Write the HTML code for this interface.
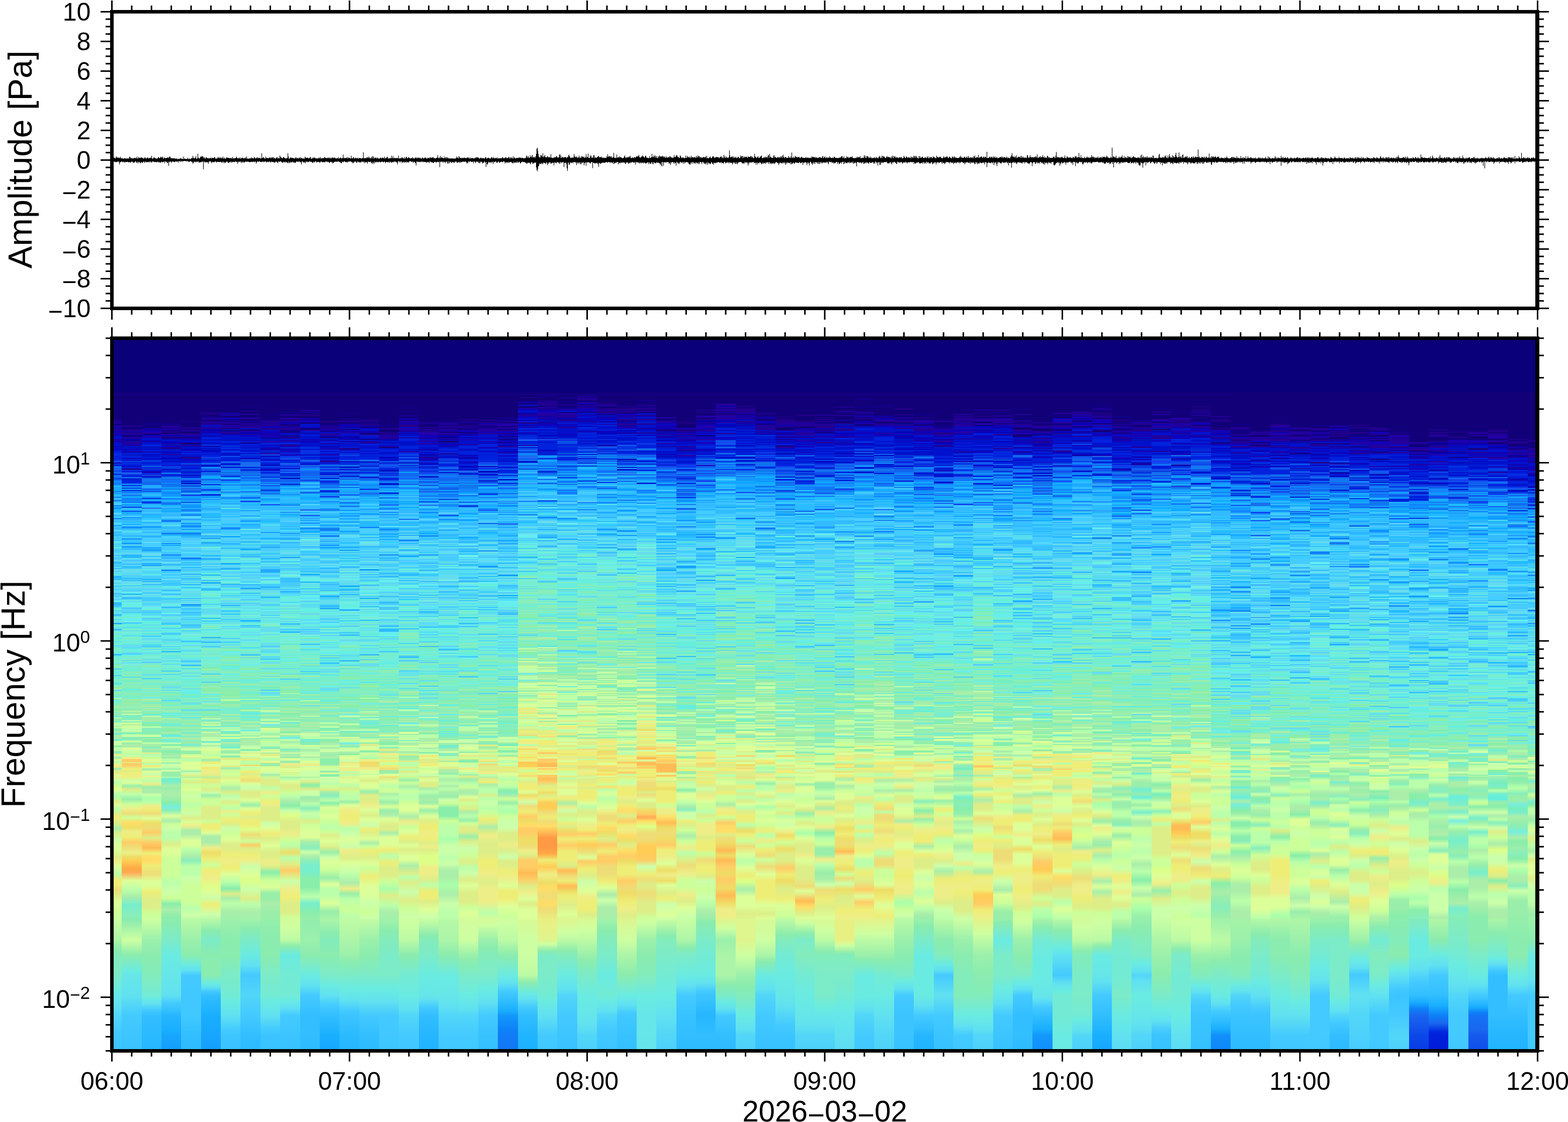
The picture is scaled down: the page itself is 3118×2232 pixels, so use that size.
<!DOCTYPE html>
<html><head><meta charset="utf-8"><style>
html,body{margin:0;padding:0;background:#fff;width:3118px;height:2232px;overflow:hidden}
#sp{position:absolute;left:0;top:676px;width:3118px;height:1411px}
#sp div{position:absolute;top:0;height:100%}
svg{position:absolute;left:0;top:0}
</style></head><body>
<div id="sp"><div style="left:222.5px;width:19.7px;background:linear-gradient(#0a0079 104px,#107 0 158px,#108 0 159px,#107 0 160px,#209 0 163px,#107 0 164px,#209 0 167px,#108 0 171px,#209 0 173px,#10a 0 175px,#10b 0 177px,#208 0 180px,#10b 0 183px,#209 0 185px,#10b 0 187px,#10a 0 191px,#01c 0 197px,#10b 0 198px,#209 0 201px,#10b 0 204px,#01c 0 212px,#10b 0 214px,#01c 0 216px,#10b 0 218px,#01c 0 222px,#02d 0 228px,#14e 0 229px,#02d 0 240px,#14e 0 244px,#20a 0 246px,#03d 0 249px,#01c 0 251px,#16e 0 253px,#17e 0 255px,#15e 0 257px,#16e 0 259px,#15e 0 261px,#02d 0 262px,#17e 0 264px,#15e 0 267px,#02d 0 269px,#17e 0 272px,#16e 0 275px,#03d 0 277px,#18f 0 278px,#02d 0 279px,#18f 0 285px,#17e 0 286px,#17f 0 288px,#19f 0 290px,#2bf 0 293px,#1af 0 295px,#2af 0 297px,#1af 0 301px,#17e 0 303px,#2af 0 305px,#19f 0 307px,#2bf 0 310px,#3bf 0 312px,#17f 0 314px,#2bf 0 316px,#3bf 0 319px,#16e 0 321px,#3bf 0 324px,#4cf 0 329px,#17e 0 331px,#2bf 0 333px,#18f 0 334px,#19f 0 337px,#2bf 0 339px,#3bf 0 340px,#2bf 0 344px,#5df 0 346px,#4cf 0 348px,#3bf 0 351px,#3cf 0 354px,#3bf 0 355px,#17e 0 357px,#4cf 0 359px,#3bf 0 362px,#4cf 0 365px,#5df 0 368px,#1af 0 370px,#3bf 0 372px,#4cf 0 373px,#3bf 0 378px,#6de 0 380px,#4cf 0 382px,#3bf 0 385px,#4cf 0 387px,#2bf 0 389px,#3bf 0 390px,#4cf 0 399px,#3bf 0 400px,#5df 0 402px,#6ee 0 403px,#5de 0 406px,#4cf 0 408px,#5de 0 410px,#4cf 0 412px,#6ed 0 414px,#5de 0 416px,#4cf 0 419px,#5cf 0 421px,#4cf 0 423px,#5de 0 426px,#6de 0 428px,#3bf 0 430px,#6de 0 432px,#4cf 0 435px,#5cf 0 438px,#6de 0 441px,#3bf 0 445px,#3cf 0 447px,#5cf 0 449px,#3bf 0 451px,#5df 0 454px,#3bf 0 456px,#6de 0 460px,#3bf 0 461px,#6de 0 465px,#4cf 0 466px,#6ed 0 468px,#6ee 0 469px,#3bf 0 471px,#2bf 0 474px,#3bf 0 478px,#6de 0 480px,#6ed 0 481px,#6de 0 483px,#5de 0 484px,#4cf 0 485px,#6de 0 488px,#5de 0 490px,#3bf 0 491px,#5de 0 493px,#6de 0 495px,#4cf 0 497px,#5df 0 499px,#6de 0 504px,#3bf 0 506px,#6de 0 507px,#5cf 0 510px,#4cf 0 511px,#5de 0 512px,#6de 0 515px,#5de 0 516px,#5cf 0 518px,#6ee 0 520px,#6ed 0 522px,#2bf 0 523px,#3bf 0 529px,#4cf 0 532px,#5de 0 533px,#6ed 0 539px,#2af 0 540px,#7ed 0 542px,#5de 0 544px,#6de 0 546px,#3bf 0 549px,#5de 0 550px,#6de 0 551px,#6ed 0 553px,#7ec 0 555px,#5de 0 558px,#7ed 0 560px,#6de 0 562px,#7ed 0 563px,#2af 0 566px,#7ec 0 569px,#6ed 0 572px,#6de 0 574px,#6ed 0 575px,#3bf 0 577px,#5cf 0 579px,#6ee 0 580px,#7ec 0 583px,#7ed 0 585px,#6de 0 586px,#6ed 0 588px,#8eb 0 590px,#6ed 0 597px,#7ec 0 599px,#6de 0 601px,#6ed 0 604px,#7ec 0 606px,#7ed 0 607px,#6de 0 610px,#6ed 0 611px,#6de 0 612px,#7ec 0 622px,#6ee 0 624px,#6ed 0 625px,#3bf 0 628px,#6ed 0 632px,#7ed 0 634px,#6ed 0 635px,#7ec 0 638px,#8eb 0 640px,#7ed 0 644px,#6de 0 645px,#8ea 0 646px,#7ec 0 648px,#9ea 0 650px,#8eb 0 653px,#7ed 0 654px,#4cf 0 656px,#8eb 0 658px,#6ed 0 665px,#7ec 0 667px,#4cf 0 669px,#7ec 0 672px,#6ed 0 675px,#8eb 0 677px,#7ec 0 680px,#8eb 0 681px,#6ed 0 683px,#5de 0 685px,#7ec 0 688px,#9ea 0 690px,#8ea 0 692px,#9ea 0 694px,#aea 0 696px,#6de 0 699px,#7ed 0 700px,#8ea 0 701px,#9ea 0 703px,#8eb 0 705px,#7ec 0 708px,#8eb 0 710px,#6ed 0 712px,#bfa 0 714px,#9ea 0 716px,#6ee 0 718px,#7ec 0 721px,#8eb 0 724px,#7ec 0 726px,#9ea 0 734px,#8ea 0 739px,#aea 0 741px,#6ed 0 742px,#9ea 0 745px,#8eb 0 749px,#6ed 0 751px,#bfa 0 753px,#9ea 0 757px,#8eb 0 759px,#7ec 0 761px,#bfa 0 768px,#aea 0 770px,#bfa 0 773px,#8ea 0 776px,#8eb 0 778px,#aea 0 782px,#7ec 0 786px,#aea 0 794px,#7ec 0 798px,#cfa 0 807px,#8ea 0 810px,#bfa 0 816px,#cf9 0 818px,#8eb 0 823px,#de8 0 826px,#cfa 0 829px,#aea 0 834px,#df9 0 837px,#cfa 0 839px,#bfa 0 842px,#df9 0 845px,#ee8 0 851px,#aea 0 856px,#de8 0 862px,#ee8 0 865px,#df9 0 869px,#ee8 869px,#cfa 876px,#bfa 882px,#df8 891px,#df9 896px,#bfa 903px,#afa 909px,#de8 918px,#df9 925px,#bfa 934px,#de8 943px,#ee7 950px,#de8 961px,#aea 972px,#de8 982px,#cfa 995px,#df9 1004px,#df9 1014px,#de8 1028px,#ee8 1037px,#df9 1047px,#bfa 1063px,#ee7 1074px,#ee7 1084px,#ed7 1094px,#de8 1105px,#df9 1119px,#cf9 1139px,#c8fea3 1154px,#acf5a8 1194px,#8aecae 1214px,#83ecbb 1224px,#7cebc8 1264px,#6aebe1 1291px,#66e6e8 1304px,#61e1f0 1324px,#52d6f8 1344px,#44caff 1373px,#40c8ff 1384px,#3dc5ff 1414px)"></div><div style="left:242.2px;width:39.4px;background:linear-gradient(#0a0079 104px,#107 0 170px,#208 0 171px,#209 0 173px,#107 0 174px,#108 0 175px,#107 0 178px,#208 0 180px,#209 0 182px,#10a 0 184px,#208 0 186px,#209 0 188px,#10a 0 190px,#107 0 193px,#10a 0 194px,#209 0 197px,#00b 0 199px,#108 0 201px,#01c 0 202px,#209 0 207px,#10b 0 209px,#209 0 211px,#01c 0 213px,#01b 0 215px,#01c 0 217px,#10b 0 219px,#01c 0 221px,#10a 0 223px,#10b 0 224px,#01c 0 226px,#02d 0 228px,#01b 0 230px,#02d 0 235px,#10b 0 237px,#02d 0 239px,#01c 0 241px,#14d 0 243px,#02d 0 245px,#03d 0 247px,#02d 0 250px,#01c 0 253px,#02d 0 256px,#209 0 259px,#15e 0 260px,#02d 0 264px,#26e 0 266px,#15e 0 268px,#02d 0 273px,#17e 0 275px,#03d 0 277px,#01c 0 278px,#02d 0 285px,#15e 0 287px,#19f 0 289px,#02d 0 291px,#19f 0 293px,#17e 0 295px,#02d 0 296px,#18f 0 297px,#19f 0 299px,#02d 0 301px,#18f 0 304px,#15e 0 305px,#2af 0 308px,#16e 0 310px,#19f 0 312px,#1af 0 315px,#17f 0 317px,#18f 0 319px,#17e 0 320px,#19f 0 322px,#16e 0 324px,#2bf 0 327px,#19f 0 330px,#2af 0 332px,#03d 0 334px,#2bf 0 335px,#3bf 0 338px,#2bf 0 340px,#14e 0 342px,#1af 0 344px,#2af 0 347px,#2bf 0 348px,#3bf 0 350px,#4cf 0 353px,#18f 0 355px,#3bf 0 357px,#2af 0 359px,#4cf 0 360px,#3bf 0 362px,#2bf 0 364px,#4cf 0 366px,#1af 0 368px,#4cf 0 371px,#19f 0 373px,#18f 0 375px,#3bf 0 378px,#4cf 0 380px,#5de 0 383px,#4cf 0 388px,#3bf 0 391px,#2bf 0 392px,#4cf 0 395px,#18f 0 397px,#3bf 0 399px,#3cf 0 402px,#3bf 0 404px,#19f 0 407px,#6de 0 409px,#3bf 0 411px,#19f 0 413px,#3bf 0 418px,#4cf 0 419px,#5de 0 421px,#4cf 0 423px,#6de 0 426px,#4cf 0 428px,#2af 0 429px,#2bf 0 432px,#3bf 0 434px,#4cf 0 435px,#6ee 0 437px,#3bf 0 438px,#5cf 0 440px,#3bf 0 441px,#6de 0 443px,#4cf 0 444px,#5cf 0 446px,#3bf 0 448px,#6de 0 450px,#2bf 0 452px,#4cf 0 453px,#3bf 0 455px,#5de 0 456px,#6de 0 463px,#5de 0 466px,#5cf 0 467px,#6de 0 469px,#3bf 0 470px,#5de 0 472px,#4cf 0 474px,#3bf 0 476px,#4cf 0 478px,#3bf 0 480px,#6de 0 486px,#6ed 0 488px,#4cf 0 490px,#6de 0 495px,#4cf 0 496px,#5de 0 498px,#4cf 0 500px,#6de 0 502px,#6ee 0 505px,#1af 0 507px,#6ed 0 508px,#6de 0 512px,#3bf 0 515px,#4cf 0 517px,#6ed 0 519px,#6de 0 522px,#6ee 0 525px,#6ed 0 528px,#6ee 0 530px,#6ed 0 532px,#5cf 0 534px,#4cf 0 536px,#6de 0 538px,#4cf 0 539px,#6de 0 541px,#3bf 0 542px,#5de 0 545px,#6ed 0 547px,#6ee 0 549px,#6ed 0 551px,#7ec 0 553px,#6ee 0 560px,#7ed 0 562px,#4cf 0 565px,#6ed 0 571px,#5de 0 573px,#6ed 0 575px,#7ec 0 578px,#6de 0 580px,#7ec 0 581px,#7ed 0 584px,#6ed 0 588px,#5de 0 590px,#7ed 0 592px,#7ec 0 598px,#6ee 0 600px,#7ec 0 603px,#6ed 0 606px,#6de 0 612px,#5df 0 614px,#6ed 0 618px,#7ed 0 619px,#6ed 0 621px,#6de 0 624px,#4cf 0 626px,#6ee 0 629px,#7ec 0 632px,#8eb 0 633px,#6ee 0 635px,#8ea 0 636px,#8eb 0 637px,#6de 0 639px,#7ec 0 640px,#6ed 0 642px,#6de 0 644px,#7ed 0 647px,#7ec 0 653px,#6ed 0 655px,#8eb 0 656px,#6ed 0 658px,#7ec 0 660px,#8eb 0 664px,#7ed 0 666px,#8ea 0 668px,#8eb 0 670px,#5de 0 672px,#8eb 0 677px,#8ea 0 678px,#6ed 0 680px,#8eb 0 686px,#7ec 0 687px,#8eb 0 692px,#8ea 0 693px,#7ec 0 695px,#6ed 0 697px,#8eb 0 698px,#7ec 0 701px,#8eb 0 705px,#8ea 0 706px,#8eb 0 708px,#7ec 0 711px,#8eb 0 713px,#6ee 0 714px,#9ea 0 719px,#8ea 0 721px,#9ea 0 725px,#8eb 0 726px,#9ea 0 728px,#8eb 0 730px,#aea 0 732px,#8eb 0 735px,#8ea 0 737px,#aea 0 739px,#bfa 0 740px,#9ea 0 744px,#cfa 0 746px,#8eb 0 748px,#7ec 0 751px,#8ea 0 753px,#8eb 0 757px,#cfa 0 759px,#7ec 0 761px,#cf9 0 765px,#aea 0 767px,#cf9 0 771px,#cfa 0 774px,#bfa 0 776px,#cfa 0 778px,#bfa 0 781px,#7eb 0 784px,#bfa 0 787px,#cfa 0 790px,#8ea 0 793px,#8eb 0 797px,#cf9 0 801px,#9ea 0 804px,#aea 0 811px,#df9 0 815px,#cfa 0 818px,#cf9 0 822px,#bfa 0 827px,#cf9 0 830px,#ee8 0 834px,#fc6 0 840px,#de8 0 842px,#fc6 0 848px,#ed7 0 851px,#ee7 0 857px,#de8 0 860px,#ee7 0 866px,#ee8 0 869px,#ee7 869px,#cfa 877px,#df9 882px,#9ea 887px,#de8 895px,#bfa 904px,#9ea 914px,#cf9 924px,#ee8 934px,#ed7 942px,#cf9 950px,#fd6 960px,#ed6 971px,#ee8 978px,#ee7 989px,#fc6 1000px,#ed7 1009px,#ee8 1021px,#ed6 1028px,#fc5 1037px,#fa4 1051px,#fa5 1060px,#df9 1076px,#bfa 1094px,#aea 1107px,#7ec 1124px,#8eb 1144px,#8aecae 1154px,#acf5a8 1174px,#cdffa2 1194px,#acf5a8 1209px,#8aecae 1224px,#7cebc8 1240px,#6aebe1 1256px,#66e6e8 1264px,#61e1f0 1304px,#44caff 1344px,#3dc5ff 1384px,#39c3ff 1414px)"></div><div style="left:281.6px;width:39.4px;background:linear-gradient(#0a0079 104px,#107 0 164px,#108 0 167px,#107 0 168px,#108 0 171px,#107 0 176px,#10b 0 178px,#107 0 179px,#10a 0 181px,#10b 0 183px,#20a 0 185px,#209 0 187px,#107 0 189px,#00b 0 191px,#20a 0 194px,#10b 0 195px,#01c 0 200px,#10a 0 203px,#01c 0 208px,#02d 0 212px,#01c 0 213px,#01b 0 215px,#01c 0 220px,#02d 0 222px,#10a 0 224px,#02d 0 227px,#00b 0 228px,#01c 0 233px,#02d 0 234px,#01c 0 239px,#02d 0 240px,#15e 0 241px,#03d 0 243px,#02d 0 245px,#01c 0 246px,#02d 0 248px,#03d 0 251px,#16e 0 253px,#02d 0 255px,#03d 0 258px,#02d 0 260px,#01c 0 262px,#10b 0 265px,#02d 0 267px,#15e 0 268px,#10b 0 269px,#15e 0 271px,#01c 0 274px,#15e 0 276px,#17e 0 283px,#16e 0 288px,#17e 0 289px,#2af 0 295px,#18f 0 296px,#16e 0 299px,#17f 0 301px,#15e 0 303px,#19f 0 304px,#2bf 0 305px,#2af 0 307px,#3bf 0 309px,#2bf 0 312px,#18f 0 315px,#03d 0 317px,#2bf 0 318px,#1af 0 319px,#2bf 0 320px,#18f 0 322px,#02d 0 324px,#15e 0 326px,#19f 0 327px,#2bf 0 330px,#3bf 0 332px,#2bf 0 334px,#26e 0 336px,#3bf 0 343px,#4cf 0 345px,#3bf 0 347px,#2af 0 349px,#2bf 0 354px,#3bf 0 356px,#3cf 0 359px,#5df 0 362px,#1af 0 363px,#3bf 0 366px,#4cf 0 370px,#3bf 0 371px,#19f 0 374px,#4cf 0 375px,#3bf 0 378px,#4cf 0 382px,#3bf 0 385px,#5df 0 386px,#4cf 0 389px,#3bf 0 391px,#2af 0 393px,#4cf 0 401px,#5cf 0 403px,#6ee 0 404px,#4cf 0 407px,#5cf 0 408px,#4cf 0 413px,#19f 0 415px,#3bf 0 417px,#19f 0 419px,#2af 0 421px,#4cf 0 424px,#6de 0 429px,#5de 0 430px,#3bf 0 432px,#5df 0 434px,#6de 0 436px,#3bf 0 438px,#4cf 0 441px,#5df 0 442px,#5de 0 444px,#2af 0 446px,#3bf 0 448px,#19f 0 450px,#6de 0 454px,#5de 0 457px,#6ee 0 459px,#4cf 0 461px,#5de 0 463px,#4cf 0 465px,#6ed 0 467px,#5df 0 471px,#3bf 0 473px,#6de 0 475px,#1af 0 477px,#4cf 0 479px,#3bf 0 482px,#6de 0 486px,#3bf 0 488px,#5de 0 493px,#6de 0 495px,#5cf 0 497px,#5df 0 499px,#6de 0 502px,#4cf 0 505px,#6de 0 510px,#5de 0 512px,#4cf 0 520px,#6de 0 522px,#5de 0 525px,#5cf 0 527px,#5df 0 529px,#6de 0 531px,#6ee 0 533px,#6ed 0 534px,#7ed 0 535px,#6ed 0 538px,#5cf 0 541px,#4cf 0 544px,#5de 0 547px,#4cf 0 548px,#6ee 0 551px,#6ed 0 553px,#5cf 0 556px,#5de 0 559px,#6ee 0 561px,#6ed 0 567px,#5cf 0 568px,#6ed 0 572px,#6de 0 575px,#6ed 0 578px,#5df 0 580px,#7ec 0 582px,#6ed 0 584px,#5de 0 586px,#7ec 0 588px,#4cf 0 591px,#6ee 0 593px,#6de 0 598px,#7ed 0 601px,#6de 0 603px,#6ed 0 606px,#4cf 0 608px,#6ed 0 609px,#4cf 0 612px,#7ec 0 615px,#6de 0 617px,#7ec 0 619px,#6ee 0 622px,#6de 0 625px,#6ed 0 627px,#7ec 0 629px,#7ed 0 632px,#7ec 0 635px,#6de 0 638px,#7ed 0 640px,#5cf 0 643px,#7ec 0 647px,#8eb 0 649px,#8ea 0 651px,#7ec 0 653px,#7ed 0 656px,#7ec 0 665px,#6de 0 668px,#7ec 0 670px,#8eb 0 671px,#7ec 0 673px,#4cf 0 675px,#7ed 0 676px,#7ec 0 678px,#8eb 0 682px,#7ec 0 684px,#6ed 0 685px,#8eb 0 686px,#7ec 0 688px,#8eb 0 691px,#7ec 0 692px,#9ea 0 695px,#7ed 0 697px,#8eb 0 701px,#6ee 0 702px,#8eb 0 704px,#7ec 0 706px,#8ea 0 708px,#8eb 0 710px,#7ed 0 714px,#aea 0 717px,#9ea 0 721px,#7ec 0 724px,#9ea 0 728px,#aea 0 731px,#7ec 0 732px,#aea 0 734px,#9ea 0 736px,#aea 0 738px,#6ee 0 739px,#9ea 0 741px,#8ea 0 743px,#9ea 0 744px,#6ed 0 747px,#9ea 0 748px,#bfa 0 750px,#aea 0 753px,#9ea 0 755px,#aea 0 758px,#9ea 0 761px,#7ec 0 763px,#8ea 0 769px,#bfa 0 772px,#8eb 0 781px,#8ea 0 785px,#bfa 0 787px,#cfa 0 790px,#8ea 0 793px,#aea 0 794px,#8ea 0 799px,#9ea 0 801px,#bfa 0 804px,#aea 0 807px,#9ea 0 810px,#8eb 0 813px,#aea 0 816px,#9ea 0 821px,#ee8 0 823px,#bfa 0 830px,#cf9 0 834px,#df9 0 840px,#de8 0 842px,#bfa 0 846px,#ee7 0 850px,#df9 0 852px,#aea 0 857px,#df9 0 862px,#cfa 0 867px,#ee8 0 869px,#df9 869px,#bfa 877px,#ee8 884px,#9ea 890px,#aea 895px,#aea 900px,#cfa 905px,#afa 911px,#bfa 920px,#ee8 927px,#ee7 933px,#ed7 942px,#df9 952px,#ed6 961px,#ed7 971px,#fc6 980px,#de8 991px,#fc6 1000px,#fb5 1011px,#ee7 1021px,#fd6 1030px,#fd6 1038px,#ee7 1046px,#ed7 1063px,#df9 1077px,#df9 1086px,#ee7 1099px,#de8 1112px,#de8 1126px,#cf9 1144px,#cbfea2 1154px,#acf5a8 1180px,#9bf0ab 1194px,#8aecae 1224px,#83ecbb 1264px,#7cebc8 1284px,#73ebd4 1304px,#6aebe1 1310px,#61e1f0 1321px,#44caff 1333px,#32beff 1344px,#2abaff 1384px,#26b6ff 1414px)"></div><div style="left:320.9px;width:39.4px;background:linear-gradient(#0a0079 104px,#107 0 167px,#10a 0 168px,#107 0 170px,#209 0 175px,#108 0 177px,#20a 0 179px,#108 0 182px,#208 0 185px,#107 0 187px,#209 0 189px,#10b 0 190px,#00b 0 192px,#208 0 194px,#107 0 196px,#10a 0 198px,#01b 0 199px,#01c 0 202px,#00b 0 204px,#10b 0 205px,#10a 0 207px,#01b 0 210px,#209 0 211px,#01c 0 212px,#10b 0 214px,#208 0 217px,#01c 0 219px,#02d 0 220px,#01c 0 224px,#00b 0 226px,#02d 0 227px,#209 0 229px,#01c 0 235px,#00b 0 238px,#02d 0 239px,#01c 0 244px,#02d 0 250px,#10b 0 251px,#14e 0 253px,#03d 0 255px,#16e 0 256px,#01c 0 258px,#02c 0 259px,#01c 0 260px,#03d 0 261px,#02d 0 264px,#17e 0 267px,#02d 0 272px,#17e 0 278px,#15e 0 279px,#17f 0 282px,#16e 0 284px,#18f 0 287px,#16e 0 289px,#17e 0 293px,#19f 0 296px,#17e 0 298px,#1af 0 302px,#18f 0 307px,#19f 0 312px,#2bf 0 315px,#17f 0 317px,#19f 0 319px,#2bf 0 322px,#18f 0 325px,#16e 0 326px,#17e 0 328px,#1af 0 330px,#2bf 0 331px,#3bf 0 334px,#2af 0 336px,#1af 0 338px,#3bf 0 339px,#1af 0 342px,#2af 0 343px,#3bf 0 350px,#2af 0 351px,#5cf 0 353px,#4cf 0 356px,#2af 0 359px,#16e 0 361px,#19f 0 363px,#4cf 0 368px,#5de 0 371px,#3bf 0 377px,#4cf 0 379px,#3bf 0 384px,#17e 0 387px,#2bf 0 391px,#5df 0 393px,#4cf 0 400px,#3bf 0 402px,#5de 0 404px,#18f 0 406px,#3bf 0 408px,#1af 0 410px,#4cf 0 419px,#5de 0 421px,#4cf 0 424px,#3bf 0 425px,#4cf 0 427px,#17f 0 429px,#3bf 0 436px,#4cf 0 437px,#5cf 0 439px,#3bf 0 441px,#6de 0 445px,#4cf 0 446px,#3bf 0 449px,#4cf 0 450px,#5de 0 451px,#6de 0 453px,#5de 0 457px,#18f 0 460px,#4cf 0 462px,#3cf 0 464px,#6de 0 466px,#3bf 0 467px,#4cf 0 470px,#5df 0 472px,#4cf 0 475px,#6de 0 478px,#4cf 0 485px,#2bf 0 486px,#4cf 0 490px,#6ee 0 493px,#5de 0 495px,#6de 0 497px,#3bf 0 499px,#4cf 0 500px,#5df 0 502px,#6ee 0 504px,#4cf 0 506px,#3bf 0 507px,#4cf 0 508px,#6de 0 510px,#6ed 0 513px,#4cf 0 518px,#5de 0 521px,#4cf 0 522px,#6de 0 525px,#6ed 0 526px,#6ee 0 529px,#6de 0 531px,#2bf 0 533px,#5cf 0 535px,#6ee 0 536px,#5de 0 539px,#6de 0 541px,#5de 0 543px,#6ee 0 546px,#5cf 0 547px,#4cf 0 549px,#6de 0 552px,#6ed 0 554px,#6de 0 558px,#5df 0 560px,#6de 0 562px,#4cf 0 564px,#3cf 0 567px,#7ec 0 570px,#6ed 0 573px,#4cf 0 575px,#6ee 0 578px,#6de 0 579px,#6ed 0 582px,#5df 0 583px,#4cf 0 587px,#6ed 0 590px,#6ee 0 593px,#6de 0 594px,#6ed 0 596px,#4cf 0 598px,#6ed 0 599px,#6de 0 602px,#6ed 0 605px,#5de 0 606px,#7ed 0 609px,#6de 0 610px,#4cf 0 611px,#6ed 0 614px,#6de 0 615px,#4cf 0 616px,#7ec 0 619px,#2bf 0 621px,#5de 0 623px,#7ec 0 628px,#5de 0 629px,#6ed 0 632px,#6de 0 634px,#7ed 0 637px,#6de 0 640px,#6ed 0 643px,#7ec 0 645px,#4cf 0 646px,#7ed 0 651px,#7ec 0 654px,#6ed 0 656px,#7ec 0 658px,#4cf 0 660px,#7ec 0 662px,#8eb 0 664px,#6de 0 665px,#5de 0 667px,#7ed 0 670px,#7ec 0 674px,#6ed 0 676px,#7ec 0 678px,#7ed 0 680px,#8eb 0 683px,#7ec 0 688px,#6de 0 689px,#7ec 0 690px,#6de 0 693px,#7ec 0 695px,#7ed 0 697px,#4cf 0 698px,#8eb 0 700px,#7ec 0 703px,#7eb 0 705px,#9ea 0 707px,#7ec 0 711px,#8eb 0 713px,#6ed 0 714px,#7eb 0 716px,#6de 0 717px,#5df 0 719px,#7ec 0 722px,#8eb 0 723px,#8ea 0 725px,#7ec 0 728px,#8eb 0 730px,#9ea 0 732px,#8eb 0 735px,#7ec 0 737px,#aea 0 739px,#8eb 0 742px,#6ed 0 744px,#7ed 0 746px,#6ed 0 748px,#8ea 0 749px,#7ec 0 752px,#aea 0 754px,#9ea 0 758px,#7ec 0 759px,#9ea 0 762px,#7ec 0 765px,#6ed 0 767px,#7ec 0 769px,#9ea 0 773px,#8ea 0 780px,#aea 0 782px,#9ea 0 785px,#6ed 0 790px,#aea 0 794px,#7ec 0 799px,#7ed 0 801px,#bfa 0 804px,#8ea 0 808px,#bfa 0 812px,#aea 0 816px,#8eb 0 818px,#8ea 0 822px,#9ea 0 826px,#aea 0 830px,#9ea 0 833px,#bfa 0 838px,#cf9 0 841px,#8eb 0 843px,#cfa 0 849px,#bfa 0 853px,#9ea 0 855px,#cfa 0 859px,#9ea 0 869px,#bfa 869px,#7ec 873px,#7ec 879px,#aea 887px,#9ea 893px,#aea 899px,#aea 904px,#9ea 914px,#8ea 920px,#7ed 929px,#8eb 936px,#df9 947px,#aea 957px,#cf9 964px,#cfa 973px,#bfa 979px,#bfa 991px,#de8 1004px,#df9 1013px,#df9 1022px,#cf9 1032px,#cf9 1041px,#cf9 1051px,#cf9 1064px,#bfa 1080px,#cfa 1096px,#cf9 1111px,#8ea 1122px,#aea 1133px,#8ea 1150px,#8fedad 1154px,#8aecae 1159px,#7cebc8 1194px,#6aebe1 1224px,#66e6e8 1264px,#61e1f0 1304px,#44caff 1320px,#32beff 1336px,#26b6ff 1344px,#19afff 1373px,#17a6fe 1384px,#149dfc 1414px)"></div><div style="left:360.3px;width:39.4px;background:linear-gradient(#0a0079 104px,#107 0 161px,#208 0 163px,#107 0 174px,#209 0 177px,#107 0 179px,#209 0 182px,#108 0 183px,#107 0 186px,#209 0 190px,#10a 0 194px,#107 0 196px,#10b 0 200px,#01c 0 203px,#10b 0 205px,#107 0 208px,#01c 0 209px,#209 0 212px,#01c 0 217px,#00b 0 218px,#10b 0 221px,#02d 0 223px,#01c 0 225px,#02d 0 228px,#10b 0 229px,#02d 0 230px,#01c 0 233px,#208 0 236px,#01c 0 238px,#10b 0 240px,#01c 0 244px,#02d 0 246px,#15e 0 248px,#20a 0 249px,#02d 0 255px,#01c 0 257px,#03d 0 262px,#01c 0 264px,#02d 0 265px,#03d 0 268px,#02d 0 269px,#01c 0 271px,#03d 0 273px,#02d 0 275px,#18f 0 277px,#16e 0 280px,#02d 0 283px,#17e 0 284px,#01c 0 287px,#17e 0 290px,#03d 0 292px,#19f 0 294px,#26e 0 297px,#17e 0 299px,#16e 0 302px,#02d 0 303px,#19f 0 305px,#3bf 0 307px,#17e 0 308px,#14e 0 311px,#1af 0 313px,#19f 0 317px,#18f 0 320px,#2bf 0 322px,#03d 0 323px,#17e 0 325px,#3bf 0 327px,#19f 0 332px,#18f 0 333px,#19f 0 335px,#2bf 0 337px,#17f 0 339px,#18f 0 342px,#4cf 0 344px,#3bf 0 346px,#19f 0 348px,#17e 0 350px,#4cf 0 353px,#5df 0 356px,#16e 0 357px,#3bf 0 360px,#4cf 0 363px,#3bf 0 365px,#16e 0 366px,#2bf 0 369px,#18f 0 373px,#3bf 0 377px,#19f 0 379px,#5de 0 381px,#2bf 0 384px,#17e 0 386px,#19f 0 388px,#2af 0 391px,#3bf 0 394px,#4cf 0 398px,#5cf 0 401px,#6de 0 402px,#4cf 0 404px,#5df 0 406px,#4cf 0 412px,#6de 0 415px,#5cf 0 418px,#4cf 0 422px,#5df 0 425px,#4cf 0 432px,#6de 0 433px,#17f 0 436px,#19f 0 437px,#3bf 0 440px,#5df 0 442px,#3bf 0 444px,#4cf 0 447px,#3bf 0 449px,#5df 0 452px,#2bf 0 454px,#5cf 0 457px,#4cf 0 461px,#6de 0 462px,#5df 0 464px,#6de 0 465px,#3bf 0 468px,#6de 0 470px,#4cf 0 472px,#5de 0 474px,#3bf 0 476px,#4cf 0 479px,#6de 0 480px,#6ee 0 481px,#4cf 0 483px,#6de 0 486px,#2bf 0 488px,#5cf 0 489px,#6ee 0 491px,#4cf 0 492px,#3cf 0 494px,#5de 0 496px,#6ee 0 499px,#6de 0 504px,#5de 0 507px,#6de 0 509px,#5de 0 512px,#6ee 0 514px,#19f 0 515px,#6de 0 518px,#4cf 0 519px,#5de 0 520px,#6de 0 526px,#18f 0 528px,#2bf 0 531px,#6de 0 534px,#3bf 0 535px,#4cf 0 538px,#5df 0 541px,#3bf 0 543px,#4cf 0 549px,#6ed 0 550px,#6ee 0 551px,#4cf 0 552px,#6de 0 554px,#4cf 0 557px,#5de 0 561px,#6de 0 562px,#5de 0 565px,#6ed 0 566px,#3bf 0 568px,#4cf 0 573px,#6de 0 575px,#7ec 0 577px,#7ed 0 578px,#4cf 0 580px,#6ed 0 582px,#6de 0 584px,#7ed 0 587px,#6ee 0 588px,#7ec 0 591px,#6ee 0 594px,#6ed 0 597px,#6ee 0 598px,#4cf 0 602px,#6ed 0 605px,#6ee 0 607px,#6de 0 610px,#7ec 0 613px,#6ee 0 615px,#7ed 0 616px,#6de 0 618px,#5de 0 620px,#6ed 0 622px,#7ed 0 625px,#5de 0 626px,#7ec 0 631px,#6ed 0 635px,#6de 0 638px,#4cf 0 641px,#6de 0 643px,#7ed 0 645px,#6de 0 646px,#4cf 0 647px,#3bf 0 649px,#6ed 0 650px,#8eb 0 652px,#6ed 0 654px,#4cf 0 655px,#7ec 0 656px,#7ed 0 659px,#7ec 0 662px,#6de 0 664px,#7ec 0 667px,#7ed 0 668px,#6de 0 670px,#7ec 0 672px,#7ed 0 675px,#6ed 0 677px,#7ec 0 680px,#6ed 0 682px,#7ec 0 686px,#6ed 0 688px,#7ec 0 692px,#8eb 0 693px,#6de 0 695px,#7ec 0 697px,#6ee 0 703px,#6ed 0 705px,#7eb 0 708px,#6ed 0 712px,#8eb 0 715px,#7ec 0 718px,#8eb 0 720px,#7ec 0 722px,#6de 0 724px,#6ed 0 727px,#9ea 0 730px,#8eb 0 732px,#8ea 0 735px,#6de 0 738px,#7ec 0 741px,#9ea 0 742px,#7eb 0 745px,#7ed 0 748px,#9ea 0 750px,#6ed 0 752px,#6de 0 753px,#9ea 0 754px,#8eb 0 757px,#9ea 0 759px,#8ea 0 760px,#8eb 0 762px,#9ea 0 766px,#7ec 0 769px,#9ea 0 775px,#6ed 0 776px,#9ea 0 780px,#7ec 0 783px,#8eb 0 785px,#aea 0 787px,#8eb 0 791px,#aea 0 796px,#8eb 0 799px,#9ea 0 804px,#7ec 0 808px,#aea 0 811px,#cf9 0 814px,#cfa 0 817px,#9ea 0 822px,#8ea 0 824px,#cf9 0 827px,#df9 0 830px,#de8 0 832px,#bfa 0 839px,#df9 0 855px,#bfa 0 857px,#aea 0 860px,#cfa 0 865px,#de8 0 869px,#aea 869px,#cf9 873px,#de8 880px,#cf9 885px,#df9 894px,#cf9 901px,#cfa 908px,#cf9 916px,#bfa 925px,#cf9 935px,#cfa 941px,#de8 952px,#df9 959px,#ee8 967px,#aea 976px,#aea 983px,#df9 996px,#df9 1005px,#bfa 1014px,#aea 1027px,#8eb 1036px,#bfa 1047px,#bfa 1063px,#cfa 1071px,#cf9 1088px,#cf9 1102px,#cf9 1118px,#bfa 1131px,#cfa 1145px,#b8f9a6 1154px,#acf5a8 1171px,#9bf0ab 1194px,#8aecae 1224px,#7cebc8 1234px,#6aebe1 1244px,#61e1f0 1254px,#44caff 1264px,#40c8ff 1304px,#40c8ff 1344px,#32beff 1384px,#2dbbff 1414px)"></div><div style="left:399.7px;width:39.4px;background:linear-gradient(#0a0079 104px,#107 0 144px,#208 0 147px,#108 0 148px,#208 0 149px,#107 0 152px,#108 0 155px,#209 0 159px,#107 0 162px,#209 0 166px,#208 0 168px,#209 0 169px,#01c 0 171px,#20a 0 172px,#01c 0 174px,#209 0 178px,#00b 0 181px,#10a 0 184px,#10b 0 186px,#01c 0 191px,#108 0 192px,#01c 0 194px,#02d 0 197px,#01c 0 201px,#02d 0 203px,#01c 0 208px,#03d 0 211px,#10a 0 213px,#02d 0 215px,#01b 0 217px,#01c 0 220px,#00b 0 222px,#01c 0 225px,#02d 0 227px,#01c 0 229px,#02d 0 233px,#14e 0 235px,#03d 0 239px,#01c 0 240px,#02d 0 244px,#14e 0 246px,#17e 0 248px,#01c 0 251px,#02d 0 253px,#19f 0 256px,#14e 0 258px,#16e 0 260px,#02d 0 263px,#16e 0 269px,#18f 0 271px,#1af 0 276px,#17e 0 278px,#15e 0 280px,#2bf 0 281px,#18f 0 285px,#2af 0 287px,#02d 0 289px,#19f 0 291px,#2af 0 293px,#19f 0 296px,#17e 0 298px,#02d 0 300px,#1af 0 302px,#17e 0 303px,#2bf 0 305px,#2af 0 307px,#02d 0 310px,#19f 0 315px,#3bf 0 317px,#16e 0 318px,#3bf 0 319px,#2bf 0 324px,#3bf 0 327px,#3cf 0 330px,#3bf 0 335px,#2af 0 338px,#3bf 0 341px,#4cf 0 344px,#3bf 0 346px,#2bf 0 351px,#3bf 0 353px,#19f 0 354px,#4cf 0 357px,#2bf 0 359px,#3bf 0 361px,#4cf 0 364px,#3cf 0 365px,#5de 0 368px,#3bf 0 370px,#4cf 0 374px,#5cf 0 376px,#2bf 0 379px,#4cf 0 380px,#3bf 0 384px,#4cf 0 386px,#6de 0 389px,#2af 0 391px,#3cf 0 392px,#3bf 0 395px,#17f 0 396px,#5de 0 402px,#2af 0 405px,#3bf 0 407px,#4cf 0 410px,#2bf 0 411px,#6ed 0 414px,#6de 0 417px,#5df 0 420px,#3bf 0 421px,#5de 0 423px,#5cf 0 425px,#6de 0 426px,#5de 0 428px,#2bf 0 431px,#6de 0 432px,#5cf 0 435px,#19f 0 437px,#5de 0 438px,#3bf 0 439px,#5de 0 442px,#6de 0 444px,#4cf 0 448px,#6de 0 451px,#2bf 0 452px,#6de 0 454px,#4cf 0 456px,#3bf 0 458px,#4cf 0 459px,#5df 0 462px,#5de 0 464px,#6ed 0 467px,#1af 0 469px,#6ed 0 471px,#5de 0 472px,#7ed 0 476px,#6ee 0 478px,#3bf 0 480px,#7ec 0 482px,#1af 0 485px,#6de 0 490px,#6ee 0 493px,#4cf 0 495px,#3bf 0 498px,#2bf 0 499px,#6ed 0 502px,#6ee 0 504px,#7ed 0 505px,#7ec 0 508px,#6ed 0 513px,#5cf 0 514px,#6de 0 516px,#6ed 0 525px,#4cf 0 527px,#6ed 0 529px,#6de 0 530px,#6ee 0 532px,#7ed 0 534px,#6de 0 537px,#5de 0 539px,#6de 0 541px,#5de 0 543px,#6de 0 547px,#7ed 0 549px,#6ee 0 551px,#7ec 0 553px,#2bf 0 555px,#6ed 0 556px,#7ed 0 558px,#4cf 0 561px,#6ed 0 563px,#5de 0 565px,#7ed 0 568px,#6ed 0 569px,#8eb 0 571px,#7ec 0 576px,#5df 0 578px,#7ed 0 580px,#6ee 0 582px,#6ed 0 583px,#7ec 0 585px,#6ee 0 587px,#7ec 0 591px,#3bf 0 594px,#7ec 0 596px,#6de 0 599px,#6ee 0 600px,#3bf 0 603px,#6ed 0 606px,#6de 0 608px,#7ed 0 609px,#4cf 0 612px,#7ec 0 615px,#8eb 0 617px,#7ec 0 625px,#6de 0 626px,#9ea 0 627px,#7ec 0 630px,#8eb 0 631px,#6ee 0 634px,#7ed 0 636px,#7ec 0 641px,#7ed 0 644px,#8eb 0 645px,#7ec 0 650px,#7eb 0 653px,#8ea 0 655px,#9ea 0 657px,#8ea 0 659px,#7ed 0 661px,#7ec 0 663px,#7ed 0 664px,#4cf 0 666px,#9ea 0 668px,#7ec 0 670px,#9ea 0 672px,#7ec 0 675px,#8eb 0 676px,#6ed 0 678px,#8eb 0 680px,#4cf 0 682px,#8eb 0 684px,#7ec 0 685px,#8ea 0 687px,#8eb 0 690px,#9ea 0 693px,#8ea 0 699px,#8eb 0 701px,#9ea 0 704px,#6ee 0 707px,#8ea 0 708px,#7ec 0 711px,#9ea 0 713px,#6ee 0 715px,#7ec 0 717px,#8eb 0 719px,#6de 0 720px,#7ed 0 723px,#aea 0 725px,#8ea 0 729px,#6ed 0 730px,#8eb 0 732px,#aea 0 733px,#7ec 0 735px,#6de 0 738px,#8ea 0 744px,#7ec 0 746px,#7eb 0 748px,#9ea 0 753px,#cfa 0 755px,#7ec 0 759px,#aea 0 761px,#bfa 0 763px,#9ea 0 765px,#cf9 0 768px,#7ec 0 771px,#bfa 0 774px,#7ec 0 777px,#9ea 0 780px,#cfa 0 782px,#aea 0 790px,#bfa 0 794px,#cfa 0 798px,#7ec 0 802px,#cfa 0 806px,#aea 0 809px,#cfa 0 813px,#df9 0 818px,#cf9 0 824px,#bfa 0 827px,#cf9 0 831px,#df8 0 833px,#aea 0 839px,#ee7 0 844px,#df9 0 849px,#ee7 0 855px,#ee8 0 864px,#de8 0 869px,#aea 869px,#ee7 875px,#de8 880px,#cf9 887px,#de8 895px,#cfa 901px,#9ea 906px,#cf9 914px,#cf9 924px,#de8 930px,#de8 940px,#de8 951px,#cf9 957px,#ee7 965px,#ee7 972px,#df9 981px,#aea 988px,#aea 1000px,#ee8 1011px,#ed6 1020px,#ee7 1032px,#cf9 1045px,#ee7 1055px,#ee8 1071px,#df8 1088px,#df9 1099px,#cfa 1110px,#ee7 1123px,#cfa 1143px,#b5f8a6 1154px,#acf5a8 1159px,#8aecae 1176px,#7cebc8 1194px,#8aecae 1224px,#8aecae 1264px,#7cebc8 1272px,#6aebe1 1280px,#61e1f0 1288px,#44caff 1296px,#32beff 1304px,#19afff 1344px,#17a6fe 1384px,#149dfc 1414px)"></div><div style="left:439.1px;width:39.4px;background:linear-gradient(#0a0079 104px,#107 0 145px,#10a 0 147px,#208 0 149px,#10b 0 151px,#107 0 155px,#10b 0 158px,#107 0 159px,#10a 0 161px,#107 0 163px,#209 0 166px,#20a 0 167px,#107 0 169px,#209 0 170px,#20a 0 172px,#10a 0 173px,#209 0 176px,#108 0 178px,#01b 0 180px,#107 0 182px,#01b 0 183px,#209 0 187px,#10a 0 189px,#01c 0 199px,#01b 0 201px,#02d 0 205px,#01c 0 209px,#02d 0 211px,#03d 0 213px,#02d 0 216px,#14e 0 217px,#01c 0 219px,#02d 0 222px,#14e 0 224px,#01c 0 231px,#15e 0 233px,#02d 0 237px,#01c 0 238px,#02d 0 242px,#17e 0 244px,#14e 0 246px,#01c 0 249px,#16e 0 251px,#15e 0 253px,#01c 0 255px,#17e 0 257px,#17f 0 258px,#16e 0 260px,#19f 0 262px,#16e 0 264px,#17e 0 268px,#16e 0 270px,#15e 0 271px,#02d 0 273px,#1af 0 275px,#2bf 0 277px,#15e 0 279px,#14e 0 281px,#19f 0 283px,#17e 0 284px,#1af 0 287px,#2bf 0 288px,#17e 0 290px,#2bf 0 292px,#2af 0 294px,#2bf 0 296px,#1af 0 299px,#3bf 0 302px,#17e 0 304px,#2af 0 306px,#2bf 0 308px,#4cf 0 311px,#3bf 0 313px,#18f 0 316px,#2af 0 318px,#3bf 0 321px,#2bf 0 323px,#3bf 0 325px,#2af 0 328px,#5de 0 329px,#4cf 0 332px,#3bf 0 334px,#5de 0 337px,#2bf 0 339px,#3bf 0 344px,#4cf 0 346px,#3bf 0 348px,#4cf 0 351px,#2bf 0 353px,#5cf 0 355px,#4cf 0 357px,#5cf 0 359px,#4cf 0 366px,#2bf 0 368px,#4cf 0 370px,#2bf 0 371px,#4cf 0 373px,#17e 0 374px,#18f 0 377px,#3bf 0 379px,#5cf 0 381px,#3cf 0 384px,#5df 0 385px,#4cf 0 388px,#6de 0 390px,#1af 0 393px,#4cf 0 395px,#6de 0 396px,#5cf 0 399px,#4cf 0 405px,#2af 0 407px,#4cf 0 410px,#5de 0 412px,#4cf 0 414px,#3bf 0 416px,#5de 0 420px,#6de 0 423px,#5de 0 428px,#4cf 0 431px,#5cf 0 432px,#6ed 0 435px,#4cf 0 437px,#6ee 0 439px,#5de 0 441px,#6ed 0 444px,#18f 0 445px,#2bf 0 448px,#6de 0 451px,#5cf 0 453px,#4cf 0 455px,#19f 0 457px,#6ed 0 460px,#4cf 0 461px,#5df 0 463px,#5cf 0 465px,#6de 0 468px,#5de 0 470px,#4cf 0 472px,#7ed 0 474px,#6de 0 476px,#5de 0 479px,#6ee 0 483px,#7ec 0 485px,#3bf 0 488px,#5cf 0 491px,#4cf 0 493px,#6ed 0 495px,#6de 0 497px,#5de 0 499px,#6ee 0 502px,#6ed 0 505px,#4cf 0 506px,#6ed 0 508px,#4cf 0 510px,#6de 0 512px,#5df 0 514px,#7ec 0 517px,#6de 0 522px,#6ed 0 523px,#4cf 0 525px,#6de 0 527px,#3bf 0 530px,#6ed 0 532px,#4cf 0 533px,#7ec 0 535px,#6ed 0 538px,#3bf 0 539px,#4cf 0 542px,#6ed 0 544px,#4cf 0 546px,#2bf 0 547px,#6ed 0 549px,#6de 0 553px,#6ed 0 555px,#4cf 0 558px,#6ee 0 559px,#5de 0 562px,#7ec 0 563px,#6de 0 565px,#7ed 0 569px,#6ed 0 570px,#5df 0 572px,#6ed 0 573px,#6de 0 576px,#7ed 0 579px,#6ed 0 584px,#7ed 0 585px,#6ed 0 587px,#7ec 0 589px,#6ee 0 590px,#6ed 0 593px,#5cf 0 595px,#6de 0 596px,#7ec 0 598px,#6ee 0 599px,#6de 0 601px,#4cf 0 603px,#6ed 0 606px,#6de 0 609px,#8eb 0 611px,#6de 0 613px,#7eb 0 616px,#8eb 0 618px,#7eb 0 620px,#6ee 0 622px,#7ed 0 624px,#6ee 0 626px,#7ec 0 629px,#6ed 0 630px,#8ea 0 633px,#7ec 0 634px,#8eb 0 640px,#7ec 0 643px,#6ed 0 645px,#9ea 0 646px,#7eb 0 649px,#6ed 0 655px,#7ec 0 659px,#8eb 0 663px,#7ec 0 664px,#7ed 0 665px,#6ed 0 667px,#8eb 0 668px,#7ed 0 671px,#7ec 0 674px,#8eb 0 676px,#7ec 0 677px,#6ed 0 679px,#7ec 0 680px,#8eb 0 681px,#9ea 0 683px,#8ea 0 684px,#7ed 0 686px,#8eb 0 689px,#7ec 0 691px,#8ea 0 694px,#8eb 0 696px,#8ea 0 699px,#9ea 0 700px,#8ea 0 702px,#9ea 0 703px,#8ea 0 709px,#9ea 0 712px,#8eb 0 715px,#bfa 0 718px,#9ea 0 719px,#8ea 0 722px,#7eb 0 724px,#9ea 0 729px,#8eb 0 733px,#7ec 0 744px,#aea 0 746px,#9ea 0 748px,#7ec 0 751px,#aea 0 753px,#8eb 0 756px,#aea 0 759px,#8eb 0 762px,#8ea 0 763px,#8eb 0 769px,#7ec 0 771px,#cfa 0 773px,#7ec 0 774px,#bfa 0 778px,#7ed 0 780px,#7eb 0 784px,#bfa 0 786px,#cf9 0 788px,#7ec 0 790px,#cf9 0 794px,#7ec 0 800px,#aea 0 804px,#8eb 0 809px,#7ec 0 813px,#cf9 0 816px,#aea 0 818px,#9ea 0 823px,#cfa 0 827px,#8ea 0 831px,#de8 0 836px,#df9 0 847px,#de8 0 850px,#aea 0 855px,#cf9 0 863px,#df9 0 865px,#cf9 0 869px,#de8 869px,#df9 877px,#cf9 884px,#aea 892px,#de8 900px,#bfa 908px,#cfa 913px,#de8 919px,#cf9 927px,#bfa 932px,#ee8 938px,#cf9 944px,#ee7 955px,#de8 964px,#cfa 971px,#cf9 982px,#df9 994px,#de8 1003px,#de8 1012px,#ee7 1023px,#ee8 1036px,#ee7 1051px,#df9 1063px,#bfa 1078px,#8ea 1092px,#de8 1102px,#aea 1111px,#bfa 1122px,#aea 1136px,#9df1ab 1154px,#8aecae 1194px,#8aecae 1224px,#7cebc8 1264px,#73ebd4 1304px,#6aebe1 1317px,#61e1f0 1344px,#44caff 1373px,#3dc5ff 1384px,#39c3ff 1414px)"></div><div style="left:478.4px;width:39.4px;background:linear-gradient(#0a0079 104px,#107 0 134px,#108 0 135px,#107 0 141px,#208 0 143px,#107 0 147px,#209 0 149px,#107 0 154px,#209 0 158px,#107 0 160px,#108 0 163px,#20a 0 164px,#107 0 166px,#20a 0 167px,#209 0 169px,#107 0 170px,#209 0 176px,#01c 0 178px,#107 0 181px,#20a 0 183px,#10a 0 185px,#00b 0 187px,#209 0 189px,#01c 0 190px,#10b 0 192px,#01c 0 201px,#20a 0 202px,#02d 0 204px,#108 0 206px,#01c 0 208px,#02d 0 210px,#01c 0 212px,#02d 0 213px,#01c 0 215px,#01b 0 216px,#02d 0 219px,#01c 0 222px,#02d 0 223px,#01c 0 224px,#14e 0 225px,#01c 0 227px,#03d 0 231px,#02d 0 235px,#01c 0 236px,#10b 0 238px,#16e 0 240px,#02d 0 242px,#16e 0 245px,#17e 0 246px,#26e 0 249px,#17e 0 251px,#16e 0 253px,#02d 0 255px,#14e 0 256px,#16e 0 258px,#01c 0 260px,#15e 0 262px,#16e 0 265px,#17e 0 267px,#16e 0 268px,#17e 0 270px,#14e 0 271px,#19f 0 273px,#16e 0 277px,#18f 0 279px,#17e 0 281px,#19f 0 283px,#2af 0 286px,#19f 0 288px,#17e 0 290px,#2af 0 293px,#18f 0 294px,#2bf 0 295px,#19f 0 297px,#2bf 0 301px,#18f 0 302px,#14e 0 303px,#2af 0 305px,#1af 0 306px,#3bf 0 309px,#2af 0 312px,#19f 0 313px,#16e 0 316px,#1af 0 317px,#2bf 0 319px,#3bf 0 320px,#14e 0 323px,#2bf 0 324px,#3bf 0 325px,#2bf 0 329px,#2af 0 330px,#3bf 0 334px,#2bf 0 335px,#3bf 0 337px,#4cf 0 339px,#19f 0 341px,#4cf 0 344px,#3bf 0 345px,#4cf 0 349px,#2af 0 352px,#5de 0 355px,#4cf 0 356px,#3bf 0 358px,#4cf 0 359px,#19f 0 362px,#3cf 0 364px,#4cf 0 366px,#2af 0 368px,#2bf 0 371px,#3bf 0 376px,#6ee 0 378px,#4cf 0 383px,#5de 0 385px,#4cf 0 387px,#2bf 0 389px,#4cf 0 395px,#3bf 0 397px,#5de 0 399px,#6de 0 400px,#3bf 0 404px,#5de 0 407px,#3cf 0 408px,#4cf 0 410px,#5de 0 412px,#4cf 0 414px,#3bf 0 416px,#1af 0 418px,#2bf 0 419px,#6de 0 422px,#5de 0 426px,#3bf 0 428px,#4cf 0 430px,#3bf 0 433px,#6de 0 435px,#6ed 0 438px,#6de 0 440px,#5de 0 441px,#6ee 0 443px,#3cf 0 445px,#4cf 0 447px,#5de 0 449px,#6de 0 451px,#6ed 0 453px,#4cf 0 455px,#6de 0 458px,#4cf 0 459px,#6ee 0 461px,#3bf 0 463px,#6de 0 464px,#5df 0 466px,#5cf 0 470px,#5de 0 473px,#5cf 0 475px,#6de 0 478px,#5de 0 481px,#4cf 0 483px,#6ee 0 486px,#3bf 0 489px,#6de 0 490px,#4cf 0 494px,#19f 0 496px,#6de 0 501px,#6ed 0 503px,#3bf 0 505px,#5df 0 507px,#6ed 0 508px,#4cf 0 510px,#6ee 0 512px,#4cf 0 513px,#6ee 0 515px,#5cf 0 518px,#5de 0 520px,#7ec 0 522px,#5de 0 524px,#5cf 0 526px,#6de 0 529px,#5de 0 530px,#6ee 0 532px,#6de 0 535px,#6ee 0 538px,#6ed 0 539px,#5cf 0 540px,#6ed 0 545px,#6de 0 547px,#7ed 0 550px,#6ed 0 553px,#6de 0 556px,#6ed 0 557px,#2bf 0 560px,#4cf 0 562px,#6ed 0 568px,#3bf 0 570px,#6ed 0 571px,#4cf 0 573px,#7ed 0 576px,#6ed 0 579px,#6ee 0 581px,#6de 0 583px,#6ee 0 585px,#6de 0 588px,#6ed 0 592px,#7ed 0 595px,#6ed 0 596px,#6de 0 599px,#6ee 0 601px,#7ed 0 602px,#6ed 0 604px,#7ec 0 607px,#7ed 0 609px,#7ec 0 611px,#5de 0 614px,#6ee 0 616px,#8eb 0 619px,#6ed 0 621px,#7ec 0 624px,#6de 0 626px,#3bf 0 628px,#7ec 0 630px,#8eb 0 632px,#4cf 0 633px,#8eb 0 635px,#7ec 0 637px,#7ed 0 646px,#6ee 0 648px,#7ec 0 652px,#8ea 0 657px,#7ec 0 658px,#7ed 0 660px,#7ec 0 663px,#8eb 0 666px,#8ea 0 668px,#8eb 0 670px,#7ed 0 672px,#8ea 0 674px,#7ec 0 677px,#6ed 0 680px,#7ec 0 684px,#9ea 0 686px,#8eb 0 689px,#6ed 0 690px,#7ec 0 693px,#7ed 0 695px,#8ea 0 698px,#8eb 0 699px,#7ec 0 702px,#6ed 0 704px,#8ea 0 706px,#7ec 0 708px,#9ea 0 710px,#7ec 0 714px,#afa 0 716px,#8ea 0 717px,#6ed 0 719px,#8eb 0 722px,#9ea 0 724px,#8ea 0 726px,#7ec 0 731px,#9ea 0 732px,#6ed 0 734px,#8ea 0 736px,#afa 0 738px,#9ea 0 740px,#6ed 0 746px,#8eb 0 748px,#7ec 0 750px,#6ed 0 752px,#8eb 0 753px,#7ec 0 757px,#8eb 0 760px,#cf9 0 761px,#9ea 0 763px,#8eb 0 766px,#aea 0 771px,#8eb 0 774px,#bfa 0 775px,#7ed 0 779px,#bfa 0 783px,#9ea 0 784px,#bfa 0 787px,#8ea 0 789px,#cfa 0 792px,#9ea 0 795px,#aea 0 807px,#bfa 0 810px,#cfa 0 814px,#8ea 0 818px,#cfa 0 821px,#de8 0 823px,#df9 0 828px,#cfa 0 831px,#de8 0 834px,#ee7 0 837px,#bfa 0 845px,#ed6 0 848px,#cfa 0 852px,#cf9 0 857px,#ee7 0 862px,#de8 0 867px,#ee7 0 869px,#ee7 869px,#ed7 877px,#df9 883px,#cfa 888px,#cfa 892px,#de8 899px,#de8 908px,#df9 916px,#9ea 926px,#df9 932px,#ee7 942px,#de8 950px,#ee7 957px,#ee7 965px,#df8 974px,#ed7 985px,#cf9 998px,#fc6 1005px,#de8 1012px,#ee7 1025px,#ee8 1035px,#cfa 1048px,#df9 1064px,#df8 1076px,#cfa 1093px,#de8 1110px,#bfa 1123px,#aea 1138px,#a2f2aa 1154px,#8aecae 1171px,#7cebc8 1194px,#6aebe1 1224px,#61e1f0 1244px,#44caff 1264px,#52d6f8 1304px,#44caff 1344px,#32beff 1384px,#2dbbff 1414px)"></div><div style="left:517.8px;width:39.4px;background:linear-gradient(#0a0079 104px,#107 0 149px,#108 0 151px,#107 0 154px,#108 0 155px,#107 0 158px,#108 0 160px,#209 0 161px,#208 0 163px,#209 0 165px,#108 0 166px,#209 0 170px,#208 0 171px,#10a 0 172px,#10b 0 174px,#10a 0 176px,#208 0 179px,#01c 0 181px,#10b 0 186px,#10a 0 188px,#10b 0 189px,#10a 0 191px,#20a 0 192px,#10b 0 195px,#107 0 196px,#01b 0 199px,#01c 0 201px,#20a 0 204px,#01c 0 205px,#02d 0 208px,#01c 0 215px,#10a 0 217px,#10b 0 220px,#03d 0 221px,#02c 0 224px,#01c 0 225px,#20a 0 228px,#15e 0 230px,#01c 0 234px,#04d 0 235px,#02d 0 237px,#01c 0 241px,#14e 0 243px,#02d 0 248px,#01b 0 251px,#14e 0 253px,#03d 0 255px,#02d 0 257px,#10b 0 260px,#02d 0 261px,#14e 0 263px,#02d 0 266px,#15e 0 270px,#16e 0 272px,#02d 0 274px,#17e 0 277px,#16e 0 278px,#14e 0 279px,#17f 0 280px,#14e 0 282px,#17e 0 283px,#18f 0 285px,#16e 0 287px,#1af 0 289px,#14e 0 291px,#18f 0 295px,#1af 0 296px,#16e 0 299px,#03d 0 301px,#18f 0 305px,#16e 0 306px,#17e 0 308px,#2bf 0 309px,#2af 0 312px,#3bf 0 314px,#2bf 0 315px,#1af 0 317px,#18f 0 318px,#1af 0 321px,#2bf 0 324px,#3bf 0 327px,#14e 0 329px,#1af 0 330px,#3bf 0 334px,#2bf 0 335px,#3bf 0 339px,#4cf 0 343px,#2bf 0 344px,#4cf 0 346px,#2bf 0 348px,#4cf 0 351px,#3cf 0 353px,#4cf 0 356px,#3bf 0 359px,#2bf 0 363px,#3cf 0 365px,#4cf 0 367px,#5de 0 370px,#4cf 0 373px,#5cf 0 375px,#4cf 0 382px,#2bf 0 383px,#17e 0 384px,#4cf 0 394px,#1af 0 396px,#4cf 0 397px,#3bf 0 399px,#6ee 0 401px,#3bf 0 403px,#5de 0 407px,#3bf 0 410px,#5cf 0 411px,#2af 0 414px,#4cf 0 416px,#5cf 0 418px,#4cf 0 420px,#5cf 0 421px,#5de 0 424px,#2bf 0 425px,#4cf 0 428px,#5de 0 430px,#4cf 0 432px,#5cf 0 434px,#2bf 0 437px,#5de 0 440px,#3bf 0 442px,#4cf 0 444px,#6ed 0 446px,#4cf 0 447px,#6de 0 449px,#5de 0 451px,#4cf 0 454px,#5cf 0 456px,#2af 0 463px,#4cf 0 465px,#6ee 0 466px,#5cf 0 469px,#4cf 0 471px,#5de 0 473px,#6ee 0 476px,#5cf 0 479px,#7ed 0 481px,#6ee 0 483px,#6ed 0 485px,#5de 0 486px,#4cf 0 491px,#2af 0 493px,#4cf 0 496px,#5cf 0 498px,#6de 0 504px,#7ec 0 506px,#6de 0 508px,#6ed 0 509px,#4cf 0 510px,#6de 0 511px,#2bf 0 514px,#6ed 0 516px,#5df 0 518px,#6de 0 522px,#6ed 0 524px,#6de 0 526px,#4cf 0 529px,#6de 0 531px,#6ed 0 535px,#5de 0 537px,#6ee 0 540px,#6de 0 545px,#6ed 0 547px,#4cf 0 549px,#7ed 0 551px,#6de 0 554px,#6ed 0 556px,#6de 0 557px,#7ed 0 558px,#6de 0 560px,#6ed 0 563px,#7ed 0 566px,#7ec 0 567px,#8eb 0 569px,#7ec 0 571px,#5de 0 572px,#6de 0 580px,#5de 0 581px,#7ed 0 584px,#6ed 0 586px,#6de 0 588px,#7ed 0 590px,#7eb 0 592px,#6ed 0 594px,#7ec 0 596px,#6ed 0 599px,#7ec 0 601px,#6ed 0 602px,#6ee 0 603px,#6de 0 606px,#7ec 0 607px,#5de 0 609px,#5cf 0 612px,#7ed 0 614px,#7eb 0 615px,#6de 0 618px,#5de 0 623px,#7ed 0 625px,#6ed 0 626px,#8eb 0 628px,#6ed 0 630px,#5cf 0 632px,#6ed 0 634px,#3bf 0 636px,#6ed 0 639px,#7ec 0 641px,#6de 0 644px,#7ed 0 646px,#8ea 0 649px,#8eb 0 650px,#7ec 0 653px,#6de 0 656px,#8eb 0 658px,#6ee 0 659px,#7ec 0 662px,#8ea 0 665px,#7ed 0 666px,#8eb 0 669px,#5cf 0 670px,#9ea 0 672px,#8eb 0 673px,#6ed 0 676px,#7ec 0 677px,#7ed 0 680px,#9ea 0 682px,#7ec 0 686px,#8eb 0 689px,#8ea 0 690px,#7eb 0 693px,#8ea 0 694px,#7ec 0 696px,#4cf 0 698px,#7ec 0 701px,#6de 0 706px,#6ed 0 709px,#bfa 0 710px,#8ea 0 712px,#7ec 0 714px,#9ea 0 716px,#7ec 0 719px,#8eb 0 721px,#7ec 0 724px,#8ea 0 726px,#8eb 0 728px,#6ed 0 730px,#8eb 0 731px,#aea 0 734px,#7ec 0 736px,#bfa 0 741px,#7ec 0 744px,#8eb 0 746px,#aea 0 748px,#9ea 0 750px,#7ec 0 752px,#9ea 0 754px,#afa 0 755px,#bfa 0 758px,#8ea 0 759px,#8eb 0 761px,#cfa 0 764px,#7ed 0 768px,#8eb 0 770px,#8ea 0 772px,#df9 0 775px,#cf9 0 778px,#bfa 0 782px,#9ea 0 784px,#bfa 0 785px,#9ea 0 787px,#cfa 0 791px,#9ea 0 794px,#afa 0 798px,#cf9 0 801px,#bfa 0 809px,#8eb 0 814px,#cf9 0 818px,#df9 0 821px,#aea 0 823px,#de8 0 828px,#df9 0 832px,#bfa 0 837px,#df9 0 840px,#ee8 0 842px,#9ea 0 848px,#cf9 0 850px,#df9 0 859px,#cfa 0 863px,#aea 0 868px,#de8 0 869px,#bfa 869px,#de8 874px,#de8 878px,#de8 884px,#bfa 892px,#ee8 900px,#cf9 909px,#ee7 919px,#ee8 924px,#de8 931px,#de8 937px,#de8 944px,#de8 955px,#cfa 962px,#df9 971px,#ee7 981px,#de8 993px,#df9 1006px,#de8 1019px,#de8 1028px,#ee8 1040px,#de8 1048px,#8ea 1059px,#cf9 1075px,#df9 1089px,#9ea 1101px,#9ea 1111px,#aea 1122px,#9ea 1142px,#9ea 1152px,#94efac 1154px,#8aecae 1194px,#8aecae 1224px,#7cebc8 1264px,#73ebd4 1304px,#6aebe1 1317px,#61e1f0 1344px,#44caff 1371px,#3bc4ff 1384px,#37c2ff 1414px)"></div><div style="left:557.2px;width:39.4px;background:linear-gradient(#0a0079 104px,#107 0 143px,#108 0 146px,#107 0 148px,#209 0 151px,#107 0 155px,#20a 0 157px,#208 0 159px,#107 0 160px,#209 0 163px,#10a 0 168px,#107 0 171px,#209 0 173px,#10a 0 175px,#209 0 178px,#20a 0 179px,#108 0 185px,#10b 0 186px,#01c 0 188px,#01b 0 190px,#108 0 192px,#01c 0 193px,#208 0 196px,#01c 0 200px,#209 0 202px,#01c 0 205px,#02d 0 208px,#209 0 210px,#208 0 211px,#10b 0 214px,#03d 0 216px,#10b 0 219px,#01c 0 221px,#20a 0 223px,#01c 0 224px,#02d 0 228px,#20a 0 230px,#02d 0 232px,#14e 0 234px,#02d 0 235px,#15e 0 238px,#02d 0 240px,#01c 0 241px,#03d 0 242px,#02d 0 245px,#16e 0 247px,#15e 0 249px,#14e 0 251px,#01c 0 252px,#14e 0 255px,#01c 0 257px,#14e 0 258px,#16e 0 260px,#14e 0 263px,#17f 0 265px,#02d 0 267px,#03d 0 272px,#17e 0 274px,#01c 0 277px,#16e 0 279px,#17e 0 280px,#15e 0 282px,#17f 0 286px,#03d 0 289px,#17e 0 290px,#19f 0 293px,#2bf 0 295px,#18f 0 296px,#1af 0 299px,#3bf 0 301px,#2bf 0 303px,#2af 0 305px,#3bf 0 306px,#19f 0 309px,#2af 0 311px,#2bf 0 314px,#3cf 0 315px,#3bf 0 319px,#2bf 0 321px,#3bf 0 324px,#2af 0 326px,#1af 0 328px,#17e 0 330px,#4cf 0 332px,#2af 0 334px,#4cf 0 335px,#3bf 0 337px,#2af 0 338px,#3bf 0 339px,#4cf 0 341px,#3bf 0 343px,#17e 0 344px,#3bf 0 347px,#1af 0 349px,#2bf 0 351px,#3bf 0 354px,#4cf 0 360px,#5cf 0 363px,#3bf 0 365px,#4cf 0 366px,#3bf 0 368px,#3cf 0 370px,#3bf 0 373px,#4cf 0 375px,#2bf 0 378px,#5df 0 380px,#4cf 0 384px,#19f 0 386px,#4cf 0 387px,#3bf 0 390px,#4cf 0 393px,#3bf 0 395px,#2af 0 398px,#5de 0 400px,#6de 0 402px,#3bf 0 405px,#4cf 0 412px,#3bf 0 414px,#6de 0 415px,#4cf 0 416px,#5cf 0 418px,#5de 0 421px,#6de 0 427px,#4cf 0 430px,#5de 0 432px,#19f 0 434px,#6de 0 438px,#6ee 0 440px,#4cf 0 443px,#6ed 0 446px,#4cf 0 448px,#5cf 0 451px,#6de 0 452px,#5de 0 454px,#4cf 0 457px,#5cf 0 459px,#5de 0 461px,#6ee 0 462px,#6de 0 464px,#5de 0 466px,#6ee 0 468px,#7ed 0 471px,#6de 0 472px,#5de 0 474px,#3bf 0 477px,#4cf 0 479px,#2bf 0 481px,#5cf 0 483px,#3bf 0 484px,#4cf 0 486px,#6de 0 487px,#3bf 0 489px,#6ed 0 490px,#4cf 0 492px,#5de 0 494px,#7ed 0 495px,#4cf 0 498px,#5df 0 500px,#2af 0 502px,#4cf 0 505px,#5df 0 508px,#5de 0 510px,#6ed 0 515px,#6ee 0 516px,#6ed 0 521px,#5df 0 522px,#4cf 0 523px,#6ee 0 526px,#7ed 0 528px,#6de 0 531px,#7ed 0 532px,#7ec 0 534px,#6de 0 536px,#6ed 0 538px,#7ec 0 540px,#5de 0 541px,#6ed 0 543px,#6de 0 545px,#7ec 0 547px,#6ee 0 548px,#6ed 0 549px,#7ed 0 551px,#7ec 0 553px,#6ed 0 555px,#5de 0 557px,#7ed 0 559px,#6de 0 562px,#6ed 0 564px,#3bf 0 567px,#7ed 0 569px,#4cf 0 570px,#7ec 0 573px,#6ee 0 575px,#4cf 0 577px,#5de 0 579px,#6de 0 580px,#2bf 0 583px,#7ed 0 586px,#7ec 0 591px,#6ed 0 593px,#7ed 0 599px,#7ec 0 601px,#7ed 0 603px,#7eb 0 605px,#5de 0 606px,#7ec 0 609px,#8eb 0 615px,#7ec 0 618px,#7ed 0 620px,#7ec 0 623px,#8eb 0 624px,#6ee 0 626px,#7ec 0 628px,#6ed 0 629px,#7ed 0 630px,#7ec 0 633px,#6ed 0 634px,#6ee 0 635px,#7ed 0 637px,#6ed 0 641px,#8eb 0 643px,#7ec 0 644px,#7ed 0 645px,#7ec 0 648px,#7ed 0 650px,#7eb 0 651px,#7ec 0 653px,#6de 0 655px,#7ec 0 660px,#8ea 0 661px,#7ec 0 664px,#6de 0 666px,#8ea 0 667px,#9ea 0 669px,#8ea 0 672px,#8eb 0 674px,#4cf 0 676px,#7ec 0 682px,#8eb 0 687px,#7ec 0 689px,#9ea 0 694px,#7ec 0 696px,#8ea 0 703px,#bfa 0 704px,#8eb 0 706px,#7ec 0 707px,#8ea 0 710px,#7ec 0 712px,#9ea 0 714px,#8eb 0 716px,#6ed 0 719px,#9ea 0 721px,#8eb 0 723px,#9ea 0 725px,#8eb 0 729px,#8ea 0 732px,#9ea 0 734px,#aea 0 736px,#8eb 0 738px,#9ea 0 740px,#aea 0 742px,#8ea 0 747px,#8eb 0 749px,#9ea 0 752px,#aea 0 754px,#9ea 0 755px,#8ea 0 758px,#bfa 0 760px,#7ec 0 764px,#9ea 0 767px,#8ea 0 770px,#7ec 0 771px,#aea 0 779px,#8ea 0 783px,#cf9 0 786px,#9ea 0 788px,#aea 0 789px,#7ed 0 794px,#bfa 0 798px,#aea 0 803px,#bfa 0 806px,#cf9 0 808px,#bfa 0 813px,#8eb 0 818px,#aea 0 821px,#cfa 0 823px,#aea 0 830px,#8ea 0 832px,#df9 0 837px,#9ea 0 842px,#ee8 0 846px,#de8 0 852px,#df9 0 860px,#de8 0 862px,#cf9 0 869px,#9ea 869px,#bfa 874px,#df9 879px,#de8 885px,#de8 892px,#cf9 900px,#bfa 908px,#aea 917px,#8ea 927px,#cfa 937px,#df8 946px,#de8 957px,#de8 963px,#de8 971px,#ee8 983px,#cf9 996px,#bfa 1006px,#ed6 1020px,#bfa 1030px,#de8 1042px,#fc6 1056px,#de8 1068px,#cfa 1077px,#ee8 1094px,#ee7 1109px,#de8 1122px,#de8 1139px,#cf9 1151px,#d3fb9a 1154px,#cdffa2 1171px,#bcfaa5 1194px,#acf5a8 1198px,#8aecae 1207px,#7cebc8 1215px,#6aebe1 1224px,#73ebd4 1264px,#73ebd4 1304px,#6aebe1 1312px,#61e1f0 1328px,#44caff 1344px,#3bc4ff 1384px,#37c2ff 1414px)"></div><div style="left:596.6px;width:39.4px;background:linear-gradient(#0a0079 104px,#107 0 139px,#209 0 142px,#107 0 143px,#108 0 145px,#209 0 146px,#107 0 148px,#208 0 152px,#107 0 156px,#10b 0 158px,#107 0 159px,#10a 0 161px,#10b 0 164px,#107 0 167px,#01c 0 174px,#10a 0 176px,#107 0 179px,#209 0 181px,#01c 0 185px,#01b 0 186px,#10a 0 187px,#01c 0 189px,#02d 0 191px,#01c 0 198px,#10b 0 200px,#01c 0 201px,#10b 0 204px,#01c 0 212px,#02d 0 214px,#03d 0 216px,#02d 0 218px,#01c 0 220px,#14e 0 222px,#02d 0 224px,#14e 0 225px,#03d 0 227px,#02d 0 228px,#01c 0 231px,#15e 0 232px,#02d 0 236px,#01c 0 237px,#03d 0 239px,#16e 0 241px,#15e 0 242px,#14e 0 244px,#01c 0 245px,#02d 0 247px,#01c 0 249px,#26e 0 251px,#15e 0 253px,#16e 0 255px,#18f 0 257px,#17e 0 258px,#19f 0 260px,#15e 0 262px,#18f 0 263px,#15e 0 265px,#16e 0 271px,#17f 0 273px,#16e 0 274px,#17e 0 277px,#18f 0 278px,#14e 0 281px,#17e 0 283px,#2bf 0 285px,#3bf 0 288px,#16e 0 289px,#2af 0 291px,#3bf 0 294px,#1af 0 295px,#18f 0 298px,#3bf 0 302px,#17e 0 303px,#16e 0 306px,#2bf 0 310px,#1af 0 311px,#2bf 0 312px,#1af 0 318px,#2bf 0 321px,#3bf 0 323px,#2af 0 325px,#2bf 0 327px,#5df 0 329px,#3bf 0 337px,#26e 0 340px,#5cf 0 342px,#2bf 0 345px,#4cf 0 348px,#16e 0 351px,#3bf 0 355px,#18f 0 356px,#4cf 0 358px,#19f 0 360px,#4cf 0 362px,#3bf 0 364px,#18f 0 366px,#4cf 0 368px,#2bf 0 370px,#6de 0 373px,#19f 0 375px,#18f 0 377px,#3bf 0 380px,#1af 0 384px,#6de 0 386px,#1af 0 387px,#4cf 0 392px,#6de 0 394px,#4cf 0 396px,#6ee 0 399px,#6de 0 402px,#4cf 0 403px,#6de 0 406px,#4cf 0 407px,#6de 0 410px,#4cf 0 411px,#3bf 0 413px,#5cf 0 416px,#6ee 0 419px,#4cf 0 421px,#3cf 0 423px,#4cf 0 427px,#3bf 0 429px,#6de 0 434px,#5de 0 435px,#4cf 0 441px,#6de 0 443px,#4cf 0 445px,#5de 0 448px,#6de 0 449px,#4cf 0 452px,#5de 0 453px,#4cf 0 461px,#3bf 0 463px,#6ed 0 465px,#3bf 0 466px,#1af 0 468px,#4cf 0 470px,#6de 0 472px,#6ee 0 475px,#6ed 0 477px,#6ee 0 481px,#1af 0 483px,#6ed 0 484px,#6de 0 486px,#5de 0 487px,#6ed 0 488px,#6de 0 490px,#5de 0 491px,#6ed 0 494px,#4cf 0 497px,#6ed 0 499px,#5de 0 501px,#5cf 0 503px,#6ed 0 505px,#4cf 0 506px,#5de 0 508px,#6ee 0 510px,#6ed 0 511px,#6ee 0 513px,#5df 0 515px,#6ee 0 518px,#6de 0 520px,#5cf 0 522px,#6ed 0 524px,#6ee 0 525px,#5de 0 528px,#6de 0 530px,#5de 0 532px,#6de 0 533px,#6ed 0 536px,#6ee 0 539px,#6ed 0 542px,#7ec 0 543px,#6de 0 548px,#7ec 0 550px,#6ed 0 556px,#5df 0 558px,#6de 0 559px,#6ee 0 562px,#5df 0 563px,#6de 0 566px,#6ed 0 570px,#5de 0 571px,#6de 0 574px,#6ed 0 575px,#4cf 0 578px,#7ed 0 579px,#5cf 0 582px,#6de 0 584px,#5cf 0 586px,#7ed 0 589px,#6ed 0 591px,#7ec 0 593px,#7eb 0 595px,#6de 0 596px,#6ee 0 598px,#6de 0 599px,#8eb 0 601px,#6ed 0 604px,#6de 0 605px,#3bf 0 607px,#8eb 0 608px,#6ee 0 613px,#7eb 0 615px,#5de 0 617px,#6de 0 618px,#6ed 0 621px,#7ed 0 622px,#7ec 0 625px,#6ed 0 627px,#7ec 0 630px,#7ed 0 632px,#8eb 0 635px,#7ec 0 637px,#6ed 0 639px,#8eb 0 642px,#6ed 0 645px,#8ea 0 648px,#6de 0 650px,#7ec 0 652px,#6ed 0 659px,#4cf 0 661px,#7eb 0 663px,#5de 0 665px,#6ed 0 667px,#7ec 0 668px,#9ea 0 671px,#7ed 0 673px,#7ec 0 676px,#6ed 0 679px,#8ea 0 680px,#8eb 0 683px,#6ed 0 685px,#7ec 0 691px,#8ea 0 693px,#7ec 0 696px,#7eb 0 697px,#8ea 0 698px,#6ed 0 700px,#7ed 0 701px,#6ed 0 704px,#8eb 0 706px,#aea 0 707px,#8ea 0 709px,#7ec 0 712px,#8eb 0 714px,#7ec 0 717px,#bfa 0 719px,#8ea 0 722px,#7ec 0 723px,#9ea 0 724px,#8eb 0 725px,#aea 0 727px,#6de 0 729px,#8eb 0 731px,#9ea 0 735px,#aea 0 736px,#9ea 0 739px,#8ea 0 740px,#8eb 0 742px,#9ea 0 746px,#aea 0 748px,#bfa 0 750px,#8eb 0 752px,#9ea 0 755px,#8eb 0 759px,#9ea 0 761px,#aea 0 765px,#9ea 0 767px,#aea 0 770px,#9ea 0 773px,#aea 0 775px,#8eb 0 779px,#aea 0 782px,#cfa 0 788px,#bfa 0 794px,#7ec 0 801px,#8ea 0 803px,#8eb 0 806px,#cf9 0 810px,#bfa 0 814px,#aea 0 819px,#bfa 0 824px,#cfa 0 829px,#aea 0 832px,#bfa 0 837px,#df9 0 843px,#ee8 0 848px,#cfa 0 850px,#df9 0 857px,#cfa 0 868px,#cf9 0 869px,#aea 869px,#cfa 873px,#de8 879px,#8ea 886px,#de8 894px,#cfa 899px,#cfa 905px,#9ea 910px,#aea 917px,#bfa 923px,#8eb 932px,#cfa 942px,#bfa 949px,#de8 957px,#cf9 966px,#df9 978px,#df9 990px,#aea 998px,#8eb 1011px,#cfa 1019px,#aea 1028px,#8eb 1037px,#7ec 1045px,#7ec 1058px,#8ea 1072px,#8ea 1089px,#bfa 1108px,#7ec 1121px,#8ea 1139px,#9ea 1154px,#91eead 1154px,#9bf0ab 1194px,#8aecae 1224px,#7cebc8 1244px,#6aebe1 1264px,#61e1f0 1284px,#44caff 1304px,#32beff 1344px,#32beff 1384px,#2dbbff 1414px)"></div><div style="left:635.9px;width:39.4px;background:linear-gradient(#0a0079 104px,#107 0 162px,#208 0 165px,#107 0 169px,#10a 0 170px,#108 0 172px,#209 0 174px,#108 0 175px,#209 0 178px,#10a 0 181px,#108 0 183px,#10b 0 184px,#01c 0 186px,#209 0 190px,#10b 0 193px,#107 0 195px,#01b 0 200px,#10b 0 202px,#02d 0 205px,#10a 0 207px,#01c 0 212px,#10a 0 214px,#01c 0 216px,#20a 0 218px,#02d 0 221px,#01c 0 223px,#02d 0 226px,#01c 0 228px,#20a 0 230px,#02d 0 233px,#01c 0 238px,#02d 0 240px,#209 0 243px,#02d 0 244px,#10a 0 245px,#02d 0 248px,#16e 0 252px,#02d 0 254px,#15e 0 255px,#16e 0 257px,#02d 0 258px,#14e 0 261px,#16e 0 263px,#02d 0 267px,#01c 0 269px,#26e 0 271px,#15e 0 274px,#16e 0 275px,#01c 0 277px,#19f 0 279px,#14e 0 281px,#03d 0 282px,#02d 0 284px,#16e 0 285px,#14e 0 287px,#16e 0 289px,#18f 0 290px,#17f 0 292px,#17e 0 294px,#15e 0 295px,#2af 0 298px,#1af 0 299px,#02d 0 301px,#03d 0 304px,#1af 0 306px,#17e 0 308px,#1af 0 310px,#14e 0 313px,#17e 0 315px,#2bf 0 319px,#3bf 0 321px,#18f 0 323px,#2af 0 326px,#2bf 0 328px,#3bf 0 331px,#2bf 0 332px,#3bf 0 335px,#19f 0 337px,#17e 0 340px,#3bf 0 342px,#4cf 0 345px,#3bf 0 349px,#2bf 0 351px,#2af 0 354px,#2bf 0 355px,#5de 0 357px,#4cf 0 360px,#3bf 0 362px,#2af 0 364px,#4cf 0 367px,#1af 0 368px,#2bf 0 369px,#18f 0 370px,#3bf 0 372px,#4cf 0 373px,#19f 0 375px,#17e 0 378px,#18f 0 381px,#4cf 0 384px,#1af 0 385px,#3bf 0 389px,#17e 0 392px,#4cf 0 394px,#5cf 0 396px,#3bf 0 398px,#5cf 0 400px,#17e 0 401px,#4cf 0 404px,#3bf 0 406px,#5df 0 407px,#19f 0 410px,#4cf 0 412px,#19f 0 414px,#2bf 0 416px,#4cf 0 419px,#5de 0 421px,#4cf 0 424px,#6de 0 426px,#4cf 0 428px,#3bf 0 430px,#4cf 0 432px,#3bf 0 433px,#4cf 0 434px,#5de 0 436px,#6de 0 438px,#6ee 0 439px,#3bf 0 441px,#6de 0 442px,#3bf 0 444px,#4cf 0 445px,#6de 0 448px,#4cf 0 449px,#6de 0 451px,#5df 0 453px,#3bf 0 455px,#2bf 0 456px,#5cf 0 459px,#4cf 0 461px,#3bf 0 464px,#6de 0 466px,#5de 0 468px,#4cf 0 473px,#6de 0 476px,#6ed 0 479px,#6ee 0 481px,#4cf 0 486px,#3bf 0 488px,#5cf 0 490px,#4cf 0 492px,#5de 0 493px,#4cf 0 497px,#6de 0 498px,#3bf 0 500px,#6ed 0 503px,#6ee 0 506px,#6de 0 508px,#3bf 0 510px,#1af 0 512px,#5de 0 513px,#4cf 0 516px,#5de 0 518px,#6de 0 525px,#5de 0 527px,#4cf 0 528px,#3bf 0 532px,#5de 0 533px,#2af 0 536px,#6ed 0 539px,#6de 0 541px,#6ee 0 543px,#6ed 0 546px,#6ee 0 548px,#6de 0 553px,#6ed 0 554px,#4cf 0 557px,#6de 0 561px,#4cf 0 563px,#6ee 0 569px,#5de 0 573px,#7ec 0 576px,#5de 0 578px,#7ed 0 580px,#6ee 0 582px,#4cf 0 584px,#6ee 0 585px,#7ec 0 587px,#5cf 0 588px,#6de 0 590px,#6ee 0 592px,#6ed 0 594px,#6ee 0 596px,#7ec 0 600px,#6ee 0 602px,#5de 0 603px,#6ed 0 606px,#6de 0 607px,#6ed 0 610px,#6de 0 613px,#6ee 0 615px,#7ed 0 620px,#6ed 0 622px,#6ee 0 625px,#6ed 0 626px,#7ec 0 628px,#3bf 0 629px,#8eb 0 631px,#7ec 0 632px,#4cf 0 634px,#6ed 0 637px,#5de 0 639px,#6ed 0 642px,#2bf 0 644px,#5de 0 646px,#6ed 0 648px,#6de 0 650px,#7ed 0 653px,#7ec 0 655px,#6de 0 657px,#6ed 0 658px,#6de 0 661px,#5df 0 662px,#7ed 0 663px,#7ec 0 666px,#6de 0 667px,#6ed 0 669px,#7ec 0 678px,#8eb 0 679px,#7ec 0 680px,#7ed 0 683px,#7ec 0 685px,#7eb 0 687px,#7ed 0 689px,#6ee 0 691px,#8eb 0 692px,#6de 0 698px,#6ed 0 701px,#8eb 0 703px,#7ec 0 705px,#8eb 0 707px,#7ec 0 710px,#8eb 0 714px,#7ec 0 717px,#6ed 0 720px,#8ea 0 722px,#7ec 0 724px,#9ea 0 727px,#7ec 0 729px,#8ea 0 730px,#aea 0 733px,#8eb 0 736px,#7ed 0 739px,#8ea 0 741px,#9ea 0 746px,#7ec 0 749px,#8eb 0 751px,#9ea 0 757px,#8eb 0 761px,#bfa 0 764px,#9ea 0 768px,#bfa 0 772px,#7eb 0 775px,#8ea 0 778px,#bfa 0 781px,#7ec 0 783px,#bfa 0 786px,#aea 0 790px,#bfa 0 794px,#8ea 0 799px,#9ea 0 802px,#aea 0 806px,#bfa 0 810px,#aea 0 814px,#cfa 0 820px,#aea 0 824px,#9ea 0 827px,#aea 0 833px,#8ea 0 843px,#9ea 0 847px,#cf9 0 853px,#cfa 0 857px,#9ea 0 861px,#df9 0 864px,#8ea 0 869px,#8eb 0 869px,#cfa 869px,#cfa 877px,#bfa 883px,#cf9 889px,#de8 895px,#aea 899px,#8eb 907px,#bfa 916px,#8ea 922px,#df9 931px,#cf9 938px,#df9 947px,#cf9 957px,#bfa 969px,#cf9 979px,#de8 985px,#df9 997px,#de8 1009px,#9ea 1019px,#cfa 1030px,#df9 1039px,#cf9 1054px,#9ea 1071px,#df9 1083px,#bfa 1092px,#bfa 1105px,#df9 1121px,#9ea 1137px,#aaf4a8 1154px,#8aecae 1180px,#83ecbb 1194px,#8aecae 1224px,#7cebc8 1264px,#6aebe1 1284px,#61e1f0 1304px,#44caff 1324px,#32beff 1344px,#19afff 1384px,#17a6fe 1414px)"></div><div style="left:675.3px;width:39.4px;background:linear-gradient(#0a0079 104px,#107 0 146px,#108 0 148px,#107 0 157px,#209 0 158px,#107 0 161px,#209 0 164px,#107 0 167px,#10a 0 169px,#10b 0 170px,#10a 0 175px,#01c 0 177px,#107 0 179px,#10b 0 181px,#10a 0 184px,#20a 0 186px,#01c 0 191px,#10a 0 194px,#00b 0 197px,#10a 0 199px,#02d 0 201px,#10a 0 204px,#02d 0 205px,#01c 0 213px,#02d 0 215px,#208 0 218px,#10b 0 220px,#02d 0 223px,#01c 0 225px,#02d 0 226px,#03d 0 229px,#14e 0 231px,#02d 0 239px,#16e 0 241px,#01c 0 243px,#02d 0 246px,#03d 0 249px,#17e 0 252px,#01c 0 255px,#16e 0 257px,#01c 0 259px,#15e 0 261px,#16e 0 263px,#01c 0 264px,#02d 0 266px,#15e 0 268px,#16e 0 270px,#02d 0 273px,#17e 0 276px,#16e 0 279px,#2bf 0 280px,#19f 0 287px,#16e 0 290px,#2bf 0 292px,#1af 0 293px,#16e 0 295px,#2bf 0 298px,#19f 0 300px,#2bf 0 302px,#18f 0 304px,#2bf 0 306px,#18f 0 308px,#15e 0 310px,#2bf 0 311px,#3bf 0 316px,#18f 0 318px,#3bf 0 320px,#2bf 0 323px,#16e 0 325px,#19f 0 327px,#2bf 0 330px,#16e 0 332px,#2af 0 334px,#3bf 0 338px,#19f 0 340px,#1af 0 341px,#4cf 0 344px,#1af 0 347px,#3bf 0 349px,#19f 0 352px,#4cf 0 354px,#2af 0 357px,#2bf 0 359px,#4cf 0 361px,#1af 0 362px,#18f 0 363px,#3bf 0 365px,#5de 0 367px,#2bf 0 370px,#19f 0 371px,#4cf 0 373px,#5cf 0 375px,#3bf 0 376px,#4cf 0 377px,#3cf 0 380px,#19f 0 382px,#2bf 0 383px,#3bf 0 387px,#5de 0 389px,#6de 0 391px,#5df 0 394px,#4cf 0 403px,#2bf 0 405px,#4cf 0 407px,#5de 0 408px,#4cf 0 410px,#5cf 0 411px,#3bf 0 412px,#1af 0 414px,#4cf 0 418px,#19f 0 420px,#5de 0 423px,#2af 0 424px,#6de 0 426px,#4cf 0 428px,#3cf 0 431px,#5de 0 433px,#4cf 0 435px,#2bf 0 436px,#5de 0 439px,#2bf 0 441px,#5de 0 446px,#4cf 0 448px,#6ee 0 450px,#3bf 0 454px,#6de 0 460px,#6ed 0 462px,#6de 0 463px,#4cf 0 465px,#6ed 0 467px,#6de 0 470px,#6ee 0 472px,#6de 0 475px,#6ee 0 478px,#6de 0 484px,#5de 0 486px,#6de 0 488px,#3bf 0 490px,#1af 0 492px,#6ed 0 494px,#3cf 0 496px,#3bf 0 497px,#2bf 0 499px,#6de 0 502px,#3bf 0 503px,#6ee 0 505px,#3bf 0 508px,#5de 0 509px,#6ed 0 510px,#4cf 0 511px,#6de 0 514px,#6ee 0 515px,#7ed 0 516px,#5de 0 519px,#6ed 0 522px,#7ed 0 524px,#6ee 0 526px,#6ed 0 532px,#6ee 0 536px,#2af 0 539px,#6ee 0 541px,#6de 0 542px,#7ec 0 544px,#6de 0 545px,#7ed 0 547px,#5de 0 550px,#6ed 0 552px,#6de 0 554px,#6ee 0 555px,#5de 0 556px,#7ed 0 558px,#3cf 0 560px,#6ed 0 564px,#6de 0 566px,#7ec 0 568px,#5cf 0 571px,#6ee 0 572px,#7ec 0 574px,#6ee 0 576px,#7ed 0 579px,#6de 0 580px,#6ed 0 582px,#3bf 0 584px,#6ee 0 586px,#3bf 0 589px,#7ed 0 591px,#6ed 0 593px,#7ed 0 596px,#6de 0 600px,#6ee 0 602px,#7ed 0 604px,#6ed 0 606px,#7ed 0 608px,#8eb 0 611px,#7eb 0 613px,#6ee 0 614px,#6ed 0 615px,#7ec 0 619px,#6ed 0 621px,#6ee 0 623px,#6ed 0 626px,#6de 0 628px,#5de 0 630px,#7ed 0 631px,#6de 0 633px,#6ed 0 636px,#7ed 0 637px,#3bf 0 640px,#7ec 0 642px,#6ee 0 644px,#7ed 0 646px,#5de 0 649px,#8eb 0 654px,#4cf 0 655px,#8eb 0 657px,#7ec 0 662px,#6ed 0 663px,#8ea 0 665px,#7ec 0 670px,#8ea 0 676px,#6ee 0 678px,#6ed 0 680px,#8eb 0 682px,#6ee 0 684px,#6ed 0 687px,#8eb 0 689px,#7ec 0 691px,#6de 0 693px,#7ec 0 694px,#8eb 0 705px,#7ec 0 710px,#8ea 0 715px,#7ec 0 717px,#6ee 0 718px,#9ea 0 721px,#7ec 0 722px,#8eb 0 724px,#9ea 0 726px,#8ea 0 731px,#8eb 0 734px,#7ec 0 740px,#9ea 0 741px,#aea 0 743px,#8eb 0 744px,#7ed 0 747px,#bfa 0 751px,#8eb 0 753px,#7ec 0 755px,#9ea 0 757px,#8eb 0 761px,#8ea 0 763px,#bfa 0 767px,#8ea 0 771px,#9ea 0 775px,#bfa 0 778px,#7ec 0 781px,#8ea 0 783px,#9ea 0 785px,#8ea 0 788px,#8eb 0 790px,#df9 0 793px,#aea 0 794px,#cf9 0 797px,#bfa 0 801px,#7ed 0 805px,#aea 0 807px,#8eb 0 811px,#cf9 0 814px,#cfa 0 819px,#aea 0 823px,#8ea 0 826px,#cf9 0 829px,#df9 0 835px,#cfa 0 839px,#de8 0 842px,#ee8 0 847px,#df9 0 850px,#ee8 0 858px,#bfa 0 862px,#de8 0 864px,#bfa 0 868px,#df9 0 869px,#de8 869px,#df9 874px,#df9 879px,#bfa 887px,#de8 893px,#cf9 898px,#bfa 906px,#bfa 914px,#9ea 919px,#df9 926px,#ee8 934px,#ee7 945px,#ee7 952px,#ee8 963px,#bfa 972px,#cfa 984px,#df9 994px,#cfa 1008px,#ee8 1015px,#de8 1030px,#df9 1041px,#cfa 1056px,#bfa 1064px,#aea 1080px,#ee8 1092px,#9ea 1102px,#bfa 1112px,#cf9 1132px,#bfa 1148px,#bffba5 1154px,#acf5a8 1194px,#9bf0ab 1224px,#8aecae 1237px,#7cebc8 1264px,#6aebe1 1291px,#66e6e8 1304px,#61e1f0 1314px,#44caff 1334px,#3bc4ff 1344px,#32beff 1369px,#2abaff 1384px,#26b6ff 1414px)"></div><div style="left:714.7px;width:39.4px;background:linear-gradient(#0a0079 104px,#107 0 159px,#209 0 160px,#208 0 163px,#107 0 164px,#108 0 167px,#208 0 170px,#10a 0 173px,#107 0 175px,#10b 0 177px,#01b 0 178px,#01c 0 181px,#10a 0 182px,#10b 0 185px,#107 0 188px,#209 0 190px,#02d 0 191px,#01c 0 197px,#108 0 199px,#01c 0 202px,#209 0 206px,#01c 0 207px,#02d 0 210px,#01c 0 217px,#02d 0 220px,#01c 0 221px,#10b 0 222px,#02d 0 225px,#01c 0 227px,#02d 0 231px,#01c 0 232px,#02d 0 238px,#15e 0 239px,#16e 0 242px,#01c 0 245px,#17e 0 246px,#03d 0 248px,#15e 0 250px,#01c 0 252px,#15e 0 257px,#03d 0 260px,#04d 0 262px,#16e 0 263px,#02d 0 266px,#16e 0 268px,#18f 0 271px,#15e 0 273px,#01c 0 275px,#16e 0 279px,#17f 0 281px,#2af 0 284px,#1af 0 286px,#19f 0 288px,#18f 0 291px,#1af 0 292px,#18f 0 294px,#1af 0 296px,#02d 0 297px,#14e 0 299px,#1af 0 301px,#19f 0 304px,#26e 0 306px,#17e 0 308px,#18f 0 309px,#19f 0 312px,#2af 0 313px,#2bf 0 315px,#19f 0 316px,#2bf 0 319px,#2af 0 322px,#2bf 0 326px,#4cf 0 329px,#3cf 0 330px,#2bf 0 333px,#4cf 0 336px,#19f 0 338px,#3bf 0 344px,#3cf 0 345px,#19f 0 348px,#3bf 0 350px,#5cf 0 352px,#4cf 0 355px,#3bf 0 357px,#5de 0 360px,#3bf 0 362px,#2bf 0 368px,#3bf 0 369px,#2bf 0 372px,#18f 0 375px,#5df 0 377px,#4cf 0 380px,#5df 0 381px,#5cf 0 382px,#4cf 0 385px,#5de 0 386px,#2bf 0 389px,#5de 0 390px,#6de 0 392px,#3bf 0 395px,#5df 0 397px,#4cf 0 399px,#2bf 0 400px,#6de 0 403px,#6ee 0 405px,#6de 0 410px,#3bf 0 413px,#4cf 0 418px,#6de 0 420px,#4cf 0 424px,#6de 0 426px,#4cf 0 429px,#5df 0 431px,#3bf 0 433px,#5cf 0 435px,#6de 0 437px,#3cf 0 439px,#6de 0 443px,#4cf 0 445px,#6de 0 446px,#3cf 0 447px,#3bf 0 449px,#6de 0 452px,#4cf 0 453px,#6ee 0 456px,#19f 0 459px,#5de 0 461px,#6de 0 462px,#5cf 0 464px,#6ee 0 466px,#3bf 0 468px,#6de 0 470px,#4cf 0 474px,#6de 0 477px,#4cf 0 480px,#5de 0 482px,#6ed 0 487px,#3bf 0 489px,#6de 0 492px,#7ed 0 494px,#6de 0 498px,#6ee 0 501px,#6ed 0 503px,#5df 0 505px,#6ee 0 506px,#7ed 0 509px,#4cf 0 511px,#6de 0 513px,#2bf 0 516px,#7ec 0 518px,#6de 0 520px,#6ee 0 522px,#4cf 0 524px,#6de 0 527px,#4cf 0 528px,#6ee 0 530px,#2bf 0 532px,#7ed 0 535px,#6de 0 538px,#6ed 0 540px,#6de 0 542px,#6ed 0 545px,#6ee 0 548px,#6ed 0 550px,#7ed 0 553px,#6ed 0 554px,#7ed 0 557px,#2bf 0 559px,#6ed 0 561px,#7ed 0 562px,#6de 0 563px,#7ec 0 565px,#6de 0 568px,#7ec 0 571px,#6ed 0 573px,#6de 0 575px,#6ee 0 577px,#6de 0 579px,#7ec 0 580px,#6ed 0 584px,#7ec 0 585px,#6de 0 586px,#6ed 0 590px,#3bf 0 591px,#7ed 0 593px,#7ec 0 595px,#6de 0 597px,#5de 0 599px,#6de 0 601px,#7ed 0 604px,#7ec 0 606px,#7ed 0 607px,#5de 0 609px,#6ed 0 611px,#7ec 0 613px,#6de 0 616px,#6ee 0 617px,#6ed 0 620px,#6de 0 622px,#6ee 0 624px,#7ec 0 625px,#3bf 0 628px,#8eb 0 631px,#6ed 0 633px,#8eb 0 634px,#7ec 0 636px,#3bf 0 637px,#8eb 0 643px,#6ed 0 644px,#6de 0 650px,#8ea 0 651px,#7ec 0 653px,#7ed 0 656px,#7ec 0 658px,#8eb 0 660px,#7ec 0 662px,#6ee 0 664px,#8ea 0 665px,#7ec 0 668px,#8eb 0 670px,#7ec 0 673px,#8ea 0 675px,#6ed 0 677px,#8ea 0 679px,#6ee 0 681px,#5de 0 682px,#7ec 0 684px,#8ea 0 688px,#9ea 0 690px,#8ea 0 692px,#7ec 0 694px,#8ea 0 696px,#7ec 0 698px,#8eb 0 704px,#7ed 0 706px,#9ea 0 708px,#8eb 0 709px,#8ea 0 712px,#afa 0 714px,#8ea 0 718px,#9ea 0 720px,#8ea 0 722px,#7ed 0 726px,#8eb 0 729px,#9ea 0 730px,#8eb 0 733px,#9ea 0 736px,#8eb 0 739px,#bfa 0 741px,#aea 0 745px,#8ea 0 748px,#bfa 0 750px,#7ec 0 753px,#bfa 0 756px,#8eb 0 758px,#7ed 0 760px,#7ec 0 762px,#6ed 0 764px,#7ec 0 767px,#8eb 0 769px,#7eb 0 773px,#aea 0 775px,#bfa 0 778px,#7ec 0 782px,#aea 0 786px,#9ea 0 790px,#8eb 0 793px,#bfa 0 796px,#df9 0 798px,#cf9 0 801px,#9ea 0 804px,#de8 0 808px,#cfa 0 810px,#df9 0 815px,#cf9 0 817px,#8ea 0 821px,#cfa 0 823px,#cf9 0 827px,#bfa 0 831px,#afa 0 834px,#ee8 0 839px,#ed6 0 845px,#ed7 0 850px,#ee8 0 856px,#df9 0 863px,#bfa 0 865px,#df9 0 869px,#df9 869px,#de8 877px,#df9 884px,#df9 891px,#9ea 899px,#de8 906px,#de8 915px,#ee8 925px,#df9 936px,#de8 946px,#df9 954px,#cfa 966px,#ee7 974px,#de8 981px,#df9 993px,#aea 1001px,#cf9 1008px,#ee7 1016px,#de8 1029px,#df9 1042px,#cf9 1052px,#ee7 1068px,#df9 1086px,#df9 1101px,#cfa 1120px,#cf9 1139px,#cfa 1150px,#c1fba4 1154px,#acf5a8 1176px,#9bf0ab 1194px,#8aecae 1224px,#7cebc8 1264px,#6aebe1 1291px,#66e6e8 1304px,#61e1f0 1317px,#44caff 1344px,#32beff 1384px,#2dbbff 1414px)"></div><div style="left:754.1px;width:39.4px;background:linear-gradient(#0a0079 104px,#107 0 169px,#108 0 172px,#107 0 175px,#208 0 176px,#209 0 178px,#107 0 184px,#209 0 186px,#107 0 187px,#208 0 190px,#10b 0 192px,#209 0 198px,#00b 0 200px,#01b 0 202px,#01c 0 204px,#01b 0 207px,#02d 0 208px,#01c 0 211px,#20a 0 213px,#107 0 215px,#01c 0 218px,#02d 0 223px,#01c 0 228px,#02d 0 233px,#00b 0 235px,#01c 0 240px,#02d 0 242px,#16e 0 244px,#01c 0 246px,#14e 0 249px,#16e 0 250px,#15e 0 252px,#14e 0 255px,#02d 0 259px,#01b 0 262px,#14e 0 265px,#02d 0 267px,#15e 0 268px,#03d 0 270px,#14e 0 272px,#17e 0 274px,#02d 0 279px,#14e 0 280px,#16e 0 282px,#17e 0 283px,#18f 0 285px,#01c 0 288px,#02d 0 289px,#18f 0 293px,#16e 0 295px,#19f 0 296px,#1af 0 299px,#18f 0 300px,#2bf 0 302px,#19f 0 304px,#01c 0 306px,#17e 0 307px,#18f 0 308px,#19f 0 310px,#2bf 0 313px,#17e 0 316px,#2bf 0 320px,#19f 0 325px,#1af 0 327px,#17f 0 328px,#16e 0 330px,#3bf 0 332px,#2bf 0 334px,#18f 0 338px,#2bf 0 339px,#5cf 0 342px,#18f 0 344px,#3bf 0 347px,#1af 0 348px,#17e 0 349px,#4cf 0 351px,#2af 0 353px,#3bf 0 355px,#3cf 0 357px,#5cf 0 358px,#3bf 0 361px,#4cf 0 363px,#3bf 0 364px,#4cf 0 365px,#3bf 0 367px,#2bf 0 370px,#5df 0 373px,#3bf 0 374px,#1af 0 377px,#17f 0 379px,#3bf 0 384px,#5de 0 385px,#19f 0 387px,#2bf 0 388px,#3bf 0 391px,#1af 0 393px,#4cf 0 396px,#19f 0 397px,#2bf 0 399px,#5cf 0 401px,#3cf 0 404px,#5de 0 405px,#4cf 0 410px,#3bf 0 413px,#4cf 0 415px,#6de 0 421px,#4cf 0 425px,#5de 0 427px,#17e 0 429px,#5df 0 430px,#4cf 0 433px,#3bf 0 436px,#4cf 0 438px,#3bf 0 440px,#6de 0 445px,#4cf 0 452px,#6de 0 455px,#4cf 0 459px,#5de 0 463px,#3bf 0 464px,#3cf 0 465px,#3bf 0 467px,#6de 0 469px,#3bf 0 473px,#6ee 0 475px,#6de 0 478px,#6ee 0 483px,#4cf 0 484px,#6de 0 487px,#5de 0 488px,#6de 0 490px,#6ee 0 492px,#6ed 0 495px,#6ee 0 497px,#6de 0 498px,#6ee 0 501px,#4cf 0 503px,#6de 0 510px,#19f 0 511px,#5de 0 514px,#6de 0 519px,#5de 0 521px,#3bf 0 524px,#4cf 0 527px,#6de 0 528px,#6ee 0 530px,#6de 0 532px,#3bf 0 534px,#7ed 0 535px,#19f 0 536px,#6de 0 538px,#6ee 0 541px,#5de 0 543px,#6de 0 545px,#5de 0 546px,#7ed 0 547px,#6ed 0 549px,#6de 0 551px,#7ed 0 554px,#6ed 0 556px,#4cf 0 558px,#6de 0 563px,#6ed 0 565px,#6de 0 568px,#3bf 0 571px,#6ed 0 573px,#5de 0 575px,#2bf 0 578px,#3bf 0 581px,#6ee 0 585px,#6ed 0 586px,#6ee 0 590px,#5de 0 592px,#7ec 0 593px,#5de 0 595px,#6de 0 597px,#6ed 0 603px,#7ec 0 605px,#7eb 0 607px,#6de 0 608px,#7ec 0 609px,#7ed 0 611px,#4cf 0 612px,#7ec 0 614px,#6ed 0 619px,#4cf 0 622px,#7ec 0 628px,#6ed 0 629px,#7ec 0 631px,#7ed 0 632px,#7ec 0 634px,#6ee 0 636px,#7ec 0 638px,#7ed 0 639px,#6ed 0 641px,#6ee 0 643px,#6ed 0 646px,#7ed 0 648px,#6ed 0 650px,#7ec 0 652px,#6ed 0 653px,#8eb 0 655px,#6ed 0 657px,#9ea 0 659px,#8eb 0 664px,#7ed 0 666px,#8eb 0 668px,#7ec 0 672px,#8eb 0 674px,#7eb 0 676px,#7ed 0 678px,#8ea 0 680px,#6ed 0 682px,#8ea 0 684px,#6ed 0 687px,#7ec 0 694px,#8eb 0 696px,#9ea 0 698px,#7ec 0 704px,#6ed 0 706px,#6de 0 708px,#9ea 0 710px,#7ec 0 713px,#8eb 0 716px,#7ec 0 717px,#aea 0 722px,#8eb 0 723px,#6ed 0 724px,#7ec 0 727px,#9ea 0 730px,#6ed 0 732px,#8eb 0 734px,#aea 0 736px,#8eb 0 742px,#8ea 0 743px,#9ea 0 746px,#8eb 0 749px,#6ed 0 751px,#9ea 0 753px,#8ea 0 757px,#8eb 0 764px,#aea 0 766px,#6ed 0 769px,#8ea 0 772px,#8eb 0 776px,#8ea 0 777px,#8eb 0 779px,#7ec 0 781px,#aea 0 785px,#cf9 0 789px,#8eb 0 792px,#cf9 0 793px,#aea 0 797px,#9ea 0 800px,#8ea 0 806px,#bfa 0 810px,#8eb 0 813px,#de8 0 818px,#aea 0 822px,#ee8 0 827px,#cf9 0 830px,#de8 0 834px,#cf9 0 836px,#ee7 0 840px,#cf9 0 846px,#ee7 0 851px,#ed7 0 856px,#9ea 0 863px,#df9 0 868px,#ee7 0 869px,#ed7 869px,#de8 873px,#df9 879px,#bfa 888px,#cf9 893px,#cf9 899px,#aea 904px,#bfa 911px,#9ea 920px,#df9 929px,#9ea 936px,#aea 945px,#df9 953px,#de8 965px,#de8 974px,#aea 981px,#df9 990px,#df9 1003px,#ee7 1015px,#bfa 1027px,#ee7 1040px,#de8 1050px,#de8 1065px,#cf9 1078px,#afa 1092px,#de8 1106px,#bfa 1125px,#aea 1138px,#a0f2aa 1154px,#8aecae 1176px,#83ecbb 1194px,#7cebc8 1224px,#7cebc8 1264px,#6aebe1 1291px,#66e6e8 1304px,#61e1f0 1317px,#44caff 1344px,#40c8ff 1384px,#3dc5ff 1414px)"></div><div style="left:793.4px;width:39.4px;background:linear-gradient(#0a0079 104px,#107 0 134px,#108 0 135px,#107 0 142px,#108 0 144px,#107 0 149px,#108 0 151px,#209 0 152px,#107 0 154px,#108 0 157px,#10b 0 159px,#107 0 161px,#20a 0 163px,#209 0 165px,#10b 0 166px,#10a 0 168px,#209 0 169px,#208 0 174px,#01c 0 175px,#10b 0 176px,#20a 0 179px,#10b 0 180px,#209 0 182px,#10a 0 184px,#01c 0 186px,#209 0 187px,#00b 0 188px,#01c 0 192px,#02d 0 194px,#209 0 196px,#02d 0 201px,#01c 0 206px,#01b 0 208px,#01c 0 211px,#02d 0 217px,#01c 0 222px,#20a 0 224px,#02d 0 225px,#14e 0 226px,#02d 0 228px,#15e 0 230px,#02d 0 233px,#15e 0 236px,#02d 0 239px,#16e 0 242px,#14e 0 244px,#01b 0 246px,#16e 0 249px,#03d 0 252px,#16e 0 254px,#02d 0 256px,#18f 0 257px,#14e 0 260px,#17f 0 261px,#16e 0 263px,#1af 0 265px,#15e 0 266px,#16e 0 267px,#17e 0 268px,#16e 0 272px,#17f 0 275px,#16e 0 278px,#2af 0 279px,#19f 0 282px,#17e 0 284px,#19f 0 286px,#16e 0 289px,#2bf 0 292px,#1af 0 293px,#18f 0 296px,#17f 0 297px,#2af 0 298px,#2bf 0 301px,#2af 0 303px,#2bf 0 307px,#3bf 0 309px,#2af 0 311px,#4cf 0 313px,#2af 0 316px,#3bf 0 321px,#1af 0 323px,#2bf 0 324px,#1af 0 327px,#2af 0 328px,#3bf 0 331px,#4cf 0 332px,#1af 0 335px,#3cf 0 337px,#2af 0 338px,#3bf 0 345px,#5cf 0 347px,#3bf 0 351px,#4cf 0 356px,#16e 0 358px,#5cf 0 360px,#4cf 0 362px,#2bf 0 365px,#3bf 0 368px,#2bf 0 370px,#3cf 0 371px,#6de 0 373px,#3bf 0 377px,#2bf 0 379px,#4cf 0 381px,#5cf 0 382px,#5de 0 383px,#3bf 0 386px,#5de 0 388px,#2af 0 390px,#6de 0 393px,#5cf 0 395px,#6de 0 397px,#19f 0 398px,#18f 0 401px,#5cf 0 404px,#2bf 0 406px,#5cf 0 409px,#4cf 0 410px,#6de 0 413px,#4cf 0 414px,#6ed 0 417px,#1af 0 419px,#5cf 0 422px,#6ee 0 424px,#6de 0 426px,#4cf 0 429px,#1af 0 432px,#5cf 0 433px,#5de 0 435px,#5df 0 436px,#6ee 0 437px,#4cf 0 439px,#5cf 0 442px,#4cf 0 447px,#5df 0 450px,#6de 0 452px,#4cf 0 455px,#6ed 0 458px,#6de 0 460px,#6ed 0 462px,#4cf 0 465px,#3bf 0 467px,#2bf 0 469px,#4cf 0 471px,#7ed 0 473px,#4cf 0 474px,#3cf 0 475px,#6de 0 477px,#5de 0 478px,#3bf 0 480px,#6de 0 482px,#5de 0 484px,#4cf 0 487px,#6ed 0 488px,#6ee 0 491px,#6ed 0 494px,#4cf 0 496px,#6de 0 499px,#6ed 0 500px,#5de 0 503px,#5cf 0 505px,#4cf 0 508px,#7ed 0 510px,#4cf 0 513px,#6de 0 515px,#3cf 0 518px,#6ed 0 524px,#5cf 0 525px,#6ed 0 526px,#4cf 0 529px,#7ec 0 531px,#6ed 0 534px,#7ed 0 536px,#6ed 0 540px,#4cf 0 542px,#6ed 0 543px,#6de 0 546px,#6ed 0 550px,#4cf 0 552px,#6ed 0 554px,#6de 0 555px,#7ec 0 557px,#5de 0 559px,#5cf 0 560px,#7ed 0 562px,#7ec 0 565px,#6de 0 567px,#7ec 0 568px,#5de 0 570px,#6ed 0 572px,#7ec 0 573px,#6ed 0 574px,#3bf 0 576px,#7ec 0 579px,#6ed 0 581px,#7ec 0 583px,#8eb 0 589px,#7ec 0 591px,#8eb 0 594px,#7ec 0 599px,#7ed 0 603px,#3bf 0 604px,#6ed 0 606px,#7eb 0 608px,#7ed 0 610px,#6de 0 612px,#7ec 0 615px,#8eb 0 617px,#7ec 0 620px,#6de 0 621px,#7ed 0 623px,#6ee 0 626px,#8eb 0 628px,#4cf 0 631px,#3bf 0 633px,#7ec 0 637px,#5cf 0 640px,#7ec 0 643px,#8ea 0 644px,#7ed 0 645px,#6ed 0 646px,#8ea 0 649px,#9ea 0 650px,#7ec 0 653px,#9ea 0 655px,#7ec 0 658px,#4cf 0 660px,#7ed 0 661px,#6de 0 664px,#6ed 0 666px,#6de 0 668px,#7ed 0 670px,#8ea 0 671px,#8eb 0 673px,#6de 0 675px,#7ec 0 679px,#8eb 0 681px,#7ec 0 683px,#5cf 0 684px,#6ee 0 686px,#8eb 0 691px,#7ec 0 693px,#5de 0 695px,#8eb 0 698px,#7ec 0 699px,#aea 0 702px,#9ea 0 707px,#6ed 0 708px,#8ea 0 710px,#bfa 0 712px,#7ed 0 714px,#9ea 0 717px,#7ec 0 718px,#9ea 0 720px,#8ea 0 721px,#6ed 0 723px,#7ec 0 725px,#9ea 0 728px,#7ec 0 731px,#8ea 0 732px,#6ed 0 735px,#bfa 0 739px,#7ec 0 741px,#8eb 0 743px,#8ea 0 745px,#8eb 0 747px,#aea 0 748px,#7ed 0 751px,#9ea 0 754px,#aea 0 757px,#9ea 0 759px,#aea 0 761px,#6ed 0 763px,#7ed 0 765px,#bfa 0 768px,#8eb 0 772px,#9ea 0 775px,#7ec 0 778px,#8ea 0 780px,#df9 0 784px,#9ea 0 786px,#bfa 0 794px,#df9 0 796px,#7ec 0 798px,#bfa 0 801px,#aea 0 807px,#df9 0 810px,#bfa 0 815px,#cfa 0 818px,#aea 0 822px,#afa 0 824px,#de8 0 827px,#9ea 0 833px,#aea 0 837px,#de8 0 840px,#bfa 0 849px,#de8 0 853px,#bfa 0 857px,#de8 0 862px,#cfa 0 865px,#cf9 0 868px,#de8 0 869px,#cf9 869px,#9ea 876px,#cf9 881px,#aea 889px,#bfa 895px,#cf9 899px,#bfa 904px,#bfa 913px,#cf9 920px,#df9 927px,#df9 937px,#aea 948px,#ee8 959px,#cf9 969px,#df9 979px,#ee7 990px,#de8 998px,#df9 1006px,#de8 1014px,#df9 1028px,#df9 1035px,#aea 1046px,#de8 1060px,#bfa 1069px,#de8 1080px,#cfa 1099px,#de8 1115px,#cf9 1132px,#cfa 1150px,#cefea0 1154px,#cdffa2 1159px,#bcfaa5 1194px,#acf5a8 1204px,#8aecae 1224px,#7cebc8 1251px,#73ebd4 1264px,#6aebe1 1304px,#61e1f0 1331px,#52d6f8 1344px,#44caff 1384px,#40c8ff 1414px)"></div><div style="left:832.8px;width:39.4px;background:linear-gradient(#0a0079 104px,#107 0 164px,#209 0 166px,#108 0 169px,#107 0 173px,#209 0 175px,#107 0 177px,#209 0 179px,#108 0 181px,#208 0 183px,#20a 0 189px,#10a 0 190px,#10b 0 195px,#208 0 196px,#10b 0 198px,#01c 0 200px,#20a 0 203px,#01c 0 205px,#20a 0 208px,#01c 0 211px,#02d 0 212px,#01c 0 217px,#10b 0 218px,#10a 0 220px,#01c 0 221px,#02d 0 223px,#01c 0 228px,#10a 0 230px,#01c 0 233px,#208 0 235px,#10b 0 238px,#10a 0 240px,#02d 0 245px,#209 0 246px,#01c 0 249px,#02d 0 250px,#15e 0 252px,#00b 0 254px,#15e 0 255px,#02d 0 257px,#14e 0 260px,#02d 0 261px,#03d 0 263px,#14e 0 267px,#16e 0 268px,#17e 0 271px,#02d 0 272px,#01c 0 274px,#16e 0 278px,#17e 0 280px,#1af 0 281px,#15e 0 283px,#14e 0 284px,#17e 0 285px,#18f 0 288px,#19f 0 289px,#14e 0 291px,#2af 0 294px,#18f 0 297px,#03d 0 298px,#1af 0 299px,#17e 0 301px,#26e 0 303px,#15e 0 304px,#2af 0 305px,#19f 0 310px,#16e 0 312px,#2af 0 315px,#18f 0 318px,#1af 0 321px,#15e 0 324px,#2bf 0 325px,#3bf 0 328px,#26e 0 330px,#2bf 0 332px,#4cf 0 334px,#3bf 0 336px,#19f 0 339px,#2bf 0 340px,#3bf 0 342px,#18f 0 345px,#2bf 0 351px,#1af 0 353px,#2af 0 354px,#3bf 0 356px,#5df 0 358px,#4cf 0 361px,#2af 0 364px,#3bf 0 367px,#4cf 0 372px,#3bf 0 376px,#4cf 0 380px,#2bf 0 383px,#3bf 0 384px,#1af 0 387px,#3cf 0 389px,#17e 0 391px,#2bf 0 393px,#4cf 0 395px,#3bf 0 397px,#4cf 0 400px,#5df 0 402px,#4cf 0 404px,#6de 0 407px,#2bf 0 409px,#4cf 0 412px,#6de 0 414px,#4cf 0 415px,#5df 0 417px,#4cf 0 419px,#6de 0 420px,#4cf 0 423px,#3cf 0 425px,#6de 0 427px,#18f 0 429px,#5df 0 430px,#5de 0 433px,#6ed 0 435px,#5cf 0 438px,#5df 0 441px,#4cf 0 444px,#3bf 0 446px,#6de 0 448px,#4cf 0 454px,#5de 0 457px,#3bf 0 460px,#6de 0 462px,#6ee 0 464px,#5df 0 465px,#4cf 0 466px,#3cf 0 469px,#4cf 0 471px,#6de 0 474px,#4cf 0 475px,#6de 0 480px,#3bf 0 482px,#6de 0 484px,#5df 0 486px,#6ee 0 489px,#4cf 0 491px,#6de 0 492px,#5df 0 495px,#4cf 0 496px,#5de 0 497px,#6de 0 499px,#6ed 0 501px,#5de 0 504px,#6de 0 505px,#6ed 0 507px,#3bf 0 509px,#6ed 0 510px,#6de 0 512px,#4cf 0 514px,#7ed 0 515px,#6de 0 518px,#7ed 0 521px,#5cf 0 523px,#6de 0 527px,#5df 0 529px,#6ed 0 531px,#5df 0 533px,#6ee 0 535px,#4cf 0 537px,#6de 0 540px,#2bf 0 542px,#4cf 0 545px,#5df 0 546px,#6de 0 547px,#6ed 0 549px,#4cf 0 551px,#7ec 0 552px,#6ee 0 554px,#7ed 0 557px,#5cf 0 558px,#7ed 0 560px,#7ec 0 561px,#6de 0 563px,#5df 0 566px,#6de 0 570px,#3cf 0 573px,#6ee 0 574px,#7ed 0 576px,#6ed 0 579px,#6ee 0 580px,#5de 0 583px,#6ee 0 585px,#5de 0 587px,#4cf 0 588px,#7ed 0 591px,#3bf 0 592px,#6ed 0 600px,#4cf 0 602px,#8eb 0 605px,#6ed 0 606px,#8eb 0 609px,#3bf 0 611px,#7eb 0 614px,#7ec 0 615px,#6ed 0 616px,#7ec 0 617px,#8ea 0 618px,#6ed 0 620px,#7ed 0 622px,#7ec 0 625px,#6ed 0 626px,#7ec 0 629px,#6ed 0 631px,#7ed 0 633px,#6ed 0 635px,#7ec 0 638px,#5cf 0 639px,#7ec 0 641px,#5cf 0 643px,#8eb 0 646px,#7ec 0 648px,#6ed 0 652px,#7ec 0 654px,#7ed 0 656px,#8eb 0 658px,#6de 0 660px,#6ed 0 664px,#6de 0 666px,#8eb 0 672px,#7ec 0 675px,#8ea 0 677px,#6de 0 679px,#6ed 0 681px,#8ea 0 685px,#8eb 0 688px,#4cf 0 690px,#7ed 0 691px,#9ea 0 693px,#7ec 0 697px,#5df 0 699px,#8eb 0 701px,#7ec 0 704px,#5de 0 706px,#9ea 0 707px,#6ee 0 709px,#9ea 0 711px,#6de 0 714px,#7ec 0 716px,#8eb 0 719px,#7ed 0 720px,#6ed 0 722px,#9ea 0 724px,#8eb 0 726px,#bfa 0 729px,#6ed 0 730px,#9ea 0 735px,#7ed 0 738px,#8eb 0 741px,#aea 0 747px,#7ed 0 750px,#bfa 0 753px,#6ed 0 755px,#8eb 0 758px,#9ea 0 762px,#aea 0 765px,#bfa 0 769px,#aea 0 770px,#9ea 0 773px,#8eb 0 777px,#aea 0 781px,#8ea 0 785px,#bfa 0 792px,#aea 0 800px,#cf9 0 802px,#aea 0 804px,#cf9 0 806px,#cfa 0 811px,#aea 0 814px,#bfa 0 820px,#8ea 0 823px,#cfa 0 826px,#ee7 0 831px,#df9 0 833px,#de8 0 842px,#ee7 0 848px,#df9 0 851px,#cf9 0 856px,#df9 0 862px,#cfa 0 868px,#aea 0 869px,#de8 869px,#df9 876px,#de8 882px,#de8 888px,#aea 893px,#bfa 899px,#9ea 908px,#aea 915px,#9ea 921px,#df9 928px,#9ea 937px,#df9 947px,#de8 957px,#ee7 965px,#ee7 973px,#ee8 982px,#ee7 994px,#de8 1001px,#ee8 1008px,#de8 1015px,#df8 1026px,#df8 1040px,#ee8 1051px,#ee8 1061px,#de8 1074px,#bfa 1084px,#ee7 1097px,#ee7 1108px,#de8 1119px,#df9 1133px,#cfa 1149px,#c6fda3 1154px,#acf5a8 1168px,#8aecae 1185px,#83ecbb 1194px,#7cebc8 1224px,#6aebe1 1264px,#66e6e8 1304px,#61e1f0 1312px,#44caff 1328px,#32beff 1344px,#26b6ff 1384px,#21b4ff 1414px)"></div><div style="left:872.2px;width:39.4px;background:linear-gradient(#0a0079 104px,#107 0 161px,#108 0 165px,#209 0 169px,#108 0 171px,#209 0 174px,#108 0 176px,#208 0 178px,#209 0 180px,#10a 0 183px,#107 0 185px,#20a 0 188px,#208 0 190px,#00b 0 193px,#107 0 195px,#10b 0 196px,#209 0 197px,#10a 0 200px,#01c 0 201px,#107 0 204px,#01b 0 206px,#10b 0 209px,#01c 0 210px,#10a 0 212px,#01c 0 216px,#02d 0 221px,#01c 0 223px,#02d 0 226px,#209 0 228px,#02c 0 230px,#01c 0 236px,#14e 0 239px,#02d 0 240px,#04d 0 242px,#01c 0 243px,#15e 0 246px,#02d 0 252px,#15e 0 254px,#16e 0 256px,#15e 0 258px,#02d 0 260px,#17e 0 263px,#01c 0 265px,#16e 0 268px,#17e 0 271px,#17f 0 274px,#16e 0 280px,#17e 0 283px,#19f 0 285px,#01c 0 286px,#19f 0 289px,#18f 0 293px,#16e 0 296px,#15e 0 297px,#16e 0 299px,#1af 0 301px,#15e 0 303px,#18f 0 305px,#1af 0 306px,#18f 0 308px,#15e 0 309px,#18f 0 312px,#17f 0 314px,#3bf 0 316px,#03d 0 318px,#19f 0 320px,#2bf 0 323px,#15e 0 324px,#3bf 0 325px,#2af 0 327px,#18f 0 332px,#2af 0 334px,#2bf 0 335px,#2af 0 338px,#3bf 0 343px,#5cf 0 346px,#4cf 0 347px,#2bf 0 348px,#15e 0 351px,#2bf 0 353px,#3bf 0 354px,#4cf 0 356px,#18f 0 358px,#2af 0 360px,#2bf 0 363px,#4cf 0 365px,#5de 0 368px,#4cf 0 370px,#2af 0 371px,#4cf 0 375px,#6de 0 377px,#2af 0 380px,#4cf 0 386px,#3bf 0 389px,#2bf 0 390px,#3bf 0 392px,#5cf 0 393px,#2bf 0 396px,#5de 0 399px,#5cf 0 401px,#3bf 0 402px,#4cf 0 405px,#6de 0 407px,#3bf 0 408px,#5de 0 410px,#3bf 0 412px,#5de 0 415px,#5cf 0 417px,#3bf 0 418px,#5cf 0 420px,#6de 0 421px,#5df 0 423px,#6de 0 426px,#4cf 0 429px,#5cf 0 431px,#4cf 0 440px,#5de 0 443px,#6de 0 444px,#5cf 0 446px,#4cf 0 448px,#6ed 0 450px,#5de 0 451px,#4cf 0 452px,#6ee 0 455px,#3bf 0 456px,#4cf 0 458px,#5de 0 465px,#5df 0 468px,#6de 0 477px,#7ed 0 480px,#4cf 0 482px,#5cf 0 484px,#6de 0 487px,#5de 0 489px,#3bf 0 492px,#3cf 0 493px,#5de 0 494px,#5df 0 497px,#6de 0 500px,#3bf 0 502px,#4cf 0 504px,#5de 0 506px,#4cf 0 508px,#6de 0 510px,#6ed 0 511px,#4cf 0 513px,#5cf 0 516px,#6de 0 520px,#6ed 0 523px,#6de 0 528px,#6ed 0 530px,#4cf 0 533px,#6de 0 534px,#5de 0 536px,#6de 0 538px,#7ec 0 539px,#6de 0 544px,#5de 0 546px,#6de 0 547px,#4cf 0 549px,#6ed 0 551px,#7ec 0 555px,#6de 0 557px,#6ed 0 562px,#7ed 0 565px,#6ee 0 567px,#6ed 0 568px,#4cf 0 573px,#6ee 0 574px,#6ed 0 578px,#6ee 0 581px,#6ed 0 583px,#5de 0 585px,#6ed 0 588px,#7ec 0 590px,#5de 0 593px,#6ed 0 595px,#6de 0 597px,#6ed 0 599px,#6de 0 600px,#7ec 0 602px,#6ed 0 603px,#6ee 0 606px,#7ec 0 608px,#6de 0 610px,#4cf 0 611px,#6ee 0 614px,#4cf 0 616px,#3bf 0 618px,#8eb 0 619px,#6ee 0 621px,#7ed 0 623px,#4cf 0 624px,#6ed 0 625px,#7ed 0 628px,#5de 0 630px,#6de 0 632px,#6ed 0 634px,#7ec 0 637px,#6ed 0 642px,#8eb 0 645px,#6de 0 648px,#6ed 0 650px,#6de 0 653px,#8eb 0 655px,#7ed 0 656px,#6ed 0 659px,#5de 0 661px,#6ed 0 664px,#6de 0 666px,#7ec 0 668px,#7eb 0 671px,#7ed 0 673px,#8ea 0 675px,#7ed 0 677px,#7ec 0 679px,#8ea 0 682px,#7ec 0 686px,#8eb 0 688px,#7ed 0 689px,#7ec 0 696px,#6de 0 698px,#8ea 0 701px,#9ea 0 703px,#8eb 0 704px,#7ec 0 709px,#8eb 0 712px,#7ec 0 714px,#6ee 0 715px,#8ea 0 718px,#8eb 0 722px,#9ea 0 724px,#8eb 0 725px,#6ed 0 728px,#8eb 0 730px,#9ea 0 731px,#aea 0 733px,#8eb 0 736px,#9ea 0 738px,#8eb 0 741px,#9ea 0 744px,#6ee 0 747px,#9ea 0 749px,#8ea 0 750px,#8eb 0 756px,#6ed 0 759px,#8ea 0 762px,#8eb 0 766px,#aea 0 769px,#7ed 0 772px,#8eb 0 774px,#8ea 0 776px,#8eb 0 778px,#6ed 0 780px,#8ea 0 782px,#6ed 0 784px,#7ec 0 790px,#8ea 0 792px,#9ea 0 796px,#aea 0 797px,#cfa 0 802px,#9ea 0 806px,#7ec 0 812px,#9ea 0 814px,#aea 0 818px,#cfa 0 822px,#8eb 0 828px,#bfa 0 834px,#de8 0 837px,#aea 0 840px,#df8 0 843px,#df9 0 849px,#de8 0 854px,#aea 0 861px,#9ea 0 865px,#bfa 0 869px,#bfa 869px,#aea 875px,#bfa 883px,#aea 888px,#bfa 893px,#aea 900px,#9ea 909px,#cfa 915px,#cf9 922px,#8ea 931px,#8ea 938px,#8ea 947px,#cf9 957px,#bfa 967px,#bfa 977px,#bfa 984px,#afa 994px,#cfa 1007px,#cfa 1021px,#bfa 1029px,#cfa 1042px,#aea 1056px,#aea 1068px,#afa 1085px,#aea 1103px,#cfa 1122px,#bfa 1139px,#bfa 1153px,#b5f8a6 1154px,#acf5a8 1194px,#8aecae 1224px,#7cebc8 1244px,#6aebe1 1264px,#66e6e8 1304px,#61e1f0 1324px,#52d6f8 1344px,#44caff 1384px,#40c8ff 1414px)"></div><div style="left:911.6px;width:39.4px;background:linear-gradient(#0a0079 104px,#107 0 157px,#208 0 158px,#209 0 159px,#107 0 162px,#209 0 164px,#108 0 167px,#107 0 169px,#208 0 171px,#108 0 173px,#209 0 176px,#107 0 177px,#108 0 180px,#10b 0 182px,#10a 0 184px,#107 0 186px,#10b 0 188px,#10a 0 191px,#01c 0 194px,#10b 0 196px,#01c 0 198px,#20a 0 200px,#01c 0 207px,#209 0 209px,#01c 0 211px,#02d 0 217px,#10a 0 218px,#01c 0 221px,#02d 0 228px,#01c 0 230px,#10b 0 232px,#02d 0 233px,#10a 0 236px,#01c 0 238px,#02d 0 242px,#10b 0 244px,#01c 0 247px,#02d 0 251px,#00b 0 254px,#02d 0 257px,#01c 0 260px,#26e 0 263px,#15e 0 265px,#01c 0 267px,#03d 0 269px,#17e 0 270px,#16e 0 271px,#26e 0 273px,#17e 0 275px,#16e 0 277px,#17e 0 280px,#17f 0 281px,#18f 0 284px,#17e 0 287px,#1af 0 288px,#17e 0 296px,#18f 0 304px,#1af 0 306px,#2af 0 307px,#3bf 0 309px,#16e 0 311px,#19f 0 313px,#1af 0 315px,#2af 0 317px,#18f 0 318px,#2bf 0 322px,#15e 0 324px,#2af 0 325px,#3bf 0 327px,#2af 0 329px,#03d 0 331px,#14e 0 333px,#2bf 0 334px,#3bf 0 339px,#2bf 0 341px,#3bf 0 344px,#19f 0 345px,#1af 0 348px,#3cf 0 350px,#2bf 0 353px,#4cf 0 357px,#19f 0 359px,#1af 0 361px,#4cf 0 363px,#3bf 0 369px,#4cf 0 371px,#5cf 0 373px,#3bf 0 375px,#2bf 0 376px,#4cf 0 386px,#3bf 0 388px,#5df 0 389px,#4cf 0 392px,#1af 0 395px,#3bf 0 398px,#4cf 0 400px,#3bf 0 405px,#6ee 0 408px,#5cf 0 411px,#1af 0 412px,#6de 0 415px,#3bf 0 418px,#5cf 0 419px,#2bf 0 421px,#3bf 0 423px,#5df 0 425px,#3cf 0 426px,#1af 0 427px,#6de 0 428px,#6ee 0 433px,#3bf 0 434px,#6ee 0 436px,#4cf 0 438px,#6de 0 440px,#4cf 0 443px,#5cf 0 445px,#5de 0 447px,#1af 0 449px,#6de 0 450px,#5cf 0 452px,#6ee 0 455px,#4cf 0 458px,#5de 0 460px,#5df 0 462px,#5de 0 465px,#4cf 0 467px,#5de 0 470px,#5df 0 472px,#3bf 0 475px,#5cf 0 476px,#6ed 0 477px,#4cf 0 478px,#5cf 0 479px,#3bf 0 482px,#5cf 0 483px,#7ed 0 486px,#6ee 0 488px,#6de 0 490px,#4cf 0 492px,#6ee 0 495px,#6ed 0 497px,#3bf 0 499px,#6de 0 501px,#5de 0 505px,#4cf 0 510px,#5de 0 512px,#6de 0 513px,#3bf 0 515px,#7ec 0 517px,#4cf 0 520px,#7ed 0 521px,#6de 0 522px,#6ed 0 524px,#5df 0 526px,#6ed 0 529px,#5de 0 531px,#5cf 0 532px,#6ed 0 535px,#4cf 0 537px,#6ed 0 539px,#7ec 0 542px,#7ed 0 543px,#7ec 0 546px,#5de 0 547px,#6ed 0 550px,#7ec 0 552px,#2bf 0 554px,#6ee 0 557px,#6de 0 559px,#5df 0 560px,#6ed 0 563px,#3bf 0 565px,#4cf 0 566px,#6de 0 567px,#6ee 0 569px,#4cf 0 572px,#7ed 0 574px,#7ec 0 577px,#7ed 0 578px,#6de 0 579px,#7ec 0 584px,#6ed 0 585px,#6de 0 588px,#6ee 0 590px,#7ec 0 592px,#6de 0 593px,#6ed 0 596px,#7ec 0 599px,#6ee 0 601px,#6ed 0 603px,#8eb 0 606px,#7ec 0 610px,#8eb 0 612px,#6ed 0 614px,#5de 0 617px,#7eb 0 619px,#7ec 0 621px,#6ed 0 627px,#6ee 0 629px,#4cf 0 632px,#6ed 0 633px,#7ed 0 635px,#6ee 0 636px,#7ec 0 647px,#8ea 0 650px,#8eb 0 651px,#6ed 0 657px,#6de 0 660px,#8ea 0 662px,#9ea 0 664px,#8eb 0 667px,#7eb 0 669px,#4cf 0 672px,#9ea 0 675px,#7ec 0 677px,#8eb 0 678px,#7ec 0 681px,#7ed 0 685px,#8eb 0 687px,#6ed 0 689px,#8eb 0 691px,#7ec 0 694px,#9ea 0 696px,#aea 0 697px,#8eb 0 699px,#7eb 0 700px,#8ea 0 702px,#6de 0 703px,#8eb 0 706px,#6ed 0 707px,#9ea 0 710px,#8ea 0 711px,#7ed 0 713px,#8eb 0 714px,#aea 0 715px,#8eb 0 719px,#8ea 0 721px,#8eb 0 725px,#8ea 0 730px,#8eb 0 732px,#7ec 0 734px,#aea 0 736px,#7ec 0 737px,#afa 0 739px,#8ea 0 740px,#9ea 0 743px,#aea 0 745px,#7ec 0 746px,#aea 0 749px,#cfa 0 750px,#bfa 0 753px,#8ea 0 754px,#9ea 0 757px,#8eb 0 761px,#8ea 0 763px,#bfa 0 764px,#9ea 0 766px,#7ec 0 769px,#bfa 0 778px,#aea 0 781px,#9ea 0 785px,#7ec 0 788px,#9ea 0 792px,#7ec 0 794px,#bfa 0 797px,#cfa 0 801px,#aea 0 805px,#df9 0 806px,#cfa 0 810px,#df9 0 815px,#bfa 0 819px,#9ea 0 822px,#df9 0 826px,#de8 0 830px,#cf9 0 833px,#de8 0 835px,#8ea 0 841px,#cf9 0 845px,#cfa 0 851px,#ee8 0 855px,#df9 0 860px,#bfa 0 864px,#aea 0 867px,#de8 0 869px,#de8 869px,#9ea 875px,#bfa 883px,#cf9 890px,#aea 897px,#aea 903px,#df9 910px,#de8 915px,#cf9 922px,#de8 933px,#aea 939px,#bfa 948px,#9ea 956px,#cf9 962px,#de8 970px,#de8 979px,#9ea 988px,#de8 998px,#cfa 1011px,#cf9 1024px,#de8 1039px,#bfa 1050px,#cfa 1060px,#de8 1075px,#df9 1085px,#de8 1100px,#de8 1119px,#cf9 1129px,#df9 1141px,#d2fc9c 1154px,#cdffa2 1194px,#acf5a8 1214px,#9bf0ab 1224px,#8aecae 1237px,#7cebc8 1264px,#6aebe1 1304px,#61e1f0 1331px,#52d6f8 1344px,#44caff 1384px,#40c8ff 1414px)"></div><div style="left:950.9px;width:39.4px;background:linear-gradient(#0a0079 104px,#107 0 159px,#209 0 161px,#107 0 164px,#209 0 166px,#10a 0 168px,#209 0 171px,#108 0 176px,#209 0 178px,#20a 0 181px,#209 0 183px,#10b 0 185px,#209 0 188px,#01c 0 195px,#10b 0 197px,#01c 0 199px,#02d 0 201px,#10b 0 204px,#01c 0 206px,#10a 0 207px,#02d 0 213px,#10b 0 215px,#01c 0 217px,#02d 0 220px,#01c 0 224px,#02d 0 228px,#01c 0 229px,#02d 0 240px,#03d 0 241px,#02d 0 243px,#14e 0 246px,#15e 0 249px,#17e 0 251px,#10b 0 253px,#14e 0 256px,#02d 0 258px,#18f 0 260px,#02d 0 261px,#00b 0 264px,#15e 0 265px,#14e 0 267px,#01c 0 270px,#15e 0 271px,#16e 0 272px,#14e 0 275px,#16e 0 277px,#17e 0 279px,#01c 0 280px,#03d 0 283px,#15e 0 286px,#19f 0 288px,#2af 0 289px,#14e 0 291px,#19f 0 293px,#2bf 0 295px,#19f 0 298px,#18f 0 300px,#1af 0 302px,#18f 0 305px,#17e 0 306px,#02d 0 308px,#18f 0 310px,#2bf 0 311px,#2af 0 313px,#17e 0 315px,#2bf 0 316px,#2af 0 319px,#3bf 0 321px,#16e 0 323px,#2bf 0 325px,#3bf 0 327px,#2af 0 330px,#1af 0 332px,#2bf 0 334px,#2af 0 335px,#18f 0 338px,#14e 0 340px,#3bf 0 341px,#19f 0 344px,#4cf 0 347px,#3cf 0 348px,#3bf 0 356px,#1af 0 357px,#4cf 0 362px,#5cf 0 364px,#17e 0 367px,#4cf 0 369px,#3bf 0 374px,#4cf 0 375px,#5de 0 378px,#3bf 0 383px,#1af 0 384px,#2bf 0 387px,#4cf 0 388px,#3cf 0 391px,#4cf 0 393px,#2bf 0 394px,#5de 0 396px,#3bf 0 397px,#4cf 0 399px,#2af 0 401px,#5de 0 403px,#6de 0 406px,#4cf 0 407px,#2bf 0 410px,#5cf 0 412px,#5de 0 414px,#4cf 0 415px,#6de 0 419px,#18f 0 421px,#6de 0 425px,#5de 0 429px,#4cf 0 431px,#5cf 0 433px,#4cf 0 435px,#6ee 0 437px,#4cf 0 438px,#6de 0 441px,#5df 0 442px,#5de 0 444px,#4cf 0 449px,#3bf 0 450px,#19f 0 453px,#6de 0 456px,#4cf 0 458px,#6de 0 461px,#5df 0 464px,#2bf 0 465px,#4cf 0 467px,#6de 0 470px,#2bf 0 472px,#6ee 0 473px,#6de 0 475px,#4cf 0 477px,#6de 0 479px,#2bf 0 481px,#5de 0 482px,#6ee 0 485px,#6ed 0 490px,#6ee 0 491px,#5de 0 493px,#6ed 0 495px,#5cf 0 496px,#6ed 0 497px,#5de 0 500px,#4cf 0 504px,#7ec 0 505px,#6de 0 508px,#3bf 0 511px,#6de 0 513px,#6ed 0 515px,#5cf 0 517px,#4cf 0 518px,#7ed 0 520px,#6de 0 525px,#6ed 0 528px,#5de 0 530px,#6ee 0 531px,#4cf 0 534px,#6ee 0 536px,#3bf 0 538px,#6ed 0 540px,#5de 0 544px,#6de 0 547px,#7ed 0 549px,#6de 0 551px,#7ec 0 558px,#6ed 0 559px,#6ee 0 562px,#4cf 0 564px,#6de 0 567px,#6ee 0 568px,#7ec 0 571px,#7ed 0 574px,#6ed 0 576px,#7ec 0 580px,#6ed 0 582px,#7ec 0 584px,#4cf 0 587px,#7ec 0 592px,#6de 0 594px,#6ee 0 595px,#7ec 0 597px,#5de 0 600px,#7ed 0 602px,#7ec 0 604px,#6ed 0 607px,#8eb 0 608px,#6ee 0 610px,#6de 0 613px,#6ee 0 616px,#8eb 0 617px,#6de 0 619px,#7ed 0 620px,#7ec 0 625px,#5de 0 627px,#7ed 0 630px,#8eb 0 633px,#7ec 0 636px,#8eb 0 638px,#8ea 0 640px,#6ed 0 642px,#7ec 0 646px,#8ea 0 647px,#5df 0 649px,#6ed 0 650px,#7ec 0 654px,#7eb 0 655px,#9ea 0 658px,#6ed 0 660px,#6ee 0 663px,#7eb 0 664px,#7ed 0 665px,#7eb 0 667px,#6ed 0 669px,#7ed 0 672px,#8eb 0 677px,#7ec 0 678px,#6ed 0 680px,#8eb 0 683px,#7ec 0 691px,#9ea 0 694px,#8eb 0 696px,#6ed 0 698px,#8eb 0 699px,#8ea 0 702px,#6de 0 704px,#4cf 0 705px,#8eb 0 707px,#8ea 0 709px,#9ea 0 711px,#8eb 0 714px,#8ea 0 716px,#8eb 0 721px,#7ec 0 723px,#aea 0 724px,#6ed 0 727px,#9ea 0 729px,#8eb 0 731px,#aea 0 732px,#8ea 0 734px,#6ed 0 736px,#9ea 0 738px,#bfa 0 740px,#aea 0 742px,#9ea 0 745px,#8ea 0 747px,#7ec 0 749px,#8eb 0 752px,#afa 0 755px,#6ed 0 757px,#9ea 0 760px,#bfa 0 762px,#8eb 0 766px,#bfa 0 771px,#7ec 0 773px,#9ea 0 777px,#8eb 0 779px,#bfa 0 781px,#9ea 0 785px,#bfa 0 787px,#7ec 0 792px,#bfa 0 796px,#cf9 0 798px,#9ea 0 801px,#8eb 0 805px,#de8 0 809px,#9ea 0 811px,#aea 0 815px,#cf9 0 818px,#de8 0 820px,#9ea 0 821px,#cf9 0 825px,#de8 0 830px,#bfa 0 834px,#ee7 0 836px,#ee8 0 838px,#ed7 0 840px,#bfa 0 843px,#ed7 0 847px,#de8 0 858px,#ee8 0 864px,#bfa 0 869px,#aea 869px,#de8 873px,#ee7 880px,#aea 885px,#bfa 893px,#bfa 901px,#de8 906px,#bfa 912px,#cfa 922px,#bfa 932px,#cf9 943px,#ee7 954px,#de8 961px,#aea 969px,#de8 979px,#ee8 987px,#de8 999px,#de8 1008px,#de8 1021px,#ee7 1036px,#ee7 1050px,#ee8 1063px,#de8 1078px,#ee8 1092px,#ee8 1104px,#ee8 1119px,#bfa 1139px,#d6fa98 1154px,#cdffa2 1164px,#acf5a8 1184px,#9bf0ab 1194px,#8aecae 1209px,#83ecbb 1224px,#7cebc8 1264px,#6aebe1 1291px,#66e6e8 1304px,#61e1f0 1317px,#44caff 1344px,#37c2ff 1384px,#34bfff 1414px)"></div><div style="left:990.3px;width:39.4px;background:linear-gradient(#0a0079 104px,#107 0 154px,#108 0 162px,#209 0 164px,#107 0 166px,#20a 0 171px,#108 0 173px,#208 0 174px,#209 0 176px,#20a 0 177px,#108 0 180px,#209 0 182px,#10b 0 185px,#20a 0 186px,#107 0 187px,#10b 0 189px,#10a 0 190px,#10b 0 192px,#107 0 194px,#01c 0 196px,#10a 0 197px,#108 0 200px,#01c 0 201px,#10b 0 204px,#108 0 206px,#01c 0 209px,#00b 0 211px,#209 0 214px,#02d 0 217px,#10b 0 218px,#01c 0 222px,#00b 0 224px,#20a 0 226px,#02d 0 230px,#10b 0 232px,#02d 0 236px,#01c 0 238px,#02d 0 239px,#01c 0 243px,#02d 0 244px,#03d 0 246px,#02d 0 248px,#03d 0 249px,#14e 0 252px,#02d 0 254px,#01c 0 256px,#16e 0 258px,#02d 0 265px,#15e 0 267px,#17e 0 269px,#02d 0 271px,#17e 0 273px,#17f 0 275px,#19f 0 277px,#01c 0 280px,#1af 0 282px,#16e 0 284px,#1af 0 285px,#01c 0 287px,#18f 0 289px,#16e 0 291px,#2af 0 294px,#14e 0 296px,#19f 0 298px,#17e 0 299px,#1af 0 301px,#19f 0 303px,#2bf 0 304px,#18f 0 306px,#15e 0 307px,#2af 0 310px,#19f 0 311px,#1af 0 312px,#18f 0 315px,#2bf 0 316px,#3bf 0 321px,#16e 0 322px,#3bf 0 324px,#17e 0 326px,#4cf 0 327px,#1af 0 329px,#18f 0 332px,#2bf 0 336px,#3bf 0 340px,#19f 0 341px,#3bf 0 343px,#18f 0 344px,#3bf 0 347px,#19f 0 349px,#4cf 0 352px,#3bf 0 355px,#4cf 0 357px,#2af 0 358px,#4cf 0 360px,#3bf 0 362px,#1af 0 363px,#2bf 0 365px,#26e 0 368px,#3bf 0 371px,#3cf 0 372px,#2af 0 375px,#5cf 0 377px,#3bf 0 380px,#4cf 0 383px,#3cf 0 385px,#3bf 0 389px,#19f 0 390px,#2bf 0 392px,#4cf 0 393px,#5cf 0 395px,#2bf 0 396px,#4cf 0 398px,#1af 0 399px,#19f 0 400px,#3bf 0 403px,#4cf 0 405px,#19f 0 407px,#6de 0 409px,#4cf 0 413px,#3bf 0 416px,#4cf 0 420px,#3bf 0 422px,#5de 0 424px,#5cf 0 427px,#5df 0 429px,#5cf 0 432px,#19f 0 433px,#5de 0 435px,#4cf 0 440px,#6ee 0 442px,#4cf 0 444px,#3bf 0 446px,#6de 0 449px,#5de 0 453px,#19f 0 454px,#5df 0 456px,#6de 0 460px,#4cf 0 462px,#6de 0 467px,#19f 0 470px,#5de 0 472px,#6de 0 474px,#3bf 0 475px,#6de 0 479px,#5df 0 482px,#6ed 0 484px,#6de 0 486px,#5df 0 488px,#3bf 0 490px,#4cf 0 495px,#5df 0 496px,#5de 0 499px,#6ee 0 502px,#5cf 0 505px,#6ed 0 507px,#4cf 0 508px,#1af 0 510px,#6de 0 511px,#6ed 0 512px,#2bf 0 514px,#5de 0 516px,#5df 0 519px,#6ee 0 531px,#6ed 0 532px,#6de 0 534px,#6ed 0 536px,#6de 0 538px,#5cf 0 541px,#7ec 0 542px,#3bf 0 544px,#4cf 0 546px,#2af 0 547px,#6de 0 548px,#7ed 0 549px,#6de 0 551px,#6ed 0 556px,#5de 0 562px,#6ed 0 566px,#5de 0 568px,#7ec 0 570px,#6ee 0 572px,#4cf 0 573px,#7ed 0 576px,#6ee 0 578px,#6ed 0 581px,#6de 0 582px,#6ed 0 585px,#5de 0 587px,#7ec 0 589px,#7ed 0 590px,#4cf 0 592px,#7ec 0 594px,#6de 0 596px,#6ee 0 599px,#6de 0 603px,#6ed 0 606px,#6de 0 609px,#6ee 0 611px,#6de 0 613px,#5de 0 615px,#6ee 0 617px,#5de 0 619px,#6ed 0 621px,#6ee 0 623px,#7ec 0 626px,#6de 0 631px,#7ec 0 638px,#8eb 0 642px,#7eb 0 644px,#6ed 0 647px,#7ed 0 648px,#6de 0 649px,#7ed 0 651px,#8eb 0 653px,#7ed 0 655px,#6de 0 656px,#6ed 0 659px,#8eb 0 660px,#7ec 0 662px,#8eb 0 663px,#7ec 0 667px,#8eb 0 669px,#6de 0 672px,#7ec 0 674px,#4cf 0 676px,#9ea 0 677px,#7ed 0 684px,#6ed 0 686px,#7ed 0 689px,#8ea 0 691px,#8eb 0 692px,#9ea 0 696px,#8eb 0 699px,#5cf 0 701px,#aea 0 704px,#7eb 0 705px,#8ea 0 710px,#7ed 0 712px,#7eb 0 714px,#8ea 0 716px,#8eb 0 717px,#7eb 0 720px,#8eb 0 723px,#8ea 0 725px,#7eb 0 726px,#aea 0 727px,#8ea 0 730px,#7ec 0 731px,#6ed 0 734px,#9ea 0 736px,#8ea 0 738px,#7ec 0 739px,#8eb 0 742px,#7ec 0 745px,#6ed 0 748px,#aea 0 752px,#8eb 0 758px,#7eb 0 761px,#7ec 0 765px,#9ea 0 767px,#7ec 0 769px,#8eb 0 776px,#8ea 0 781px,#7ec 0 783px,#8eb 0 788px,#9ea 0 790px,#cfa 0 794px,#bfa 0 798px,#cfa 0 801px,#9ea 0 804px,#7eb 0 808px,#cf9 0 812px,#afa 0 815px,#cf9 0 816px,#8ea 0 821px,#bfa 0 826px,#9ea 0 829px,#de8 0 831px,#df9 0 836px,#bfa 0 842px,#df9 0 845px,#bfa 0 848px,#ee7 0 850px,#de8 0 854px,#ee7 0 857px,#de8 0 861px,#df9 0 867px,#cf9 0 869px,#cfa 869px,#bfa 874px,#cf9 881px,#bfa 889px,#8ea 897px,#8eb 902px,#aea 907px,#cf9 913px,#9ea 921px,#bfa 929px,#afa 938px,#cf9 948px,#cfa 958px,#cfa 970px,#de8 982px,#de8 995px,#ee8 1005px,#de8 1014px,#cfa 1029px,#de8 1037px,#de8 1045px,#ee7 1058px,#ee8 1071px,#df9 1086px,#ee7 1096px,#ee7 1111px,#df9 1128px,#cf9 1147px,#cefea0 1154px,#cdffa2 1159px,#bcfaa5 1194px,#acf5a8 1204px,#8aecae 1224px,#7cebc8 1244px,#6aebe1 1264px,#61e1f0 1280px,#44caff 1296px,#3bc4ff 1304px,#32beff 1314px,#19afff 1334px,#1398fc 1344px,#0d81f8 1373px,#107cf6 1384px,#1276f5 1414px)"></div><div style="left:1029.7px;width:39.4px;background:linear-gradient(#0a0079 104px,#107 0 114px,#208 0 116px,#107 0 121px,#108 0 124px,#10a 0 126px,#107 0 128px,#209 0 129px,#01b 0 132px,#107 0 135px,#209 0 137px,#10b 0 140px,#01c 0 145px,#10a 0 149px,#208 0 150px,#20a 0 152px,#10b 0 155px,#01c 0 160px,#10a 0 162px,#02d 0 164px,#208 0 167px,#01c 0 169px,#00b 0 171px,#209 0 172px,#02d 0 173px,#10a 0 175px,#02d 0 179px,#01c 0 181px,#02d 0 184px,#10b 0 185px,#10a 0 186px,#01c 0 190px,#03d 0 191px,#02d 0 193px,#03d 0 195px,#02d 0 197px,#14e 0 199px,#26e 0 200px,#16e 0 201px,#02d 0 207px,#03d 0 209px,#10a 0 211px,#16e 0 213px,#02d 0 216px,#15e 0 218px,#14e 0 219px,#15e 0 220px,#17e 0 222px,#02d 0 224px,#16e 0 226px,#18f 0 229px,#17e 0 231px,#26e 0 234px,#17f 0 236px,#14e 0 237px,#16e 0 239px,#17e 0 241px,#01c 0 243px,#02d 0 245px,#18f 0 246px,#2bf 0 248px,#17e 0 251px,#16e 0 252px,#19f 0 254px,#17e 0 257px,#02d 0 258px,#1af 0 260px,#2af 0 263px,#3bf 0 266px,#18f 0 269px,#1af 0 271px,#2bf 0 273px,#1af 0 274px,#19f 0 278px,#2af 0 280px,#3bf 0 281px,#1af 0 283px,#3bf 0 286px,#26e 0 287px,#3bf 0 289px,#2bf 0 292px,#3bf 0 293px,#1af 0 296px,#3bf 0 298px,#2bf 0 300px,#3bf 0 301px,#5cf 0 303px,#2bf 0 305px,#4cf 0 306px,#3bf 0 308px,#5de 0 310px,#19f 0 312px,#3bf 0 315px,#4cf 0 316px,#3bf 0 317px,#5cf 0 320px,#17f 0 322px,#3bf 0 324px,#4cf 0 328px,#3bf 0 331px,#5de 0 332px,#3bf 0 334px,#4cf 0 337px,#2bf 0 339px,#5de 0 341px,#3bf 0 342px,#2bf 0 345px,#4cf 0 347px,#17e 0 349px,#3bf 0 350px,#5de 0 353px,#3bf 0 355px,#5de 0 358px,#4cf 0 359px,#3bf 0 360px,#4cf 0 361px,#2bf 0 364px,#3cf 0 366px,#4cf 0 371px,#6de 0 373px,#5de 0 375px,#4cf 0 379px,#5de 0 382px,#4cf 0 384px,#6de 0 387px,#6ee 0 394px,#5cf 0 396px,#6ee 0 397px,#4cf 0 399px,#5de 0 404px,#6ee 0 406px,#6de 0 408px,#6ed 0 414px,#4cf 0 416px,#6ed 0 418px,#7ec 0 420px,#6de 0 423px,#6ed 0 425px,#6de 0 427px,#5de 0 429px,#6ed 0 431px,#2bf 0 434px,#6de 0 436px,#6ee 0 439px,#5de 0 440px,#5df 0 442px,#3cf 0 444px,#5de 0 447px,#6ed 0 449px,#6de 0 450px,#7ed 0 452px,#6de 0 454px,#5df 0 456px,#6ee 0 457px,#8eb 0 459px,#4cf 0 462px,#6ed 0 468px,#7ec 0 470px,#8ea 0 471px,#8eb 0 474px,#4cf 0 476px,#8eb 0 477px,#7ed 0 480px,#8eb 0 481px,#7ed 0 482px,#7ec 0 487px,#7ed 0 489px,#7ec 0 491px,#5de 0 492px,#8eb 0 494px,#6de 0 496px,#7ec 0 498px,#9ea 0 499px,#6de 0 500px,#7ec 0 502px,#8eb 0 506px,#7ed 0 507px,#6ed 0 510px,#8eb 0 515px,#6de 0 516px,#8eb 0 525px,#7ec 0 530px,#6ed 0 532px,#8ea 0 534px,#7ec 0 538px,#aea 0 539px,#7ec 0 541px,#8eb 0 547px,#8ea 0 549px,#8eb 0 550px,#8ea 0 554px,#6ed 0 556px,#7ec 0 558px,#9ea 0 561px,#8eb 0 563px,#7ed 0 565px,#8eb 0 568px,#8ea 0 570px,#9ea 0 572px,#8eb 0 573px,#7ec 0 575px,#8eb 0 580px,#7ec 0 581px,#9ea 0 584px,#5df 0 585px,#9ea 0 586px,#5de 0 589px,#8eb 0 592px,#8ea 0 593px,#aea 0 595px,#9ea 0 597px,#8eb 0 599px,#6ed 0 600px,#8eb 0 603px,#7ed 0 604px,#8ea 0 609px,#8eb 0 610px,#7ec 0 612px,#8eb 0 613px,#bfa 0 615px,#aea 0 617px,#9ea 0 620px,#bfa 0 621px,#7eb 0 622px,#8ea 0 626px,#7ec 0 628px,#8eb 0 630px,#7ed 0 632px,#9ea 0 634px,#cfa 0 636px,#8ea 0 638px,#9ea 0 639px,#cfa 0 641px,#aea 0 648px,#cf9 0 652px,#bfa 0 655px,#cfa 0 657px,#bfa 0 662px,#aea 0 663px,#6ee 0 666px,#aea 0 669px,#bfa 0 676px,#7ed 0 679px,#9ea 0 681px,#aea 0 683px,#df9 0 684px,#cfa 0 686px,#bfa 0 688px,#cfa 0 690px,#cf9 0 694px,#8ea 0 695px,#cfa 0 697px,#aea 0 698px,#8ea 0 700px,#cfa 0 701px,#cf9 0 703px,#8ea 0 704px,#cfa 0 706px,#8eb 0 708px,#aea 0 710px,#8eb 0 711px,#afa 0 714px,#cf9 0 716px,#ee8 0 718px,#9ea 0 719px,#bfa 0 723px,#cf9 0 725px,#df9 0 729px,#cf9 0 732px,#ee7 0 735px,#de8 0 738px,#ee8 0 740px,#de8 0 743px,#ee7 0 745px,#cf9 0 748px,#de8 0 750px,#bfa 0 753px,#de8 0 755px,#cfa 0 759px,#df9 0 761px,#cf9 0 765px,#bfa 0 769px,#de8 0 771px,#cfa 0 773px,#de8 0 778px,#ee7 0 782px,#de8 0 785px,#ed7 0 788px,#afa 0 793px,#cf9 0 795px,#ee7 0 800px,#ee8 0 804px,#bfa 0 808px,#ee8 0 813px,#fc6 0 815px,#ee7 0 819px,#ee8 0 824px,#ee7 0 830px,#fd6 0 832px,#ee7 0 835px,#ee8 0 839px,#fc5 0 850px,#ee7 0 855px,#cf9 0 860px,#ee7 0 866px,#ed7 0 869px,#ee7 869px,#cf9 874px,#de8 878px,#ee7 885px,#ee7 893px,#df9 900px,#ed6 906px,#ee8 914px,#cfa 919px,#ed7 928px,#ee7 939px,#fc6 948px,#ed6 957px,#fd6 966px,#fc6 973px,#fc6 981px,#ed6 993px,#ed6 1001px,#ed7 1009px,#ee8 1016px,#de8 1026px,#fc6 1035px,#fc6 1049px,#fb5 1061px,#fc6 1072px,#de8 1088px,#ee8 1099px,#df9 1112px,#de8 1122px,#df9 1134px,#df9 1153px,#d7f996 1154px,#cdffa2 1194px,#cdffa2 1224px,#bcfaa5 1264px,#acf5a8 1269px,#8aecae 1279px,#7cebc8 1289px,#6aebe1 1299px,#66e6e8 1304px,#61e1f0 1312px,#44caff 1328px,#32beff 1344px,#21b4ff 1384px,#1cb1ff 1414px)"></div><div style="left:1069.1px;width:39.4px;background:linear-gradient(#0a0079 104px,#107 0 109px,#108 0 112px,#107 0 113px,#108 0 115px,#107 0 121px,#209 0 123px,#107 0 124px,#209 0 127px,#208 0 129px,#209 0 131px,#107 0 133px,#10a 0 134px,#209 0 137px,#108 0 139px,#10b 0 141px,#10a 0 143px,#10b 0 145px,#20a 0 148px,#209 0 151px,#10a 0 154px,#209 0 157px,#00b 0 159px,#01b 0 162px,#10a 0 164px,#01c 0 165px,#107 0 166px,#10b 0 171px,#01c 0 175px,#02d 0 178px,#01c 0 182px,#02d 0 184px,#01c 0 185px,#01b 0 186px,#01c 0 187px,#02d 0 189px,#00b 0 191px,#01c 0 193px,#02d 0 195px,#01c 0 196px,#10a 0 197px,#14e 0 200px,#02d 0 203px,#01c 0 205px,#02d 0 218px,#01c 0 221px,#10b 0 222px,#02d 0 224px,#01c 0 225px,#02d 0 227px,#01b 0 228px,#03d 0 230px,#19f 0 233px,#18f 0 235px,#15e 0 236px,#02d 0 238px,#1af 0 241px,#19f 0 244px,#17f 0 245px,#18f 0 249px,#17e 0 251px,#16e 0 253px,#1af 0 255px,#15e 0 257px,#19f 0 258px,#17e 0 261px,#02d 0 264px,#16e 0 267px,#17e 0 269px,#18f 0 271px,#19f 0 272px,#4cf 0 275px,#2bf 0 277px,#16e 0 279px,#3bf 0 281px,#2bf 0 283px,#3bf 0 284px,#16e 0 287px,#1af 0 288px,#3bf 0 290px,#2bf 0 293px,#3bf 0 294px,#2bf 0 296px,#18f 0 298px,#1af 0 300px,#2bf 0 302px,#3cf 0 304px,#4cf 0 309px,#3bf 0 316px,#5df 0 319px,#15e 0 322px,#1af 0 324px,#4cf 0 325px,#2bf 0 328px,#6de 0 329px,#4cf 0 331px,#17e 0 332px,#5de 0 334px,#5df 0 336px,#1af 0 338px,#4cf 0 340px,#3bf 0 342px,#3cf 0 345px,#5de 0 348px,#3cf 0 351px,#3bf 0 352px,#18f 0 355px,#3bf 0 357px,#4cf 0 359px,#5cf 0 360px,#6de 0 365px,#4cf 0 368px,#5de 0 369px,#2af 0 370px,#6de 0 372px,#4cf 0 375px,#5df 0 376px,#2af 0 378px,#5cf 0 379px,#4cf 0 381px,#5de 0 384px,#6de 0 386px,#4cf 0 388px,#3bf 0 392px,#2af 0 395px,#6ee 0 398px,#4cf 0 399px,#3bf 0 401px,#6de 0 403px,#5de 0 405px,#6de 0 408px,#4cf 0 410px,#3bf 0 413px,#6de 0 415px,#7ed 0 418px,#5de 0 421px,#7ed 0 424px,#6ed 0 427px,#6de 0 430px,#6ed 0 435px,#4cf 0 438px,#6ee 0 439px,#7ec 0 441px,#6de 0 443px,#7eb 0 445px,#3bf 0 447px,#7ec 0 448px,#5de 0 450px,#6ed 0 451px,#7ec 0 456px,#5de 0 458px,#6de 0 460px,#6ed 0 462px,#7ec 0 467px,#6ed 0 471px,#6ee 0 474px,#7ec 0 478px,#6de 0 480px,#4cf 0 483px,#7eb 0 485px,#8eb 0 486px,#7ec 0 495px,#6de 0 496px,#7eb 0 498px,#8eb 0 505px,#7ec 0 507px,#8eb 0 508px,#6ed 0 509px,#7ed 0 514px,#8eb 0 515px,#5cf 0 517px,#7ed 0 519px,#7ec 0 522px,#9ea 0 524px,#6ee 0 527px,#8ea 0 529px,#8eb 0 535px,#6de 0 536px,#8eb 0 539px,#7ec 0 541px,#8eb 0 544px,#6ed 0 549px,#6de 0 551px,#9ea 0 552px,#8ea 0 553px,#7ec 0 555px,#8eb 0 557px,#8ea 0 560px,#8eb 0 562px,#5de 0 564px,#6ed 0 566px,#8eb 0 569px,#aea 0 571px,#8eb 0 573px,#7ed 0 575px,#9ea 0 580px,#8eb 0 582px,#7ec 0 589px,#6ed 0 591px,#aea 0 596px,#9ea 0 598px,#7ec 0 602px,#8eb 0 604px,#7eb 0 606px,#7ec 0 609px,#5de 0 611px,#bfa 0 613px,#aea 0 619px,#8eb 0 622px,#7ed 0 624px,#9ea 0 626px,#bfa 0 628px,#8ea 0 630px,#aea 0 633px,#9ea 0 634px,#8eb 0 636px,#aea 0 637px,#8eb 0 640px,#bfa 0 644px,#8eb 0 646px,#9ea 0 649px,#aea 0 651px,#cf9 0 653px,#aea 0 656px,#bfa 0 658px,#cf9 0 661px,#7ec 0 664px,#9ea 0 667px,#aea 0 673px,#cfa 0 674px,#aea 0 677px,#8eb 0 680px,#9ea 0 681px,#cf9 0 684px,#df9 0 686px,#7eb 0 688px,#bfa 0 690px,#cf9 0 693px,#bfa 0 696px,#cfa 0 697px,#9ea 0 699px,#bfa 0 701px,#cfa 0 703px,#de8 0 707px,#df9 0 710px,#afa 0 711px,#df8 0 713px,#aea 0 715px,#de8 0 716px,#df9 0 719px,#cf9 0 721px,#cfa 0 723px,#ee8 0 724px,#cf9 0 726px,#cfa 0 729px,#df9 0 731px,#8ea 0 733px,#cfa 0 735px,#df9 0 737px,#bfa 0 739px,#cf9 0 741px,#aea 0 745px,#ee8 0 748px,#df9 0 752px,#9ea 0 754px,#ee8 0 756px,#cfa 0 758px,#9ea 0 760px,#ee7 0 762px,#cf9 0 764px,#bfa 0 766px,#ee7 0 768px,#cfa 0 770px,#bfa 0 776px,#de8 0 779px,#ee7 0 781px,#de8 0 785px,#ee7 0 789px,#ed7 0 791px,#cf9 0 796px,#ee7 0 806px,#de8 0 811px,#df9 0 815px,#ee7 0 820px,#fc6 0 824px,#de8 0 826px,#ee7 0 830px,#df9 0 833px,#fc6 0 842px,#fb5 0 850px,#ee8 0 852px,#fc6 0 855px,#ee7 0 862px,#df9 0 865px,#fc6 0 869px,#fc5 0 869px,#fc6 869px,#fb5 873px,#fc6 879px,#de8 887px,#ee7 896px,#ed6 901px,#de8 907px,#ee7 913px,#fc5 921px,#fc5 931px,#ed7 940px,#ee7 950px,#ed7 957px,#fd6 968px,#fb5 979px,#f94 991px,#f94 998px,#f94 1010px,#fa4 1023px,#ee7 1035px,#fc5 1048px,#ee8 1064px,#ed6 1080px,#fd6 1090px,#ed7 1106px,#fd6 1122px,#ed7 1134px,#e9f082 1154px,#dff58d 1194px,#cdffa2 1202px,#acf5a8 1209px,#8aecae 1216px,#7cebc8 1224px,#7cebc8 1264px,#73ebd4 1304px,#6aebe1 1317px,#61e1f0 1344px,#44caff 1384px,#40c8ff 1414px)"></div><div style="left:1108.4px;width:39.4px;background:linear-gradient(#0a0079 104px,#107 0 114px,#208 0 115px,#108 0 118px,#107 0 121px,#108 0 124px,#107 0 128px,#209 0 130px,#108 0 132px,#107 0 134px,#108 0 137px,#209 0 138px,#10a 0 141px,#01c 0 144px,#107 0 146px,#20a 0 149px,#209 0 155px,#00b 0 158px,#208 0 161px,#10b 0 162px,#01c 0 164px,#20a 0 165px,#02d 0 167px,#10b 0 169px,#01c 0 171px,#00b 0 172px,#209 0 173px,#01c 0 174px,#209 0 176px,#01c 0 187px,#10b 0 189px,#01c 0 191px,#00b 0 192px,#01c 0 195px,#02d 0 197px,#14d 0 199px,#02d 0 201px,#16e 0 203px,#02d 0 204px,#16e 0 206px,#03d 0 208px,#02d 0 211px,#03d 0 214px,#02d 0 222px,#03d 0 226px,#17e 0 227px,#03d 0 228px,#02d 0 230px,#16e 0 233px,#02d 0 240px,#16e 0 243px,#17f 0 247px,#19f 0 250px,#03d 0 252px,#16e 0 254px,#17e 0 256px,#18f 0 258px,#02d 0 259px,#17f 0 261px,#19f 0 263px,#17e 0 265px,#1af 0 267px,#19f 0 268px,#17e 0 271px,#1af 0 273px,#03d 0 275px,#18f 0 277px,#2bf 0 279px,#19f 0 282px,#15e 0 284px,#2bf 0 286px,#17e 0 289px,#2bf 0 291px,#1af 0 293px,#3bf 0 296px,#1af 0 297px,#2af 0 298px,#17f 0 301px,#19f 0 303px,#17f 0 306px,#18f 0 308px,#4cf 0 311px,#1af 0 312px,#3bf 0 318px,#4cf 0 320px,#19f 0 322px,#5cf 0 325px,#3bf 0 326px,#6de 0 327px,#19f 0 329px,#4cf 0 330px,#3bf 0 332px,#4cf 0 336px,#1af 0 338px,#3bf 0 339px,#5df 0 341px,#6de 0 343px,#3bf 0 346px,#4cf 0 351px,#5de 0 354px,#19f 0 356px,#18f 0 357px,#2bf 0 360px,#4cf 0 364px,#6ee 0 367px,#5de 0 369px,#3bf 0 372px,#5de 0 376px,#6de 0 377px,#3bf 0 380px,#6de 0 383px,#5de 0 389px,#4cf 0 392px,#5df 0 394px,#5cf 0 396px,#1af 0 398px,#6de 0 403px,#5de 0 405px,#3bf 0 407px,#6de 0 409px,#6ee 0 411px,#6de 0 415px,#5df 0 416px,#6ed 0 418px,#5de 0 419px,#6ed 0 420px,#5de 0 423px,#6ed 0 425px,#5de 0 426px,#3bf 0 427px,#6ed 0 428px,#6de 0 430px,#6ed 0 431px,#4cf 0 434px,#6ed 0 435px,#5de 0 437px,#7ed 0 439px,#6de 0 440px,#4cf 0 442px,#5de 0 443px,#6ed 0 445px,#6ee 0 447px,#7ec 0 450px,#6ed 0 451px,#6de 0 453px,#6ee 0 455px,#5de 0 458px,#6de 0 460px,#6ed 0 463px,#4cf 0 465px,#7ec 0 470px,#6ee 0 471px,#6ed 0 472px,#6de 0 475px,#3bf 0 477px,#7ec 0 478px,#4cf 0 479px,#6ee 0 482px,#8eb 0 484px,#6ed 0 488px,#6ee 0 490px,#6ed 0 493px,#8eb 0 496px,#5de 0 499px,#8ea 0 500px,#6de 0 502px,#6ee 0 504px,#6ed 0 506px,#5de 0 508px,#6ed 0 510px,#7ec 0 520px,#4cf 0 522px,#7ec 0 524px,#6ed 0 527px,#7ec 0 529px,#6ed 0 531px,#8eb 0 534px,#6de 0 537px,#8eb 0 539px,#7ed 0 542px,#6de 0 543px,#7ec 0 545px,#6de 0 547px,#7ec 0 550px,#6ed 0 552px,#5de 0 554px,#8ea 0 556px,#8eb 0 558px,#7ed 0 559px,#9ea 0 562px,#5de 0 564px,#6ed 0 568px,#8eb 0 570px,#6ed 0 573px,#7ec 0 577px,#bfa 0 579px,#8eb 0 581px,#7ec 0 584px,#8ea 0 586px,#8eb 0 589px,#6ed 0 593px,#8eb 0 595px,#5de 0 597px,#8eb 0 598px,#7eb 0 600px,#9ea 0 602px,#7eb 0 604px,#8eb 0 606px,#7ec 0 610px,#9ea 0 614px,#8eb 0 617px,#5cf 0 620px,#6ee 0 622px,#7ec 0 624px,#8eb 0 627px,#9ea 0 629px,#6ee 0 631px,#7ec 0 633px,#aea 0 635px,#7eb 0 636px,#8eb 0 638px,#7ed 0 640px,#8eb 0 641px,#bfa 0 642px,#9ea 0 644px,#7ec 0 645px,#6ed 0 647px,#9ea 0 651px,#8ea 0 652px,#7ec 0 655px,#8ea 0 658px,#9ea 0 659px,#7ec 0 663px,#aea 0 664px,#8ea 0 668px,#aea 0 672px,#9ea 0 675px,#bfa 0 678px,#aea 0 682px,#bfa 0 686px,#cfa 0 689px,#6ed 0 691px,#bfa 0 693px,#cf9 0 696px,#aea 0 700px,#6ed 0 702px,#bfa 0 704px,#afa 0 707px,#cf9 0 709px,#bfa 0 712px,#cfa 0 713px,#bfa 0 716px,#afa 0 718px,#cf9 0 721px,#aea 0 724px,#8eb 0 726px,#cfa 0 727px,#9ea 0 731px,#bfa 0 733px,#aea 0 735px,#de8 0 737px,#cfa 0 746px,#8ea 0 748px,#9ea 0 750px,#bfa 0 753px,#cf9 0 756px,#df9 0 757px,#de8 0 760px,#cfa 0 764px,#8ea 0 766px,#df8 0 768px,#ee7 0 771px,#ee8 0 775px,#bfa 0 781px,#de8 0 787px,#9ea 0 791px,#cf9 0 795px,#df9 0 797px,#cfa 0 800px,#de8 0 802px,#df9 0 806px,#de8 0 811px,#cf9 0 814px,#de8 0 817px,#ee7 0 823px,#ed7 0 825px,#ee7 0 828px,#de8 0 832px,#ee8 0 836px,#df9 0 840px,#ee7 0 846px,#de8 0 852px,#ee7 0 857px,#cf9 0 862px,#cfa 0 867px,#ee7 0 869px,#de8 869px,#bfa 873px,#de8 877px,#df9 885px,#ee8 890px,#df9 896px,#df9 903px,#ee8 908px,#ee7 913px,#aea 922px,#ee8 930px,#cfa 937px,#de8 944px,#cf9 955px,#ee7 961px,#de8 968px,#ed6 976px,#fc6 984px,#ee7 993px,#fc6 1006px,#ee7 1018px,#ee7 1032px,#de8 1047px,#fb5 1056px,#ed7 1067px,#ee7 1076px,#fb5 1087px,#ed6 1097px,#ee7 1106px,#de8 1124px,#df9 1143px,#def68f 1154px,#cdffa2 1180px,#bcfaa5 1194px,#acf5a8 1202px,#8aecae 1216px,#83ecbb 1224px,#7cebc8 1237px,#6aebe1 1264px,#61e1f0 1291px,#52d6f8 1304px,#44caff 1344px,#3dc5ff 1384px,#39c3ff 1414px)"></div><div style="left:1147.8px;width:39.4px;background:linear-gradient(#0a0079 104px,#107 0 111px,#209 0 113px,#108 0 116px,#209 0 120px,#107 0 122px,#108 0 124px,#209 0 126px,#10b 0 128px,#107 0 130px,#20a 0 131px,#208 0 132px,#10a 0 134px,#208 0 136px,#10b 0 140px,#10a 0 141px,#10b 0 143px,#107 0 145px,#01c 0 149px,#10a 0 150px,#10b 0 152px,#01c 0 156px,#10b 0 159px,#01c 0 160px,#10a 0 164px,#01c 0 169px,#02d 0 171px,#00b 0 173px,#02d 0 178px,#01c 0 182px,#10a 0 184px,#02d 0 189px,#01c 0 190px,#02d 0 195px,#01c 0 197px,#02d 0 201px,#10a 0 202px,#02d 0 205px,#01c 0 207px,#02d 0 209px,#01c 0 210px,#03d 0 213px,#14e 0 215px,#03d 0 218px,#16e 0 220px,#14e 0 222px,#03d 0 225px,#18f 0 227px,#01c 0 229px,#18f 0 231px,#15e 0 233px,#16e 0 235px,#02d 0 236px,#01c 0 237px,#15e 0 239px,#14e 0 240px,#16e 0 242px,#15e 0 245px,#14d 0 247px,#2af 0 250px,#03d 0 252px,#18f 0 253px,#2bf 0 256px,#3bf 0 257px,#1af 0 260px,#18f 0 262px,#19f 0 268px,#2bf 0 270px,#3bf 0 271px,#2bf 0 273px,#17f 0 275px,#2bf 0 276px,#2af 0 278px,#1af 0 280px,#02d 0 282px,#2bf 0 284px,#19f 0 287px,#18f 0 288px,#4cf 0 290px,#18f 0 292px,#17f 0 295px,#3bf 0 296px,#19f 0 298px,#4cf 0 300px,#2af 0 301px,#4cf 0 308px,#3bf 0 314px,#4cf 0 316px,#3bf 0 317px,#4cf 0 320px,#5cf 0 323px,#17f 0 325px,#3bf 0 326px,#2bf 0 329px,#4cf 0 332px,#3bf 0 333px,#2bf 0 335px,#4cf 0 337px,#17e 0 339px,#4cf 0 341px,#3bf 0 345px,#5cf 0 348px,#4cf 0 350px,#1af 0 351px,#4cf 0 352px,#6de 0 355px,#5de 0 357px,#3cf 0 359px,#2bf 0 360px,#3cf 0 363px,#5de 0 365px,#4cf 0 366px,#6de 0 368px,#4cf 0 370px,#1af 0 371px,#5de 0 373px,#4cf 0 375px,#5de 0 377px,#3bf 0 378px,#6de 0 383px,#5de 0 385px,#3bf 0 388px,#6de 0 391px,#4cf 0 394px,#6ee 0 395px,#6de 0 396px,#4cf 0 397px,#5cf 0 398px,#3bf 0 400px,#6de 0 403px,#2bf 0 404px,#5de 0 407px,#4cf 0 409px,#5df 0 411px,#3cf 0 413px,#4cf 0 416px,#6ed 0 418px,#4cf 0 420px,#5de 0 424px,#6ed 0 427px,#7ec 0 432px,#3bf 0 433px,#6ee 0 436px,#6ed 0 437px,#6de 0 438px,#6ed 0 443px,#6de 0 445px,#4cf 0 448px,#6ed 0 451px,#6de 0 454px,#6ed 0 456px,#6de 0 458px,#7ec 0 459px,#5cf 0 462px,#7eb 0 464px,#7ec 0 466px,#7ed 0 469px,#6ee 0 471px,#7ec 0 473px,#7ed 0 476px,#6ed 0 485px,#8eb 0 486px,#7ec 0 488px,#8eb 0 490px,#6ed 0 492px,#8eb 0 494px,#6ed 0 498px,#7ec 0 501px,#8ea 0 503px,#7ec 0 506px,#7ed 0 509px,#6de 0 513px,#8eb 0 516px,#7ec 0 517px,#8ea 0 519px,#7ec 0 522px,#7eb 0 524px,#7ed 0 527px,#7ec 0 529px,#8eb 0 531px,#7ec 0 535px,#8eb 0 538px,#7ec 0 540px,#8eb 0 544px,#9ea 0 546px,#8ea 0 549px,#8eb 0 550px,#7ec 0 555px,#6ed 0 556px,#5de 0 558px,#6de 0 560px,#8eb 0 562px,#8ea 0 565px,#7ec 0 566px,#6ed 0 569px,#9ea 0 572px,#aea 0 574px,#9ea 0 576px,#7ec 0 578px,#9ea 0 580px,#7ec 0 581px,#8eb 0 583px,#9ea 0 585px,#7ec 0 589px,#8ea 0 590px,#7ed 0 591px,#aea 0 593px,#9ea 0 598px,#8eb 0 600px,#8ea 0 602px,#7ec 0 604px,#8ea 0 606px,#6ee 0 608px,#6de 0 610px,#7ec 0 611px,#8eb 0 612px,#8ea 0 614px,#9ea 0 618px,#6ed 0 620px,#5de 0 623px,#6ed 0 626px,#8ea 0 627px,#8eb 0 629px,#8ea 0 630px,#7ed 0 633px,#bfa 0 634px,#8eb 0 636px,#8ea 0 637px,#aea 0 639px,#8eb 0 641px,#6de 0 643px,#8ea 0 646px,#bfa 0 647px,#9ea 0 648px,#8eb 0 649px,#9ea 0 651px,#aea 0 653px,#bfa 0 655px,#9ea 0 658px,#7ec 0 660px,#9ea 0 663px,#bfa 0 664px,#aea 0 667px,#8ea 0 669px,#9ea 0 671px,#aea 0 673px,#8eb 0 675px,#7ec 0 677px,#bfa 0 680px,#8eb 0 681px,#aea 0 683px,#cf9 0 684px,#9ea 0 687px,#bfa 0 689px,#cfa 0 691px,#bfa 0 693px,#cf9 0 695px,#7eb 0 697px,#cfa 0 699px,#aea 0 701px,#cf9 0 707px,#cfa 0 709px,#8eb 0 711px,#9ea 0 713px,#aea 0 714px,#8eb 0 717px,#aea 0 718px,#cfa 0 721px,#bfa 0 724px,#cf9 0 725px,#df9 0 726px,#aea 0 728px,#de8 0 730px,#df9 0 732px,#cfa 0 734px,#cf9 0 736px,#cfa 0 738px,#de8 0 742px,#bfa 0 745px,#9ea 0 748px,#cf9 0 752px,#df9 0 753px,#cf9 0 756px,#de8 0 760px,#cf9 0 765px,#de8 0 769px,#aea 0 771px,#cf9 0 778px,#df9 0 782px,#cf9 0 784px,#9ea 0 787px,#cf9 0 790px,#aea 0 794px,#de8 0 796px,#df9 0 798px,#de8 0 806px,#cf9 0 809px,#bfa 0 813px,#ed7 0 816px,#ee8 0 820px,#ee7 0 828px,#de8 0 834px,#bfa 0 836px,#ee7 0 847px,#ed7 0 853px,#de8 0 856px,#ee8 0 862px,#ee7 0 865px,#de8 0 869px,#cfa 869px,#de8 873px,#de8 878px,#ee7 886px,#de8 891px,#ee7 897px,#ee7 905px,#ee7 913px,#df9 922px,#bfa 928px,#de8 938px,#de8 944px,#df9 955px,#ee8 965px,#ee7 975px,#fc6 982px,#ee7 993px,#fc5 1004px,#ed7 1018px,#df9 1030px,#fc6 1038px,#ee7 1052px,#de8 1067px,#cfa 1078px,#df9 1095px,#ee8 1108px,#ee7 1120px,#ee7 1132px,#de8 1144px,#d9f994 1154px,#cdffa2 1176px,#bcfaa5 1194px,#acf5a8 1209px,#9bf0ab 1224px,#8aecae 1237px,#7cebc8 1264px,#6aebe1 1304px,#66e6e8 1344px,#61e1f0 1364px,#52d6f8 1384px,#4dd1fa 1414px)"></div><div style="left:1187.2px;width:39.4px;background:linear-gradient(#0a0079 104px,#107 0 124px,#208 0 125px,#107 0 127px,#208 0 129px,#209 0 132px,#108 0 133px,#107 0 136px,#208 0 139px,#10a 0 140px,#209 0 142px,#208 0 146px,#10b 0 148px,#107 0 150px,#01c 0 153px,#108 0 154px,#10b 0 157px,#00b 0 159px,#01c 0 162px,#10a 0 164px,#01c 0 165px,#02d 0 167px,#20a 0 169px,#02d 0 172px,#01c 0 178px,#02d 0 180px,#01c 0 182px,#10b 0 185px,#01c 0 186px,#00b 0 188px,#02d 0 192px,#01c 0 195px,#02d 0 196px,#01c 0 198px,#14e 0 199px,#01c 0 205px,#02d 0 209px,#10a 0 212px,#16e 0 214px,#14e 0 216px,#03d 0 218px,#02d 0 220px,#14e 0 222px,#01c 0 223px,#15e 0 225px,#03d 0 228px,#17f 0 229px,#17e 0 234px,#18f 0 235px,#17e 0 236px,#02d 0 238px,#17e 0 240px,#16e 0 243px,#1af 0 245px,#16e 0 247px,#1af 0 250px,#17e 0 253px,#19f 0 254px,#1af 0 256px,#18f 0 258px,#19f 0 260px,#16e 0 262px,#17f 0 265px,#2bf 0 267px,#17e 0 270px,#19f 0 272px,#3bf 0 276px,#18f 0 279px,#16e 0 280px,#2af 0 283px,#02d 0 285px,#3cf 0 286px,#2bf 0 289px,#4cf 0 291px,#18f 0 293px,#1af 0 294px,#16e 0 297px,#1af 0 299px,#3bf 0 302px,#4cf 0 305px,#3bf 0 307px,#18f 0 309px,#2bf 0 312px,#18f 0 315px,#3bf 0 316px,#2bf 0 320px,#3bf 0 322px,#19f 0 324px,#18f 0 326px,#5de 0 329px,#2bf 0 331px,#3bf 0 334px,#4cf 0 335px,#2bf 0 337px,#4cf 0 342px,#2af 0 345px,#3bf 0 347px,#4cf 0 349px,#3bf 0 351px,#6de 0 352px,#2af 0 354px,#4cf 0 358px,#5de 0 360px,#2bf 0 362px,#5de 0 364px,#5df 0 366px,#3cf 0 371px,#4cf 0 375px,#2af 0 377px,#19f 0 379px,#4cf 0 383px,#5de 0 385px,#1af 0 388px,#3bf 0 390px,#4cf 0 392px,#6de 0 393px,#4cf 0 394px,#6de 0 397px,#5de 0 399px,#4cf 0 402px,#6de 0 404px,#6ed 0 405px,#6de 0 406px,#3bf 0 409px,#5de 0 411px,#5cf 0 413px,#1af 0 415px,#6ed 0 418px,#6de 0 421px,#5de 0 422px,#3bf 0 424px,#5cf 0 427px,#6de 0 429px,#3bf 0 430px,#6de 0 433px,#6ed 0 435px,#6de 0 437px,#6ed 0 442px,#7ed 0 445px,#6ee 0 447px,#6ed 0 450px,#7ed 0 453px,#7ec 0 454px,#6ee 0 456px,#7ec 0 460px,#7ed 0 461px,#7ec 0 463px,#6de 0 467px,#3bf 0 469px,#7ec 0 471px,#7ed 0 473px,#6ee 0 476px,#8eb 0 477px,#5de 0 478px,#7ec 0 479px,#7ed 0 481px,#6de 0 483px,#7ec 0 484px,#6ed 0 489px,#8eb 0 492px,#6ed 0 493px,#7eb 0 495px,#6ed 0 498px,#6de 0 500px,#7ec 0 505px,#7ed 0 507px,#8eb 0 509px,#7ec 0 512px,#8eb 0 513px,#6de 0 514px,#8eb 0 516px,#6ed 0 518px,#7ec 0 522px,#7ed 0 524px,#8eb 0 527px,#6ed 0 530px,#6de 0 532px,#4cf 0 534px,#8eb 0 536px,#6ed 0 538px,#7ec 0 539px,#8eb 0 541px,#4cf 0 542px,#7eb 0 544px,#6ed 0 546px,#6de 0 548px,#7ed 0 550px,#8eb 0 553px,#7ec 0 554px,#8eb 0 555px,#aea 0 557px,#7ec 0 559px,#8eb 0 561px,#8ea 0 563px,#4cf 0 564px,#7ed 0 566px,#8eb 0 567px,#9ea 0 569px,#7ed 0 571px,#5de 0 573px,#7ed 0 575px,#5cf 0 578px,#9ea 0 580px,#7ed 0 582px,#6ed 0 583px,#7ec 0 585px,#8ea 0 587px,#7ed 0 589px,#8eb 0 591px,#8ea 0 593px,#6ed 0 598px,#9ea 0 600px,#aea 0 602px,#8ea 0 605px,#7ec 0 606px,#9ea 0 607px,#7ec 0 610px,#aea 0 611px,#8eb 0 612px,#8ea 0 615px,#8eb 0 617px,#aea 0 618px,#9ea 0 620px,#aea 0 621px,#8eb 0 624px,#9ea 0 625px,#8eb 0 627px,#9ea 0 629px,#6ed 0 632px,#8ea 0 634px,#bfa 0 635px,#8eb 0 637px,#9ea 0 643px,#7ec 0 645px,#6ee 0 647px,#8eb 0 648px,#aea 0 651px,#7ec 0 653px,#bfa 0 655px,#aea 0 657px,#9ea 0 660px,#bfa 0 662px,#cfa 0 664px,#9ea 0 667px,#bfa 0 669px,#9ea 0 670px,#bfa 0 672px,#aea 0 673px,#9ea 0 675px,#cfa 0 677px,#8ea 0 679px,#bfa 0 681px,#9ea 0 683px,#df9 0 685px,#8ea 0 689px,#6ed 0 691px,#9ea 0 693px,#bfa 0 697px,#aea 0 700px,#cf9 0 703px,#9ea 0 705px,#cf9 0 707px,#9ea 0 709px,#cfa 0 714px,#aea 0 716px,#cf9 0 718px,#9ea 0 720px,#cf9 0 722px,#aea 0 724px,#cf9 0 726px,#aea 0 728px,#9ea 0 731px,#cfa 0 733px,#df9 0 735px,#cf9 0 738px,#9ea 0 739px,#bfa 0 741px,#cf9 0 743px,#8ea 0 747px,#cf9 0 749px,#df9 0 752px,#bfa 0 762px,#aea 0 764px,#df9 0 767px,#aea 0 770px,#cf9 0 772px,#aea 0 777px,#cf9 0 779px,#aea 0 783px,#bfa 0 786px,#afa 0 790px,#9ea 0 793px,#de8 0 797px,#ee7 0 802px,#ee8 0 806px,#de8 0 810px,#ee7 0 814px,#de8 0 817px,#ed6 0 822px,#ed7 0 826px,#ee7 0 831px,#ed6 0 834px,#de8 0 837px,#ee7 0 841px,#df9 0 846px,#fd6 0 849px,#ed7 0 855px,#ed6 0 859px,#ee7 0 863px,#fd6 0 867px,#df9 0 869px,#de8 869px,#ee7 877px,#cf9 885px,#fd6 889px,#bfa 895px,#df9 903px,#bfa 912px,#cf9 921px,#df9 931px,#ee8 939px,#ed7 947px,#ed7 955px,#ee7 962px,#fd6 970px,#ed6 980px,#de8 993px,#fc6 1005px,#ee7 1018px,#fc6 1028px,#fc6 1038px,#ed7 1048px,#ed7 1063px,#ee7 1077px,#df9 1090px,#aea 1104px,#cfa 1115px,#aea 1130px,#aea 1147px,#a0f2aa 1154px,#8aecae 1176px,#83ecbb 1194px,#7cebc8 1224px,#6aebe1 1264px,#73ebd4 1304px,#6aebe1 1314px,#61e1f0 1334px,#52d6f8 1344px,#44caff 1373px,#40c8ff 1384px,#3dc5ff 1414px)"></div><div style="left:1226.6px;width:39.4px;background:linear-gradient(#0a0079 104px,#107 0 132px,#209 0 134px,#107 0 136px,#208 0 139px,#209 0 141px,#107 0 142px,#209 0 145px,#107 0 147px,#10b 0 150px,#209 0 151px,#10a 0 152px,#10b 0 153px,#209 0 155px,#01c 0 157px,#209 0 158px,#208 0 160px,#10b 0 161px,#108 0 164px,#01c 0 165px,#10a 0 166px,#209 0 170px,#10a 0 172px,#209 0 174px,#10b 0 177px,#02d 0 179px,#00b 0 182px,#01c 0 184px,#10a 0 187px,#02d 0 189px,#01c 0 191px,#02d 0 193px,#01c 0 201px,#03d 0 203px,#02d 0 206px,#01c 0 207px,#02d 0 209px,#15e 0 212px,#02d 0 214px,#14e 0 215px,#03d 0 218px,#15e 0 221px,#01c 0 222px,#02d 0 227px,#15e 0 230px,#16e 0 232px,#17e 0 234px,#16e 0 237px,#01b 0 240px,#17e 0 241px,#02d 0 243px,#15e 0 245px,#16e 0 246px,#02d 0 248px,#16e 0 249px,#17e 0 252px,#1af 0 253px,#01c 0 255px,#2af 0 257px,#01c 0 260px,#17e 0 262px,#18f 0 264px,#26e 0 266px,#3bf 0 267px,#16e 0 270px,#3bf 0 272px,#19f 0 274px,#17e 0 278px,#3bf 0 280px,#16e 0 281px,#17e 0 283px,#2bf 0 286px,#19f 0 288px,#2bf 0 289px,#3bf 0 293px,#2bf 0 295px,#1af 0 297px,#19f 0 300px,#3bf 0 304px,#4cf 0 305px,#2bf 0 309px,#18f 0 311px,#3bf 0 312px,#1af 0 314px,#2bf 0 316px,#3bf 0 317px,#5cf 0 318px,#16e 0 320px,#3bf 0 322px,#1af 0 325px,#4cf 0 327px,#3bf 0 328px,#3cf 0 330px,#2af 0 333px,#4cf 0 338px,#19f 0 341px,#1af 0 342px,#4cf 0 347px,#2bf 0 348px,#19f 0 349px,#4cf 0 352px,#5de 0 354px,#6de 0 356px,#5cf 0 358px,#4cf 0 360px,#1af 0 362px,#5cf 0 364px,#4cf 0 367px,#3bf 0 371px,#6de 0 373px,#5de 0 375px,#4cf 0 377px,#6de 0 378px,#1af 0 380px,#18f 0 382px,#5df 0 383px,#4cf 0 385px,#5de 0 387px,#4cf 0 388px,#19f 0 390px,#4cf 0 392px,#6de 0 393px,#5df 0 396px,#3bf 0 399px,#5de 0 401px,#4cf 0 404px,#5de 0 405px,#4cf 0 406px,#6de 0 409px,#5cf 0 412px,#6de 0 415px,#2af 0 418px,#4cf 0 420px,#6ed 0 423px,#5de 0 424px,#6ed 0 426px,#7ed 0 428px,#6ed 0 433px,#1af 0 434px,#6ee 0 436px,#6ed 0 438px,#4cf 0 441px,#6de 0 442px,#6ed 0 444px,#7ec 0 445px,#6de 0 448px,#6ed 0 449px,#7ec 0 451px,#6ee 0 454px,#6de 0 455px,#4cf 0 458px,#6ed 0 459px,#6ee 0 462px,#7ec 0 463px,#3bf 0 465px,#6ed 0 468px,#7ec 0 472px,#9ea 0 474px,#7ed 0 476px,#8eb 0 479px,#6de 0 483px,#7ec 0 486px,#7ed 0 487px,#7ec 0 490px,#7ed 0 491px,#6ed 0 493px,#6de 0 494px,#6ed 0 496px,#5de 0 498px,#7eb 0 500px,#7ed 0 503px,#7ec 0 504px,#8eb 0 505px,#6ed 0 507px,#7ed 0 508px,#7ec 0 510px,#6de 0 513px,#7eb 0 514px,#6ed 0 515px,#7ec 0 520px,#8eb 0 523px,#7ed 0 525px,#7ec 0 528px,#8eb 0 531px,#7ec 0 533px,#8eb 0 535px,#7ed 0 537px,#7ec 0 539px,#8eb 0 541px,#6de 0 544px,#7ec 0 545px,#7ed 0 548px,#6ed 0 552px,#7ec 0 556px,#6ed 0 558px,#9ea 0 564px,#7ec 0 566px,#7ed 0 568px,#7ec 0 569px,#8eb 0 572px,#8ea 0 574px,#bfa 0 575px,#8eb 0 577px,#7ec 0 580px,#8ea 0 582px,#aea 0 583px,#8ea 0 586px,#6ed 0 589px,#7ec 0 594px,#6de 0 597px,#8eb 0 600px,#9ea 0 601px,#8eb 0 603px,#7ec 0 605px,#9ea 0 607px,#8eb 0 609px,#6de 0 611px,#9ea 0 613px,#8eb 0 615px,#6de 0 617px,#6ed 0 618px,#7ec 0 619px,#bfa 0 621px,#9ea 0 623px,#8ea 0 624px,#bfa 0 626px,#8eb 0 628px,#9ea 0 629px,#aea 0 632px,#7ec 0 634px,#8eb 0 635px,#9ea 0 638px,#7eb 0 639px,#9ea 0 642px,#8ea 0 644px,#aea 0 649px,#afa 0 650px,#7ed 0 653px,#bfa 0 654px,#aea 0 659px,#9ea 0 665px,#cf9 0 666px,#9ea 0 669px,#8eb 0 671px,#8ea 0 676px,#cfa 0 679px,#cf9 0 683px,#afa 0 686px,#cfa 0 688px,#cf9 0 691px,#7eb 0 694px,#8ea 0 696px,#6ed 0 697px,#9ea 0 699px,#8eb 0 701px,#bfa 0 703px,#9ea 0 705px,#aea 0 706px,#8ea 0 707px,#bfa 0 710px,#9ea 0 713px,#cf9 0 715px,#de8 0 716px,#aea 0 719px,#bfa 0 721px,#cf9 0 723px,#aea 0 725px,#cf9 0 727px,#8ea 0 730px,#df9 0 731px,#cfa 0 733px,#cf9 0 735px,#afa 0 736px,#df9 0 738px,#cf9 0 741px,#9ea 0 743px,#cfa 0 744px,#8eb 0 746px,#bfa 0 750px,#cf9 0 752px,#bfa 0 753px,#df9 0 756px,#8ea 0 760px,#cf9 0 761px,#bfa 0 762px,#8ea 0 764px,#8eb 0 766px,#bfa 0 771px,#8ea 0 775px,#aea 0 777px,#de8 0 779px,#cfa 0 783px,#df9 0 785px,#cf9 0 789px,#9ea 0 792px,#bfa 0 797px,#df9 0 801px,#de8 0 803px,#cf9 0 805px,#9ea 0 807px,#df9 0 811px,#aea 0 817px,#cfa 0 821px,#bfa 0 826px,#ee7 0 831px,#df9 0 833px,#ee7 0 837px,#de8 0 839px,#fc6 0 843px,#ee7 0 847px,#ee8 0 850px,#ed7 0 854px,#ee7 0 859px,#fc6 0 863px,#cf9 0 867px,#de8 0 869px,#ee7 869px,#cf9 876px,#cfa 883px,#ee7 890px,#ee7 898px,#ee7 905px,#ee8 910px,#de8 919px,#ee7 926px,#fd6 936px,#de8 947px,#fc6 958px,#ee7 965px,#ee8 976px,#fd6 986px,#ed6 995px,#de8 1004px,#fd6 1017px,#fc6 1027px,#ed6 1037px,#ee7 1049px,#ee7 1064px,#fc6 1076px,#ed7 1091px,#ed6 1101px,#ee7 1119px,#ee8 1133px,#de8 1145px,#dcf690 1154px,#cdffa2 1194px,#acf5a8 1224px,#8aecae 1264px,#7cebc8 1284px,#6aebe1 1304px,#61e1f0 1322px,#44caff 1340px,#40c8ff 1344px,#37c2ff 1384px,#34bfff 1414px)"></div><div style="left:1265.9px;width:39.4px;background:linear-gradient(#0a0079 104px,#107 0 120px,#108 0 123px,#107 0 129px,#209 0 131px,#208 0 132px,#108 0 135px,#208 0 137px,#209 0 139px,#107 0 141px,#209 0 143px,#108 0 146px,#01c 0 149px,#208 0 151px,#10a 0 153px,#01c 0 157px,#209 0 160px,#01c 0 164px,#02c 0 166px,#209 0 169px,#01c 0 175px,#10a 0 177px,#00b 0 179px,#01c 0 183px,#02d 0 184px,#209 0 186px,#01c 0 188px,#02d 0 189px,#00b 0 191px,#02d 0 194px,#03d 0 195px,#01c 0 197px,#02d 0 206px,#14e 0 208px,#02d 0 216px,#17e 0 218px,#16e 0 220px,#02d 0 222px,#01b 0 223px,#02d 0 228px,#14e 0 229px,#16e 0 232px,#15e 0 234px,#18f 0 236px,#19f 0 238px,#15e 0 240px,#02d 0 244px,#18f 0 246px,#01c 0 248px,#17e 0 250px,#19f 0 253px,#14e 0 256px,#17e 0 257px,#18f 0 258px,#02d 0 261px,#19f 0 263px,#1af 0 265px,#2bf 0 267px,#17e 0 270px,#2af 0 272px,#19f 0 273px,#17e 0 276px,#18f 0 278px,#19f 0 279px,#2af 0 281px,#1af 0 282px,#2bf 0 284px,#02d 0 287px,#3bf 0 288px,#2bf 0 294px,#3bf 0 298px,#18f 0 300px,#17f 0 302px,#1af 0 303px,#18f 0 306px,#4cf 0 307px,#3bf 0 310px,#19f 0 312px,#1af 0 315px,#4cf 0 316px,#2af 0 317px,#19f 0 320px,#3bf 0 322px,#4cf 0 324px,#18f 0 326px,#4cf 0 328px,#5de 0 329px,#2bf 0 336px,#4cf 0 342px,#5cf 0 343px,#3bf 0 345px,#4cf 0 351px,#19f 0 353px,#3bf 0 355px,#4cf 0 357px,#5de 0 360px,#3bf 0 363px,#1af 0 365px,#5cf 0 366px,#5df 0 368px,#3bf 0 370px,#3cf 0 373px,#4cf 0 383px,#5cf 0 385px,#2bf 0 387px,#6de 0 388px,#3bf 0 391px,#5cf 0 392px,#4cf 0 394px,#6ee 0 395px,#3bf 0 396px,#6ed 0 398px,#5de 0 400px,#4cf 0 402px,#6de 0 406px,#6ed 0 409px,#6ee 0 411px,#6de 0 412px,#7ed 0 415px,#6de 0 420px,#7ed 0 421px,#6ed 0 422px,#6de 0 427px,#6ed 0 432px,#5cf 0 433px,#7ec 0 436px,#5de 0 438px,#6ee 0 441px,#6ed 0 442px,#4cf 0 443px,#6de 0 446px,#6ee 0 447px,#4cf 0 450px,#6de 0 451px,#6ed 0 454px,#6ee 0 456px,#7ec 0 459px,#5df 0 462px,#6ed 0 463px,#7ed 0 465px,#6ee 0 466px,#5cf 0 467px,#7ed 0 470px,#8eb 0 472px,#7ed 0 475px,#7ec 0 477px,#7ed 0 480px,#8eb 0 482px,#6de 0 485px,#6ed 0 486px,#5de 0 488px,#6de 0 489px,#6ee 0 492px,#7ed 0 493px,#6ed 0 494px,#5df 0 495px,#7ec 0 498px,#6de 0 503px,#7ed 0 506px,#8ea 0 508px,#7eb 0 510px,#6de 0 511px,#7ec 0 512px,#8ea 0 514px,#6ee 0 517px,#7ed 0 519px,#8eb 0 521px,#4cf 0 522px,#6de 0 525px,#4cf 0 527px,#7ec 0 529px,#6ed 0 533px,#9ea 0 535px,#7ec 0 537px,#6ee 0 540px,#8eb 0 542px,#5de 0 545px,#7ec 0 547px,#9ea 0 550px,#8eb 0 551px,#7eb 0 553px,#8eb 0 555px,#6ed 0 557px,#9ea 0 558px,#8eb 0 562px,#6ed 0 564px,#8eb 0 567px,#8ea 0 568px,#9ea 0 570px,#aea 0 572px,#7ec 0 574px,#6de 0 576px,#8ea 0 577px,#5de 0 580px,#9ea 0 582px,#6de 0 584px,#7eb 0 587px,#8eb 0 591px,#6de 0 592px,#7ec 0 595px,#8eb 0 599px,#7ec 0 600px,#8ea 0 603px,#8eb 0 604px,#7ed 0 607px,#8ea 0 609px,#7ec 0 612px,#7eb 0 613px,#9ea 0 616px,#7ec 0 619px,#aea 0 620px,#8eb 0 623px,#9ea 0 626px,#7ec 0 629px,#9ea 0 630px,#afa 0 632px,#aea 0 633px,#8eb 0 636px,#8ea 0 638px,#aea 0 640px,#7ec 0 641px,#6ee 0 643px,#aea 0 646px,#bfa 0 647px,#9ea 0 652px,#cfa 0 654px,#7eb 0 656px,#8eb 0 659px,#8ea 0 661px,#7ed 0 663px,#aea 0 665px,#6ed 0 667px,#8eb 0 669px,#aea 0 671px,#7ed 0 674px,#9ea 0 675px,#bfa 0 677px,#9ea 0 678px,#8eb 0 681px,#cfa 0 685px,#aea 0 687px,#bfa 0 689px,#aea 0 691px,#6ed 0 692px,#7ec 0 694px,#df9 0 697px,#de8 0 699px,#8eb 0 702px,#9ea 0 703px,#aea 0 706px,#bfa 0 708px,#df9 0 711px,#aea 0 713px,#8ea 0 715px,#cf9 0 717px,#cfa 0 719px,#cf9 0 720px,#aea 0 723px,#9ea 0 726px,#de8 0 730px,#bfa 0 733px,#aea 0 736px,#cfa 0 738px,#bfa 0 739px,#df8 0 741px,#aea 0 743px,#cfa 0 745px,#df8 0 748px,#de8 0 752px,#cf9 0 754px,#bfa 0 755px,#afa 0 757px,#ee8 0 760px,#cf9 0 762px,#ee8 0 765px,#de8 0 766px,#ee7 0 769px,#de8 0 774px,#ed6 0 778px,#df9 0 780px,#ee8 0 787px,#de8 0 790px,#ee7 0 793px,#cf9 0 795px,#ee7 0 798px,#de8 0 803px,#ee7 0 805px,#cf9 0 807px,#ed7 0 811px,#fc6 0 816px,#cfa 0 819px,#ee7 0 827px,#ed7 0 830px,#fb5 0 835px,#df9 0 838px,#ed7 0 840px,#fb5 0 846px,#fc6 0 848px,#ed6 0 850px,#fc6 0 853px,#ee7 0 869px,#ed6 869px,#ee8 874px,#ed7 881px,#ed7 888px,#ed6 895px,#de8 900px,#ed7 906px,#df9 916px,#de8 922px,#de8 929px,#ed6 935px,#fc6 943px,#fa5 950px,#fd6 957px,#df8 968px,#ed7 981px,#ed7 994px,#fc5 1007px,#fc5 1021px,#fc6 1035px,#cfa 1048px,#ee7 1063px,#ed7 1072px,#de8 1084px,#ed7 1103px,#de8 1120px,#de8 1139px,#cf9 1149px,#d1fd9d 1154px,#cdffa2 1159px,#acf5a8 1182px,#9bf0ab 1194px,#8aecae 1224px,#83ecbb 1264px,#7cebc8 1277px,#6aebe1 1304px,#66e6e8 1344px,#66e6e8 1384px,#64e4ec 1414px)"></div><div style="left:1305.3px;width:39.4px;background:linear-gradient(#0a0079 104px,#107 0 154px,#20a 0 156px,#107 0 159px,#108 0 161px,#209 0 164px,#10a 0 166px,#10b 0 168px,#01c 0 169px,#10b 0 172px,#10a 0 173px,#10b 0 178px,#107 0 181px,#10a 0 185px,#01c 0 186px,#10a 0 189px,#01b 0 191px,#10a 0 194px,#10b 0 196px,#01c 0 199px,#00b 0 202px,#02d 0 205px,#20a 0 207px,#01c 0 213px,#209 0 214px,#02d 0 216px,#01c 0 217px,#02d 0 221px,#01c 0 227px,#10b 0 229px,#01c 0 231px,#01b 0 234px,#01c 0 235px,#02d 0 238px,#14e 0 241px,#03d 0 244px,#02d 0 246px,#14e 0 248px,#01c 0 250px,#14e 0 254px,#17e 0 255px,#16e 0 258px,#18f 0 262px,#02d 0 264px,#17e 0 265px,#15e 0 268px,#17f 0 270px,#15e 0 272px,#14e 0 274px,#15e 0 275px,#16e 0 278px,#18f 0 280px,#03d 0 281px,#19f 0 282px,#17f 0 284px,#1af 0 287px,#15e 0 290px,#18f 0 291px,#1af 0 294px,#2bf 0 295px,#2af 0 297px,#1af 0 298px,#4cf 0 301px,#1af 0 302px,#19f 0 305px,#1af 0 306px,#3bf 0 308px,#2bf 0 312px,#3bf 0 313px,#17e 0 315px,#2af 0 316px,#2bf 0 319px,#4cf 0 321px,#2bf 0 323px,#3bf 0 326px,#4cf 0 327px,#2bf 0 330px,#4cf 0 332px,#3bf 0 334px,#1af 0 336px,#19f 0 337px,#4cf 0 340px,#3bf 0 344px,#2bf 0 345px,#1af 0 347px,#4cf 0 353px,#3bf 0 356px,#4cf 0 361px,#5df 0 363px,#3bf 0 368px,#4cf 0 371px,#2bf 0 373px,#3bf 0 375px,#4cf 0 376px,#2bf 0 378px,#3bf 0 382px,#4cf 0 384px,#5de 0 386px,#6ee 0 388px,#4cf 0 390px,#2bf 0 393px,#4cf 0 396px,#19f 0 398px,#5cf 0 399px,#4cf 0 401px,#3bf 0 402px,#1af 0 403px,#2bf 0 405px,#6ee 0 407px,#4cf 0 408px,#3bf 0 409px,#4cf 0 413px,#5de 0 414px,#2bf 0 417px,#6de 0 419px,#3bf 0 421px,#6de 0 424px,#3bf 0 427px,#6de 0 430px,#4cf 0 433px,#6ed 0 435px,#4cf 0 437px,#5cf 0 439px,#6de 0 442px,#5de 0 445px,#4cf 0 449px,#6de 0 452px,#4cf 0 453px,#3bf 0 457px,#1af 0 460px,#5de 0 462px,#6de 0 463px,#5cf 0 468px,#5df 0 471px,#4cf 0 475px,#5de 0 479px,#3bf 0 481px,#6ed 0 485px,#2bf 0 487px,#6ed 0 488px,#6de 0 489px,#3bf 0 492px,#6ed 0 494px,#6de 0 495px,#4cf 0 498px,#5de 0 500px,#4cf 0 502px,#5de 0 508px,#6ed 0 510px,#6de 0 512px,#7ec 0 514px,#6ed 0 517px,#5cf 0 519px,#5de 0 521px,#6ed 0 523px,#3bf 0 525px,#6de 0 528px,#5de 0 529px,#4cf 0 530px,#6ed 0 537px,#5cf 0 539px,#7ed 0 541px,#4cf 0 543px,#5de 0 545px,#4cf 0 547px,#5de 0 550px,#6ed 0 552px,#8eb 0 555px,#6ed 0 557px,#7ed 0 559px,#6ed 0 565px,#7ed 0 566px,#6ee 0 569px,#7ec 0 572px,#6ed 0 579px,#5df 0 580px,#6de 0 582px,#7eb 0 585px,#3bf 0 587px,#6ed 0 589px,#6de 0 591px,#8eb 0 594px,#7ec 0 598px,#6ee 0 599px,#8eb 0 601px,#6ed 0 603px,#5de 0 604px,#7ec 0 608px,#6ed 0 609px,#6de 0 611px,#8ea 0 613px,#7ec 0 622px,#6ed 0 623px,#7ec 0 626px,#8eb 0 628px,#7ec 0 630px,#8ea 0 632px,#4cf 0 635px,#7ec 0 640px,#5cf 0 641px,#6de 0 643px,#7ec 0 646px,#8eb 0 650px,#9ea 0 653px,#8ea 0 654px,#8eb 0 656px,#8ea 0 658px,#7ec 0 663px,#7ed 0 665px,#5cf 0 667px,#7eb 0 669px,#8eb 0 671px,#9ea 0 672px,#5cf 0 673px,#6ed 0 676px,#8eb 0 678px,#8ea 0 681px,#6ed 0 682px,#7ed 0 685px,#8ea 0 687px,#aea 0 688px,#7ec 0 691px,#6de 0 693px,#bfa 0 695px,#8ea 0 698px,#9ea 0 699px,#aea 0 701px,#9ea 0 703px,#8eb 0 705px,#aea 0 707px,#9ea 0 708px,#bfa 0 711px,#7ec 0 714px,#aea 0 716px,#9ea 0 718px,#bfa 0 723px,#7eb 0 725px,#8ea 0 726px,#7ed 0 728px,#8ea 0 730px,#9ea 0 733px,#8eb 0 735px,#8ea 0 737px,#aea 0 740px,#8eb 0 743px,#8ea 0 745px,#df9 0 748px,#cfa 0 750px,#7ec 0 753px,#aea 0 755px,#7ec 0 758px,#cf9 0 762px,#9ea 0 765px,#aea 0 767px,#7ec 0 770px,#bfa 0 774px,#cfa 0 776px,#9ea 0 778px,#bfa 0 783px,#cf9 0 786px,#cfa 0 788px,#de8 0 790px,#bfa 0 792px,#df9 0 795px,#8ea 0 798px,#bfa 0 801px,#df9 0 804px,#ee8 0 808px,#cfa 0 809px,#ed7 0 814px,#ee7 0 817px,#ed7 0 820px,#df9 0 825px,#fd6 0 829px,#ed7 0 832px,#fd6 0 835px,#fc6 0 841px,#ed7 0 843px,#fb5 0 860px,#ed7 0 862px,#df9 0 865px,#fc6 0 869px,#ee7 869px,#df9 874px,#de8 878px,#ee7 886px,#ed6 893px,#ee7 899px,#ee7 906px,#ee7 911px,#ee7 918px,#cf9 927px,#ee8 934px,#ee8 941px,#fd6 951px,#fb5 961px,#ed6 970px,#ed7 980px,#ed6 992px,#fc6 1005px,#ee7 1015px,#ee8 1028px,#df9 1042px,#ed6 1055px,#ee8 1065px,#ed6 1076px,#df9 1085px,#de8 1100px,#ee7 1111px,#cfa 1123px,#df9 1144px,#cfa 1154px,#c6fda3 1154px,#acf5a8 1168px,#8aecae 1185px,#83ecbb 1194px,#7cebc8 1224px,#73ebd4 1264px,#6aebe1 1304px,#61e1f0 1344px,#52d6f8 1384px,#4dd1fa 1414px)"></div><div style="left:1344.7px;width:39.4px;background:linear-gradient(#0a0079 104px,#107 0 163px,#208 0 165px,#107 0 166px,#208 0 167px,#107 0 175px,#10a 0 177px,#209 0 179px,#108 0 181px,#209 0 183px,#107 0 184px,#10b 0 187px,#209 0 189px,#10b 0 191px,#01b 0 192px,#209 0 194px,#01c 0 196px,#20a 0 198px,#10a 0 201px,#10b 0 203px,#01c 0 206px,#00b 0 207px,#01c 0 212px,#209 0 214px,#01c 0 216px,#10b 0 218px,#209 0 220px,#10a 0 221px,#01b 0 224px,#01c 0 228px,#02d 0 229px,#20a 0 232px,#01c 0 236px,#02d 0 241px,#01c 0 245px,#02d 0 248px,#14e 0 251px,#02d 0 252px,#14e 0 255px,#17e 0 257px,#02d 0 260px,#14e 0 262px,#17e 0 265px,#18f 0 267px,#14e 0 269px,#17e 0 271px,#14e 0 274px,#03d 0 277px,#02d 0 278px,#16e 0 280px,#15e 0 282px,#19f 0 284px,#03d 0 287px,#18f 0 289px,#17e 0 290px,#18f 0 291px,#17e 0 294px,#2bf 0 296px,#16e 0 299px,#17f 0 301px,#03d 0 302px,#2af 0 303px,#17e 0 306px,#14e 0 308px,#18f 0 309px,#16e 0 311px,#18f 0 313px,#02d 0 315px,#1af 0 317px,#19f 0 320px,#18f 0 322px,#1af 0 323px,#2bf 0 326px,#3bf 0 327px,#17e 0 329px,#4cf 0 331px,#3bf 0 335px,#15e 0 338px,#3bf 0 342px,#19f 0 344px,#3bf 0 346px,#2bf 0 347px,#4cf 0 348px,#3bf 0 351px,#2bf 0 356px,#3bf 0 358px,#19f 0 361px,#4cf 0 365px,#3bf 0 368px,#4cf 0 371px,#16e 0 372px,#19f 0 373px,#3bf 0 375px,#5cf 0 379px,#3bf 0 383px,#2bf 0 387px,#2af 0 389px,#2bf 0 392px,#3bf 0 394px,#3cf 0 397px,#3bf 0 400px,#5de 0 405px,#3cf 0 408px,#5cf 0 410px,#4cf 0 412px,#5de 0 414px,#6de 0 419px,#4cf 0 424px,#5de 0 425px,#5df 0 428px,#5cf 0 431px,#6de 0 433px,#6ed 0 436px,#3bf 0 437px,#6ed 0 439px,#2af 0 441px,#3bf 0 443px,#4cf 0 446px,#6ee 0 448px,#4cf 0 450px,#19f 0 453px,#2bf 0 455px,#5de 0 457px,#6de 0 460px,#4cf 0 462px,#3bf 0 465px,#4cf 0 468px,#7ed 0 469px,#4cf 0 471px,#6de 0 472px,#3bf 0 474px,#6de 0 480px,#5de 0 481px,#6de 0 483px,#6ee 0 485px,#4cf 0 487px,#3bf 0 489px,#6de 0 492px,#4cf 0 494px,#6ee 0 496px,#6de 0 499px,#19f 0 501px,#6de 0 504px,#6ed 0 506px,#6de 0 508px,#6ee 0 511px,#6ed 0 516px,#6de 0 520px,#6ed 0 524px,#4cf 0 527px,#5cf 0 529px,#3bf 0 530px,#6de 0 532px,#5df 0 533px,#7ed 0 535px,#5de 0 537px,#6ed 0 541px,#7ed 0 543px,#7ec 0 546px,#3cf 0 548px,#6de 0 551px,#7ec 0 554px,#3bf 0 556px,#6ed 0 561px,#6de 0 563px,#7ec 0 567px,#6de 0 569px,#5cf 0 571px,#6ed 0 573px,#7ec 0 574px,#6ed 0 578px,#7ec 0 580px,#6ee 0 582px,#6ed 0 584px,#7ec 0 587px,#8eb 0 590px,#6de 0 595px,#7ec 0 597px,#7ed 0 599px,#7ec 0 600px,#6ed 0 609px,#7ec 0 610px,#6de 0 612px,#6ed 0 614px,#7ed 0 617px,#6de 0 618px,#8eb 0 621px,#6ed 0 625px,#8eb 0 628px,#7ed 0 629px,#3bf 0 631px,#7ec 0 634px,#7ed 0 635px,#6ee 0 638px,#7ec 0 640px,#8eb 0 642px,#6ed 0 645px,#7eb 0 646px,#7ec 0 655px,#8eb 0 657px,#9ea 0 659px,#7ec 0 660px,#5de 0 662px,#7ec 0 664px,#8eb 0 665px,#7ec 0 666px,#6de 0 668px,#7ec 0 669px,#8eb 0 674px,#5de 0 676px,#8eb 0 678px,#8ea 0 679px,#7ed 0 681px,#7ec 0 684px,#8eb 0 686px,#9ea 0 689px,#8eb 0 691px,#9ea 0 694px,#6ed 0 696px,#9ea 0 699px,#6ee 0 701px,#8ea 0 703px,#9ea 0 708px,#8eb 0 710px,#6de 0 713px,#6ed 0 715px,#9ea 0 717px,#7ec 0 721px,#aea 0 722px,#8ea 0 725px,#7ec 0 727px,#6ed 0 735px,#9ea 0 736px,#8eb 0 739px,#9ea 0 741px,#bfa 0 744px,#aea 0 746px,#bfa 0 747px,#aea 0 749px,#8ea 0 753px,#7ed 0 754px,#aea 0 756px,#bfa 0 758px,#aea 0 761px,#bfa 0 764px,#aea 0 766px,#8ea 0 769px,#aea 0 777px,#9ea 0 785px,#8eb 0 786px,#9ea 0 788px,#aea 0 791px,#8eb 0 794px,#bfa 0 797px,#aea 0 801px,#9ea 0 804px,#cf9 0 806px,#8eb 0 809px,#df9 0 812px,#cfa 0 814px,#ee8 0 816px,#aea 0 820px,#df9 0 824px,#cf9 0 828px,#9ea 0 833px,#df8 0 836px,#ee8 0 840px,#df9 0 842px,#ee8 0 846px,#de8 0 850px,#cf9 0 854px,#ee7 0 858px,#9ea 0 864px,#cf9 0 866px,#df9 0 869px,#9ea 869px,#de8 874px,#bfa 882px,#cfa 889px,#8ea 896px,#df9 903px,#df9 911px,#bfa 921px,#aea 928px,#8eb 935px,#cfa 941px,#cfa 951px,#ee7 958px,#de8 964px,#cf9 976px,#aea 987px,#cf9 997px,#ee8 1011px,#bfa 1021px,#de8 1035px,#ed7 1046px,#ee8 1061px,#cf9 1076px,#cf9 1089px,#ee8 1104px,#de8 1117px,#df9 1130px,#cfa 1146px,#c8fea3 1154px,#acf5a8 1194px,#8aecae 1209px,#7cebc8 1224px,#6aebe1 1264px,#61e1f0 1284px,#44caff 1304px,#37c2ff 1344px,#32beff 1384px,#2dbbff 1414px)"></div><div style="left:1384.1px;width:39.4px;background:linear-gradient(#0a0079 104px,#107 0 139px,#209 0 141px,#107 0 144px,#208 0 146px,#107 0 151px,#20a 0 154px,#209 0 155px,#107 0 157px,#208 0 160px,#00b 0 162px,#107 0 163px,#10a 0 166px,#107 0 167px,#10a 0 170px,#10b 0 172px,#20a 0 175px,#10b 0 177px,#10a 0 179px,#209 0 182px,#10b 0 183px,#01c 0 185px,#10b 0 188px,#01c 0 190px,#107 0 192px,#01c 0 193px,#10b 0 196px,#01c 0 197px,#20a 0 200px,#02d 0 202px,#01c 0 204px,#10b 0 207px,#02d 0 208px,#01c 0 210px,#02d 0 211px,#03d 0 212px,#02d 0 216px,#01c 0 218px,#10b 0 221px,#01c 0 224px,#02d 0 225px,#01c 0 228px,#02d 0 230px,#16e 0 231px,#02d 0 234px,#04d 0 237px,#16e 0 239px,#03d 0 242px,#16e 0 246px,#14e 0 247px,#26e 0 249px,#10b 0 251px,#16e 0 252px,#15e 0 254px,#17e 0 257px,#18f 0 259px,#15e 0 262px,#17f 0 265px,#14e 0 267px,#17e 0 269px,#15e 0 270px,#17f 0 273px,#18f 0 274px,#2bf 0 275px,#19f 0 278px,#16e 0 280px,#14e 0 283px,#2af 0 286px,#18f 0 288px,#17e 0 289px,#14e 0 291px,#18f 0 294px,#14e 0 295px,#1af 0 297px,#19f 0 300px,#15e 0 302px,#1af 0 305px,#2af 0 306px,#3bf 0 308px,#1af 0 311px,#2af 0 314px,#3bf 0 316px,#4cf 0 318px,#19f 0 320px,#3bf 0 322px,#2af 0 324px,#3bf 0 335px,#5cf 0 336px,#2bf 0 338px,#3bf 0 340px,#4cf 0 347px,#3bf 0 349px,#4cf 0 354px,#5de 0 357px,#3bf 0 359px,#2bf 0 361px,#3bf 0 362px,#19f 0 364px,#3bf 0 365px,#4cf 0 367px,#2bf 0 370px,#5de 0 371px,#2bf 0 373px,#4cf 0 376px,#5df 0 378px,#3bf 0 380px,#4cf 0 382px,#3bf 0 386px,#19f 0 389px,#4cf 0 391px,#18f 0 394px,#4cf 0 396px,#3bf 0 398px,#4cf 0 400px,#3bf 0 401px,#5cf 0 403px,#5de 0 406px,#5df 0 407px,#5de 0 409px,#5cf 0 412px,#6de 0 414px,#18f 0 415px,#1af 0 418px,#4cf 0 420px,#6de 0 422px,#4cf 0 425px,#2bf 0 426px,#5de 0 427px,#3bf 0 432px,#4cf 0 434px,#6de 0 435px,#3bf 0 439px,#5de 0 442px,#5df 0 444px,#4cf 0 447px,#6ee 0 450px,#3cf 0 451px,#4cf 0 453px,#5cf 0 455px,#6ee 0 457px,#6ed 0 460px,#5de 0 462px,#6ed 0 466px,#6de 0 469px,#3bf 0 472px,#6de 0 474px,#6ed 0 476px,#6de 0 477px,#2af 0 480px,#6ed 0 482px,#4cf 0 485px,#6de 0 488px,#6ed 0 489px,#6de 0 493px,#6ed 0 496px,#7ed 0 498px,#6ed 0 501px,#5df 0 503px,#7ed 0 504px,#6ee 0 505px,#5cf 0 508px,#6ed 0 510px,#7ec 0 513px,#6de 0 515px,#6ed 0 522px,#4cf 0 523px,#6ed 0 525px,#7ed 0 526px,#5de 0 528px,#6ee 0 530px,#3bf 0 532px,#7ed 0 534px,#2bf 0 535px,#6ee 0 536px,#3cf 0 538px,#6de 0 540px,#6ed 0 543px,#3bf 0 545px,#6ed 0 549px,#6ee 0 550px,#7ed 0 552px,#6ee 0 554px,#6ed 0 555px,#7ec 0 556px,#5df 0 558px,#4cf 0 560px,#7ec 0 562px,#6de 0 564px,#7ed 0 566px,#5de 0 568px,#7ed 0 570px,#6de 0 572px,#6ed 0 575px,#5df 0 577px,#6ed 0 582px,#5de 0 584px,#6ed 0 586px,#5cf 0 587px,#7ec 0 590px,#6ed 0 595px,#8eb 0 597px,#6de 0 600px,#8eb 0 601px,#7ec 0 604px,#6ed 0 606px,#7eb 0 608px,#6ee 0 610px,#7ec 0 613px,#3bf 0 614px,#7ed 0 616px,#8eb 0 618px,#5de 0 621px,#7ec 0 624px,#8eb 0 625px,#6ee 0 628px,#7ec 0 630px,#8eb 0 634px,#4cf 0 635px,#7ec 0 637px,#6ed 0 638px,#7ec 0 641px,#7eb 0 642px,#8eb 0 647px,#7eb 0 649px,#6ee 0 650px,#8ea 0 652px,#6de 0 655px,#7ec 0 659px,#8eb 0 660px,#7ec 0 663px,#6ed 0 664px,#8eb 0 665px,#4cf 0 668px,#7eb 0 670px,#7ec 0 675px,#8eb 0 677px,#8ea 0 680px,#7ec 0 682px,#aea 0 684px,#9ea 0 686px,#7ec 0 691px,#8eb 0 693px,#7ec 0 694px,#aea 0 697px,#7ed 0 698px,#7ec 0 702px,#8eb 0 703px,#aea 0 705px,#6de 0 707px,#afa 0 709px,#9ea 0 712px,#7ec 0 714px,#9ea 0 720px,#6ed 0 722px,#7ec 0 723px,#afa 0 725px,#bfa 0 726px,#9ea 0 729px,#8eb 0 730px,#8ea 0 733px,#7ed 0 735px,#bfa 0 738px,#7ec 0 739px,#aea 0 742px,#8eb 0 744px,#8ea 0 746px,#7ed 0 750px,#bfa 0 753px,#8ea 0 758px,#9ea 0 763px,#bfa 0 765px,#7eb 0 767px,#aea 0 768px,#8ea 0 772px,#afa 0 776px,#bfa 0 780px,#aea 0 783px,#df9 0 784px,#bfa 0 788px,#7eb 0 790px,#9ea 0 797px,#cfa 0 800px,#df9 0 804px,#de8 0 806px,#bfa 0 809px,#cf9 0 815px,#aea 0 819px,#ee7 0 830px,#ed7 0 834px,#ee8 0 839px,#ee7 0 842px,#fc5 0 843px,#ed7 0 849px,#de8 0 852px,#cf9 0 858px,#fd6 0 860px,#de8 0 865px,#ee7 0 868px,#cfa 0 869px,#ee7 869px,#de8 873px,#ee7 880px,#de8 886px,#cfa 893px,#de8 902px,#ee8 910px,#df9 918px,#cf9 923px,#cf9 929px,#bfa 939px,#de8 947px,#cf9 957px,#ee8 963px,#ee8 970px,#ee8 982px,#de8 989px,#ee7 1000px,#ee7 1014px,#cf9 1022px,#ed7 1035px,#ee7 1046px,#ee7 1058px,#de8 1068px,#cfa 1077px,#cf9 1095px,#cfa 1110px,#bfa 1120px,#aea 1137px,#9ea 1152px,#8fedad 1154px,#8aecae 1159px,#7cebc8 1194px,#73ebd4 1224px,#6aebe1 1264px,#61e1f0 1280px,#44caff 1296px,#3bc4ff 1304px,#32beff 1324px,#26b6ff 1344px,#32beff 1384px,#2dbbff 1414px)"></div><div style="left:1423.4px;width:39.4px;background:linear-gradient(#0a0079 104px,#107 0 127px,#209 0 131px,#10a 0 133px,#209 0 136px,#107 0 137px,#209 0 138px,#20a 0 140px,#209 0 142px,#108 0 144px,#20a 0 146px,#107 0 149px,#209 0 152px,#20a 0 155px,#209 0 158px,#10b 0 160px,#10a 0 162px,#00b 0 164px,#20a 0 166px,#01c 0 168px,#00b 0 173px,#01b 0 175px,#01c 0 176px,#02d 0 179px,#10b 0 180px,#01c 0 182px,#02d 0 184px,#01c 0 186px,#209 0 188px,#02d 0 194px,#10b 0 197px,#02d 0 198px,#01c 0 200px,#16e 0 202px,#14e 0 205px,#15e 0 209px,#02d 0 211px,#03d 0 213px,#16e 0 216px,#01c 0 219px,#02d 0 224px,#03d 0 225px,#16e 0 228px,#02d 0 231px,#14e 0 232px,#02d 0 233px,#01c 0 235px,#02d 0 237px,#17e 0 238px,#1af 0 240px,#15e 0 242px,#02d 0 243px,#16e 0 245px,#19f 0 247px,#16e 0 249px,#17f 0 250px,#19f 0 251px,#17f 0 255px,#16e 0 256px,#1af 0 257px,#03d 0 259px,#18f 0 261px,#17e 0 263px,#16e 0 268px,#2af 0 269px,#16e 0 271px,#19f 0 273px,#2bf 0 277px,#4cf 0 280px,#1af 0 282px,#2af 0 284px,#19f 0 286px,#2bf 0 289px,#3bf 0 292px,#1af 0 293px,#2bf 0 295px,#3bf 0 297px,#17f 0 300px,#3bf 0 303px,#4cf 0 305px,#18f 0 307px,#2bf 0 310px,#3bf 0 312px,#3cf 0 314px,#3bf 0 316px,#2bf 0 320px,#5de 0 321px,#19f 0 322px,#4cf 0 323px,#3bf 0 325px,#4cf 0 327px,#3bf 0 330px,#2bf 0 332px,#2af 0 335px,#4cf 0 338px,#3bf 0 346px,#4cf 0 353px,#5de 0 355px,#3bf 0 357px,#5de 0 360px,#3bf 0 361px,#4cf 0 364px,#6de 0 366px,#3bf 0 368px,#4cf 0 369px,#5de 0 374px,#6de 0 376px,#5cf 0 378px,#4cf 0 380px,#3bf 0 382px,#5de 0 384px,#6ee 0 386px,#4cf 0 389px,#6de 0 390px,#5de 0 392px,#2bf 0 393px,#19f 0 396px,#4cf 0 398px,#5de 0 400px,#5cf 0 401px,#5de 0 404px,#4cf 0 405px,#5de 0 408px,#4cf 0 410px,#6ed 0 412px,#5cf 0 414px,#6ed 0 415px,#6de 0 418px,#6ed 0 420px,#3bf 0 422px,#2bf 0 423px,#6ed 0 425px,#7ed 0 426px,#6ed 0 429px,#5cf 0 431px,#6ed 0 435px,#5de 0 436px,#5df 0 438px,#6ed 0 440px,#6de 0 442px,#4cf 0 443px,#6de 0 446px,#4cf 0 450px,#6ee 0 453px,#4cf 0 454px,#6de 0 457px,#7ed 0 459px,#7ec 0 460px,#6ed 0 462px,#6de 0 467px,#3bf 0 470px,#7ec 0 474px,#6ee 0 476px,#8eb 0 479px,#4cf 0 483px,#6ee 0 485px,#6de 0 488px,#7ec 0 491px,#6de 0 494px,#3bf 0 497px,#6ed 0 499px,#7ec 0 501px,#6ed 0 503px,#8eb 0 504px,#7ec 0 507px,#6ed 0 509px,#7ec 0 511px,#6ed 0 512px,#7ec 0 515px,#8eb 0 516px,#7ec 0 518px,#8eb 0 519px,#6ed 0 522px,#6de 0 523px,#7ed 0 525px,#6ed 0 528px,#4cf 0 531px,#7ec 0 532px,#8eb 0 533px,#5de 0 535px,#8eb 0 537px,#5cf 0 540px,#7ed 0 542px,#8eb 0 546px,#7ec 0 547px,#9ea 0 549px,#7ec 0 551px,#5cf 0 554px,#7ec 0 558px,#5cf 0 560px,#8eb 0 561px,#7eb 0 564px,#8ea 0 566px,#7ec 0 567px,#8eb 0 570px,#5cf 0 571px,#8ea 0 573px,#5de 0 576px,#8eb 0 578px,#6ee 0 580px,#5de 0 582px,#6ee 0 583px,#7ec 0 586px,#8ea 0 590px,#8eb 0 591px,#7ec 0 594px,#9ea 0 596px,#8ea 0 598px,#7ed 0 600px,#6ee 0 603px,#7ec 0 605px,#8eb 0 608px,#7ec 0 610px,#4cf 0 612px,#8ea 0 617px,#6de 0 619px,#9ea 0 622px,#7ed 0 623px,#9ea 0 625px,#7ec 0 627px,#9ea 0 628px,#6ed 0 630px,#8eb 0 632px,#5de 0 633px,#8eb 0 635px,#9ea 0 636px,#8eb 0 638px,#9ea 0 643px,#8eb 0 645px,#8ea 0 648px,#7ec 0 650px,#9ea 0 657px,#6ed 0 658px,#8ea 0 660px,#9ea 0 661px,#7ec 0 664px,#7eb 0 665px,#aea 0 667px,#8eb 0 669px,#8ea 0 671px,#aea 0 673px,#bfa 0 674px,#8ea 0 675px,#7ec 0 677px,#6de 0 680px,#9ea 0 681px,#8eb 0 683px,#cfa 0 685px,#7ec 0 688px,#6ed 0 689px,#8eb 0 691px,#7ec 0 694px,#9ea 0 696px,#8ea 0 699px,#6ed 0 700px,#8ea 0 703px,#9ea 0 706px,#7ed 0 707px,#9ea 0 710px,#8ea 0 714px,#9ea 0 717px,#cfa 0 718px,#cf9 0 720px,#aea 0 721px,#bfa 0 724px,#9ea 0 726px,#aea 0 729px,#7ec 0 731px,#cfa 0 734px,#8eb 0 735px,#7ec 0 736px,#8eb 0 738px,#7ec 0 740px,#8ea 0 744px,#aea 0 746px,#bfa 0 749px,#cf9 0 751px,#aea 0 754px,#9ea 0 756px,#cf9 0 759px,#8ea 0 762px,#9ea 0 764px,#8eb 0 767px,#aea 0 769px,#7ec 0 771px,#bfa 0 773px,#9ea 0 776px,#7ec 0 780px,#8ea 0 782px,#aea 0 784px,#bfa 0 786px,#de8 0 788px,#bfa 0 792px,#de8 0 795px,#df9 0 798px,#cf9 0 802px,#8ea 0 804px,#cf9 0 806px,#bfa 0 810px,#cfa 0 811px,#de8 0 814px,#cf9 0 818px,#cfa 0 823px,#cf9 0 826px,#df9 0 829px,#de8 0 831px,#cfa 0 835px,#ee8 0 837px,#afa 0 839px,#ee7 0 843px,#de8 0 851px,#ee7 0 857px,#de8 0 864px,#bfa 0 869px,#de8 869px,#cf9 874px,#df9 882px,#de8 889px,#de8 894px,#ee7 902px,#cf9 907px,#cf9 916px,#aea 924px,#ee8 933px,#ee7 944px,#cf9 950px,#fc6 961px,#fd6 968px,#fd6 978px,#de8 985px,#ed7 992px,#ed6 1001px,#fb5 1016px,#ed6 1026px,#fb5 1035px,#fc6 1046px,#ed6 1062px,#fc6 1073px,#ed6 1091px,#fb5 1105px,#ed6 1121px,#ee8 1133px,#ee8 1147px,#e0f48c 1154px,#dff58d 1155px,#cdffa2 1171px,#acf5a8 1186px,#9bf0ab 1194px,#acf5a8 1224px,#acf5a8 1264px,#8aecae 1284px,#7cebc8 1304px,#6aebe1 1317px,#61e1f0 1331px,#44caff 1344px,#32beff 1384px,#2dbbff 1414px)"></div><div style="left:1462.8px;width:39.4px;background:linear-gradient(#0a0079 104px,#107 0 131px,#208 0 134px,#107 0 136px,#208 0 139px,#209 0 141px,#208 0 143px,#209 0 146px,#10b 0 147px,#108 0 150px,#10b 0 151px,#209 0 153px,#10a 0 155px,#209 0 158px,#00b 0 159px,#01b 0 161px,#209 0 164px,#10a 0 165px,#10b 0 167px,#107 0 168px,#01c 0 170px,#10a 0 172px,#01c 0 177px,#10b 0 178px,#02c 0 180px,#01c 0 184px,#02c 0 185px,#01c 0 189px,#02d 0 192px,#01c 0 198px,#02d 0 200px,#01c 0 202px,#02d 0 205px,#01c 0 207px,#02d 0 209px,#01c 0 211px,#01b 0 212px,#02d 0 215px,#15e 0 216px,#01c 0 219px,#02d 0 221px,#01c 0 223px,#02d 0 227px,#01c 0 229px,#18f 0 231px,#15e 0 233px,#10b 0 235px,#02d 0 237px,#17e 0 239px,#01c 0 242px,#02d 0 243px,#17e 0 247px,#02d 0 250px,#15e 0 252px,#16e 0 253px,#17e 0 254px,#17f 0 257px,#02d 0 259px,#15e 0 261px,#17e 0 266px,#2af 0 267px,#17f 0 269px,#2af 0 272px,#02d 0 273px,#2bf 0 275px,#17f 0 276px,#19f 0 281px,#1af 0 285px,#19f 0 286px,#2af 0 291px,#1af 0 293px,#19f 0 297px,#1af 0 300px,#3bf 0 301px,#19f 0 303px,#14e 0 305px,#3bf 0 308px,#2af 0 310px,#2bf 0 312px,#3bf 0 313px,#2bf 0 315px,#17e 0 318px,#3bf 0 320px,#4cf 0 323px,#17f 0 324px,#4cf 0 329px,#2bf 0 332px,#2af 0 334px,#5de 0 336px,#2bf 0 337px,#3bf 0 339px,#2bf 0 342px,#4cf 0 349px,#3bf 0 351px,#4cf 0 353px,#3bf 0 354px,#17e 0 357px,#3cf 0 360px,#4cf 0 364px,#5de 0 366px,#4cf 0 368px,#3cf 0 371px,#5de 0 372px,#4cf 0 374px,#5de 0 377px,#4cf 0 380px,#5de 0 382px,#4cf 0 384px,#2bf 0 388px,#5de 0 391px,#3bf 0 392px,#6de 0 395px,#5de 0 398px,#6de 0 404px,#6ed 0 405px,#6de 0 410px,#6ee 0 411px,#6ed 0 413px,#5cf 0 416px,#4cf 0 419px,#6ed 0 420px,#2bf 0 422px,#6ee 0 423px,#6ed 0 425px,#6de 0 428px,#5df 0 429px,#6ed 0 432px,#1af 0 434px,#6ed 0 436px,#5de 0 439px,#3bf 0 442px,#5cf 0 444px,#4cf 0 447px,#3bf 0 449px,#5de 0 451px,#6ee 0 453px,#7ed 0 458px,#4cf 0 460px,#6ed 0 465px,#4cf 0 466px,#6ed 0 468px,#7ec 0 470px,#6ed 0 473px,#6de 0 474px,#4cf 0 478px,#7ec 0 480px,#5de 0 483px,#2bf 0 484px,#6de 0 487px,#6ee 0 489px,#6ed 0 490px,#6de 0 492px,#7ec 0 494px,#6ee 0 496px,#7ed 0 499px,#7ec 0 502px,#6ed 0 503px,#7ed 0 505px,#6ee 0 506px,#7ec 0 511px,#8eb 0 512px,#7ec 0 514px,#6de 0 515px,#8ea 0 517px,#8eb 0 521px,#4cf 0 524px,#6de 0 525px,#7ec 0 532px,#4cf 0 534px,#7ec 0 537px,#6ee 0 539px,#7ec 0 540px,#6de 0 543px,#7ec 0 552px,#8ea 0 554px,#7ec 0 555px,#6ed 0 559px,#7ec 0 560px,#8eb 0 562px,#5de 0 565px,#8eb 0 568px,#7ed 0 569px,#6ee 0 571px,#8eb 0 573px,#7ec 0 574px,#6ed 0 576px,#7ec 0 578px,#8ea 0 580px,#7ec 0 582px,#8eb 0 583px,#7ec 0 584px,#9ea 0 587px,#7ec 0 591px,#8eb 0 593px,#9ea 0 596px,#6ed 0 600px,#7eb 0 602px,#8eb 0 603px,#6ed 0 608px,#6de 0 610px,#8eb 0 613px,#8ea 0 614px,#7ec 0 616px,#7ed 0 618px,#6de 0 620px,#7ec 0 622px,#8eb 0 624px,#8ea 0 625px,#7ec 0 627px,#6de 0 630px,#8eb 0 632px,#8ea 0 634px,#7ed 0 637px,#8eb 0 639px,#7ec 0 641px,#8ea 0 642px,#9ea 0 644px,#6de 0 647px,#bfa 0 649px,#aea 0 652px,#8eb 0 655px,#aea 0 658px,#8ea 0 659px,#8eb 0 660px,#8ea 0 663px,#8eb 0 667px,#aea 0 668px,#8eb 0 670px,#7ec 0 671px,#9ea 0 673px,#6ed 0 675px,#bfa 0 676px,#9ea 0 679px,#8ea 0 681px,#7ec 0 683px,#9ea 0 686px,#8ea 0 688px,#7ed 0 690px,#8ea 0 693px,#afa 0 694px,#6de 0 695px,#9ea 0 697px,#aea 0 699px,#7ed 0 701px,#9ea 0 706px,#7ed 0 708px,#7ec 0 709px,#9ea 0 712px,#bfa 0 716px,#aea 0 717px,#cfa 0 720px,#9ea 0 723px,#aea 0 725px,#bfa 0 728px,#aea 0 730px,#8eb 0 732px,#bfa 0 734px,#9ea 0 737px,#aea 0 738px,#afa 0 741px,#cfa 0 743px,#7ec 0 746px,#aea 0 748px,#cfa 0 751px,#bfa 0 753px,#7ec 0 757px,#7eb 0 760px,#bfa 0 763px,#8ea 0 765px,#cfa 0 769px,#aea 0 771px,#cfa 0 773px,#bfa 0 775px,#8ea 0 778px,#df9 0 783px,#aea 0 787px,#8eb 0 792px,#de8 0 796px,#bfa 0 798px,#cf9 0 803px,#cfa 0 807px,#df9 0 818px,#de8 0 821px,#cf9 0 826px,#ed7 0 830px,#cfa 0 835px,#de8 0 840px,#df9 0 844px,#ed6 0 849px,#df9 0 850px,#ed7 0 854px,#ee8 0 859px,#de8 0 869px,#ed7 869px,#de8 873px,#bfa 881px,#ee7 889px,#bfa 898px,#de8 903px,#bfa 910px,#de8 918px,#df9 924px,#bfa 930px,#de8 939px,#ee7 947px,#ee7 956px,#bfa 965px,#ed6 977px,#ee7 984px,#cf9 997px,#ed7 1008px,#df9 1023px,#bfa 1037px,#df9 1050px,#ee7 1066px,#df8 1077px,#aea 1093px,#df9 1108px,#df9 1127px,#de8 1142px,#dff58d 1154px,#dff58d 1194px,#cdffa2 1224px,#acf5a8 1251px,#9bf0ab 1264px,#8aecae 1284px,#83ecbb 1304px,#7cebc8 1317px,#6aebe1 1344px,#61e1f0 1371px,#52d6f8 1384px,#4dd1fa 1414px)"></div><div style="left:1502.2px;width:39.4px;background:linear-gradient(#0a0079 104px,#107 0 145px,#209 0 146px,#107 0 147px,#209 0 149px,#107 0 152px,#108 0 153px,#10a 0 156px,#108 0 158px,#107 0 161px,#10a 0 162px,#10b 0 164px,#10a 0 166px,#00b 0 167px,#107 0 169px,#10a 0 170px,#209 0 179px,#10a 0 180px,#01c 0 182px,#209 0 184px,#01c 0 185px,#10a 0 188px,#01c 0 190px,#03d 0 192px,#01c 0 194px,#02d 0 196px,#01c 0 201px,#02d 0 202px,#01b 0 203px,#01c 0 206px,#02d 0 207px,#01c 0 209px,#02d 0 212px,#03d 0 215px,#02d 0 217px,#01c 0 219px,#02d 0 224px,#14e 0 226px,#02d 0 229px,#15e 0 231px,#02d 0 232px,#14e 0 235px,#02d 0 238px,#14e 0 239px,#10a 0 240px,#02d 0 242px,#15e 0 244px,#17e 0 247px,#16e 0 249px,#18f 0 251px,#02d 0 252px,#17e 0 253px,#02d 0 256px,#17e 0 263px,#19f 0 265px,#15e 0 266px,#18f 0 269px,#19f 0 271px,#1af 0 276px,#18f 0 278px,#1af 0 280px,#18f 0 282px,#1af 0 288px,#2bf 0 290px,#17e 0 293px,#19f 0 295px,#2af 0 297px,#17e 0 298px,#18f 0 301px,#2af 0 303px,#17e 0 306px,#3bf 0 309px,#19f 0 311px,#18f 0 313px,#3bf 0 316px,#19f 0 317px,#3bf 0 320px,#1af 0 323px,#3bf 0 329px,#4cf 0 332px,#19f 0 333px,#4cf 0 335px,#19f 0 336px,#3bf 0 337px,#2bf 0 340px,#3bf 0 342px,#4cf 0 349px,#5de 0 350px,#2af 0 352px,#4cf 0 355px,#3bf 0 356px,#5cf 0 358px,#5de 0 360px,#2af 0 363px,#17e 0 364px,#4cf 0 368px,#3bf 0 371px,#6de 0 373px,#18f 0 375px,#17e 0 377px,#2af 0 378px,#3bf 0 381px,#6de 0 383px,#4cf 0 384px,#5df 0 385px,#6de 0 387px,#2bf 0 390px,#3bf 0 392px,#4cf 0 395px,#5de 0 396px,#3bf 0 399px,#5de 0 401px,#5cf 0 403px,#2bf 0 405px,#4cf 0 409px,#3bf 0 411px,#1af 0 414px,#3bf 0 415px,#4cf 0 416px,#6de 0 419px,#3bf 0 421px,#6ed 0 423px,#3bf 0 425px,#4cf 0 429px,#5df 0 431px,#6de 0 434px,#4cf 0 435px,#6de 0 436px,#5df 0 438px,#6ee 0 440px,#6ed 0 442px,#4cf 0 444px,#5de 0 445px,#3bf 0 447px,#4cf 0 449px,#3bf 0 451px,#4cf 0 453px,#5de 0 458px,#6ed 0 464px,#6ee 0 465px,#4cf 0 468px,#6de 0 469px,#7ed 0 472px,#6de 0 475px,#7ed 0 477px,#6de 0 480px,#6ed 0 483px,#6de 0 484px,#5de 0 486px,#6de 0 489px,#6ed 0 491px,#6ee 0 493px,#7ec 0 500px,#4cf 0 501px,#6de 0 502px,#6ed 0 507px,#7ed 0 509px,#7ec 0 511px,#6ed 0 514px,#7ec 0 515px,#6ed 0 517px,#7ec 0 520px,#8ea 0 522px,#6ee 0 524px,#8eb 0 525px,#7ed 0 526px,#6ee 0 529px,#7ec 0 532px,#8eb 0 534px,#7ed 0 538px,#7ec 0 539px,#6de 0 541px,#6ed 0 543px,#7ed 0 545px,#7eb 0 547px,#5de 0 550px,#8eb 0 551px,#4cf 0 554px,#7ec 0 556px,#6ed 0 559px,#6de 0 561px,#4cf 0 564px,#8eb 0 567px,#7ec 0 570px,#6ee 0 572px,#6de 0 574px,#9ea 0 577px,#8eb 0 579px,#9ea 0 580px,#7ec 0 581px,#5de 0 584px,#7ec 0 586px,#7eb 0 588px,#8eb 0 589px,#7ed 0 592px,#6ed 0 596px,#7ec 0 597px,#7eb 0 599px,#7ed 0 600px,#8eb 0 603px,#7ec 0 605px,#8ea 0 607px,#9ea 0 609px,#7ec 0 610px,#8ea 0 612px,#8eb 0 614px,#6ed 0 618px,#8eb 0 620px,#aea 0 621px,#6de 0 624px,#6ed 0 625px,#8ea 0 628px,#8eb 0 630px,#8ea 0 634px,#7ec 0 637px,#9ea 0 639px,#aea 0 641px,#8eb 0 643px,#7ec 0 646px,#9ea 0 647px,#7ec 0 650px,#6ed 0 651px,#8ea 0 653px,#6ed 0 656px,#9ea 0 657px,#8ea 0 660px,#6de 0 662px,#9ea 0 665px,#7ed 0 667px,#aea 0 668px,#6ed 0 671px,#6de 0 673px,#7eb 0 675px,#8eb 0 677px,#9ea 0 678px,#8ea 0 680px,#aea 0 683px,#bfa 0 686px,#8ea 0 689px,#bfa 0 691px,#cfa 0 693px,#bfa 0 695px,#8eb 0 696px,#aea 0 701px,#bfa 0 702px,#aea 0 704px,#7ec 0 706px,#aea 0 708px,#8ea 0 710px,#aea 0 712px,#9ea 0 714px,#8ea 0 715px,#9ea 0 718px,#aea 0 721px,#afa 0 722px,#bfa 0 726px,#cfa 0 728px,#aea 0 731px,#cf9 0 734px,#aea 0 736px,#cfa 0 738px,#9ea 0 739px,#8ea 0 744px,#cfa 0 745px,#aea 0 751px,#9ea 0 756px,#cf9 0 758px,#aea 0 762px,#8eb 0 765px,#aea 0 766px,#cfa 0 768px,#aea 0 770px,#df9 0 773px,#7eb 0 777px,#aea 0 781px,#cfa 0 783px,#df9 0 787px,#9ea 0 790px,#bfa 0 794px,#8eb 0 796px,#df9 0 798px,#aea 0 801px,#df9 0 803px,#cfa 0 805px,#bfa 0 809px,#de8 0 811px,#df9 0 816px,#8ea 0 821px,#df9 0 823px,#cfa 0 827px,#bfa 0 829px,#cfa 0 832px,#df9 0 836px,#ee7 0 841px,#ed7 0 844px,#cf9 0 849px,#afa 0 854px,#bfa 0 859px,#aea 0 861px,#de8 0 865px,#ee8 0 869px,#de8 869px,#df9 875px,#9ea 883px,#bfa 888px,#bfa 894px,#df9 901px,#de8 909px,#bfa 914px,#df9 923px,#afa 929px,#df9 940px,#cf9 947px,#df9 955px,#cf9 965px,#ee7 976px,#bfa 986px,#ee8 996px,#cf9 1006px,#ee7 1014px,#ed7 1026px,#cf9 1034px,#ed7 1048px,#df9 1063px,#ee7 1075px,#ee7 1093px,#ee7 1109px,#df9 1125px,#de8 1142px,#df9 1152px,#d7f996 1154px,#cdffa2 1194px,#acf5a8 1224px,#8aecae 1237px,#7cebc8 1251px,#6aebe1 1264px,#61e1f0 1291px,#52d6f8 1304px,#44caff 1344px,#3bc4ff 1384px,#37c2ff 1414px)"></div><div style="left:1541.6px;width:39.4px;background:linear-gradient(#0a0079 104px,#107 0 152px,#209 0 153px,#107 0 157px,#208 0 162px,#209 0 163px,#208 0 164px,#209 0 169px,#10a 0 172px,#209 0 174px,#107 0 180px,#209 0 181px,#01c 0 184px,#10a 0 189px,#20a 0 190px,#01c 0 192px,#209 0 194px,#108 0 195px,#01c 0 197px,#10a 0 200px,#01c 0 202px,#10a 0 204px,#01c 0 208px,#02d 0 210px,#108 0 212px,#209 0 214px,#20a 0 216px,#01c 0 222px,#02d 0 225px,#01b 0 228px,#02d 0 230px,#03d 0 232px,#01c 0 233px,#16e 0 236px,#02d 0 237px,#16e 0 238px,#01c 0 241px,#02d 0 251px,#14e 0 254px,#16e 0 256px,#15e 0 259px,#16e 0 260px,#02d 0 262px,#17e 0 263px,#15e 0 265px,#02d 0 266px,#18f 0 267px,#15e 0 269px,#17e 0 272px,#01c 0 274px,#19f 0 277px,#01c 0 278px,#02d 0 280px,#18f 0 283px,#16e 0 285px,#17e 0 291px,#1af 0 294px,#15e 0 295px,#2af 0 297px,#19f 0 299px,#03d 0 301px,#16e 0 304px,#1af 0 307px,#2af 0 309px,#19f 0 311px,#1af 0 315px,#16e 0 316px,#15e 0 318px,#2bf 0 320px,#2af 0 321px,#3bf 0 323px,#3cf 0 326px,#2bf 0 327px,#19f 0 328px,#17e 0 330px,#2bf 0 332px,#2af 0 334px,#3bf 0 336px,#17e 0 338px,#3bf 0 342px,#17e 0 343px,#3bf 0 345px,#1af 0 347px,#19f 0 350px,#4cf 0 353px,#3bf 0 357px,#3cf 0 360px,#3bf 0 362px,#4cf 0 364px,#3bf 0 367px,#4cf 0 368px,#3bf 0 371px,#2bf 0 373px,#5de 0 377px,#2bf 0 380px,#3bf 0 386px,#4cf 0 389px,#3bf 0 390px,#6ed 0 393px,#2bf 0 395px,#3cf 0 398px,#4cf 0 399px,#3bf 0 402px,#4cf 0 403px,#5df 0 406px,#3bf 0 408px,#1af 0 409px,#5cf 0 410px,#5de 0 412px,#3bf 0 415px,#6de 0 416px,#6ee 0 418px,#4cf 0 419px,#6ee 0 422px,#5cf 0 424px,#3bf 0 426px,#2bf 0 429px,#6de 0 430px,#6ed 0 433px,#4cf 0 434px,#6de 0 437px,#4cf 0 441px,#6ed 0 442px,#7ed 0 444px,#5de 0 447px,#4cf 0 448px,#6de 0 450px,#6ee 0 452px,#2af 0 454px,#5df 0 457px,#4cf 0 459px,#6de 0 460px,#5de 0 461px,#7ec 0 463px,#6de 0 467px,#6ee 0 469px,#6ed 0 470px,#4cf 0 473px,#2af 0 476px,#6ee 0 479px,#7ec 0 481px,#6ee 0 484px,#6de 0 487px,#4cf 0 490px,#6de 0 495px,#6ee 0 498px,#6de 0 499px,#6ee 0 501px,#5de 0 503px,#6ed 0 506px,#5cf 0 508px,#6ee 0 509px,#7ec 0 511px,#6ed 0 512px,#6de 0 520px,#6ee 0 522px,#7ec 0 524px,#6de 0 525px,#5cf 0 528px,#6de 0 530px,#6ed 0 532px,#5de 0 533px,#6de 0 535px,#6ed 0 536px,#6ee 0 538px,#4cf 0 541px,#6de 0 542px,#6ed 0 544px,#7ec 0 546px,#6ed 0 548px,#7ed 0 554px,#6de 0 558px,#7eb 0 560px,#7ec 0 563px,#6ed 0 566px,#6ee 0 568px,#7ec 0 569px,#6ed 0 570px,#5de 0 573px,#7ec 0 574px,#6ed 0 576px,#7ec 0 577px,#5de 0 579px,#3bf 0 581px,#6ed 0 583px,#8eb 0 586px,#6ee 0 587px,#5cf 0 590px,#8eb 0 591px,#6ed 0 594px,#7ec 0 599px,#6de 0 603px,#7ec 0 607px,#6ee 0 609px,#8ea 0 610px,#7ec 0 614px,#8ea 0 616px,#7ec 0 621px,#8eb 0 623px,#6ed 0 625px,#6ee 0 626px,#8ea 0 627px,#8eb 0 634px,#9ea 0 637px,#6de 0 639px,#7ec 0 640px,#7ed 0 642px,#8ea 0 644px,#8eb 0 648px,#7eb 0 649px,#9ea 0 652px,#8eb 0 653px,#7ec 0 656px,#8eb 0 660px,#9ea 0 662px,#6de 0 664px,#8eb 0 666px,#6ed 0 668px,#7ec 0 670px,#6ee 0 672px,#7ed 0 674px,#7ec 0 676px,#8ea 0 677px,#7ec 0 679px,#aea 0 682px,#7ec 0 684px,#9ea 0 688px,#7ec 0 690px,#aea 0 692px,#7ec 0 694px,#8ea 0 695px,#9ea 0 697px,#6ee 0 700px,#7ec 0 702px,#6ed 0 705px,#aea 0 706px,#8eb 0 709px,#7ec 0 711px,#9ea 0 713px,#8ea 0 715px,#aea 0 717px,#6ee 0 718px,#afa 0 720px,#aea 0 722px,#7ec 0 725px,#bfa 0 727px,#9ea 0 732px,#8ea 0 735px,#bfa 0 739px,#7ed 0 742px,#aea 0 745px,#7ec 0 749px,#8eb 0 751px,#cfa 0 754px,#aea 0 757px,#9ea 0 759px,#7ed 0 761px,#afa 0 762px,#8eb 0 764px,#bfa 0 765px,#7ec 0 769px,#aea 0 774px,#bfa 0 775px,#aea 0 783px,#9ea 0 787px,#8ea 0 790px,#cf9 0 792px,#aea 0 800px,#cf9 0 805px,#aea 0 808px,#cf9 0 812px,#df9 0 816px,#aea 0 818px,#cf9 0 821px,#df9 0 823px,#cf9 0 826px,#ed6 0 830px,#df9 0 834px,#bfa 0 840px,#df9 0 845px,#de8 0 849px,#cf9 0 852px,#de8 0 856px,#ee7 0 862px,#cf9 0 867px,#cfa 0 869px,#aea 869px,#ee7 875px,#cfa 879px,#de8 887px,#de8 892px,#ee8 898px,#bfa 904px,#cfa 911px,#df9 919px,#de8 928px,#cf9 935px,#de8 941px,#bfa 950px,#df9 956px,#cfa 964px,#df9 971px,#ee8 979px,#ed6 986px,#ee7 993px,#cf9 1000px,#ed6 1013px,#de8 1023px,#de8 1036px,#fc6 1051px,#ee7 1064px,#ed6 1076px,#de8 1093px,#ee7 1112px,#df9 1125px,#cf9 1146px,#bcfaa5 1154px,#acf5a8 1164px,#8aecae 1184px,#83ecbb 1194px,#7cebc8 1209px,#73ebd4 1224px,#6aebe1 1264px,#66e6e8 1304px,#61e1f0 1324px,#52d6f8 1344px,#44caff 1364px,#3bc4ff 1384px,#37c2ff 1414px)"></div><div style="left:1580.9px;width:39.4px;background:linear-gradient(#0a0079 104px,#107 0 149px,#208 0 152px,#107 0 161px,#208 0 164px,#107 0 165px,#20a 0 167px,#209 0 172px,#107 0 176px,#10b 0 177px,#10a 0 179px,#209 0 180px,#10b 0 182px,#20a 0 183px,#01c 0 184px,#209 0 188px,#20a 0 191px,#01c 0 193px,#107 0 194px,#10b 0 196px,#01c 0 198px,#01b 0 199px,#20a 0 201px,#10b 0 203px,#01c 0 207px,#10b 0 209px,#01c 0 212px,#10b 0 214px,#02d 0 217px,#01c 0 224px,#20a 0 225px,#02d 0 227px,#01c 0 229px,#15e 0 232px,#02d 0 234px,#01c 0 236px,#02d 0 242px,#01c 0 243px,#02d 0 245px,#03d 0 247px,#15e 0 250px,#02d 0 256px,#17e 0 259px,#15e 0 261px,#01c 0 263px,#15e 0 265px,#03d 0 269px,#26e 0 271px,#16e 0 272px,#17e 0 273px,#03d 0 275px,#02d 0 276px,#17e 0 279px,#03d 0 281px,#02d 0 284px,#14e 0 285px,#02d 0 287px,#17f 0 289px,#16e 0 290px,#2bf 0 292px,#02d 0 293px,#1af 0 294px,#18f 0 297px,#14e 0 298px,#2bf 0 301px,#18f 0 303px,#17e 0 305px,#2bf 0 310px,#18f 0 312px,#15e 0 313px,#2bf 0 316px,#1af 0 319px,#3bf 0 326px,#4cf 0 327px,#2bf 0 329px,#3bf 0 332px,#2bf 0 334px,#3bf 0 336px,#2bf 0 340px,#15e 0 342px,#4cf 0 346px,#17e 0 348px,#3cf 0 350px,#4cf 0 351px,#2bf 0 353px,#3bf 0 355px,#4cf 0 356px,#2bf 0 358px,#4cf 0 362px,#2bf 0 365px,#19f 0 367px,#4cf 0 371px,#3bf 0 374px,#4cf 0 377px,#3bf 0 379px,#4cf 0 383px,#3bf 0 384px,#5de 0 389px,#1af 0 390px,#17e 0 391px,#4cf 0 392px,#3bf 0 393px,#5de 0 396px,#3bf 0 398px,#2bf 0 400px,#5de 0 402px,#6de 0 406px,#3bf 0 409px,#5de 0 411px,#4cf 0 413px,#5de 0 415px,#4cf 0 417px,#6ee 0 419px,#5de 0 421px,#4cf 0 423px,#3bf 0 426px,#6de 0 429px,#5de 0 432px,#6de 0 433px,#5cf 0 435px,#6de 0 438px,#2bf 0 440px,#4cf 0 442px,#3bf 0 444px,#4cf 0 448px,#6de 0 450px,#5de 0 452px,#3bf 0 454px,#5de 0 457px,#6de 0 460px,#4cf 0 462px,#5de 0 465px,#6de 0 466px,#6ed 0 467px,#5df 0 470px,#6de 0 472px,#5de 0 474px,#6de 0 478px,#4cf 0 481px,#5de 0 482px,#6ee 0 484px,#5cf 0 485px,#6ee 0 487px,#6de 0 488px,#3bf 0 490px,#6de 0 491px,#6ed 0 494px,#7ed 0 496px,#4cf 0 501px,#6de 0 506px,#3bf 0 509px,#6ed 0 511px,#5df 0 514px,#6de 0 516px,#4cf 0 517px,#5de 0 519px,#7ec 0 520px,#6ed 0 524px,#6de 0 525px,#7ed 0 527px,#6de 0 528px,#7ed 0 529px,#4cf 0 532px,#7ec 0 533px,#6de 0 535px,#8eb 0 536px,#6ee 0 538px,#6ed 0 540px,#3bf 0 541px,#7ed 0 543px,#6ed 0 545px,#7ec 0 548px,#6de 0 549px,#6ed 0 550px,#7ec 0 554px,#6ee 0 555px,#6de 0 557px,#3bf 0 559px,#7ec 0 561px,#6de 0 563px,#3bf 0 565px,#8ea 0 567px,#7ed 0 568px,#7ec 0 569px,#4cf 0 571px,#5de 0 574px,#6ed 0 576px,#3cf 0 578px,#7ed 0 580px,#7ec 0 581px,#4cf 0 584px,#7ec 0 588px,#6de 0 591px,#5df 0 592px,#7ec 0 597px,#6ee 0 600px,#7ec 0 601px,#6ed 0 604px,#7ec 0 607px,#6ed 0 609px,#4cf 0 612px,#6de 0 614px,#8eb 0 617px,#7eb 0 619px,#8eb 0 620px,#7ec 0 624px,#6ee 0 625px,#8ea 0 626px,#7ed 0 629px,#7ec 0 632px,#7ed 0 635px,#8eb 0 637px,#6de 0 639px,#8eb 0 642px,#4cf 0 643px,#6ed 0 646px,#7ec 0 648px,#6ed 0 649px,#8eb 0 654px,#7ec 0 657px,#8eb 0 660px,#7ed 0 662px,#8eb 0 664px,#9ea 0 666px,#8eb 0 667px,#6ed 0 669px,#8eb 0 672px,#7ed 0 674px,#9ea 0 676px,#8ea 0 677px,#9ea 0 679px,#8eb 0 685px,#7ec 0 687px,#8eb 0 690px,#6de 0 691px,#8eb 0 694px,#bfa 0 696px,#8eb 0 697px,#5de 0 699px,#9ea 0 702px,#8eb 0 704px,#8ea 0 705px,#6ee 0 707px,#8ea 0 712px,#aea 0 716px,#8ea 0 718px,#9ea 0 720px,#7ec 0 723px,#9ea 0 727px,#8eb 0 730px,#aea 0 733px,#8eb 0 743px,#bfa 0 745px,#aea 0 747px,#8eb 0 750px,#7ec 0 752px,#9ea 0 755px,#8ea 0 757px,#aea 0 758px,#7ed 0 761px,#9ea 0 765px,#8eb 0 766px,#bfa 0 770px,#7ec 0 773px,#afa 0 775px,#bfa 0 778px,#aea 0 782px,#9ea 0 789px,#bfa 0 796px,#9ea 0 800px,#aea 0 806px,#9ea 0 808px,#cfa 0 812px,#aea 0 814px,#bfa 0 819px,#8eb 0 823px,#de8 0 826px,#afa 0 829px,#de8 0 833px,#bfa 0 837px,#de8 0 840px,#cf9 0 845px,#df9 0 851px,#de8 0 854px,#cfa 0 860px,#de8 0 863px,#df9 0 868px,#de8 0 869px,#cf9 869px,#cf9 873px,#df9 880px,#9ea 884px,#df9 890px,#df9 897px,#cfa 906px,#cf9 912px,#cf9 918px,#df9 927px,#de8 934px,#9ea 943px,#cf9 953px,#de8 962px,#df9 970px,#afa 981px,#df9 992px,#de8 1003px,#de8 1016px,#ee8 1026px,#df9 1035px,#de8 1049px,#de8 1059px,#de8 1071px,#ed7 1088px,#df9 1097px,#fb5 1116px,#fd6 1127px,#de8 1141px,#df9 1151px,#d5fb99 1154px,#cdffa2 1159px,#acf5a8 1171px,#8aecae 1182px,#7cebc8 1194px,#83ecbb 1224px,#7cebc8 1244px,#73ebd4 1264px,#6aebe1 1304px,#66e6e8 1344px,#61e1f0 1364px,#52d6f8 1384px,#4dd1fa 1414px)"></div><div style="left:1620.3px;width:39.4px;background:linear-gradient(#0a0079 104px,#107 0 149px,#209 0 151px,#107 0 154px,#208 0 155px,#107 0 157px,#208 0 159px,#108 0 161px,#208 0 164px,#108 0 167px,#209 0 172px,#208 0 175px,#209 0 176px,#10a 0 179px,#208 0 181px,#10a 0 183px,#108 0 186px,#10b 0 187px,#01c 0 191px,#20a 0 193px,#10b 0 195px,#02d 0 196px,#01b 0 199px,#10b 0 201px,#01c 0 203px,#209 0 206px,#01c 0 211px,#10b 0 212px,#02d 0 216px,#01c 0 218px,#02d 0 220px,#01c 0 223px,#02d 0 226px,#01c 0 228px,#02d 0 233px,#03d 0 236px,#01c 0 239px,#14e 0 241px,#00b 0 244px,#02d 0 248px,#14e 0 253px,#15e 0 254px,#10b 0 256px,#16e 0 257px,#02d 0 258px,#17e 0 262px,#16e 0 263px,#15e 0 265px,#14e 0 267px,#17e 0 268px,#02d 0 273px,#17e 0 275px,#19f 0 277px,#17e 0 279px,#19f 0 281px,#18f 0 282px,#1af 0 285px,#18f 0 289px,#19f 0 292px,#17e 0 293px,#17f 0 295px,#17e 0 300px,#18f 0 303px,#16e 0 307px,#19f 0 308px,#3bf 0 310px,#17f 0 311px,#17e 0 312px,#1af 0 313px,#2bf 0 319px,#4cf 0 321px,#3bf 0 324px,#2bf 0 325px,#3bf 0 327px,#1af 0 328px,#3bf 0 331px,#19f 0 333px,#3bf 0 336px,#15e 0 337px,#16e 0 339px,#3bf 0 340px,#4cf 0 343px,#3bf 0 345px,#19f 0 346px,#3bf 0 348px,#2bf 0 353px,#3bf 0 355px,#3cf 0 360px,#3bf 0 372px,#17f 0 373px,#2af 0 375px,#3bf 0 377px,#5de 0 379px,#3bf 0 381px,#2bf 0 383px,#3bf 0 385px,#6ee 0 389px,#4cf 0 390px,#6de 0 392px,#3cf 0 393px,#4cf 0 395px,#1af 0 398px,#4cf 0 400px,#3bf 0 402px,#6de 0 405px,#3bf 0 407px,#5de 0 408px,#5cf 0 410px,#5df 0 411px,#4cf 0 413px,#6de 0 418px,#4cf 0 426px,#5de 0 427px,#5cf 0 429px,#5de 0 431px,#4cf 0 433px,#6de 0 434px,#3bf 0 435px,#5de 0 438px,#6de 0 443px,#5de 0 447px,#6de 0 449px,#5de 0 451px,#6ed 0 452px,#4cf 0 457px,#5cf 0 459px,#6de 0 460px,#6ed 0 463px,#6de 0 465px,#4cf 0 466px,#6de 0 467px,#4cf 0 469px,#6de 0 470px,#6ed 0 475px,#5df 0 477px,#5de 0 480px,#2bf 0 481px,#4cf 0 482px,#6ed 0 484px,#4cf 0 487px,#6ee 0 488px,#6de 0 491px,#6ee 0 493px,#5cf 0 494px,#6de 0 497px,#6ee 0 498px,#7ec 0 499px,#6ed 0 500px,#7ec 0 503px,#6ed 0 505px,#4cf 0 508px,#6ee 0 511px,#7ec 0 513px,#6de 0 516px,#6ed 0 517px,#6ee 0 519px,#6ed 0 521px,#6de 0 523px,#7ed 0 525px,#6ed 0 527px,#6de 0 528px,#6ed 0 531px,#6de 0 532px,#7ed 0 534px,#5cf 0 536px,#7ed 0 537px,#6ee 0 539px,#5df 0 542px,#7ed 0 545px,#6ed 0 546px,#6de 0 549px,#6ed 0 553px,#6ee 0 555px,#6de 0 557px,#7ed 0 559px,#6de 0 560px,#6ed 0 562px,#7ec 0 564px,#6ee 0 566px,#3bf 0 568px,#6ed 0 569px,#7ec 0 572px,#5de 0 574px,#6ed 0 576px,#7ec 0 578px,#6ed 0 580px,#5df 0 583px,#8eb 0 585px,#6ed 0 587px,#7ed 0 592px,#6ed 0 595px,#8eb 0 597px,#6ed 0 598px,#8eb 0 601px,#6ee 0 604px,#6de 0 607px,#3bf 0 609px,#7eb 0 612px,#7ed 0 614px,#7ec 0 616px,#5cf 0 617px,#8eb 0 620px,#9ea 0 622px,#6de 0 623px,#8eb 0 626px,#6ed 0 628px,#8eb 0 630px,#8ea 0 631px,#7ec 0 632px,#6de 0 633px,#6ee 0 636px,#7ec 0 638px,#8eb 0 641px,#6de 0 643px,#6ed 0 645px,#7eb 0 647px,#6de 0 649px,#6ed 0 650px,#5de 0 653px,#9ea 0 654px,#8ea 0 656px,#7ec 0 658px,#4cf 0 661px,#9ea 0 662px,#7ec 0 666px,#8ea 0 670px,#7ec 0 674px,#6ed 0 675px,#7ed 0 678px,#8eb 0 680px,#8ea 0 682px,#7ec 0 686px,#8ea 0 688px,#7ec 0 689px,#8eb 0 691px,#9ea 0 694px,#8ea 0 695px,#6ed 0 698px,#7ec 0 700px,#aea 0 702px,#6ed 0 705px,#9ea 0 707px,#6de 0 708px,#7ec 0 711px,#8eb 0 715px,#8ea 0 716px,#8eb 0 717px,#8ea 0 720px,#9ea 0 724px,#7ec 0 725px,#9ea 0 728px,#8ea 0 731px,#9ea 0 732px,#6ed 0 735px,#aea 0 736px,#8ea 0 737px,#7eb 0 739px,#6ed 0 742px,#bfa 0 745px,#9ea 0 748px,#7ed 0 751px,#8ea 0 753px,#aea 0 756px,#7eb 0 759px,#aea 0 761px,#7ec 0 764px,#9ea 0 766px,#aea 0 768px,#8eb 0 771px,#9ea 0 774px,#aea 0 780px,#8ea 0 782px,#7ec 0 790px,#aea 0 795px,#8eb 0 802px,#bfa 0 807px,#8eb 0 811px,#cfa 0 816px,#cf9 0 821px,#afa 0 823px,#8ea 0 826px,#cf9 0 837px,#df9 0 841px,#9ea 0 846px,#cf9 0 851px,#df9 0 855px,#de8 0 861px,#df9 0 869px,#df9 869px,#df9 876px,#9ea 882px,#9ea 891px,#bfa 898px,#cfa 903px,#aea 913px,#df9 918px,#de8 924px,#aea 932px,#ee8 940px,#cf9 950px,#cf9 958px,#ee8 969px,#8ea 981px,#bfa 993px,#cf9 1003px,#9ea 1012px,#9ea 1024px,#ee8 1034px,#bfa 1044px,#9ea 1060px,#aea 1073px,#cfa 1084px,#ed7 1095px,#ee7 1112px,#de8 1129px,#df9 1150px,#d9f994 1154px,#cdffa2 1176px,#bcfaa5 1194px,#acf5a8 1202px,#8aecae 1216px,#83ecbb 1224px,#7cebc8 1264px,#7cebc8 1304px,#6aebe1 1331px,#66e6e8 1344px,#61e1f0 1364px,#52d6f8 1384px,#4dd1fa 1414px)"></div><div style="left:1659.7px;width:39.4px;background:linear-gradient(#0a0079 104px,#107 0 133px,#209 0 135px,#107 0 141px,#209 0 144px,#107 0 147px,#208 0 148px,#107 0 150px,#209 0 152px,#107 0 159px,#10a 0 161px,#107 0 166px,#209 0 168px,#01b 0 171px,#209 0 172px,#10a 0 174px,#01c 0 176px,#209 0 179px,#208 0 181px,#01c 0 185px,#00b 0 187px,#10b 0 193px,#209 0 195px,#02d 0 198px,#01c 0 200px,#10b 0 201px,#02d 0 202px,#10a 0 203px,#01b 0 206px,#10b 0 210px,#02d 0 213px,#01c 0 218px,#02d 0 222px,#01c 0 226px,#10b 0 228px,#02d 0 230px,#01c 0 233px,#14e 0 236px,#01c 0 237px,#02d 0 240px,#03d 0 242px,#01c 0 245px,#02d 0 246px,#16e 0 250px,#15e 0 253px,#17e 0 255px,#15e 0 257px,#16e 0 259px,#18f 0 260px,#19f 0 262px,#02d 0 265px,#18f 0 268px,#15e 0 270px,#17e 0 274px,#02d 0 276px,#18f 0 278px,#02d 0 281px,#17e 0 282px,#19f 0 283px,#18f 0 286px,#17e 0 288px,#2bf 0 289px,#18f 0 292px,#2af 0 295px,#17e 0 296px,#14e 0 299px,#17e 0 301px,#18f 0 304px,#1af 0 306px,#18f 0 308px,#3bf 0 311px,#2af 0 313px,#3bf 0 315px,#1af 0 317px,#2af 0 318px,#2bf 0 325px,#3bf 0 330px,#4cf 0 332px,#3bf 0 334px,#16e 0 336px,#4cf 0 340px,#2bf 0 342px,#3bf 0 344px,#2bf 0 345px,#3bf 0 351px,#2af 0 353px,#4cf 0 359px,#3bf 0 367px,#5de 0 370px,#4cf 0 372px,#2af 0 373px,#5df 0 375px,#4cf 0 381px,#18f 0 383px,#3bf 0 385px,#4cf 0 386px,#3bf 0 389px,#5cf 0 390px,#4cf 0 391px,#5de 0 393px,#6de 0 395px,#5de 0 396px,#6ed 0 399px,#6de 0 400px,#17e 0 402px,#3bf 0 405px,#4cf 0 407px,#6ee 0 410px,#3bf 0 413px,#18f 0 414px,#4cf 0 416px,#3bf 0 417px,#5de 0 419px,#6de 0 422px,#4cf 0 424px,#5de 0 426px,#6de 0 429px,#5de 0 430px,#5cf 0 431px,#4cf 0 432px,#5de 0 438px,#3bf 0 439px,#4cf 0 444px,#6de 0 447px,#4cf 0 451px,#5cf 0 454px,#6de 0 455px,#5de 0 457px,#4cf 0 458px,#6de 0 461px,#3bf 0 463px,#6de 0 469px,#4cf 0 471px,#5df 0 472px,#6de 0 475px,#6ee 0 476px,#4cf 0 477px,#6de 0 479px,#5cf 0 481px,#6de 0 487px,#3bf 0 490px,#7ed 0 492px,#6de 0 495px,#6ee 0 498px,#4cf 0 500px,#5de 0 503px,#3bf 0 505px,#6de 0 510px,#5cf 0 513px,#4cf 0 515px,#6de 0 517px,#4cf 0 518px,#6ee 0 521px,#6ed 0 523px,#7ed 0 526px,#6ed 0 531px,#2bf 0 533px,#6ed 0 535px,#7ec 0 537px,#5df 0 538px,#6de 0 540px,#6ee 0 541px,#4cf 0 542px,#6ed 0 545px,#7ed 0 547px,#6ee 0 550px,#7ec 0 551px,#7ed 0 554px,#6ed 0 555px,#6ee 0 557px,#7ec 0 561px,#5df 0 562px,#6ed 0 565px,#5df 0 567px,#6ed 0 571px,#7ec 0 574px,#6ed 0 576px,#6de 0 579px,#6ed 0 581px,#6de 0 586px,#7ed 0 588px,#7ec 0 591px,#5de 0 594px,#5cf 0 595px,#7ec 0 596px,#8ea 0 598px,#6de 0 601px,#7eb 0 604px,#6ed 0 606px,#5df 0 608px,#8eb 0 611px,#7ec 0 614px,#6ed 0 616px,#5de 0 618px,#7ec 0 620px,#6ed 0 621px,#6ee 0 624px,#5de 0 626px,#7ed 0 628px,#8eb 0 629px,#4cf 0 632px,#7ec 0 638px,#5de 0 640px,#6ed 0 642px,#8eb 0 645px,#8ea 0 649px,#7ec 0 652px,#8ea 0 653px,#5de 0 655px,#4cf 0 656px,#6ed 0 657px,#7ec 0 660px,#6de 0 663px,#7ec 0 665px,#6de 0 668px,#8ea 0 670px,#4cf 0 672px,#8eb 0 673px,#7ec 0 676px,#8eb 0 678px,#7eb 0 680px,#9ea 0 681px,#6de 0 682px,#8eb 0 685px,#4cf 0 687px,#8eb 0 690px,#6ed 0 692px,#8eb 0 695px,#7ec 0 697px,#8ea 0 700px,#6de 0 701px,#8ea 0 703px,#bfa 0 707px,#8eb 0 708px,#8ea 0 710px,#7ec 0 712px,#8eb 0 713px,#9ea 0 716px,#8ea 0 717px,#8eb 0 719px,#6ed 0 723px,#aea 0 726px,#9ea 0 727px,#aea 0 729px,#9ea 0 732px,#6ed 0 734px,#8eb 0 737px,#cf9 0 739px,#6ed 0 741px,#9ea 0 743px,#7ec 0 745px,#9ea 0 751px,#aea 0 753px,#9ea 0 756px,#cf9 0 759px,#bfa 0 766px,#9ea 0 771px,#bfa 0 776px,#9ea 0 779px,#aea 0 783px,#cfa 0 787px,#7ec 0 790px,#9ea 0 794px,#bfa 0 800px,#cf9 0 809px,#8ea 0 812px,#cf9 0 819px,#de8 0 821px,#df9 0 826px,#de8 0 829px,#ee8 0 833px,#ee7 0 837px,#df9 0 839px,#bfa 0 843px,#ed6 0 845px,#ee7 0 850px,#ed7 0 852px,#bfa 0 856px,#de8 0 859px,#ed6 0 861px,#df9 0 865px,#ee7 0 869px,#de8 869px,#aea 874px,#df9 881px,#aea 888px,#cf9 897px,#df9 905px,#df9 912px,#de8 919px,#de8 924px,#ee7 932px,#de8 938px,#df9 947px,#de8 955px,#ee7 964px,#ed6 972px,#ee7 983px,#ed6 992px,#ed7 1002px,#ed6 1009px,#fb5 1018px,#ee8 1027px,#ee7 1042px,#ed6 1053px,#cf9 1063px,#ed7 1071px,#cfa 1082px,#ed6 1093px,#de8 1109px,#de8 1119px,#ee7 1135px,#ee8 1150px,#e8f083 1154px,#e8f083 1194px,#dff58d 1198px,#cdffa2 1205px,#acf5a8 1213px,#8aecae 1220px,#83ecbb 1224px,#7cebc8 1264px,#73ebd4 1304px,#6aebe1 1324px,#66e6e8 1344px,#61e1f0 1384px,#5bdcf3 1414px)"></div><div style="left:1699.1px;width:39.4px;background:linear-gradient(#0a0079 104px,#107 0 117px,#108 0 120px,#107 0 133px,#108 0 135px,#107 0 143px,#209 0 145px,#108 0 146px,#209 0 148px,#107 0 150px,#10a 0 153px,#20a 0 154px,#107 0 156px,#209 0 158px,#107 0 160px,#108 0 162px,#10a 0 166px,#20a 0 168px,#107 0 171px,#10a 0 173px,#01c 0 177px,#02d 0 179px,#01c 0 183px,#10b 0 187px,#01c 0 193px,#209 0 194px,#01c 0 201px,#02d 0 202px,#03d 0 205px,#01c 0 206px,#10b 0 208px,#01c 0 211px,#02d 0 213px,#01c 0 216px,#03d 0 218px,#15e 0 220px,#02d 0 222px,#20a 0 223px,#16e 0 225px,#01c 0 227px,#02d 0 228px,#03d 0 230px,#16e 0 231px,#01c 0 233px,#02d 0 234px,#14e 0 236px,#02d 0 238px,#03d 0 239px,#10b 0 241px,#02d 0 242px,#14e 0 244px,#16e 0 246px,#14e 0 248px,#17f 0 250px,#19f 0 253px,#01c 0 255px,#02d 0 257px,#1af 0 259px,#17e 0 262px,#01c 0 265px,#16e 0 266px,#18f 0 269px,#19f 0 271px,#16e 0 274px,#18f 0 277px,#1af 0 280px,#15e 0 281px,#18f 0 284px,#19f 0 285px,#2af 0 286px,#1af 0 289px,#19f 0 291px,#2bf 0 293px,#19f 0 295px,#18f 0 300px,#1af 0 302px,#4cf 0 306px,#3bf 0 309px,#2af 0 314px,#2bf 0 316px,#19f 0 320px,#3bf 0 323px,#2af 0 325px,#3bf 0 329px,#19f 0 330px,#2af 0 332px,#2bf 0 334px,#4cf 0 337px,#1af 0 339px,#3bf 0 342px,#2bf 0 344px,#1af 0 346px,#3bf 0 352px,#2bf 0 354px,#4cf 0 356px,#5cf 0 359px,#4cf 0 361px,#2af 0 363px,#5cf 0 364px,#4cf 0 369px,#1af 0 370px,#4cf 0 374px,#5de 0 376px,#4cf 0 379px,#3bf 0 381px,#3cf 0 382px,#1af 0 384px,#3bf 0 386px,#5de 0 388px,#3bf 0 390px,#18f 0 392px,#5de 0 393px,#6de 0 396px,#5cf 0 397px,#2bf 0 399px,#6de 0 401px,#3bf 0 402px,#6ee 0 404px,#6de 0 406px,#4cf 0 412px,#5de 0 414px,#3bf 0 415px,#4cf 0 417px,#5de 0 419px,#6ed 0 421px,#5de 0 423px,#6ee 0 426px,#6de 0 434px,#6ee 0 436px,#5de 0 438px,#6ed 0 442px,#5cf 0 443px,#4cf 0 445px,#3bf 0 446px,#7ed 0 447px,#5cf 0 448px,#3bf 0 449px,#7ec 0 452px,#6ed 0 454px,#4cf 0 456px,#5de 0 458px,#7ec 0 460px,#4cf 0 462px,#6ed 0 464px,#5de 0 465px,#7ed 0 468px,#6ed 0 470px,#7ec 0 475px,#2bf 0 476px,#7ec 0 479px,#6de 0 481px,#6ee 0 483px,#6de 0 485px,#6ed 0 487px,#5df 0 489px,#7ed 0 491px,#6de 0 493px,#7ec 0 495px,#6ee 0 498px,#7ec 0 500px,#8eb 0 501px,#6de 0 502px,#7eb 0 503px,#4cf 0 504px,#5df 0 505px,#7ec 0 509px,#6ee 0 511px,#7ed 0 514px,#6ed 0 515px,#3bf 0 517px,#6de 0 520px,#6ed 0 521px,#4cf 0 524px,#7ec 0 526px,#8eb 0 529px,#7ec 0 530px,#6de 0 533px,#6ed 0 538px,#4cf 0 539px,#6ed 0 541px,#7ec 0 544px,#6ed 0 547px,#7ed 0 552px,#7ec 0 554px,#6ed 0 556px,#7ed 0 557px,#7eb 0 559px,#7ec 0 562px,#7ed 0 563px,#6ed 0 565px,#8eb 0 570px,#7ed 0 576px,#5df 0 578px,#8ea 0 580px,#8eb 0 581px,#7ec 0 583px,#6ed 0 584px,#7ed 0 587px,#7ec 0 591px,#6de 0 594px,#6ee 0 597px,#8ea 0 600px,#8eb 0 606px,#7ec 0 611px,#6ed 0 613px,#7ec 0 619px,#9ea 0 620px,#7ec 0 622px,#7ed 0 623px,#8eb 0 625px,#5de 0 626px,#9ea 0 627px,#6ed 0 629px,#8eb 0 634px,#9ea 0 638px,#7ec 0 640px,#6ed 0 643px,#7ec 0 646px,#8eb 0 653px,#9ea 0 654px,#bfa 0 656px,#7ec 0 658px,#7ed 0 659px,#8ea 0 662px,#7ec 0 664px,#9ea 0 666px,#8eb 0 667px,#7ed 0 674px,#8eb 0 677px,#9ea 0 679px,#8ea 0 683px,#aea 0 684px,#9ea 0 686px,#8ea 0 689px,#7ec 0 691px,#9ea 0 693px,#aea 0 695px,#9ea 0 697px,#aea 0 698px,#9ea 0 701px,#7ec 0 704px,#8ea 0 705px,#aea 0 707px,#afa 0 709px,#aea 0 711px,#9ea 0 712px,#bfa 0 715px,#cf9 0 717px,#7ec 0 720px,#8eb 0 721px,#8ea 0 724px,#aea 0 726px,#8ea 0 731px,#8eb 0 734px,#bfa 0 737px,#cfa 0 740px,#aea 0 743px,#bfa 0 744px,#8ea 0 745px,#aea 0 747px,#7ec 0 748px,#8eb 0 751px,#afa 0 755px,#7ec 0 757px,#8eb 0 759px,#bfa 0 762px,#aea 0 765px,#7ec 0 767px,#9ea 0 769px,#bfa 0 772px,#8eb 0 776px,#8ea 0 778px,#afa 0 781px,#8eb 0 784px,#aea 0 785px,#9ea 0 788px,#bfa 0 790px,#8ea 0 794px,#aea 0 802px,#bfa 0 807px,#de8 0 811px,#df9 0 814px,#8ea 0 819px,#cfa 0 822px,#df9 0 824px,#de8 0 833px,#bfa 0 836px,#cf9 0 841px,#de8 0 845px,#aea 0 851px,#ee7 0 855px,#de8 0 861px,#cf9 0 867px,#bfa 0 869px,#de8 869px,#ee7 874px,#ee8 879px,#cf9 884px,#cfa 893px,#cf9 900px,#bfa 905px,#ee8 910px,#de8 917px,#bfa 926px,#cfa 931px,#cfa 941px,#cf9 949px,#ee8 960px,#bfa 970px,#ee7 977px,#bfa 984px,#de8 996px,#ee8 1008px,#ee7 1016px,#df9 1027px,#bfa 1035px,#bfa 1044px,#ee7 1059px,#de8 1076px,#fc6 1094px,#df9 1107px,#fc6 1119px,#ee7 1133px,#ee8 1150px,#e3f389 1154px,#dff58d 1159px,#cdffa2 1182px,#bcfaa5 1194px,#acf5a8 1209px,#9bf0ab 1224px,#8aecae 1232px,#7cebc8 1248px,#6aebe1 1264px,#6aebe1 1304px,#61e1f0 1331px,#52d6f8 1344px,#44caff 1384px,#40c8ff 1414px)"></div><div style="left:1738.4px;width:39.4px;background:linear-gradient(#0a0079 104px,#107 0 130px,#108 0 133px,#107 0 134px,#208 0 135px,#107 0 151px,#10a 0 153px,#108 0 155px,#10a 0 159px,#20a 0 161px,#209 0 163px,#107 0 166px,#209 0 170px,#10a 0 171px,#10b 0 174px,#01c 0 183px,#01b 0 185px,#20a 0 187px,#10b 0 189px,#10a 0 191px,#01c 0 193px,#02d 0 201px,#01c 0 204px,#02d 0 207px,#01c 0 213px,#03d 0 215px,#02d 0 217px,#01c 0 219px,#03d 0 221px,#02d 0 227px,#16e 0 229px,#01c 0 232px,#16e 0 234px,#02d 0 236px,#16e 0 239px,#15e 0 241px,#17e 0 243px,#16e 0 245px,#18f 0 247px,#01c 0 249px,#02d 0 254px,#16e 0 255px,#15e 0 257px,#17e 0 261px,#15e 0 263px,#19f 0 264px,#02d 0 267px,#16e 0 268px,#19f 0 269px,#17e 0 271px,#18f 0 276px,#17e 0 277px,#18f 0 280px,#17f 0 282px,#1af 0 284px,#16e 0 287px,#17f 0 290px,#17e 0 292px,#3bf 0 297px,#1af 0 300px,#3bf 0 301px,#18f 0 302px,#3bf 0 304px,#2af 0 306px,#18f 0 308px,#2af 0 310px,#18f 0 312px,#19f 0 314px,#3bf 0 316px,#19f 0 318px,#4cf 0 319px,#2bf 0 324px,#3bf 0 327px,#2bf 0 329px,#3bf 0 333px,#5de 0 334px,#5cf 0 337px,#16e 0 339px,#4cf 0 341px,#3bf 0 346px,#6de 0 349px,#2bf 0 350px,#17e 0 352px,#1af 0 353px,#2af 0 355px,#3bf 0 357px,#5df 0 358px,#17e 0 360px,#4cf 0 368px,#3bf 0 369px,#4cf 0 370px,#3bf 0 373px,#5cf 0 375px,#1af 0 378px,#5cf 0 380px,#18f 0 383px,#2bf 0 384px,#3bf 0 386px,#5cf 0 387px,#5de 0 388px,#5df 0 389px,#5de 0 392px,#3bf 0 395px,#4cf 0 396px,#19f 0 398px,#5cf 0 400px,#4cf 0 403px,#7ed 0 405px,#3bf 0 408px,#5de 0 409px,#1af 0 411px,#5cf 0 413px,#4cf 0 417px,#5de 0 420px,#6ed 0 421px,#6de 0 424px,#5cf 0 428px,#6de 0 431px,#5cf 0 433px,#6ed 0 436px,#3cf 0 438px,#4cf 0 439px,#6de 0 443px,#3bf 0 446px,#6ed 0 447px,#5cf 0 449px,#6de 0 450px,#6ed 0 455px,#6de 0 458px,#5df 0 460px,#6de 0 462px,#6ee 0 464px,#6ed 0 468px,#5df 0 471px,#6de 0 473px,#7ec 0 476px,#4cf 0 478px,#7ec 0 479px,#6ed 0 484px,#6ee 0 485px,#5de 0 487px,#6de 0 489px,#6ed 0 492px,#6de 0 493px,#6ed 0 494px,#6ee 0 496px,#6de 0 497px,#7ec 0 500px,#5de 0 503px,#6de 0 505px,#7ec 0 507px,#4cf 0 510px,#7ec 0 512px,#6ee 0 513px,#4cf 0 515px,#6de 0 518px,#6ee 0 519px,#8eb 0 521px,#6de 0 522px,#7ed 0 525px,#6ed 0 535px,#5de 0 537px,#7ec 0 539px,#8eb 0 540px,#7ed 0 543px,#5de 0 545px,#7ec 0 546px,#8eb 0 548px,#7ec 0 551px,#6de 0 552px,#7ec 0 554px,#6ed 0 556px,#7ec 0 558px,#7ed 0 560px,#5df 0 562px,#6ed 0 565px,#4cf 0 566px,#3bf 0 568px,#7ec 0 571px,#8ea 0 573px,#4cf 0 575px,#6ed 0 577px,#6de 0 580px,#7ed 0 581px,#7ec 0 583px,#3cf 0 585px,#7ec 0 586px,#6ed 0 588px,#7ec 0 591px,#9ea 0 594px,#8eb 0 595px,#7ec 0 597px,#9ea 0 599px,#7ec 0 605px,#8eb 0 608px,#7ec 0 611px,#7ed 0 614px,#6ed 0 617px,#8ea 0 619px,#8eb 0 622px,#7eb 0 625px,#4cf 0 627px,#8eb 0 629px,#8ea 0 632px,#7ec 0 634px,#9ea 0 637px,#6ed 0 638px,#5df 0 639px,#9ea 0 642px,#8eb 0 643px,#6ed 0 644px,#8eb 0 649px,#7ec 0 652px,#8eb 0 657px,#aea 0 658px,#8ea 0 660px,#5de 0 662px,#7ed 0 664px,#8ea 0 666px,#5de 0 668px,#aea 0 671px,#9ea 0 672px,#7ec 0 675px,#8eb 0 677px,#8ea 0 680px,#aea 0 682px,#8ea 0 683px,#aea 0 688px,#8ea 0 691px,#aea 0 693px,#9ea 0 694px,#aea 0 697px,#9ea 0 698px,#8eb 0 700px,#aea 0 703px,#7ec 0 705px,#cfa 0 708px,#7ec 0 710px,#aea 0 712px,#bfa 0 715px,#9ea 0 717px,#aea 0 722px,#bfa 0 723px,#cfa 0 725px,#aea 0 727px,#cfa 0 729px,#8ea 0 734px,#9ea 0 737px,#bfa 0 739px,#aea 0 741px,#cfa 0 743px,#aea 0 746px,#bfa 0 751px,#9ea 0 753px,#aea 0 756px,#cf9 0 759px,#aea 0 761px,#bfa 0 763px,#9ea 0 764px,#aea 0 766px,#bfa 0 769px,#aea 0 772px,#bfa 0 775px,#aea 0 778px,#cfa 0 781px,#bfa 0 792px,#aea 0 795px,#8eb 0 797px,#cfa 0 799px,#9ea 0 801px,#cf9 0 806px,#8ea 0 808px,#df9 0 813px,#de8 0 816px,#cf9 0 821px,#aea 0 823px,#df9 0 827px,#bfa 0 832px,#cf9 0 835px,#df9 0 839px,#ee7 0 845px,#de8 0 851px,#ee7 0 856px,#de8 0 862px,#bfa 0 869px,#cf9 0 869px,#ee7 869px,#aea 877px,#cfa 884px,#bfa 892px,#aea 897px,#df9 906px,#bfa 914px,#ee7 923px,#ed7 934px,#bfa 939px,#ed7 945px,#ed7 955px,#ee7 965px,#ed7 977px,#ee8 987px,#ee7 994px,#ee8 1008px,#bfa 1022px,#ed7 1034px,#ed7 1045px,#cf9 1055px,#cf9 1067px,#df9 1084px,#ed6 1094px,#ee7 1112px,#df9 1125px,#ee7 1146px,#e3f389 1154px,#dff58d 1159px,#cdffa2 1182px,#bcfaa5 1194px,#acf5a8 1209px,#9bf0ab 1224px,#8aecae 1234px,#7cebc8 1254px,#73ebd4 1264px,#6aebe1 1304px,#61e1f0 1344px,#52d6f8 1384px,#4dd1fa 1414px)"></div><div style="left:1777.8px;width:39.4px;background:linear-gradient(#0a0079 104px,#107 0 136px,#208 0 139px,#107 0 148px,#208 0 150px,#108 0 151px,#107 0 153px,#108 0 155px,#209 0 157px,#108 0 160px,#209 0 163px,#108 0 165px,#107 0 167px,#01b 0 168px,#208 0 170px,#10a 0 173px,#10b 0 175px,#209 0 177px,#01c 0 180px,#01b 0 183px,#00b 0 185px,#10b 0 187px,#01b 0 190px,#00b 0 192px,#10a 0 194px,#00b 0 196px,#01b 0 198px,#01c 0 201px,#10b 0 202px,#01c 0 211px,#02d 0 214px,#01c 0 217px,#00b 0 219px,#02d 0 223px,#01c 0 229px,#03d 0 232px,#02d 0 235px,#15e 0 237px,#14e 0 239px,#03d 0 240px,#15e 0 242px,#01c 0 244px,#14e 0 247px,#15e 0 250px,#01c 0 253px,#16e 0 255px,#14e 0 258px,#17e 0 260px,#15e 0 262px,#17e 0 264px,#17f 0 266px,#18f 0 270px,#02d 0 271px,#17e 0 272px,#18f 0 274px,#04d 0 276px,#19f 0 278px,#15e 0 281px,#01c 0 282px,#15e 0 283px,#2bf 0 286px,#1af 0 289px,#19f 0 291px,#3bf 0 293px,#17e 0 295px,#4cf 0 298px,#1af 0 300px,#2af 0 303px,#17e 0 305px,#18f 0 308px,#2bf 0 312px,#17e 0 313px,#2bf 0 316px,#18f 0 317px,#1af 0 319px,#19f 0 322px,#3bf 0 323px,#18f 0 325px,#2bf 0 327px,#3bf 0 330px,#17f 0 331px,#17e 0 332px,#19f 0 335px,#4cf 0 337px,#2bf 0 339px,#2af 0 340px,#19f 0 343px,#4cf 0 346px,#3bf 0 349px,#2bf 0 352px,#4cf 0 355px,#3bf 0 357px,#4cf 0 359px,#19f 0 361px,#3bf 0 364px,#5cf 0 365px,#4cf 0 370px,#6de 0 372px,#2af 0 374px,#5de 0 376px,#1af 0 378px,#3bf 0 379px,#4cf 0 390px,#3bf 0 394px,#4cf 0 395px,#5cf 0 398px,#2af 0 400px,#5cf 0 401px,#3bf 0 403px,#6de 0 405px,#5cf 0 407px,#3bf 0 408px,#5de 0 410px,#4cf 0 412px,#3bf 0 413px,#4cf 0 417px,#6de 0 421px,#6ee 0 423px,#4cf 0 425px,#5de 0 427px,#4cf 0 430px,#6de 0 434px,#4cf 0 437px,#6de 0 439px,#6ed 0 441px,#5de 0 443px,#6ed 0 447px,#5de 0 449px,#4cf 0 451px,#5de 0 459px,#1af 0 462px,#5cf 0 464px,#3cf 0 466px,#6ee 0 467px,#6de 0 472px,#5de 0 473px,#3bf 0 476px,#6ed 0 479px,#4cf 0 481px,#2bf 0 484px,#6de 0 487px,#5de 0 489px,#6de 0 491px,#4cf 0 494px,#6de 0 500px,#7ec 0 501px,#6ed 0 503px,#6de 0 505px,#6ed 0 507px,#5df 0 509px,#6ed 0 512px,#4cf 0 514px,#6de 0 517px,#5cf 0 519px,#7ec 0 522px,#4cf 0 526px,#6ee 0 527px,#7ec 0 529px,#3bf 0 531px,#6ed 0 533px,#6de 0 535px,#7ec 0 536px,#6de 0 539px,#6ed 0 541px,#6ee 0 547px,#7eb 0 549px,#6ed 0 553px,#5cf 0 554px,#4cf 0 555px,#6ed 0 557px,#5cf 0 560px,#5de 0 562px,#6ee 0 564px,#7ed 0 566px,#6de 0 568px,#7ed 0 571px,#4cf 0 572px,#6ee 0 575px,#5de 0 577px,#7ec 0 578px,#6de 0 580px,#7ec 0 582px,#6ed 0 585px,#6de 0 588px,#6ed 0 589px,#8eb 0 592px,#7ec 0 595px,#6de 0 598px,#7ed 0 600px,#7ec 0 601px,#6ed 0 605px,#5de 0 608px,#6de 0 610px,#7ec 0 612px,#6de 0 618px,#6ed 0 619px,#7ec 0 622px,#3bf 0 624px,#7ec 0 627px,#8eb 0 629px,#7ec 0 631px,#8ea 0 633px,#8eb 0 638px,#7ed 0 639px,#6ed 0 642px,#7ec 0 644px,#8eb 0 646px,#7ec 0 649px,#7ed 0 652px,#7ec 0 656px,#7eb 0 659px,#9ea 0 661px,#6ed 0 663px,#8eb 0 664px,#6de 0 666px,#7eb 0 667px,#6ee 0 670px,#8ea 0 672px,#6de 0 673px,#8ea 0 675px,#7ec 0 682px,#8eb 0 685px,#6ed 0 686px,#8eb 0 689px,#bfa 0 691px,#8eb 0 694px,#8ea 0 698px,#aea 0 699px,#8ea 0 700px,#6ed 0 703px,#9ea 0 705px,#aea 0 706px,#9ea 0 707px,#7eb 0 710px,#9ea 0 712px,#8eb 0 717px,#9ea 0 719px,#6de 0 722px,#7ec 0 724px,#7ed 0 726px,#aea 0 728px,#8ea 0 729px,#aea 0 732px,#bfa 0 734px,#aea 0 736px,#6ed 0 738px,#7ec 0 743px,#6ed 0 744px,#9ea 0 746px,#8eb 0 751px,#9ea 0 754px,#8eb 0 756px,#cfa 0 759px,#aea 0 763px,#9ea 0 766px,#aea 0 770px,#9ea 0 773px,#aea 0 775px,#bfa 0 779px,#9ea 0 782px,#bfa 0 785px,#8ea 0 786px,#df9 0 789px,#7ec 0 793px,#8ea 0 797px,#bfa 0 807px,#aea 0 812px,#cfa 0 817px,#8ea 0 824px,#9ea 0 827px,#bfa 0 832px,#ee7 0 836px,#cfa 0 838px,#ee7 0 843px,#de8 0 847px,#ee7 0 849px,#df9 0 855px,#ee7 0 860px,#ee8 0 869px,#cfa 0 869px,#ee8 869px,#aea 876px,#df9 883px,#ee8 889px,#aea 897px,#cf9 902px,#de8 910px,#de8 918px,#cfa 925px,#df9 933px,#df9 942px,#de8 951px,#aea 957px,#ee8 964px,#ee7 971px,#de8 981px,#ee8 993px,#df9 1002px,#df9 1010px,#ee7 1019px,#ee8 1033px,#ee8 1048px,#ee7 1060px,#ee7 1070px,#ee8 1086px,#ee8 1100px,#afa 1119px,#cf9 1135px,#cfa 1145px,#b8f9a6 1154px,#acf5a8 1171px,#9bf0ab 1194px,#8aecae 1224px,#7cebc8 1264px,#6aebe1 1277px,#61e1f0 1291px,#44caff 1304px,#3bc4ff 1344px,#3bc4ff 1384px,#37c2ff 1414px)"></div><div style="left:1817.2px;width:39.4px;background:linear-gradient(#0a0079 104px,#107 0 148px,#108 0 151px,#107 0 154px,#208 0 156px,#107 0 158px,#108 0 160px,#20a 0 162px,#209 0 165px,#10a 0 167px,#20a 0 168px,#107 0 171px,#10b 0 174px,#209 0 176px,#20a 0 178px,#208 0 181px,#10b 0 185px,#10a 0 187px,#20a 0 189px,#01c 0 194px,#00b 0 196px,#10b 0 199px,#10a 0 201px,#10b 0 203px,#02d 0 205px,#10b 0 206px,#01c 0 214px,#10b 0 216px,#02d 0 217px,#00b 0 219px,#02d 0 221px,#01c 0 228px,#00b 0 229px,#03d 0 232px,#17e 0 235px,#15e 0 237px,#02d 0 239px,#01c 0 241px,#14e 0 243px,#15e 0 246px,#02d 0 249px,#26e 0 250px,#01c 0 252px,#14e 0 253px,#17e 0 254px,#18f 0 257px,#16e 0 259px,#17e 0 262px,#16e 0 264px,#01c 0 266px,#02d 0 268px,#03d 0 271px,#15e 0 272px,#26e 0 274px,#18f 0 275px,#14e 0 277px,#17f 0 280px,#19f 0 281px,#18f 0 283px,#1af 0 286px,#17f 0 288px,#19f 0 291px,#1af 0 292px,#15e 0 294px,#02d 0 295px,#18f 0 296px,#14e 0 298px,#17e 0 300px,#19f 0 302px,#18f 0 304px,#1af 0 306px,#16e 0 309px,#2af 0 312px,#1af 0 314px,#17f 0 317px,#1af 0 319px,#18f 0 322px,#2bf 0 324px,#1af 0 327px,#3bf 0 329px,#2bf 0 332px,#19f 0 334px,#3bf 0 336px,#2af 0 338px,#3bf 0 339px,#3cf 0 340px,#3bf 0 342px,#4cf 0 344px,#5cf 0 346px,#3bf 0 347px,#2bf 0 350px,#18f 0 351px,#4cf 0 353px,#3bf 0 356px,#4cf 0 361px,#3bf 0 364px,#2bf 0 367px,#4cf 0 369px,#3bf 0 371px,#17e 0 373px,#4cf 0 375px,#5df 0 377px,#19f 0 380px,#5de 0 381px,#4cf 0 382px,#6de 0 383px,#3cf 0 385px,#5de 0 387px,#3bf 0 389px,#3cf 0 391px,#4cf 0 392px,#3bf 0 394px,#4cf 0 397px,#3bf 0 399px,#5de 0 400px,#4cf 0 402px,#3bf 0 405px,#4cf 0 408px,#2bf 0 409px,#6de 0 410px,#4cf 0 415px,#6de 0 416px,#2bf 0 418px,#4cf 0 419px,#18f 0 421px,#6de 0 423px,#3bf 0 424px,#6de 0 426px,#3bf 0 427px,#6de 0 429px,#5df 0 431px,#5cf 0 432px,#6ed 0 433px,#5cf 0 435px,#4cf 0 436px,#6de 0 439px,#5de 0 440px,#5cf 0 442px,#6de 0 445px,#3bf 0 450px,#6de 0 452px,#4cf 0 453px,#6ed 0 456px,#4cf 0 458px,#5cf 0 462px,#3cf 0 464px,#2bf 0 466px,#6ee 0 467px,#5df 0 469px,#6de 0 474px,#3bf 0 477px,#6ed 0 478px,#6de 0 480px,#4cf 0 483px,#6ee 0 484px,#6de 0 486px,#6ee 0 488px,#3bf 0 491px,#6de 0 493px,#3bf 0 495px,#7ed 0 497px,#6ee 0 499px,#3bf 0 501px,#6ed 0 504px,#5df 0 507px,#6ed 0 509px,#5cf 0 511px,#6de 0 513px,#6ee 0 516px,#5de 0 517px,#6ed 0 518px,#6de 0 520px,#2af 0 523px,#7ed 0 526px,#6ed 0 527px,#7ed 0 529px,#6de 0 530px,#6ed 0 534px,#5de 0 536px,#6ee 0 538px,#6de 0 540px,#5cf 0 542px,#6ed 0 545px,#6ee 0 547px,#7ec 0 550px,#6ed 0 554px,#6de 0 556px,#6ed 0 558px,#6de 0 564px,#6ed 0 568px,#6ee 0 570px,#6ed 0 573px,#5df 0 574px,#7ec 0 578px,#5de 0 579px,#6ed 0 583px,#6de 0 587px,#6ee 0 588px,#8eb 0 589px,#6ee 0 592px,#7ed 0 594px,#6ed 0 595px,#6ee 0 598px,#7ec 0 599px,#4cf 0 601px,#8eb 0 603px,#6de 0 606px,#6ee 0 607px,#8eb 0 610px,#7ec 0 612px,#6de 0 614px,#7ec 0 616px,#8eb 0 618px,#7ed 0 622px,#6ed 0 623px,#5de 0 626px,#3bf 0 628px,#6ed 0 630px,#4cf 0 633px,#8eb 0 635px,#6ee 0 637px,#7ed 0 638px,#7ec 0 641px,#8ea 0 643px,#7ec 0 645px,#8eb 0 647px,#7eb 0 650px,#9ea 0 652px,#7ec 0 655px,#8eb 0 657px,#7ec 0 659px,#8ea 0 662px,#6ed 0 664px,#8eb 0 672px,#6ed 0 673px,#aea 0 675px,#7eb 0 677px,#7ed 0 680px,#5de 0 682px,#8ea 0 683px,#9ea 0 686px,#8eb 0 687px,#9ea 0 689px,#8eb 0 692px,#6de 0 693px,#9ea 0 696px,#5cf 0 697px,#7ec 0 698px,#8eb 0 699px,#9ea 0 702px,#6ed 0 704px,#aea 0 706px,#8ea 0 709px,#8eb 0 711px,#7eb 0 712px,#7ec 0 713px,#6ed 0 715px,#7ec 0 718px,#aea 0 720px,#8ea 0 721px,#aea 0 724px,#9ea 0 726px,#bfa 0 728px,#9ea 0 730px,#6ed 0 733px,#7ec 0 736px,#7eb 0 738px,#6ed 0 741px,#aea 0 743px,#9ea 0 746px,#aea 0 748px,#8eb 0 752px,#bfa 0 753px,#9ea 0 756px,#8eb 0 758px,#aea 0 761px,#7ec 0 763px,#7ed 0 765px,#aea 0 770px,#cf9 0 774px,#8eb 0 778px,#9ea 0 782px,#aea 0 783px,#7ec 0 786px,#aea 0 792px,#7ec 0 797px,#9ea 0 802px,#8ea 0 804px,#bfa 0 808px,#aea 0 810px,#cf9 0 817px,#8ea 0 821px,#df9 0 825px,#aea 0 827px,#cfa 0 831px,#df9 0 833px,#cfa 0 839px,#de8 0 844px,#ed7 0 849px,#ee8 0 855px,#de8 0 860px,#cf9 0 863px,#df9 0 867px,#cfa 0 869px,#de8 869px,#de8 876px,#cfa 883px,#cfa 889px,#bfa 897px,#cfa 902px,#cf9 911px,#8eb 918px,#cf9 927px,#8ea 937px,#de8 948px,#9ea 954px,#cf9 964px,#ee8 976px,#ee7 987px,#ee7 998px,#aea 1008px,#df9 1017px,#ee7 1025px,#de8 1033px,#de8 1049px,#df9 1058px,#cfa 1071px,#df9 1083px,#bfa 1099px,#df9 1117px,#bfa 1132px,#aea 1142px,#9ea 1152px,#99f0ab 1154px,#8aecae 1166px,#7cebc8 1194px,#6aebe1 1224px,#6aebe1 1264px,#6aebe1 1304px,#61e1f0 1324px,#44caff 1344px,#32beff 1371px,#26b6ff 1384px,#21b4ff 1414px)"></div><div style="left:1856.6px;width:39.4px;background:linear-gradient(#0a0079 104px,#107 0 161px,#209 0 164px,#107 0 170px,#108 0 176px,#209 0 179px,#10b 0 184px,#208 0 187px,#209 0 190px,#10b 0 192px,#10a 0 194px,#01c 0 197px,#10b 0 198px,#108 0 199px,#20a 0 202px,#209 0 204px,#00b 0 206px,#10a 0 208px,#02d 0 209px,#00b 0 210px,#208 0 213px,#01c 0 214px,#02d 0 215px,#01c 0 231px,#02d 0 235px,#01c 0 237px,#02d 0 242px,#01c 0 244px,#02d 0 246px,#03d 0 249px,#02d 0 251px,#16e 0 254px,#02d 0 256px,#01c 0 258px,#02d 0 260px,#10b 0 262px,#17e 0 264px,#14e 0 266px,#02d 0 268px,#01c 0 273px,#16e 0 275px,#17f 0 277px,#16e 0 280px,#17f 0 282px,#01c 0 285px,#15e 0 287px,#19f 0 292px,#2af 0 294px,#17e 0 296px,#18f 0 300px,#17e 0 302px,#3bf 0 304px,#19f 0 306px,#18f 0 307px,#2af 0 308px,#26e 0 310px,#1af 0 319px,#16e 0 322px,#2af 0 325px,#02d 0 326px,#3bf 0 330px,#2bf 0 332px,#15e 0 334px,#4cf 0 336px,#3bf 0 340px,#19f 0 343px,#2bf 0 345px,#3bf 0 349px,#4cf 0 350px,#3bf 0 353px,#4cf 0 355px,#3bf 0 357px,#4cf 0 361px,#18f 0 362px,#4cf 0 365px,#3bf 0 367px,#4cf 0 370px,#5cf 0 372px,#4cf 0 374px,#5de 0 376px,#3bf 0 379px,#2bf 0 382px,#3bf 0 383px,#4cf 0 388px,#3bf 0 390px,#2bf 0 391px,#5de 0 393px,#6de 0 396px,#5de 0 399px,#5cf 0 401px,#4cf 0 405px,#6ed 0 408px,#6de 0 412px,#5de 0 414px,#3bf 0 416px,#18f 0 417px,#4cf 0 419px,#3bf 0 425px,#19f 0 428px,#5df 0 430px,#2bf 0 432px,#6de 0 437px,#5cf 0 438px,#4cf 0 441px,#5cf 0 445px,#5de 0 448px,#3bf 0 450px,#5de 0 451px,#5df 0 454px,#6de 0 456px,#6ed 0 458px,#4cf 0 466px,#6de 0 467px,#5cf 0 470px,#5de 0 471px,#6de 0 473px,#5cf 0 476px,#4cf 0 480px,#6ed 0 483px,#4cf 0 486px,#5de 0 488px,#3bf 0 489px,#1af 0 491px,#3bf 0 493px,#4cf 0 495px,#3bf 0 497px,#6de 0 499px,#3bf 0 500px,#6ed 0 502px,#6de 0 503px,#5de 0 505px,#3bf 0 507px,#4cf 0 510px,#6ee 0 512px,#5df 0 514px,#6ed 0 516px,#7ed 0 517px,#6de 0 519px,#6ed 0 521px,#6ee 0 523px,#6ed 0 524px,#7ec 0 526px,#6ed 0 528px,#5de 0 530px,#4cf 0 533px,#6ee 0 534px,#6ed 0 535px,#6ee 0 540px,#6de 0 544px,#6ed 0 546px,#6de 0 549px,#6ee 0 552px,#7ed 0 554px,#5cf 0 556px,#4cf 0 557px,#6ed 0 559px,#3bf 0 560px,#4cf 0 563px,#7ec 0 565px,#2bf 0 566px,#6de 0 568px,#6ed 0 569px,#7ec 0 570px,#5de 0 571px,#7ed 0 573px,#6ed 0 576px,#7ed 0 578px,#6ed 0 580px,#6de 0 582px,#6ee 0 585px,#7ed 0 586px,#7ec 0 588px,#7ed 0 591px,#6ed 0 592px,#6ee 0 595px,#7ed 0 598px,#6ed 0 600px,#7ec 0 606px,#6ee 0 608px,#7ed 0 610px,#5de 0 611px,#6ee 0 613px,#6ed 0 618px,#7ec 0 620px,#7ed 0 622px,#6ed 0 623px,#5de 0 624px,#3bf 0 627px,#6ed 0 630px,#7ec 0 631px,#5de 0 632px,#7ed 0 635px,#6ed 0 636px,#7ec 0 640px,#7eb 0 643px,#7ec 0 644px,#8eb 0 646px,#9ea 0 649px,#8eb 0 651px,#7ec 0 653px,#8eb 0 655px,#4cf 0 657px,#8eb 0 663px,#8ea 0 665px,#8eb 0 666px,#7ec 0 668px,#8eb 0 670px,#7ec 0 671px,#9ea 0 674px,#6ee 0 676px,#aea 0 677px,#9ea 0 680px,#6ee 0 682px,#7ec 0 683px,#8eb 0 685px,#8ea 0 688px,#6ed 0 690px,#8eb 0 692px,#7ed 0 694px,#7ec 0 696px,#9ea 0 698px,#8eb 0 700px,#aea 0 703px,#4cf 0 704px,#9ea 0 706px,#7ec 0 709px,#aea 0 710px,#9ea 0 712px,#6ed 0 713px,#9ea 0 720px,#6ed 0 724px,#8eb 0 726px,#8ea 0 728px,#bfa 0 729px,#aea 0 730px,#8eb 0 736px,#7ec 0 739px,#8eb 0 741px,#7ec 0 745px,#7ed 0 747px,#7ec 0 750px,#9ea 0 752px,#bfa 0 754px,#aea 0 755px,#8ea 0 759px,#7ed 0 761px,#8ea 0 765px,#bfa 0 767px,#9ea 0 768px,#aea 0 772px,#8eb 0 774px,#aea 0 781px,#7ec 0 785px,#8eb 0 789px,#df9 0 792px,#7ec 0 794px,#df9 0 798px,#8eb 0 802px,#7eb 0 806px,#bfa 0 810px,#cf9 0 812px,#aea 0 815px,#cf9 0 817px,#bfa 0 823px,#8eb 0 825px,#cf9 0 827px,#cfa 0 830px,#cf9 0 834px,#ee7 0 838px,#aea 0 841px,#bfa 0 843px,#de8 0 845px,#ee8 0 856px,#cf9 0 860px,#df9 0 863px,#bfa 0 867px,#aea 0 869px,#cf9 869px,#de8 873px,#aea 879px,#cfa 884px,#aea 889px,#9ea 896px,#cf9 905px,#df9 912px,#9ea 917px,#cf9 927px,#ee7 934px,#cf9 944px,#ee8 953px,#de8 961px,#ee8 972px,#ee7 983px,#bfa 995px,#cf9 1006px,#df9 1016px,#ee8 1027px,#de8 1036px,#cfa 1046px,#aea 1057px,#ee7 1073px,#ee8 1089px,#ee8 1106px,#de8 1120px,#cfa 1132px,#bfa 1152px,#baf9a5 1154px,#acf5a8 1166px,#8aecae 1194px,#83ecbb 1224px,#7cebc8 1230px,#6aebe1 1241px,#61e1f0 1253px,#44caff 1264px,#61e1f0 1304px,#44caff 1344px,#3bc4ff 1384px,#37c2ff 1414px)"></div><div style="left:1895.9px;width:39.4px;background:linear-gradient(#0a0079 104px,#107 0 147px,#209 0 150px,#107 0 152px,#20a 0 153px,#208 0 156px,#209 0 161px,#107 0 162px,#209 0 166px,#10a 0 167px,#208 0 168px,#209 0 170px,#20a 0 173px,#10a 0 174px,#01b 0 177px,#20a 0 179px,#00b 0 182px,#20a 0 186px,#10a 0 189px,#01c 0 196px,#209 0 198px,#01c 0 203px,#10b 0 204px,#02d 0 206px,#01c 0 210px,#02d 0 212px,#01c 0 215px,#02d 0 217px,#01c 0 222px,#209 0 224px,#01c 0 226px,#02d 0 227px,#03d 0 229px,#01c 0 234px,#15e 0 235px,#01c 0 238px,#02d 0 240px,#14e 0 241px,#10a 0 243px,#15e 0 246px,#02d 0 248px,#16e 0 253px,#14e 0 254px,#18f 0 257px,#14e 0 259px,#02d 0 260px,#14e 0 262px,#18f 0 264px,#17e 0 267px,#02d 0 272px,#26e 0 275px,#17e 0 277px,#17f 0 280px,#16e 0 281px,#2bf 0 283px,#19f 0 286px,#2bf 0 288px,#18f 0 290px,#19f 0 293px,#2bf 0 296px,#18f 0 300px,#2bf 0 301px,#3bf 0 304px,#1af 0 306px,#18f 0 308px,#1af 0 310px,#18f 0 313px,#19f 0 314px,#2af 0 318px,#3bf 0 323px,#2af 0 326px,#14e 0 329px,#4cf 0 332px,#3bf 0 342px,#4cf 0 343px,#19f 0 344px,#4cf 0 346px,#2bf 0 349px,#3bf 0 351px,#18f 0 352px,#2bf 0 353px,#4cf 0 355px,#2bf 0 357px,#4cf 0 360px,#3bf 0 362px,#1af 0 364px,#4cf 0 365px,#3bf 0 367px,#18f 0 370px,#4cf 0 373px,#3bf 0 374px,#5de 0 375px,#3bf 0 380px,#18f 0 381px,#5cf 0 383px,#4cf 0 387px,#2bf 0 389px,#5de 0 392px,#3bf 0 393px,#2af 0 395px,#4cf 0 400px,#5de 0 401px,#3bf 0 403px,#4cf 0 405px,#3bf 0 408px,#4cf 0 415px,#2bf 0 416px,#4cf 0 418px,#2bf 0 420px,#4cf 0 422px,#3bf 0 425px,#4cf 0 427px,#19f 0 428px,#2bf 0 429px,#3bf 0 431px,#4cf 0 432px,#1af 0 434px,#4cf 0 436px,#6ed 0 439px,#3bf 0 442px,#6de 0 443px,#6ed 0 445px,#5cf 0 447px,#6ee 0 448px,#3bf 0 453px,#5cf 0 456px,#4cf 0 457px,#6de 0 459px,#4cf 0 460px,#5de 0 462px,#4cf 0 463px,#2af 0 464px,#6de 0 468px,#19f 0 470px,#2bf 0 472px,#5df 0 475px,#4cf 0 476px,#6ee 0 480px,#5cf 0 481px,#7ed 0 484px,#5cf 0 485px,#6ee 0 487px,#4cf 0 489px,#6ed 0 491px,#3bf 0 493px,#5de 0 495px,#4cf 0 498px,#5cf 0 501px,#6ed 0 503px,#5de 0 504px,#6ed 0 511px,#4cf 0 512px,#5de 0 514px,#5cf 0 515px,#6ed 0 516px,#4cf 0 518px,#6de 0 521px,#6ed 0 522px,#6de 0 525px,#6ed 0 527px,#4cf 0 529px,#5de 0 531px,#7ed 0 533px,#6de 0 535px,#7ec 0 536px,#5cf 0 539px,#6de 0 541px,#6ee 0 547px,#6ed 0 550px,#7ec 0 551px,#3bf 0 553px,#7ec 0 555px,#6ee 0 557px,#6ed 0 559px,#6ee 0 562px,#7ec 0 564px,#6ed 0 569px,#4cf 0 570px,#7ec 0 572px,#7ed 0 574px,#6ed 0 577px,#6ee 0 580px,#5de 0 582px,#6ed 0 583px,#6de 0 585px,#6ed 0 588px,#7ec 0 589px,#5de 0 591px,#6ee 0 593px,#6de 0 594px,#7ed 0 596px,#6ed 0 597px,#8eb 0 599px,#6de 0 601px,#6ed 0 604px,#7ec 0 605px,#3bf 0 607px,#6ed 0 610px,#7ed 0 612px,#6ed 0 613px,#7ec 0 615px,#6ed 0 617px,#8eb 0 619px,#6ed 0 620px,#5df 0 623px,#7eb 0 625px,#7ec 0 627px,#8eb 0 629px,#7ec 0 631px,#6ed 0 632px,#6de 0 635px,#7ed 0 638px,#6ed 0 644px,#8eb 0 647px,#7ed 0 650px,#8ea 0 652px,#8eb 0 653px,#8ea 0 654px,#6ed 0 656px,#8eb 0 658px,#6ee 0 661px,#7eb 0 663px,#7ec 0 665px,#8eb 0 670px,#4cf 0 672px,#8ea 0 674px,#8eb 0 679px,#7ec 0 681px,#7eb 0 683px,#9ea 0 686px,#8ea 0 688px,#8eb 0 693px,#8ea 0 695px,#8eb 0 697px,#9ea 0 700px,#aea 0 706px,#8eb 0 708px,#8ea 0 709px,#7ec 0 711px,#aea 0 714px,#8eb 0 716px,#aea 0 719px,#7ec 0 722px,#8eb 0 725px,#9ea 0 726px,#aea 0 728px,#7eb 0 731px,#8eb 0 736px,#7ec 0 739px,#bfa 0 740px,#8ea 0 744px,#aea 0 749px,#cfa 0 752px,#9ea 0 758px,#aea 0 762px,#cfa 0 764px,#9ea 0 768px,#aea 0 772px,#9ea 0 779px,#cf9 0 781px,#7ec 0 785px,#8ea 0 787px,#bfa 0 790px,#9ea 0 794px,#cfa 0 797px,#bfa 0 800px,#aea 0 801px,#8eb 0 805px,#7ed 0 808px,#9ea 0 810px,#bfa 0 817px,#9ea 0 820px,#7ec 0 823px,#bfa 0 828px,#7eb 0 830px,#aea 0 835px,#8eb 0 837px,#df9 0 843px,#aea 0 846px,#8eb 0 851px,#7eb 0 855px,#8eb 0 858px,#aea 0 860px,#9ea 0 863px,#aea 0 865px,#7ec 0 867px,#8eb 0 869px,#aea 869px,#aea 876px,#bfa 882px,#9ea 891px,#9ea 897px,#bfa 901px,#7ec 910px,#8ea 918px,#8eb 924px,#8ea 934px,#9ea 945px,#cf9 953px,#aea 959px,#bfa 970px,#aea 977px,#df9 987px,#cf9 994px,#aea 1008px,#cfa 1023px,#cfa 1033px,#ee8 1042px,#bfa 1051px,#de8 1059px,#ee7 1072px,#ee8 1087px,#ee7 1100px,#de8 1117px,#de8 1136px,#cfa 1153px,#cbfea2 1154px,#acf5a8 1180px,#9bf0ab 1194px,#8aecae 1224px,#83ecbb 1264px,#83ecbb 1304px,#7cebc8 1317px,#6aebe1 1344px,#61e1f0 1364px,#44caff 1384px,#40c8ff 1414px)"></div><div style="left:1935.3px;width:39.4px;background:linear-gradient(#0a0079 104px,#107 0 139px,#209 0 141px,#107 0 144px,#108 0 145px,#208 0 147px,#107 0 151px,#208 0 153px,#107 0 156px,#209 0 160px,#20a 0 162px,#107 0 166px,#20a 0 169px,#107 0 171px,#00b 0 173px,#10a 0 174px,#01c 0 175px,#10b 0 178px,#01b 0 179px,#10a 0 183px,#00b 0 185px,#01c 0 187px,#02d 0 189px,#01c 0 191px,#10b 0 195px,#01c 0 197px,#208 0 198px,#01c 0 200px,#01b 0 201px,#01c 0 209px,#02d 0 211px,#01c 0 215px,#01b 0 216px,#02d 0 219px,#01c 0 221px,#10b 0 223px,#01c 0 226px,#14e 0 228px,#02d 0 231px,#14e 0 232px,#03d 0 237px,#26e 0 238px,#14e 0 240px,#01c 0 243px,#15e 0 245px,#16e 0 246px,#15e 0 248px,#02d 0 250px,#10b 0 252px,#16e 0 253px,#14e 0 254px,#02d 0 255px,#15e 0 258px,#03d 0 259px,#17e 0 265px,#19f 0 267px,#17e 0 269px,#19f 0 270px,#02d 0 273px,#1af 0 276px,#15e 0 278px,#02d 0 279px,#19f 0 280px,#18f 0 282px,#2af 0 284px,#17e 0 285px,#02d 0 288px,#17e 0 289px,#18f 0 292px,#19f 0 294px,#17f 0 297px,#2af 0 299px,#17e 0 302px,#2bf 0 304px,#3cf 0 306px,#16e 0 309px,#1af 0 311px,#3bf 0 313px,#2bf 0 314px,#2af 0 316px,#1af 0 319px,#3bf 0 321px,#2bf 0 323px,#15e 0 325px,#2af 0 327px,#17f 0 330px,#4cf 0 332px,#3bf 0 335px,#4cf 0 337px,#5cf 0 339px,#1af 0 340px,#3bf 0 343px,#2bf 0 345px,#4cf 0 347px,#18f 0 349px,#3bf 0 351px,#4cf 0 355px,#17e 0 356px,#4cf 0 359px,#3bf 0 361px,#5de 0 362px,#3bf 0 365px,#6de 0 368px,#3cf 0 369px,#5de 0 374px,#4cf 0 384px,#3bf 0 385px,#5de 0 387px,#4cf 0 389px,#6de 0 391px,#4cf 0 393px,#5de 0 394px,#4cf 0 398px,#3bf 0 401px,#5df 0 403px,#4cf 0 406px,#19f 0 407px,#2bf 0 410px,#6ed 0 412px,#6de 0 414px,#4cf 0 416px,#5de 0 418px,#5df 0 419px,#5de 0 425px,#6de 0 426px,#5de 0 428px,#5df 0 430px,#19f 0 431px,#6ee 0 432px,#5de 0 433px,#19f 0 435px,#6ed 0 436px,#1af 0 438px,#6ed 0 440px,#4cf 0 444px,#3cf 0 447px,#4cf 0 450px,#6ed 0 453px,#7ec 0 454px,#3bf 0 456px,#6ee 0 459px,#6de 0 461px,#6ee 0 464px,#6de 0 467px,#6ed 0 468px,#6de 0 472px,#6ed 0 473px,#6ee 0 478px,#6ed 0 480px,#5cf 0 482px,#6ed 0 486px,#7ec 0 487px,#6ed 0 489px,#7ed 0 490px,#6de 0 492px,#3bf 0 494px,#4cf 0 497px,#6de 0 499px,#4cf 0 500px,#6ed 0 503px,#4cf 0 508px,#7eb 0 509px,#6de 0 511px,#7eb 0 513px,#6ee 0 516px,#7ec 0 519px,#6ed 0 524px,#7ec 0 526px,#7ed 0 529px,#6de 0 530px,#6ed 0 532px,#7ec 0 534px,#7eb 0 537px,#6ed 0 539px,#7ed 0 540px,#7eb 0 543px,#8eb 0 545px,#8ea 0 547px,#6ee 0 549px,#8eb 0 550px,#8ea 0 552px,#8eb 0 557px,#7ed 0 559px,#7ec 0 561px,#7eb 0 564px,#8eb 0 566px,#7ec 0 568px,#8eb 0 570px,#6de 0 572px,#6ed 0 574px,#6de 0 577px,#4cf 0 580px,#7ed 0 581px,#8ea 0 583px,#6de 0 585px,#7ec 0 586px,#8eb 0 589px,#6ed 0 591px,#6ee 0 593px,#7ec 0 598px,#7eb 0 600px,#6ed 0 604px,#7ec 0 607px,#4cf 0 609px,#7eb 0 611px,#8eb 0 612px,#4cf 0 615px,#7ec 0 618px,#8eb 0 619px,#aea 0 621px,#8eb 0 622px,#9ea 0 624px,#8eb 0 630px,#6de 0 632px,#8ea 0 634px,#bfa 0 637px,#7ec 0 638px,#bfa 0 639px,#7ec 0 640px,#6ed 0 642px,#7ec 0 645px,#5cf 0 648px,#7ec 0 652px,#8ea 0 654px,#6ee 0 657px,#8eb 0 665px,#6ed 0 667px,#8ea 0 669px,#7ec 0 670px,#8eb 0 672px,#9ea 0 674px,#8eb 0 676px,#7ec 0 679px,#7ed 0 682px,#9ea 0 683px,#7ec 0 686px,#aea 0 689px,#bfa 0 690px,#8eb 0 693px,#aea 0 695px,#7ec 0 697px,#aea 0 699px,#bfa 0 701px,#aea 0 705px,#9ea 0 710px,#aea 0 712px,#cfa 0 713px,#aea 0 715px,#9ea 0 718px,#8eb 0 720px,#7ed 0 721px,#aea 0 723px,#8eb 0 725px,#aea 0 726px,#7ec 0 729px,#aea 0 733px,#9ea 0 734px,#8eb 0 736px,#bfa 0 739px,#aea 0 740px,#7ec 0 743px,#bfa 0 744px,#cf9 0 747px,#7ec 0 749px,#aea 0 750px,#bfa 0 753px,#cf9 0 760px,#aea 0 762px,#8ea 0 764px,#aea 0 768px,#7ec 0 769px,#aea 0 773px,#9ea 0 776px,#7ec 0 778px,#bfa 0 780px,#8eb 0 782px,#9ea 0 785px,#bfa 0 787px,#df9 0 789px,#bfa 0 795px,#df9 0 799px,#cf9 0 806px,#aea 0 808px,#de8 0 812px,#bfa 0 816px,#cfa 0 821px,#de8 0 826px,#bfa 0 828px,#ee7 0 838px,#ee8 0 841px,#ee7 0 846px,#fc6 0 851px,#ee7 0 857px,#de8 0 865px,#aea 0 869px,#de8 869px,#cf9 874px,#ee8 881px,#ee7 887px,#aea 894px,#df9 899px,#ee7 905px,#aea 915px,#de8 924px,#de8 934px,#df9 942px,#ed7 952px,#de8 961px,#cfa 974px,#df8 985px,#ee7 997px,#ee8 1006px,#ee7 1015px,#cf9 1024px,#cfa 1032px,#df9 1044px,#aea 1058px,#ee7 1068px,#ee8 1077px,#ee7 1094px,#fc5 1104px,#fc6 1122px,#ee7 1135px,#ee8 1148px,#e3f388 1154px,#dff58d 1159px,#cdffa2 1182px,#bcfaa5 1194px,#acf5a8 1209px,#9bf0ab 1224px,#8aecae 1264px,#83ecbb 1304px,#7cebc8 1317px,#6aebe1 1344px,#61e1f0 1371px,#52d6f8 1384px,#4dd1fa 1414px)"></div><div style="left:1974.7px;width:39.4px;background:linear-gradient(#0a0079 104px,#107 0 139px,#209 0 141px,#107 0 144px,#209 0 145px,#107 0 150px,#209 0 153px,#107 0 156px,#20a 0 159px,#209 0 164px,#20a 0 166px,#107 0 167px,#208 0 169px,#10b 0 171px,#10a 0 174px,#00b 0 177px,#01c 0 179px,#10b 0 181px,#01c 0 183px,#00b 0 185px,#01c 0 187px,#209 0 190px,#01c 0 192px,#02d 0 195px,#01c 0 199px,#02d 0 201px,#00b 0 203px,#01c 0 209px,#02d 0 210px,#01c 0 212px,#209 0 213px,#02d 0 215px,#20a 0 218px,#02d 0 219px,#01c 0 222px,#03d 0 224px,#02d 0 227px,#03d 0 228px,#02d 0 235px,#16e 0 236px,#02d 0 237px,#01b 0 238px,#16e 0 240px,#01c 0 243px,#02d 0 247px,#26e 0 249px,#02d 0 251px,#03d 0 252px,#01c 0 255px,#16e 0 261px,#00b 0 262px,#15e 0 264px,#17e 0 265px,#19f 0 268px,#03d 0 270px,#17e 0 271px,#19f 0 272px,#16e 0 274px,#17f 0 276px,#26e 0 277px,#1af 0 279px,#18f 0 282px,#17f 0 284px,#16e 0 286px,#17f 0 288px,#03d 0 291px,#1af 0 292px,#2bf 0 294px,#02d 0 296px,#2bf 0 298px,#3bf 0 301px,#17e 0 303px,#4cf 0 306px,#02d 0 307px,#1af 0 310px,#3bf 0 311px,#2af 0 312px,#3bf 0 315px,#2bf 0 317px,#17e 0 320px,#1af 0 322px,#3bf 0 323px,#18f 0 325px,#3bf 0 329px,#17f 0 330px,#2af 0 332px,#19f 0 335px,#3bf 0 336px,#17f 0 338px,#3bf 0 341px,#18f 0 343px,#3bf 0 346px,#5cf 0 348px,#18f 0 351px,#3bf 0 352px,#2bf 0 355px,#19f 0 357px,#1af 0 361px,#3bf 0 363px,#4cf 0 364px,#3bf 0 365px,#5df 0 367px,#5de 0 369px,#17e 0 370px,#4cf 0 372px,#3bf 0 376px,#6de 0 378px,#3bf 0 380px,#4cf 0 383px,#5df 0 384px,#5de 0 387px,#6de 0 389px,#4cf 0 390px,#5df 0 393px,#3bf 0 395px,#4cf 0 402px,#5de 0 403px,#3bf 0 406px,#4cf 0 410px,#6de 0 413px,#4cf 0 415px,#3bf 0 417px,#18f 0 419px,#3cf 0 421px,#4cf 0 424px,#3bf 0 425px,#6de 0 431px,#3bf 0 433px,#7ed 0 436px,#5de 0 437px,#4cf 0 439px,#5df 0 441px,#3cf 0 443px,#4cf 0 444px,#6de 0 450px,#2bf 0 452px,#4cf 0 453px,#5de 0 456px,#6ed 0 458px,#6de 0 467px,#5de 0 470px,#5df 0 475px,#6de 0 476px,#4cf 0 479px,#6ed 0 481px,#6de 0 485px,#6ed 0 486px,#4cf 0 488px,#6ee 0 490px,#6ed 0 491px,#4cf 0 493px,#7ed 0 495px,#5df 0 498px,#4cf 0 501px,#6de 0 503px,#6ed 0 506px,#6ee 0 508px,#2af 0 509px,#5cf 0 511px,#7ed 0 514px,#6ed 0 524px,#3bf 0 526px,#6de 0 527px,#3cf 0 528px,#5de 0 531px,#7ec 0 533px,#6ed 0 534px,#6de 0 535px,#6ed 0 537px,#7ed 0 540px,#6de 0 541px,#6ed 0 545px,#6ee 0 552px,#7ec 0 555px,#6ed 0 556px,#7ec 0 557px,#4cf 0 560px,#5de 0 563px,#8eb 0 566px,#6ee 0 567px,#5de 0 569px,#4cf 0 571px,#5de 0 573px,#7ec 0 576px,#6de 0 579px,#7ec 0 580px,#7ed 0 582px,#6ee 0 584px,#6de 0 586px,#6ed 0 590px,#6ee 0 591px,#6ed 0 594px,#7ed 0 596px,#5de 0 599px,#7ec 0 601px,#6ed 0 603px,#7ec 0 611px,#6ed 0 613px,#7ed 0 617px,#6ed 0 618px,#7ec 0 623px,#6ee 0 625px,#4cf 0 627px,#7ec 0 629px,#6ed 0 632px,#5df 0 633px,#7ec 0 635px,#6ed 0 637px,#7ec 0 640px,#8ea 0 643px,#5df 0 645px,#7ec 0 647px,#6ed 0 648px,#7ec 0 650px,#8ea 0 651px,#7eb 0 653px,#7ec 0 654px,#6ed 0 657px,#7ed 0 658px,#7eb 0 660px,#7ec 0 663px,#6ed 0 665px,#8eb 0 667px,#5df 0 670px,#6ed 0 672px,#7ec 0 674px,#8eb 0 675px,#8ea 0 677px,#7eb 0 680px,#6ed 0 682px,#8ea 0 684px,#7ec 0 686px,#8eb 0 690px,#7ec 0 692px,#8eb 0 694px,#6de 0 695px,#9ea 0 696px,#8eb 0 700px,#6ee 0 702px,#8eb 0 705px,#9ea 0 706px,#8ea 0 709px,#bfa 0 710px,#6ee 0 712px,#9ea 0 714px,#7ec 0 716px,#8eb 0 718px,#7ec 0 721px,#8eb 0 722px,#aea 0 724px,#9ea 0 726px,#aea 0 728px,#9ea 0 729px,#8eb 0 732px,#9ea 0 733px,#7eb 0 736px,#7ec 0 738px,#aea 0 739px,#8ea 0 744px,#9ea 0 749px,#6ed 0 753px,#8ea 0 757px,#8eb 0 759px,#bfa 0 761px,#6ed 0 762px,#aea 0 765px,#7ec 0 767px,#7ed 0 770px,#cfa 0 774px,#9ea 0 778px,#cfa 0 779px,#8eb 0 781px,#9ea 0 785px,#cfa 0 789px,#bfa 0 793px,#8eb 0 797px,#cf9 0 800px,#8eb 0 803px,#8ea 0 808px,#bfa 0 812px,#cf9 0 815px,#bfa 0 817px,#aea 0 821px,#bfa 0 824px,#aea 0 829px,#ee8 0 832px,#aea 0 837px,#df9 0 840px,#cf9 0 845px,#df9 0 847px,#ee7 0 851px,#aea 0 853px,#ee7 0 855px,#cf9 0 859px,#cfa 0 866px,#ee8 0 868px,#cf9 0 869px,#de8 869px,#ee7 876px,#ee7 882px,#ee8 889px,#cf9 896px,#ee7 904px,#df9 910px,#ee7 919px,#cf9 924px,#cf9 932px,#df9 941px,#ee8 949px,#ee7 955px,#ee7 963px,#ed7 970px,#ee7 981px,#cf9 988px,#ee7 996px,#de8 1007px,#ed7 1016px,#ed7 1026px,#ed7 1035px,#ee8 1046px,#ee7 1060px,#cfa 1077px,#aea 1095px,#df9 1104px,#cf9 1120px,#9ea 1138px,#9ea 1151px,#94efac 1154px,#8aecae 1159px,#7cebc8 1176px,#6aebe1 1194px,#7cebc8 1224px,#7cebc8 1264px,#6aebe1 1291px,#66e6e8 1304px,#61e1f0 1317px,#44caff 1344px,#3bc4ff 1384px,#37c2ff 1414px)"></div><div style="left:2014.1px;width:39.4px;background:linear-gradient(#0a0079 104px,#107 0 137px,#108 0 139px,#107 0 147px,#209 0 149px,#107 0 160px,#10a 0 161px,#208 0 164px,#108 0 167px,#208 0 168px,#209 0 171px,#10b 0 172px,#20a 0 174px,#107 0 179px,#209 0 182px,#10a 0 185px,#20a 0 188px,#107 0 193px,#10b 0 195px,#01c 0 196px,#01b 0 199px,#10a 0 201px,#01c 0 203px,#10a 0 205px,#10b 0 207px,#01c 0 210px,#02d 0 211px,#03d 0 213px,#10a 0 215px,#01c 0 218px,#02d 0 221px,#01c 0 222px,#209 0 224px,#01c 0 229px,#16e 0 233px,#26e 0 234px,#02d 0 238px,#01c 0 242px,#14e 0 243px,#01c 0 245px,#02d 0 251px,#16e 0 253px,#15e 0 255px,#02d 0 257px,#17e 0 259px,#16e 0 260px,#17f 0 264px,#02d 0 268px,#17f 0 270px,#17e 0 271px,#15e 0 273px,#02d 0 276px,#19f 0 278px,#18f 0 280px,#15e 0 283px,#1af 0 284px,#19f 0 286px,#14e 0 288px,#2bf 0 291px,#17e 0 293px,#18f 0 295px,#1af 0 298px,#2af 0 300px,#3bf 0 301px,#1af 0 303px,#19f 0 305px,#3bf 0 306px,#1af 0 311px,#3bf 0 313px,#18f 0 315px,#19f 0 317px,#2bf 0 322px,#19f 0 324px,#16e 0 326px,#3bf 0 334px,#19f 0 335px,#3bf 0 338px,#5cf 0 339px,#3bf 0 342px,#2bf 0 344px,#4cf 0 345px,#2bf 0 348px,#4cf 0 352px,#3bf 0 354px,#17e 0 355px,#3bf 0 358px,#4cf 0 359px,#16e 0 360px,#2bf 0 362px,#5cf 0 363px,#3bf 0 366px,#4cf 0 367px,#3bf 0 373px,#4cf 0 376px,#2bf 0 377px,#4cf 0 378px,#3bf 0 381px,#4cf 0 387px,#3bf 0 388px,#5de 0 394px,#6de 0 395px,#5de 0 397px,#4cf 0 399px,#3bf 0 406px,#2bf 0 407px,#5cf 0 409px,#3bf 0 411px,#4cf 0 414px,#5df 0 415px,#5de 0 418px,#6de 0 420px,#5df 0 422px,#6de 0 425px,#2bf 0 428px,#5de 0 430px,#2bf 0 433px,#6de 0 439px,#6ee 0 441px,#5de 0 443px,#3bf 0 446px,#5cf 0 448px,#3bf 0 449px,#6ed 0 451px,#5de 0 452px,#6de 0 454px,#2bf 0 456px,#6ed 0 458px,#4cf 0 460px,#6de 0 462px,#3bf 0 463px,#5cf 0 465px,#3bf 0 466px,#5cf 0 467px,#6de 0 470px,#6ed 0 471px,#2bf 0 473px,#4cf 0 476px,#6de 0 480px,#6ed 0 482px,#3bf 0 483px,#4cf 0 486px,#7ec 0 488px,#6de 0 490px,#6ed 0 492px,#5df 0 493px,#6ee 0 499px,#6ed 0 503px,#6ee 0 505px,#3bf 0 508px,#6de 0 511px,#4cf 0 513px,#6ed 0 518px,#2bf 0 520px,#2af 0 522px,#6de 0 525px,#5de 0 527px,#6ed 0 528px,#7ec 0 531px,#6ed 0 533px,#4cf 0 535px,#3bf 0 537px,#6ed 0 542px,#2bf 0 544px,#6ee 0 546px,#5cf 0 548px,#3bf 0 550px,#6ed 0 553px,#4cf 0 556px,#6ee 0 558px,#6ed 0 560px,#5de 0 562px,#6ed 0 567px,#6ee 0 569px,#5de 0 570px,#6ed 0 573px,#7ed 0 577px,#6ee 0 579px,#7ec 0 582px,#6de 0 585px,#6ed 0 587px,#4cf 0 589px,#7ec 0 591px,#6de 0 594px,#4cf 0 596px,#8eb 0 597px,#5df 0 598px,#7ec 0 600px,#5de 0 602px,#6de 0 603px,#7ec 0 605px,#8eb 0 606px,#6ee 0 608px,#7ec 0 610px,#8eb 0 612px,#6de 0 614px,#6ed 0 619px,#7ec 0 624px,#7ed 0 626px,#6de 0 628px,#6ed 0 631px,#7ec 0 632px,#8eb 0 636px,#7ec 0 638px,#8eb 0 640px,#6ed 0 644px,#9ea 0 646px,#6ed 0 648px,#8eb 0 650px,#6ed 0 652px,#7ec 0 654px,#6ed 0 659px,#7ec 0 661px,#6ed 0 664px,#7ec 0 665px,#8eb 0 666px,#7ec 0 668px,#8ea 0 670px,#7ec 0 671px,#8eb 0 673px,#6ee 0 675px,#7ec 0 676px,#8eb 0 679px,#8ea 0 682px,#7ec 0 684px,#8eb 0 686px,#7ec 0 689px,#6ed 0 691px,#7ec 0 693px,#9ea 0 694px,#8ea 0 695px,#7ec 0 699px,#8eb 0 700px,#5de 0 703px,#6ee 0 704px,#8eb 0 707px,#7eb 0 709px,#aea 0 711px,#6ee 0 713px,#aea 0 715px,#8ea 0 717px,#6ed 0 719px,#7eb 0 722px,#aea 0 723px,#7ec 0 726px,#9ea 0 728px,#6ed 0 729px,#bfa 0 732px,#7ec 0 737px,#8eb 0 739px,#8ea 0 742px,#9ea 0 744px,#aea 0 747px,#7ec 0 752px,#cfa 0 756px,#bfa 0 757px,#aea 0 759px,#8eb 0 761px,#9ea 0 768px,#aea 0 771px,#9ea 0 775px,#8ea 0 777px,#cf9 0 784px,#aea 0 786px,#bfa 0 794px,#cf9 0 799px,#bfa 0 801px,#9ea 0 805px,#df9 0 809px,#bfa 0 818px,#cfa 0 825px,#aea 0 829px,#cfa 0 832px,#cf9 0 837px,#ee7 0 842px,#de8 0 845px,#ed6 0 849px,#cfa 0 854px,#ee7 0 859px,#de8 0 865px,#bfa 0 868px,#df9 0 869px,#9ea 869px,#ee7 876px,#df9 884px,#de8 890px,#df9 899px,#aea 906px,#de8 913px,#de8 921px,#bfa 929px,#aea 938px,#ee7 946px,#ee7 956px,#df9 963px,#df9 974px,#ee8 985px,#df9 992px,#df9 1003px,#ed6 1013px,#df9 1024px,#df9 1039px,#ee7 1054px,#ee8 1065px,#ee8 1077px,#ee7 1094px,#ee8 1110px,#de8 1127px,#cf9 1143px,#d1fd9d 1154px,#cdffa2 1159px,#acf5a8 1182px,#9bf0ab 1194px,#8aecae 1224px,#7cebc8 1264px,#6aebe1 1277px,#61e1f0 1291px,#44caff 1304px,#32beff 1344px,#32beff 1384px,#2dbbff 1414px)"></div><div style="left:2053.4px;width:39.4px;background:linear-gradient(#0a0079 104px,#107 0 164px,#209 0 166px,#107 0 170px,#208 0 172px,#20a 0 173px,#209 0 175px,#10b 0 176px,#107 0 182px,#209 0 185px,#10a 0 189px,#107 0 190px,#01b 0 192px,#01c 0 194px,#00b 0 195px,#209 0 198px,#01c 0 199px,#10b 0 202px,#208 0 205px,#01c 0 206px,#10a 0 208px,#00b 0 210px,#209 0 212px,#01c 0 215px,#10a 0 217px,#02d 0 218px,#01c 0 221px,#108 0 222px,#02d 0 225px,#10b 0 226px,#01c 0 228px,#02d 0 232px,#10b 0 234px,#01c 0 236px,#02d 0 243px,#20a 0 244px,#02d 0 245px,#03d 0 247px,#01c 0 248px,#15e 0 251px,#02d 0 254px,#16e 0 257px,#01c 0 259px,#14d 0 262px,#15e 0 264px,#01c 0 267px,#17e 0 269px,#01c 0 272px,#18f 0 273px,#17e 0 274px,#15e 0 275px,#14e 0 277px,#16e 0 279px,#03d 0 281px,#16e 0 284px,#17e 0 286px,#16e 0 287px,#17e 0 290px,#16e 0 291px,#19f 0 294px,#14e 0 296px,#18f 0 298px,#16e 0 301px,#26e 0 303px,#18f 0 306px,#14e 0 308px,#2bf 0 311px,#19f 0 313px,#2bf 0 314px,#19f 0 316px,#2bf 0 319px,#1af 0 321px,#3bf 0 324px,#19f 0 326px,#18f 0 329px,#19f 0 330px,#3bf 0 333px,#4cf 0 335px,#19f 0 338px,#3bf 0 340px,#16e 0 342px,#2bf 0 343px,#2af 0 346px,#18f 0 349px,#4cf 0 350px,#3bf 0 355px,#2bf 0 359px,#1af 0 361px,#4cf 0 367px,#2bf 0 370px,#4cf 0 373px,#3bf 0 378px,#2bf 0 379px,#5cf 0 380px,#2bf 0 383px,#5df 0 384px,#3bf 0 386px,#4cf 0 389px,#3bf 0 392px,#4cf 0 394px,#5cf 0 395px,#4cf 0 403px,#5df 0 405px,#5cf 0 408px,#3cf 0 410px,#3bf 0 411px,#4cf 0 412px,#3bf 0 414px,#4cf 0 415px,#3bf 0 418px,#3cf 0 420px,#6de 0 423px,#5de 0 426px,#6de 0 427px,#5de 0 430px,#4cf 0 435px,#3bf 0 437px,#6de 0 441px,#5cf 0 443px,#2af 0 445px,#6de 0 449px,#4cf 0 451px,#5de 0 453px,#17f 0 455px,#5df 0 457px,#6de 0 460px,#4cf 0 462px,#5df 0 464px,#2af 0 465px,#5df 0 467px,#6de 0 471px,#1af 0 473px,#5cf 0 475px,#6de 0 477px,#4cf 0 480px,#7ec 0 482px,#6de 0 484px,#6ed 0 485px,#6de 0 487px,#6ed 0 489px,#2bf 0 491px,#6ed 0 493px,#6de 0 498px,#4cf 0 499px,#6de 0 502px,#4cf 0 506px,#6ee 0 507px,#4cf 0 513px,#6de 0 515px,#1af 0 517px,#6de 0 522px,#4cf 0 523px,#5de 0 525px,#7ed 0 528px,#4cf 0 531px,#6ed 0 532px,#5cf 0 534px,#6ed 0 536px,#6de 0 538px,#4cf 0 539px,#6ed 0 543px,#5de 0 544px,#6ed 0 546px,#4cf 0 548px,#7ed 0 550px,#6de 0 551px,#6ee 0 552px,#3bf 0 553px,#7ec 0 554px,#3bf 0 556px,#6ed 0 558px,#7ec 0 561px,#4cf 0 564px,#6de 0 567px,#6ed 0 569px,#4cf 0 571px,#5de 0 573px,#6de 0 574px,#7ec 0 577px,#5de 0 578px,#5cf 0 580px,#6de 0 581px,#6ed 0 584px,#2bf 0 586px,#7ed 0 587px,#7ec 0 589px,#4cf 0 591px,#7ed 0 595px,#6ed 0 598px,#6ee 0 603px,#6ed 0 605px,#7ec 0 608px,#6ee 0 609px,#7ec 0 612px,#7ed 0 614px,#2bf 0 616px,#7ec 0 621px,#6ed 0 622px,#7ec 0 626px,#7ed 0 630px,#5de 0 632px,#8eb 0 634px,#7ec 0 635px,#8eb 0 637px,#6ee 0 639px,#7ed 0 642px,#3bf 0 643px,#6de 0 645px,#7ed 0 648px,#7eb 0 652px,#7ec 0 654px,#6ee 0 657px,#4cf 0 658px,#6ed 0 660px,#8eb 0 662px,#6ed 0 663px,#7ec 0 665px,#6ed 0 666px,#6de 0 667px,#8ea 0 668px,#7ec 0 673px,#6de 0 675px,#8eb 0 676px,#8ea 0 679px,#8eb 0 680px,#7ec 0 683px,#7ed 0 686px,#6ed 0 688px,#9ea 0 691px,#8eb 0 693px,#7ec 0 697px,#4cf 0 699px,#7ec 0 702px,#7ed 0 706px,#7ec 0 707px,#8eb 0 709px,#7ec 0 711px,#aea 0 714px,#9ea 0 715px,#7ec 0 718px,#aea 0 719px,#8ea 0 721px,#9ea 0 727px,#7ed 0 729px,#6ee 0 731px,#aea 0 734px,#7ed 0 735px,#7ec 0 738px,#9ea 0 742px,#6ed 0 745px,#6de 0 748px,#aea 0 749px,#6ed 0 752px,#8ea 0 754px,#bfa 0 756px,#7ec 0 759px,#8ea 0 762px,#9ea 0 765px,#8eb 0 767px,#9ea 0 769px,#8ea 0 772px,#bfa 0 774px,#9ea 0 777px,#aea 0 779px,#8eb 0 781px,#9ea 0 785px,#bfa 0 787px,#8ea 0 789px,#aea 0 790px,#8ea 0 792px,#cf9 0 794px,#9ea 0 798px,#df9 0 802px,#cf9 0 806px,#afa 0 811px,#cf9 0 815px,#8ea 0 818px,#de8 0 820px,#df9 0 824px,#ee7 0 829px,#aea 0 832px,#de8 0 835px,#ee8 0 840px,#ee7 0 843px,#df9 0 847px,#ed7 0 852px,#aea 0 858px,#de8 0 863px,#df9 0 866px,#ee8 0 869px,#de8 869px,#ee7 873px,#df9 878px,#df9 884px,#ee7 889px,#df9 897px,#9ea 903px,#de8 910px,#cfa 919px,#ee8 928px,#cf9 936px,#de8 945px,#df9 954px,#de8 964px,#ee7 971px,#ee8 984px,#ed6 995px,#df9 1008px,#ee7 1019px,#ed7 1031px,#fc6 1039px,#fc5 1055px,#ee7 1068px,#ed7 1082px,#ed7 1094px,#cf9 1111px,#de8 1122px,#bfa 1133px,#afa 1148px,#a5f3a9 1154px,#8aecae 1168px,#7cebc8 1185px,#73ebd4 1194px,#6aebe1 1224px,#6aebe1 1264px,#66e6e8 1304px,#61e1f0 1312px,#44caff 1328px,#32beff 1344px,#19afff 1371px,#1398fc 1384px,#118ffa 1414px)"></div><div style="left:2092.8px;width:39.4px;background:linear-gradient(#0a0079 104px,#107 0 145px,#209 0 148px,#107 0 151px,#108 0 153px,#107 0 156px,#10b 0 158px,#20a 0 160px,#01c 0 162px,#10b 0 163px,#20a 0 165px,#208 0 167px,#108 0 170px,#209 0 174px,#10b 0 176px,#10a 0 178px,#107 0 181px,#10b 0 183px,#00b 0 185px,#209 0 187px,#01b 0 190px,#10b 0 194px,#01c 0 200px,#01b 0 202px,#01c 0 205px,#10b 0 207px,#02d 0 214px,#208 0 215px,#02d 0 218px,#03d 0 220px,#209 0 223px,#10b 0 225px,#01c 0 228px,#14e 0 229px,#02d 0 231px,#01c 0 233px,#03d 0 235px,#14e 0 237px,#02d 0 244px,#03d 0 246px,#16e 0 248px,#15e 0 250px,#10b 0 252px,#15e 0 254px,#17e 0 256px,#18f 0 258px,#16e 0 261px,#15e 0 262px,#14e 0 264px,#17e 0 268px,#18f 0 272px,#16e 0 273px,#02d 0 274px,#15e 0 276px,#2af 0 278px,#17f 0 281px,#14e 0 283px,#19f 0 285px,#2bf 0 286px,#1af 0 288px,#19f 0 290px,#1af 0 293px,#2af 0 294px,#1af 0 297px,#17e 0 298px,#19f 0 299px,#17e 0 300px,#1af 0 302px,#18f 0 305px,#2bf 0 308px,#17e 0 311px,#16e 0 313px,#1af 0 316px,#2bf 0 319px,#3cf 0 322px,#3bf 0 324px,#4cf 0 326px,#2af 0 328px,#1af 0 330px,#2bf 0 332px,#3bf 0 335px,#4cf 0 336px,#3bf 0 338px,#1af 0 341px,#2bf 0 344px,#3bf 0 346px,#2af 0 347px,#3bf 0 350px,#4cf 0 351px,#5cf 0 353px,#4cf 0 354px,#3bf 0 355px,#17e 0 357px,#1af 0 360px,#5cf 0 363px,#19f 0 364px,#4cf 0 367px,#3bf 0 369px,#4cf 0 371px,#3bf 0 372px,#4cf 0 375px,#3bf 0 380px,#4cf 0 382px,#3bf 0 383px,#4cf 0 386px,#2af 0 387px,#4cf 0 390px,#3bf 0 392px,#2bf 0 394px,#4cf 0 401px,#5de 0 402px,#3bf 0 404px,#4cf 0 406px,#6de 0 409px,#3bf 0 411px,#4cf 0 413px,#5cf 0 416px,#5de 0 417px,#6de 0 418px,#3bf 0 422px,#5de 0 424px,#3bf 0 426px,#4cf 0 432px,#3bf 0 433px,#5de 0 435px,#5cf 0 436px,#6de 0 442px,#5de 0 443px,#4cf 0 445px,#5de 0 447px,#4cf 0 449px,#6de 0 453px,#3bf 0 456px,#6de 0 460px,#5de 0 462px,#6ed 0 464px,#5de 0 466px,#6ed 0 468px,#4cf 0 472px,#3bf 0 475px,#6ed 0 476px,#6de 0 478px,#5de 0 480px,#6ed 0 483px,#6de 0 486px,#4cf 0 488px,#7ed 0 490px,#4cf 0 492px,#6ed 0 495px,#4cf 0 497px,#6de 0 499px,#6ed 0 502px,#7ed 0 503px,#6de 0 505px,#7ed 0 506px,#6de 0 509px,#6ee 0 513px,#6de 0 518px,#5df 0 520px,#5cf 0 522px,#5de 0 524px,#4cf 0 525px,#6de 0 527px,#6ed 0 531px,#6de 0 532px,#5de 0 534px,#6ed 0 536px,#5de 0 537px,#7ec 0 538px,#6de 0 541px,#4cf 0 543px,#6de 0 545px,#7ed 0 554px,#5df 0 556px,#6de 0 557px,#5df 0 560px,#6ee 0 561px,#5df 0 562px,#7ec 0 565px,#4cf 0 567px,#6ed 0 569px,#7eb 0 570px,#7ec 0 572px,#6ed 0 573px,#4cf 0 576px,#7ec 0 577px,#6ed 0 579px,#6de 0 582px,#7ed 0 583px,#6de 0 585px,#6ed 0 587px,#7ed 0 590px,#5de 0 593px,#7ec 0 595px,#7ed 0 600px,#5de 0 602px,#6de 0 604px,#7ec 0 609px,#5de 0 610px,#6ed 0 612px,#7ed 0 613px,#8eb 0 615px,#6ed 0 616px,#7eb 0 617px,#7ec 0 622px,#7ed 0 624px,#6ed 0 625px,#5cf 0 628px,#8eb 0 630px,#7ec 0 633px,#4cf 0 635px,#7ed 0 636px,#8eb 0 638px,#6ed 0 639px,#3cf 0 642px,#6de 0 645px,#7ec 0 646px,#8eb 0 651px,#6ed 0 653px,#8eb 0 655px,#7eb 0 657px,#8eb 0 662px,#6ed 0 665px,#8eb 0 667px,#7ec 0 668px,#6ed 0 673px,#7ed 0 675px,#7ec 0 678px,#8ea 0 680px,#6ed 0 682px,#8ea 0 685px,#9ea 0 687px,#6ee 0 688px,#8eb 0 690px,#9ea 0 692px,#8ea 0 694px,#8eb 0 698px,#9ea 0 700px,#8eb 0 702px,#8ea 0 705px,#7ec 0 706px,#8eb 0 709px,#9ea 0 711px,#aea 0 715px,#8eb 0 719px,#9ea 0 721px,#8eb 0 723px,#aea 0 725px,#9ea 0 727px,#8eb 0 730px,#7ed 0 734px,#7eb 0 736px,#8eb 0 737px,#bfa 0 739px,#9ea 0 742px,#aea 0 745px,#bfa 0 747px,#8ea 0 750px,#9ea 0 757px,#bfa 0 758px,#aea 0 762px,#8ea 0 765px,#7ec 0 767px,#9ea 0 770px,#aea 0 774px,#8eb 0 776px,#9ea 0 780px,#cf9 0 783px,#bfa 0 785px,#7ec 0 789px,#bfa 0 793px,#cf9 0 797px,#8eb 0 801px,#cfa 0 804px,#9ea 0 806px,#cf9 0 810px,#df9 0 812px,#cfa 0 818px,#9ea 0 823px,#de8 0 824px,#ee7 0 827px,#de8 0 836px,#ee7 0 841px,#bfa 0 845px,#ee7 0 850px,#de8 0 853px,#fc6 0 855px,#ee7 0 868px,#ee8 0 869px,#cf9 869px,#de8 876px,#de8 884px,#aea 890px,#ee8 898px,#bfa 904px,#df9 912px,#df9 922px,#df9 928px,#cfa 937px,#ee8 945px,#ee7 956px,#ed7 964px,#ee7 970px,#fc6 980px,#fb5 992px,#ee7 1004px,#de8 1012px,#ee7 1025px,#ee7 1040px,#ee7 1048px,#df9 1057px,#fd6 1068px,#ed7 1083px,#de8 1094px,#de8 1106px,#bfa 1119px,#df9 1132px,#bfa 1152px,#b5f8a6 1154px,#acf5a8 1159px,#8aecae 1176px,#7cebc8 1194px,#6aebe1 1209px,#61e1f0 1224px,#44caff 1264px,#61e1f0 1280px,#6aebe1 1296px,#73ebd4 1304px,#73ebd4 1344px,#6aebe1 1384px,#68e9e4 1414px)"></div><div style="left:2132.2px;width:39.4px;background:linear-gradient(#0a0079 104px,#107 0 131px,#108 0 132px,#107 0 143px,#209 0 146px,#208 0 148px,#10a 0 150px,#209 0 152px,#208 0 153px,#10b 0 155px,#10a 0 160px,#107 0 163px,#10a 0 166px,#10b 0 167px,#00b 0 168px,#10b 0 170px,#20a 0 171px,#10a 0 172px,#107 0 174px,#10a 0 176px,#01c 0 178px,#10b 0 179px,#02d 0 181px,#10a 0 186px,#01c 0 187px,#02d 0 191px,#209 0 193px,#01c 0 200px,#10a 0 202px,#01c 0 204px,#14e 0 205px,#01c 0 207px,#15e 0 209px,#10b 0 211px,#01c 0 213px,#02d 0 214px,#01c 0 218px,#02d 0 220px,#03d 0 224px,#01c 0 228px,#10a 0 231px,#03d 0 232px,#16e 0 233px,#15e 0 236px,#16e 0 240px,#15e 0 242px,#02d 0 243px,#17f 0 245px,#17e 0 246px,#18f 0 248px,#14e 0 251px,#02d 0 253px,#15e 0 255px,#17f 0 256px,#16e 0 260px,#01c 0 263px,#17f 0 264px,#17e 0 265px,#18f 0 268px,#17e 0 269px,#03d 0 272px,#1af 0 274px,#17e 0 277px,#1af 0 279px,#2bf 0 283px,#3bf 0 286px,#19f 0 287px,#2af 0 290px,#1af 0 292px,#3bf 0 297px,#19f 0 300px,#3cf 0 302px,#02d 0 303px,#19f 0 306px,#2bf 0 308px,#3bf 0 314px,#4cf 0 316px,#2bf 0 317px,#3cf 0 319px,#2bf 0 321px,#17f 0 323px,#3bf 0 324px,#4cf 0 326px,#3bf 0 328px,#18f 0 330px,#4cf 0 332px,#19f 0 333px,#4cf 0 336px,#3bf 0 338px,#4cf 0 339px,#17e 0 341px,#4cf 0 344px,#1af 0 347px,#3bf 0 349px,#4cf 0 353px,#6de 0 354px,#4cf 0 361px,#5cf 0 363px,#5de 0 366px,#3bf 0 369px,#4cf 0 373px,#2bf 0 376px,#1af 0 377px,#3bf 0 379px,#4cf 0 382px,#3bf 0 383px,#4cf 0 385px,#6de 0 387px,#3bf 0 390px,#6ee 0 393px,#2bf 0 395px,#3bf 0 397px,#6de 0 398px,#4cf 0 401px,#5df 0 403px,#19f 0 405px,#5cf 0 407px,#6de 0 409px,#5de 0 411px,#5cf 0 414px,#5de 0 416px,#5cf 0 418px,#4cf 0 419px,#6de 0 422px,#4cf 0 423px,#19f 0 426px,#5de 0 427px,#1af 0 428px,#6ee 0 430px,#6de 0 432px,#4cf 0 434px,#5df 0 437px,#5de 0 440px,#6de 0 441px,#5cf 0 442px,#5de 0 444px,#6de 0 446px,#5df 0 448px,#5cf 0 449px,#6de 0 452px,#6ed 0 457px,#6de 0 461px,#3bf 0 464px,#7ec 0 465px,#6de 0 468px,#7ec 0 469px,#6ed 0 474px,#4cf 0 476px,#6ed 0 479px,#7ed 0 480px,#6ee 0 486px,#6de 0 489px,#6ee 0 492px,#7ec 0 493px,#6ed 0 494px,#6de 0 496px,#4cf 0 499px,#7ec 0 501px,#6ee 0 502px,#6ed 0 505px,#7ec 0 506px,#5cf 0 509px,#5df 0 511px,#6ee 0 514px,#6ed 0 518px,#7ec 0 520px,#6de 0 523px,#7ed 0 525px,#4cf 0 528px,#7ec 0 533px,#7ed 0 535px,#4cf 0 536px,#6ed 0 538px,#5de 0 541px,#4cf 0 542px,#6ee 0 543px,#6ed 0 545px,#6de 0 547px,#6ed 0 549px,#5cf 0 552px,#7ec 0 553px,#3bf 0 555px,#5de 0 557px,#6ed 0 558px,#7ec 0 560px,#5de 0 563px,#6ee 0 564px,#4cf 0 566px,#5de 0 568px,#7ec 0 570px,#7ed 0 573px,#6ed 0 574px,#6de 0 576px,#7ec 0 578px,#8ea 0 581px,#6ed 0 582px,#7ec 0 585px,#5de 0 587px,#7ec 0 588px,#6de 0 590px,#7ec 0 598px,#6ee 0 599px,#7ec 0 602px,#7ed 0 603px,#6de 0 606px,#7ec 0 610px,#9ea 0 613px,#7ec 0 615px,#4cf 0 618px,#6ed 0 619px,#7ec 0 621px,#6ed 0 623px,#4cf 0 625px,#7ec 0 629px,#7ed 0 631px,#7ec 0 633px,#9ea 0 636px,#5de 0 638px,#7ec 0 640px,#9ea 0 642px,#4cf 0 644px,#7ed 0 647px,#8ea 0 651px,#6ee 0 654px,#7ec 0 657px,#9ea 0 658px,#8ea 0 661px,#6ed 0 663px,#8eb 0 675px,#aea 0 676px,#8ea 0 679px,#8eb 0 681px,#9ea 0 684px,#8ea 0 686px,#8eb 0 692px,#7ec 0 693px,#8eb 0 699px,#7eb 0 701px,#9ea 0 702px,#6ee 0 705px,#7ed 0 706px,#9ea 0 710px,#6ed 0 713px,#aea 0 716px,#8ea 0 719px,#8eb 0 721px,#aea 0 723px,#8eb 0 726px,#9ea 0 729px,#7ec 0 732px,#6ed 0 733px,#8eb 0 734px,#9ea 0 739px,#8eb 0 744px,#cfa 0 747px,#7ed 0 748px,#7ec 0 750px,#aea 0 752px,#cfa 0 755px,#7ec 0 759px,#9ea 0 762px,#8eb 0 764px,#aea 0 770px,#bfa 0 773px,#9ea 0 776px,#afa 0 779px,#bfa 0 783px,#aea 0 790px,#bfa 0 794px,#aea 0 797px,#cf9 0 798px,#aea 0 801px,#cf9 0 804px,#aea 0 807px,#bfa 0 810px,#df9 0 813px,#9ea 0 818px,#aea 0 822px,#df9 0 825px,#ee8 0 829px,#ee7 0 832px,#cf9 0 836px,#de8 0 839px,#ee8 0 841px,#ee7 0 852px,#ee8 0 856px,#ee7 0 860px,#cf9 0 866px,#bfa 0 869px,#cfa 869px,#ee7 876px,#ee8 880px,#ee7 886px,#ee8 893px,#df9 899px,#de8 906px,#ee7 912px,#ed7 918px,#df9 927px,#de8 937px,#ee7 947px,#df9 956px,#de8 964px,#cf9 974px,#df8 986px,#cf9 996px,#aea 1010px,#ee8 1018px,#ee7 1031px,#cf9 1043px,#de8 1058px,#ed7 1072px,#ee8 1084px,#ee8 1099px,#ee7 1109px,#de8 1128px,#cf9 1140px,#d3fb9a 1154px,#cdffa2 1171px,#bcfaa5 1194px,#acf5a8 1202px,#8aecae 1216px,#83ecbb 1224px,#7cebc8 1264px,#7cebc8 1304px,#73ebd4 1344px,#6aebe1 1354px,#61e1f0 1374px,#52d6f8 1384px,#4dd1fa 1414px)"></div><div style="left:2171.6px;width:39.4px;background:linear-gradient(#0a0079 104px,#107 0 130px,#108 0 132px,#107 0 134px,#108 0 137px,#209 0 139px,#107 0 140px,#108 0 142px,#107 0 145px,#208 0 148px,#107 0 150px,#209 0 154px,#208 0 155px,#108 0 158px,#20a 0 159px,#10b 0 162px,#10a 0 163px,#10b 0 166px,#107 0 168px,#209 0 170px,#01c 0 172px,#20a 0 174px,#01b 0 175px,#01c 0 178px,#10b 0 179px,#108 0 181px,#107 0 184px,#01c 0 186px,#10a 0 187px,#10b 0 190px,#209 0 191px,#01c 0 193px,#02d 0 195px,#01c 0 196px,#02d 0 205px,#01c 0 212px,#208 0 213px,#03d 0 216px,#15e 0 218px,#02d 0 221px,#03d 0 224px,#14e 0 225px,#01c 0 228px,#10b 0 231px,#26e 0 233px,#04d 0 234px,#02d 0 237px,#03d 0 239px,#16e 0 242px,#02d 0 246px,#18f 0 248px,#16e 0 251px,#18f 0 252px,#19f 0 255px,#01c 0 256px,#16e 0 258px,#14e 0 259px,#16e 0 260px,#15e 0 262px,#18f 0 263px,#17e 0 266px,#02d 0 271px,#1af 0 273px,#18f 0 275px,#1af 0 278px,#01c 0 279px,#17e 0 283px,#03d 0 284px,#3bf 0 286px,#14e 0 287px,#3bf 0 290px,#16e 0 292px,#18f 0 294px,#1af 0 296px,#2af 0 298px,#3bf 0 303px,#18f 0 305px,#3bf 0 306px,#1af 0 311px,#3bf 0 318px,#2bf 0 319px,#3bf 0 322px,#15e 0 323px,#3bf 0 325px,#3cf 0 326px,#4cf 0 329px,#2bf 0 331px,#3bf 0 334px,#2bf 0 336px,#3bf 0 339px,#17f 0 340px,#5df 0 341px,#18f 0 342px,#2bf 0 344px,#3bf 0 346px,#4cf 0 348px,#3bf 0 353px,#4cf 0 357px,#3bf 0 359px,#4cf 0 365px,#2bf 0 367px,#4cf 0 370px,#6de 0 371px,#3bf 0 373px,#6ee 0 376px,#5de 0 377px,#4cf 0 379px,#5cf 0 382px,#4cf 0 383px,#5df 0 384px,#5de 0 386px,#3bf 0 389px,#4cf 0 391px,#5de 0 393px,#17e 0 396px,#5de 0 397px,#2bf 0 398px,#6de 0 400px,#5cf 0 403px,#6de 0 405px,#5df 0 407px,#4cf 0 409px,#6de 0 410px,#3cf 0 412px,#6de 0 414px,#4cf 0 417px,#6ee 0 418px,#4cf 0 420px,#3bf 0 422px,#6de 0 425px,#5de 0 427px,#4cf 0 428px,#6de 0 432px,#3bf 0 437px,#6de 0 441px,#6ed 0 443px,#7ed 0 444px,#6ee 0 447px,#5cf 0 452px,#3bf 0 453px,#5de 0 456px,#6de 0 457px,#5de 0 459px,#6de 0 462px,#6ed 0 464px,#5de 0 466px,#6de 0 469px,#5de 0 475px,#6de 0 477px,#3bf 0 480px,#6ed 0 481px,#5de 0 484px,#6ed 0 486px,#2bf 0 487px,#3bf 0 490px,#4cf 0 493px,#5de 0 495px,#6de 0 497px,#4cf 0 498px,#7ed 0 501px,#3bf 0 502px,#6ed 0 503px,#4cf 0 505px,#7ec 0 508px,#5de 0 509px,#6ee 0 512px,#7eb 0 514px,#6de 0 516px,#6ed 0 518px,#6de 0 520px,#4cf 0 521px,#7ec 0 528px,#6de 0 531px,#6ed 0 533px,#3bf 0 536px,#7ec 0 537px,#6de 0 539px,#6ed 0 541px,#7ec 0 544px,#6ed 0 546px,#3bf 0 548px,#6ee 0 550px,#6ed 0 551px,#6de 0 553px,#6ed 0 555px,#7ec 0 556px,#6ed 0 560px,#6de 0 562px,#8eb 0 564px,#5de 0 568px,#8eb 0 570px,#6ee 0 573px,#6ed 0 575px,#7ed 0 578px,#6de 0 580px,#6ed 0 584px,#7eb 0 585px,#7ec 0 588px,#6ed 0 589px,#8eb 0 590px,#7eb 0 592px,#3bf 0 594px,#7ed 0 596px,#8eb 0 600px,#7ec 0 602px,#6ed 0 607px,#7ec 0 609px,#7ed 0 611px,#7ec 0 612px,#8eb 0 614px,#6de 0 617px,#7ed 0 619px,#6ed 0 622px,#5de 0 626px,#7ed 0 628px,#5df 0 631px,#8eb 0 634px,#7ec 0 637px,#6ed 0 638px,#7ec 0 641px,#6ed 0 642px,#7ec 0 647px,#7ed 0 649px,#7ec 0 651px,#9ea 0 653px,#8ea 0 655px,#8eb 0 657px,#8ea 0 660px,#6de 0 665px,#7eb 0 668px,#8ea 0 670px,#9ea 0 671px,#8ea 0 674px,#8eb 0 676px,#9ea 0 679px,#7ec 0 680px,#8eb 0 681px,#6ed 0 684px,#8ea 0 686px,#8eb 0 687px,#7eb 0 689px,#8ea 0 693px,#9ea 0 695px,#8ea 0 696px,#8eb 0 697px,#aea 0 700px,#8ea 0 702px,#9ea 0 704px,#8eb 0 706px,#aea 0 709px,#8ea 0 710px,#9ea 0 712px,#7ed 0 714px,#7ec 0 716px,#9ea 0 717px,#8ea 0 718px,#7eb 0 719px,#aea 0 725px,#9ea 0 728px,#7ec 0 730px,#9ea 0 733px,#6ed 0 734px,#9ea 0 736px,#bfa 0 738px,#6ed 0 739px,#9ea 0 741px,#8ea 0 742px,#bfa 0 745px,#8eb 0 748px,#7ec 0 751px,#9ea 0 758px,#8eb 0 761px,#aea 0 767px,#7eb 0 770px,#9ea 0 774px,#7ec 0 775px,#bfa 0 779px,#7eb 0 783px,#9ea 0 784px,#aea 0 788px,#afa 0 790px,#8eb 0 794px,#aea 0 798px,#cf9 0 801px,#8eb 0 805px,#9ea 0 808px,#bfa 0 815px,#8eb 0 820px,#ee8 0 825px,#df9 0 829px,#cfa 0 833px,#de8 0 837px,#df9 0 840px,#afa 0 844px,#cf9 0 848px,#9ea 0 851px,#de8 0 855px,#cf9 0 859px,#9ea 0 864px,#de8 0 867px,#df9 0 869px,#ee8 869px,#bfa 874px,#de8 881px,#cfa 888px,#aea 893px,#9ea 899px,#bfa 904px,#aea 910px,#de8 915px,#afa 922px,#bfa 932px,#df9 939px,#de8 947px,#9ea 958px,#df9 966px,#ee8 972px,#df9 984px,#aea 997px,#9ea 1005px,#de8 1015px,#aea 1026px,#bfa 1036px,#df9 1049px,#ee8 1064px,#aea 1077px,#df9 1088px,#aea 1098px,#de8 1111px,#de8 1130px,#cf9 1141px,#cefea0 1154px,#cdffa2 1159px,#bcfaa5 1194px,#acf5a8 1198px,#8aecae 1207px,#7cebc8 1215px,#6aebe1 1224px,#66e6e8 1264px,#61e1f0 1277px,#44caff 1304px,#32beff 1344px,#19afff 1384px,#17a6fe 1414px)"></div><div style="left:2210.9px;width:39.4px;background:linear-gradient(#0a0079 104px,#107 0 152px,#108 0 155px,#107 0 159px,#208 0 161px,#107 0 163px,#108 0 165px,#107 0 167px,#209 0 169px,#108 0 172px,#209 0 175px,#10a 0 177px,#107 0 179px,#108 0 181px,#20a 0 184px,#108 0 187px,#10b 0 190px,#01c 0 192px,#10a 0 194px,#209 0 196px,#10a 0 201px,#10b 0 203px,#01c 0 211px,#02d 0 213px,#10b 0 214px,#01c 0 216px,#02d 0 217px,#01c 0 219px,#108 0 220px,#02d 0 223px,#01c 0 225px,#02d 0 230px,#01c 0 232px,#02d 0 234px,#10b 0 237px,#01c 0 240px,#02d 0 242px,#01c 0 245px,#16e 0 246px,#02d 0 249px,#14e 0 251px,#02d 0 252px,#15e 0 254px,#02d 0 257px,#10a 0 260px,#04d 0 262px,#14e 0 263px,#17e 0 266px,#16e 0 268px,#14e 0 271px,#16e 0 273px,#26e 0 274px,#17e 0 276px,#18f 0 279px,#02d 0 280px,#03d 0 282px,#15e 0 284px,#03d 0 286px,#2af 0 288px,#16e 0 289px,#17e 0 290px,#18f 0 293px,#2bf 0 295px,#18f 0 296px,#14e 0 298px,#19f 0 299px,#02d 0 301px,#1af 0 304px,#2bf 0 305px,#2af 0 306px,#19f 0 307px,#1af 0 310px,#19f 0 313px,#18f 0 314px,#19f 0 317px,#3bf 0 319px,#18f 0 322px,#1af 0 324px,#2bf 0 327px,#3bf 0 328px,#19f 0 330px,#2bf 0 333px,#16e 0 335px,#18f 0 338px,#1af 0 340px,#18f 0 342px,#2bf 0 345px,#1af 0 347px,#19f 0 350px,#15e 0 352px,#3bf 0 354px,#19f 0 357px,#5cf 0 360px,#5de 0 362px,#4cf 0 364px,#3bf 0 367px,#1af 0 370px,#3bf 0 372px,#2af 0 374px,#4cf 0 378px,#2bf 0 380px,#4cf 0 383px,#3bf 0 386px,#5cf 0 387px,#4cf 0 389px,#17e 0 391px,#4cf 0 393px,#6de 0 395px,#5df 0 397px,#4cf 0 399px,#5de 0 401px,#5df 0 402px,#2af 0 406px,#4cf 0 415px,#3cf 0 417px,#2bf 0 419px,#4cf 0 421px,#6de 0 424px,#19f 0 425px,#3bf 0 427px,#18f 0 429px,#6ee 0 430px,#4cf 0 431px,#6de 0 433px,#2bf 0 436px,#6de 0 439px,#4cf 0 440px,#6ed 0 441px,#4cf 0 444px,#5de 0 445px,#19f 0 447px,#6de 0 448px,#5df 0 451px,#4cf 0 452px,#5de 0 455px,#6de 0 459px,#2bf 0 461px,#1af 0 463px,#6ee 0 464px,#5cf 0 465px,#6ee 0 468px,#6de 0 470px,#5de 0 473px,#4cf 0 474px,#5df 0 477px,#6de 0 478px,#3bf 0 481px,#5de 0 482px,#6de 0 485px,#7ed 0 488px,#5de 0 489px,#6ed 0 491px,#5cf 0 494px,#6de 0 496px,#6ed 0 499px,#6de 0 501px,#5de 0 506px,#6ee 0 509px,#6ed 0 512px,#2bf 0 513px,#3bf 0 515px,#4cf 0 516px,#3bf 0 519px,#5df 0 521px,#6ed 0 526px,#7ec 0 529px,#6ed 0 532px,#6de 0 533px,#5de 0 536px,#6ed 0 538px,#4cf 0 539px,#6ee 0 542px,#6de 0 545px,#7ec 0 547px,#7ed 0 549px,#6ee 0 552px,#7ec 0 554px,#5de 0 556px,#3bf 0 557px,#6ed 0 559px,#8eb 0 561px,#6ed 0 563px,#6de 0 566px,#6ed 0 571px,#7ed 0 574px,#6ee 0 576px,#6de 0 578px,#7ec 0 581px,#4cf 0 583px,#7ec 0 585px,#6ed 0 586px,#7ec 0 588px,#4cf 0 590px,#8eb 0 592px,#3bf 0 594px,#6ed 0 596px,#7eb 0 599px,#7ec 0 600px,#6ed 0 603px,#6de 0 604px,#6ee 0 606px,#7ec 0 611px,#6ed 0 613px,#8eb 0 616px,#7ec 0 623px,#6de 0 628px,#7ed 0 629px,#8ea 0 632px,#6ed 0 636px,#7ec 0 639px,#6ee 0 640px,#7ec 0 645px,#6ee 0 647px,#7ec 0 648px,#3cf 0 650px,#8eb 0 652px,#7ec 0 654px,#8eb 0 656px,#7ed 0 658px,#6ed 0 661px,#9ea 0 663px,#7eb 0 665px,#8ea 0 667px,#8eb 0 669px,#9ea 0 671px,#6ed 0 672px,#8eb 0 673px,#8ea 0 676px,#7ec 0 679px,#8ea 0 684px,#7ec 0 687px,#8eb 0 690px,#7ed 0 692px,#7ec 0 695px,#9ea 0 696px,#7ed 0 698px,#7ec 0 700px,#8eb 0 703px,#7ec 0 705px,#8eb 0 707px,#9ea 0 709px,#8eb 0 711px,#9ea 0 713px,#8eb 0 714px,#7ec 0 719px,#8eb 0 721px,#8ea 0 723px,#aea 0 725px,#9ea 0 726px,#aea 0 728px,#6ed 0 731px,#8eb 0 734px,#8ea 0 737px,#8eb 0 739px,#9ea 0 747px,#8eb 0 749px,#bfa 0 752px,#8ea 0 756px,#9ea 0 758px,#8ea 0 759px,#6ed 0 763px,#8eb 0 773px,#9ea 0 776px,#8eb 0 780px,#8ea 0 782px,#7ec 0 784px,#afa 0 786px,#9ea 0 788px,#aea 0 792px,#cfa 0 795px,#7ec 0 797px,#9ea 0 802px,#bfa 0 806px,#aea 0 809px,#cf9 0 812px,#cfa 0 817px,#aea 0 820px,#cf9 0 822px,#bfa 0 824px,#de8 0 827px,#cfa 0 833px,#de8 0 835px,#df9 0 838px,#bfa 0 840px,#de8 0 842px,#9ea 0 848px,#cf9 0 852px,#aea 0 858px,#cf9 0 864px,#bfa 0 868px,#cfa 0 869px,#8ea 869px,#cfa 876px,#de8 884px,#8eb 892px,#aea 899px,#8ea 905px,#cfa 914px,#9ea 919px,#9ea 929px,#bfa 939px,#bfa 947px,#9ea 956px,#8eb 965px,#cfa 971px,#cf9 978px,#9ea 986px,#df9 1000px,#cf9 1011px,#bfa 1026px,#cf9 1037px,#cfa 1052px,#ee7 1066px,#ee8 1078px,#df9 1087px,#ee8 1099px,#df9 1109px,#de8 1124px,#bfa 1139px,#bfa 1149px,#b5f8a6 1154px,#acf5a8 1159px,#8aecae 1176px,#7cebc8 1194px,#73ebd4 1224px,#73ebd4 1264px,#7cebc8 1304px,#6aebe1 1344px,#61e1f0 1384px,#5bdcf3 1414px)"></div><div style="left:2250.3px;width:39.4px;background:linear-gradient(#0a0079 104px,#107 0 160px,#10a 0 161px,#107 0 163px,#209 0 165px,#10a 0 166px,#209 0 169px,#107 0 174px,#209 0 176px,#10b 0 177px,#208 0 182px,#10b 0 184px,#01c 0 185px,#10b 0 188px,#20a 0 190px,#10b 0 193px,#01b 0 195px,#10b 0 197px,#01b 0 202px,#01c 0 212px,#209 0 215px,#02d 0 218px,#01c 0 221px,#10b 0 223px,#10a 0 224px,#02d 0 226px,#01c 0 228px,#02d 0 231px,#01c 0 233px,#10a 0 235px,#02d 0 237px,#10b 0 239px,#02d 0 241px,#14e 0 242px,#02d 0 244px,#10a 0 250px,#16e 0 251px,#14e 0 252px,#03d 0 254px,#15e 0 257px,#17e 0 258px,#15e 0 260px,#14d 0 263px,#03d 0 266px,#16e 0 270px,#04d 0 273px,#17e 0 277px,#19f 0 278px,#02d 0 280px,#14e 0 282px,#16e 0 284px,#17e 0 286px,#18f 0 287px,#1af 0 289px,#26e 0 290px,#14e 0 292px,#18f 0 295px,#17e 0 296px,#16e 0 298px,#19f 0 300px,#2bf 0 303px,#18f 0 305px,#1af 0 306px,#03d 0 308px,#18f 0 310px,#2af 0 313px,#18f 0 318px,#02d 0 319px,#17e 0 322px,#1af 0 325px,#18f 0 327px,#26e 0 328px,#19f 0 329px,#3bf 0 330px,#2bf 0 333px,#1af 0 335px,#3bf 0 338px,#03d 0 340px,#4cf 0 342px,#2bf 0 344px,#3bf 0 345px,#15e 0 347px,#2bf 0 348px,#3bf 0 354px,#4cf 0 359px,#3bf 0 361px,#5de 0 362px,#2af 0 364px,#6de 0 365px,#3bf 0 368px,#4cf 0 371px,#2bf 0 373px,#4cf 0 374px,#2bf 0 378px,#5cf 0 380px,#6de 0 382px,#4cf 0 385px,#5de 0 386px,#3bf 0 389px,#4cf 0 391px,#6de 0 394px,#2bf 0 395px,#1af 0 396px,#4cf 0 400px,#6de 0 402px,#3bf 0 404px,#5cf 0 407px,#5df 0 408px,#2bf 0 411px,#3bf 0 413px,#17f 0 415px,#5cf 0 417px,#6de 0 419px,#4cf 0 420px,#5de 0 422px,#6de 0 425px,#5cf 0 428px,#5de 0 431px,#3bf 0 432px,#5df 0 435px,#6de 0 438px,#4cf 0 440px,#5df 0 442px,#4cf 0 444px,#6de 0 445px,#4cf 0 447px,#5de 0 449px,#6ee 0 451px,#6de 0 453px,#6ed 0 455px,#6ee 0 457px,#4cf 0 461px,#18f 0 464px,#5de 0 465px,#6de 0 466px,#3bf 0 468px,#6de 0 471px,#6ee 0 472px,#3bf 0 474px,#5cf 0 476px,#5de 0 480px,#6ed 0 483px,#3bf 0 486px,#6de 0 489px,#5cf 0 492px,#5de 0 497px,#6de 0 499px,#7ec 0 500px,#4cf 0 503px,#6de 0 505px,#4cf 0 508px,#5cf 0 509px,#2af 0 511px,#5de 0 514px,#6ee 0 516px,#5de 0 520px,#3bf 0 522px,#5cf 0 524px,#4cf 0 527px,#6ee 0 528px,#6de 0 530px,#7ec 0 533px,#5de 0 534px,#6ed 0 537px,#4cf 0 541px,#6ee 0 544px,#6de 0 547px,#6ee 0 548px,#6de 0 554px,#4cf 0 555px,#5cf 0 557px,#2bf 0 559px,#6ed 0 560px,#6de 0 563px,#4cf 0 564px,#5de 0 565px,#4cf 0 567px,#6de 0 568px,#5de 0 570px,#7ed 0 571px,#6de 0 575px,#8eb 0 576px,#7ec 0 577px,#6de 0 580px,#6ee 0 581px,#7ec 0 583px,#6ee 0 585px,#7ed 0 587px,#6ed 0 589px,#8eb 0 591px,#6ee 0 593px,#5cf 0 596px,#7ec 0 598px,#6de 0 600px,#7ec 0 602px,#8eb 0 604px,#7ec 0 605px,#6ed 0 606px,#7ec 0 609px,#6ed 0 616px,#3cf 0 617px,#8eb 0 619px,#6de 0 621px,#3bf 0 623px,#6ed 0 626px,#7ec 0 627px,#8eb 0 630px,#6de 0 631px,#6ed 0 632px,#7ec 0 635px,#6ed 0 637px,#7ec 0 639px,#3bf 0 642px,#7ed 0 644px,#6de 0 645px,#8eb 0 648px,#7ed 0 651px,#7ec 0 654px,#8eb 0 656px,#9ea 0 659px,#8eb 0 665px,#7eb 0 667px,#7ed 0 669px,#6ed 0 672px,#8eb 0 673px,#6ee 0 675px,#7ec 0 676px,#7eb 0 678px,#7ec 0 683px,#6ee 0 685px,#5de 0 687px,#7ec 0 689px,#8eb 0 692px,#6ed 0 694px,#8ea 0 698px,#7ec 0 701px,#8eb 0 704px,#7ec 0 706px,#8eb 0 709px,#6ed 0 711px,#8eb 0 715px,#8ea 0 716px,#7eb 0 718px,#8eb 0 725px,#9ea 0 727px,#8ea 0 728px,#6ed 0 731px,#8ea 0 733px,#9ea 0 735px,#8ea 0 737px,#8eb 0 739px,#9ea 0 742px,#bfa 0 744px,#6de 0 747px,#9ea 0 750px,#8ea 0 752px,#7ec 0 753px,#7eb 0 755px,#bfa 0 758px,#6ed 0 762px,#9ea 0 764px,#aea 0 766px,#9ea 0 771px,#aea 0 774px,#8ea 0 779px,#aea 0 782px,#6ed 0 784px,#8eb 0 787px,#8ea 0 789px,#bfa 0 793px,#7ed 0 797px,#8ea 0 800px,#bfa 0 805px,#8ea 0 809px,#bfa 0 818px,#aea 0 824px,#bfa 0 829px,#aea 0 831px,#7ec 0 835px,#bfa 0 837px,#cf9 0 840px,#8ea 0 844px,#df9 0 849px,#9ea 0 854px,#aea 0 861px,#7ec 0 865px,#afa 0 869px,#bfa 869px,#aea 877px,#9ea 881px,#9ea 888px,#7ec 893px,#7ec 898px,#9ea 904px,#6ed 910px,#bfa 918px,#9ea 926px,#bfa 931px,#7ec 940px,#cfa 949px,#aea 959px,#aea 965px,#cf9 972px,#cf9 982px,#bfa 992px,#cfa 1005px,#bfa 1016px,#cfa 1030px,#aea 1043px,#bfa 1058px,#8ea 1075px,#cfa 1091px,#aea 1104px,#cf9 1112px,#afa 1131px,#9ea 1148px,#96efac 1154px,#8aecae 1171px,#83ecbb 1194px,#7cebc8 1224px,#6aebe1 1240px,#61e1f0 1256px,#52d6f8 1264px,#61e1f0 1277px,#6aebe1 1304px,#66e6e8 1344px,#61e1f0 1364px,#52d6f8 1384px,#4dd1fa 1414px)"></div><div style="left:2289.7px;width:39.4px;background:linear-gradient(#0a0079 104px,#107 0 137px,#108 0 138px,#107 0 142px,#208 0 145px,#107 0 147px,#209 0 150px,#107 0 157px,#208 0 158px,#209 0 160px,#20a 0 162px,#108 0 165px,#208 0 167px,#10b 0 170px,#209 0 172px,#20a 0 174px,#209 0 176px,#01c 0 177px,#107 0 180px,#01b 0 182px,#10a 0 184px,#01c 0 190px,#209 0 197px,#01c 0 200px,#10b 0 202px,#01c 0 203px,#02d 0 211px,#01c 0 218px,#01b 0 219px,#01c 0 221px,#209 0 223px,#02d 0 225px,#01c 0 229px,#03d 0 234px,#02d 0 236px,#15e 0 240px,#14e 0 245px,#15e 0 248px,#18f 0 250px,#02d 0 254px,#01c 0 256px,#14e 0 259px,#15e 0 260px,#16e 0 261px,#00b 0 262px,#16e 0 265px,#17e 0 268px,#26e 0 270px,#02d 0 271px,#18f 0 272px,#17e 0 274px,#15e 0 277px,#19f 0 279px,#17e 0 281px,#02d 0 284px,#1af 0 285px,#2bf 0 289px,#1af 0 291px,#19f 0 292px,#16e 0 295px,#1af 0 297px,#18f 0 300px,#3bf 0 301px,#1af 0 306px,#17e 0 309px,#3bf 0 310px,#17e 0 311px,#3bf 0 313px,#1af 0 314px,#2bf 0 316px,#15e 0 318px,#3bf 0 321px,#2af 0 322px,#2bf 0 323px,#19f 0 325px,#2af 0 328px,#1af 0 331px,#3bf 0 333px,#1af 0 336px,#2bf 0 342px,#5cf 0 344px,#4cf 0 346px,#3bf 0 348px,#4cf 0 349px,#2bf 0 351px,#1af 0 353px,#3bf 0 354px,#4cf 0 357px,#5df 0 359px,#3bf 0 366px,#19f 0 369px,#4cf 0 372px,#3bf 0 374px,#2bf 0 376px,#4cf 0 378px,#3bf 0 379px,#4cf 0 382px,#19f 0 384px,#4cf 0 385px,#3bf 0 388px,#4cf 0 390px,#6de 0 391px,#4cf 0 394px,#5de 0 396px,#3bf 0 398px,#6de 0 400px,#5de 0 402px,#6de 0 404px,#4cf 0 407px,#3bf 0 409px,#4cf 0 411px,#17f 0 413px,#4cf 0 416px,#2af 0 417px,#5df 0 420px,#4cf 0 422px,#5cf 0 423px,#4cf 0 426px,#1af 0 429px,#5df 0 430px,#4cf 0 432px,#6de 0 434px,#5de 0 436px,#5cf 0 440px,#5de 0 442px,#4cf 0 444px,#5df 0 446px,#4cf 0 447px,#6de 0 450px,#4cf 0 454px,#3bf 0 455px,#6de 0 458px,#4cf 0 459px,#5de 0 461px,#6ee 0 463px,#3bf 0 464px,#5de 0 470px,#6de 0 474px,#6ee 0 476px,#5de 0 478px,#7ed 0 479px,#6de 0 484px,#6ee 0 487px,#6de 0 489px,#2bf 0 492px,#6de 0 493px,#2bf 0 495px,#6de 0 497px,#3bf 0 499px,#6de 0 504px,#3bf 0 506px,#5df 0 507px,#7ed 0 512px,#6ee 0 514px,#6de 0 515px,#6ed 0 520px,#6ee 0 523px,#6ed 0 525px,#5df 0 528px,#6ed 0 530px,#6de 0 532px,#6ee 0 536px,#6de 0 538px,#6ee 0 539px,#3bf 0 541px,#5cf 0 543px,#6de 0 546px,#3bf 0 548px,#4cf 0 550px,#6ed 0 552px,#6de 0 555px,#6ee 0 557px,#6de 0 559px,#6ee 0 561px,#7ec 0 564px,#7ed 0 566px,#6ed 0 572px,#7ec 0 574px,#7ed 0 575px,#6ed 0 578px,#5de 0 579px,#6de 0 580px,#5df 0 582px,#6ee 0 585px,#5df 0 588px,#6ed 0 589px,#6de 0 591px,#8eb 0 593px,#4cf 0 595px,#3bf 0 597px,#8eb 0 599px,#7ec 0 602px,#5de 0 603px,#6ed 0 606px,#8eb 0 608px,#5de 0 611px,#8eb 0 616px,#7ec 0 617px,#6de 0 620px,#7ec 0 628px,#8ea 0 629px,#7ec 0 634px,#6ed 0 636px,#8eb 0 638px,#5de 0 640px,#7eb 0 642px,#8eb 0 646px,#7ec 0 649px,#5de 0 651px,#8ea 0 652px,#7ed 0 654px,#8eb 0 655px,#7ec 0 658px,#8eb 0 662px,#5de 0 665px,#8eb 0 666px,#6de 0 668px,#8ea 0 670px,#6ee 0 672px,#8eb 0 675px,#7ec 0 680px,#8ea 0 682px,#7ec 0 683px,#8eb 0 685px,#7ec 0 688px,#7eb 0 689px,#8eb 0 690px,#7ec 0 693px,#8ea 0 694px,#8eb 0 698px,#8ea 0 699px,#7ec 0 701px,#8eb 0 703px,#9ea 0 705px,#8ea 0 706px,#7eb 0 708px,#9ea 0 709px,#8eb 0 712px,#6ee 0 714px,#9ea 0 716px,#8ea 0 718px,#7ec 0 723px,#8eb 0 725px,#9ea 0 726px,#7ec 0 729px,#8ea 0 732px,#9ea 0 735px,#7ed 0 737px,#8ea 0 739px,#aea 0 741px,#8eb 0 743px,#9ea 0 746px,#7ed 0 747px,#cfa 0 750px,#9ea 0 755px,#7ec 0 757px,#bfa 0 761px,#8ea 0 765px,#aea 0 781px,#bfa 0 784px,#7eb 0 789px,#bfa 0 792px,#aea 0 794px,#bfa 0 796px,#cf9 0 800px,#aea 0 802px,#cf9 0 806px,#8eb 0 810px,#bfa 0 817px,#9ea 0 820px,#cf9 0 823px,#9ea 0 825px,#cf9 0 828px,#aea 0 834px,#8ea 0 839px,#df9 0 844px,#aea 0 850px,#8ea 0 852px,#cfa 0 856px,#df9 0 860px,#de8 0 862px,#cfa 0 868px,#df9 0 869px,#bfa 869px,#cfa 876px,#8ea 884px,#aea 893px,#bfa 897px,#7eb 904px,#9ea 912px,#cfa 921px,#cf9 931px,#8eb 938px,#cf9 946px,#ee7 955px,#bfa 963px,#de8 970px,#de8 982px,#de8 991px,#de8 1000px,#de8 1011px,#de8 1023px,#cf9 1034px,#cf9 1046px,#df8 1054px,#df9 1067px,#ee8 1082px,#9ea 1096px,#de8 1112px,#cfa 1131px,#cfa 1150px,#c8fea3 1154px,#acf5a8 1194px,#9bf0ab 1224px,#8aecae 1264px,#7cebc8 1304px,#6aebe1 1331px,#66e6e8 1344px,#61e1f0 1354px,#44caff 1374px,#3bc4ff 1384px,#37c2ff 1414px)"></div><div style="left:2329.1px;width:39.4px;background:linear-gradient(#0a0079 104px,#107 0 143px,#108 0 145px,#107 0 155px,#20a 0 158px,#209 0 159px,#208 0 164px,#107 0 165px,#209 0 167px,#20a 0 169px,#209 0 172px,#108 0 173px,#10a 0 175px,#209 0 176px,#01c 0 180px,#20a 0 182px,#10b 0 185px,#10a 0 186px,#209 0 188px,#01b 0 189px,#01c 0 190px,#10b 0 193px,#01c 0 194px,#10b 0 197px,#02d 0 204px,#01c 0 206px,#10a 0 208px,#02d 0 210px,#01c 0 214px,#01b 0 215px,#01c 0 217px,#02c 0 218px,#02d 0 220px,#01c 0 222px,#00b 0 224px,#01b 0 226px,#10b 0 229px,#16e 0 232px,#02d 0 236px,#10a 0 238px,#02d 0 242px,#15e 0 245px,#02d 0 246px,#26e 0 248px,#10a 0 251px,#02d 0 252px,#03d 0 254px,#14e 0 256px,#17e 0 257px,#14e 0 259px,#02d 0 261px,#15e 0 264px,#03d 0 265px,#15e 0 267px,#02d 0 269px,#18f 0 271px,#19f 0 275px,#03d 0 276px,#14e 0 279px,#17e 0 281px,#17f 0 282px,#18f 0 283px,#19f 0 286px,#17e 0 287px,#2bf 0 289px,#17e 0 291px,#14d 0 294px,#2af 0 295px,#17e 0 298px,#2bf 0 300px,#18f 0 302px,#2bf 0 305px,#18f 0 307px,#3bf 0 309px,#18f 0 311px,#4cf 0 314px,#3bf 0 316px,#2af 0 319px,#19f 0 322px,#2af 0 323px,#2bf 0 325px,#17e 0 327px,#18f 0 329px,#2bf 0 331px,#1af 0 332px,#2af 0 334px,#2bf 0 335px,#1af 0 341px,#4cf 0 344px,#3bf 0 349px,#19f 0 351px,#4cf 0 352px,#3bf 0 355px,#4cf 0 356px,#5de 0 359px,#4cf 0 360px,#3bf 0 362px,#1af 0 363px,#3bf 0 367px,#4cf 0 370px,#3bf 0 375px,#5df 0 377px,#3bf 0 378px,#5de 0 380px,#3bf 0 381px,#5cf 0 383px,#4cf 0 388px,#6de 0 391px,#4cf 0 392px,#6de 0 394px,#3bf 0 395px,#4cf 0 397px,#5de 0 400px,#4cf 0 401px,#3bf 0 406px,#6de 0 407px,#2bf 0 410px,#6de 0 412px,#4cf 0 414px,#5de 0 416px,#3bf 0 418px,#4cf 0 422px,#5df 0 428px,#6de 0 435px,#4cf 0 437px,#6de 0 441px,#5de 0 443px,#4cf 0 445px,#6de 0 448px,#3bf 0 450px,#4cf 0 452px,#6ed 0 454px,#3bf 0 455px,#4cf 0 458px,#6ee 0 460px,#5de 0 461px,#6ed 0 463px,#2bf 0 465px,#3bf 0 468px,#4cf 0 470px,#6de 0 473px,#4cf 0 474px,#6de 0 476px,#4cf 0 479px,#3bf 0 482px,#6ed 0 484px,#6de 0 486px,#5df 0 488px,#4cf 0 490px,#3bf 0 493px,#6ee 0 495px,#7ed 0 497px,#6ed 0 500px,#6de 0 502px,#4cf 0 504px,#6ed 0 509px,#6ee 0 510px,#6ed 0 513px,#7ed 0 515px,#7ec 0 518px,#2af 0 521px,#6de 0 522px,#5df 0 525px,#7ed 0 526px,#7ec 0 529px,#6ed 0 531px,#5cf 0 535px,#7ed 0 538px,#6ed 0 540px,#5de 0 543px,#6ee 0 545px,#7ec 0 548px,#7ed 0 550px,#3bf 0 552px,#6ed 0 553px,#6de 0 554px,#6ed 0 556px,#2bf 0 557px,#7ed 0 559px,#7ec 0 562px,#6de 0 565px,#7ec 0 567px,#6ed 0 569px,#6de 0 572px,#7ec 0 574px,#6ee 0 577px,#6de 0 579px,#7ed 0 582px,#6ee 0 583px,#6ed 0 585px,#5de 0 587px,#6de 0 589px,#6ee 0 592px,#6de 0 595px,#7ec 0 601px,#6ed 0 604px,#6de 0 606px,#6ed 0 609px,#6ee 0 613px,#7eb 0 615px,#7ec 0 618px,#8eb 0 619px,#6ed 0 621px,#7ec 0 622px,#8eb 0 624px,#7ec 0 627px,#7ed 0 629px,#8eb 0 632px,#7ed 0 633px,#8eb 0 635px,#5de 0 638px,#6ed 0 642px,#7ec 0 645px,#6de 0 647px,#8eb 0 650px,#7ec 0 652px,#8ea 0 654px,#9ea 0 656px,#8eb 0 660px,#7ec 0 663px,#6de 0 664px,#6ed 0 667px,#9ea 0 670px,#8ea 0 674px,#aea 0 675px,#7ec 0 676px,#8ea 0 679px,#9ea 0 682px,#7eb 0 683px,#7ec 0 684px,#6ee 0 685px,#7ec 0 688px,#6ed 0 689px,#9ea 0 692px,#6de 0 695px,#6ed 0 697px,#8eb 0 701px,#7ec 0 703px,#aea 0 705px,#9ea 0 707px,#7ec 0 709px,#8ea 0 711px,#aea 0 713px,#8eb 0 715px,#8ea 0 717px,#6ed 0 720px,#8eb 0 724px,#6de 0 727px,#8eb 0 729px,#6ed 0 731px,#8eb 0 732px,#9ea 0 733px,#8eb 0 736px,#8ea 0 737px,#7eb 0 738px,#7ec 0 741px,#8ea 0 744px,#7ec 0 746px,#aea 0 749px,#bfa 0 751px,#7ed 0 754px,#8eb 0 760px,#9ea 0 764px,#8ea 0 766px,#aea 0 769px,#7ed 0 772px,#7ec 0 774px,#9ea 0 780px,#bfa 0 784px,#aea 0 787px,#de8 0 790px,#bfa 0 792px,#cf9 0 795px,#9ea 0 804px,#8eb 0 809px,#aea 0 811px,#bfa 0 815px,#afa 0 818px,#8eb 0 821px,#8ea 0 824px,#ee8 0 827px,#cf9 0 829px,#de8 0 833px,#df9 0 835px,#ee7 0 837px,#bfa 0 842px,#cf9 0 846px,#ee7 0 852px,#cfa 0 856px,#bfa 0 859px,#aea 0 862px,#ee7 0 866px,#de8 0 868px,#aea 0 869px,#de8 869px,#df9 875px,#cf9 880px,#ee8 887px,#de8 895px,#ee7 902px,#ee8 907px,#ee7 916px,#de8 926px,#ed7 934px,#df9 943px,#df9 950px,#ed6 959px,#fb5 966px,#fb5 973px,#fc5 982px,#ed6 991px,#ee7 999px,#ed7 1010px,#df9 1025px,#ed7 1035px,#ee7 1046px,#ee7 1055px,#ee8 1064px,#ee8 1075px,#cf9 1085px,#de8 1100px,#cf9 1115px,#cfa 1130px,#cf9 1150px,#cefea0 1154px,#cdffa2 1159px,#bcfaa5 1194px,#acf5a8 1200px,#8aecae 1212px,#7cebc8 1224px,#73ebd4 1264px,#73ebd4 1304px,#6aebe1 1344px,#61e1f0 1384px,#5bdcf3 1414px)"></div><div style="left:2368.4px;width:39.4px;background:linear-gradient(#0a0079 104px,#107 0 132px,#208 0 134px,#107 0 138px,#208 0 141px,#107 0 143px,#209 0 146px,#107 0 148px,#208 0 149px,#108 0 150px,#209 0 152px,#107 0 154px,#208 0 155px,#107 0 159px,#108 0 161px,#107 0 163px,#208 0 165px,#10b 0 169px,#107 0 171px,#208 0 173px,#209 0 175px,#10a 0 177px,#00b 0 178px,#10b 0 181px,#209 0 183px,#01c 0 189px,#20a 0 191px,#10a 0 194px,#01c 0 196px,#02d 0 198px,#01c 0 203px,#02c 0 205px,#01c 0 207px,#10b 0 209px,#02d 0 211px,#01c 0 213px,#02d 0 215px,#01c 0 216px,#03d 0 218px,#01c 0 219px,#03d 0 222px,#20a 0 223px,#02d 0 226px,#16e 0 227px,#02d 0 229px,#14e 0 231px,#02d 0 237px,#03d 0 239px,#17e 0 242px,#15e 0 247px,#03d 0 248px,#15e 0 251px,#18f 0 252px,#17e 0 258px,#14e 0 260px,#15e 0 262px,#01c 0 265px,#02d 0 266px,#14e 0 268px,#18f 0 269px,#14e 0 271px,#17e 0 274px,#2af 0 277px,#19f 0 282px,#18f 0 285px,#01c 0 288px,#18f 0 290px,#16e 0 292px,#3bf 0 297px,#16e 0 299px,#1af 0 302px,#3bf 0 305px,#1af 0 307px,#3bf 0 309px,#17e 0 311px,#2bf 0 314px,#18f 0 316px,#2bf 0 317px,#3bf 0 320px,#4cf 0 322px,#3bf 0 324px,#17e 0 327px,#4cf 0 329px,#2af 0 332px,#17f 0 335px,#3bf 0 339px,#2af 0 341px,#1af 0 342px,#6de 0 345px,#3bf 0 347px,#16e 0 348px,#1af 0 350px,#4cf 0 353px,#2bf 0 354px,#4cf 0 356px,#3bf 0 362px,#2af 0 364px,#4cf 0 366px,#5de 0 368px,#4cf 0 372px,#6de 0 374px,#4cf 0 377px,#5de 0 378px,#5cf 0 380px,#5de 0 383px,#3bf 0 386px,#4cf 0 387px,#3bf 0 391px,#2bf 0 393px,#6de 0 395px,#3bf 0 396px,#4cf 0 399px,#5de 0 401px,#18f 0 402px,#3bf 0 405px,#5de 0 408px,#5cf 0 410px,#6de 0 414px,#5cf 0 416px,#3bf 0 418px,#6de 0 420px,#5de 0 422px,#4cf 0 424px,#5cf 0 427px,#5de 0 428px,#7ed 0 430px,#6ed 0 432px,#3bf 0 434px,#5de 0 435px,#6ee 0 438px,#5de 0 439px,#2bf 0 441px,#5de 0 444px,#5df 0 446px,#5de 0 448px,#3bf 0 450px,#6de 0 451px,#4cf 0 453px,#6de 0 456px,#4cf 0 458px,#5cf 0 461px,#6ee 0 462px,#6de 0 466px,#6ed 0 468px,#5de 0 469px,#6de 0 474px,#5cf 0 477px,#6de 0 480px,#5cf 0 482px,#6ee 0 483px,#5cf 0 486px,#5df 0 488px,#6de 0 490px,#7ed 0 493px,#6ee 0 495px,#6de 0 497px,#5cf 0 498px,#4cf 0 501px,#6ed 0 502px,#5cf 0 506px,#6de 0 508px,#4cf 0 509px,#6ee 0 512px,#6ed 0 523px,#6de 0 528px,#2bf 0 529px,#7ec 0 532px,#5de 0 534px,#6ed 0 536px,#7ec 0 538px,#6ee 0 540px,#6ed 0 541px,#4cf 0 543px,#6ed 0 544px,#6ee 0 546px,#7ed 0 549px,#6ee 0 550px,#7ec 0 552px,#4cf 0 554px,#6de 0 556px,#7ed 0 559px,#6ed 0 561px,#6de 0 564px,#6ed 0 566px,#7ec 0 567px,#6de 0 568px,#6ed 0 574px,#8eb 0 575px,#6ed 0 576px,#3bf 0 579px,#6ed 0 581px,#5de 0 582px,#8eb 0 584px,#7ec 0 585px,#6ee 0 587px,#7ed 0 590px,#6ee 0 591px,#6de 0 594px,#6ee 0 595px,#7ec 0 598px,#3bf 0 600px,#8eb 0 601px,#7ed 0 603px,#6de 0 605px,#6ee 0 606px,#7ed 0 607px,#7ec 0 609px,#6ee 0 610px,#7ec 0 612px,#6ed 0 613px,#8eb 0 615px,#6ee 0 617px,#6de 0 619px,#6ed 0 620px,#7ec 0 625px,#6de 0 627px,#7ec 0 628px,#6de 0 630px,#6ed 0 632px,#7ec 0 635px,#8ea 0 637px,#8eb 0 638px,#6ee 0 641px,#8eb 0 644px,#7ec 0 648px,#8ea 0 650px,#8eb 0 652px,#8ea 0 654px,#7ec 0 657px,#9ea 0 659px,#7ec 0 662px,#6ee 0 663px,#8eb 0 668px,#7ec 0 670px,#8eb 0 673px,#6ee 0 676px,#8eb 0 677px,#9ea 0 680px,#8eb 0 682px,#7ec 0 685px,#8eb 0 686px,#8ea 0 688px,#8eb 0 690px,#8ea 0 695px,#7ec 0 697px,#8ea 0 699px,#9ea 0 704px,#8ea 0 707px,#8eb 0 714px,#aea 0 715px,#8ea 0 718px,#9ea 0 720px,#7ec 0 724px,#8ea 0 726px,#9ea 0 727px,#bfa 0 730px,#6ed 0 731px,#aea 0 733px,#9ea 0 735px,#8ea 0 739px,#9ea 0 742px,#8eb 0 745px,#aea 0 751px,#afa 0 752px,#8ea 0 758px,#7eb 0 760px,#cfa 0 762px,#7ec 0 764px,#aea 0 767px,#7ed 0 771px,#aea 0 777px,#bfa 0 779px,#9ea 0 781px,#7ec 0 783px,#9ea 0 787px,#8eb 0 793px,#bfa 0 797px,#afa 0 801px,#de8 0 804px,#cf9 0 805px,#cfa 0 812px,#aea 0 814px,#bfa 0 818px,#cf9 0 823px,#cfa 0 827px,#de8 0 833px,#df9 0 835px,#ee7 0 840px,#df8 0 846px,#cf9 0 852px,#de8 0 856px,#ee7 0 861px,#df9 0 866px,#de8 0 869px,#de8 869px,#9ea 876px,#df9 884px,#de8 892px,#de8 897px,#cf9 904px,#cf9 910px,#df9 919px,#de8 927px,#ee8 933px,#ee8 941px,#ee7 949px,#fc6 960px,#df9 969px,#ed6 981px,#ed6 990px,#ee8 997px,#de8 1005px,#ed7 1012px,#ee8 1026px,#cfa 1038px,#ed7 1052px,#ee7 1067px,#cfa 1077px,#de8 1090px,#de8 1107px,#cfa 1126px,#bfa 1145px,#cdffa2 1154px,#cdffa2 1194px,#acf5a8 1214px,#9bf0ab 1224px,#8aecae 1244px,#83ecbb 1264px,#7cebc8 1271px,#6aebe1 1284px,#61e1f0 1297px,#52d6f8 1304px,#44caff 1324px,#3bc4ff 1344px,#37c2ff 1384px,#34bfff 1414px)"></div><div style="left:2407.8px;width:39.4px;background:linear-gradient(#0a0079 104px,#107 0 152px,#209 0 154px,#107 0 158px,#208 0 162px,#209 0 163px,#107 0 175px,#208 0 177px,#107 0 179px,#209 0 180px,#10b 0 183px,#20a 0 185px,#00b 0 188px,#10a 0 191px,#01c 0 193px,#209 0 196px,#10a 0 198px,#01c 0 200px,#01b 0 203px,#01c 0 204px,#107 0 206px,#10a 0 209px,#01c 0 212px,#02d 0 215px,#00b 0 216px,#01c 0 220px,#10b 0 221px,#01c 0 226px,#02d 0 230px,#01c 0 234px,#02d 0 237px,#14e 0 239px,#02d 0 241px,#10b 0 243px,#01c 0 246px,#02d 0 248px,#03d 0 252px,#14e 0 255px,#01c 0 257px,#02d 0 259px,#01c 0 260px,#02d 0 263px,#14e 0 264px,#03d 0 266px,#14e 0 269px,#18f 0 270px,#03d 0 273px,#01c 0 278px,#18f 0 281px,#14e 0 283px,#18f 0 285px,#1af 0 286px,#19f 0 288px,#1af 0 291px,#18f 0 293px,#03d 0 295px,#15e 0 296px,#19f 0 298px,#1af 0 300px,#19f 0 302px,#1af 0 303px,#17e 0 305px,#2af 0 308px,#18f 0 313px,#2bf 0 315px,#2af 0 316px,#2bf 0 319px,#1af 0 322px,#2bf 0 326px,#18f 0 328px,#2bf 0 330px,#19f 0 332px,#1af 0 335px,#3bf 0 336px,#19f 0 340px,#3bf 0 352px,#4cf 0 353px,#2bf 0 356px,#4cf 0 358px,#2af 0 361px,#3bf 0 363px,#19f 0 365px,#3bf 0 372px,#4cf 0 374px,#2bf 0 375px,#4cf 0 379px,#2bf 0 384px,#3bf 0 386px,#19f 0 388px,#4cf 0 391px,#5df 0 395px,#5de 0 398px,#3bf 0 400px,#6de 0 402px,#3bf 0 403px,#6de 0 406px,#4cf 0 410px,#3bf 0 411px,#2af 0 414px,#6de 0 416px,#5df 0 418px,#2bf 0 420px,#5de 0 422px,#5cf 0 425px,#6de 0 427px,#4cf 0 431px,#3bf 0 432px,#2bf 0 434px,#4cf 0 439px,#6de 0 442px,#4cf 0 444px,#5de 0 448px,#3bf 0 450px,#5cf 0 453px,#4cf 0 455px,#3bf 0 456px,#5de 0 457px,#3bf 0 460px,#2af 0 462px,#4cf 0 465px,#5df 0 468px,#1af 0 469px,#5de 0 472px,#2bf 0 475px,#5df 0 477px,#6de 0 478px,#3bf 0 480px,#5de 0 481px,#4cf 0 484px,#5de 0 485px,#3bf 0 487px,#4cf 0 488px,#6de 0 491px,#2af 0 493px,#4cf 0 496px,#2bf 0 498px,#19f 0 499px,#4cf 0 501px,#6de 0 503px,#3bf 0 506px,#3cf 0 509px,#5de 0 511px,#3bf 0 512px,#3cf 0 514px,#6de 0 516px,#5df 0 519px,#3cf 0 520px,#3bf 0 522px,#5de 0 524px,#6de 0 525px,#4cf 0 532px,#2bf 0 533px,#5de 0 534px,#3bf 0 537px,#18f 0 539px,#2bf 0 542px,#4cf 0 547px,#3bf 0 550px,#4cf 0 552px,#5de 0 554px,#6de 0 556px,#5cf 0 557px,#18f 0 559px,#4cf 0 562px,#5cf 0 564px,#6de 0 570px,#4cf 0 572px,#3bf 0 574px,#6de 0 577px,#5de 0 579px,#4cf 0 580px,#6de 0 582px,#6ee 0 585px,#5de 0 586px,#6ed 0 588px,#4cf 0 591px,#6ed 0 592px,#2bf 0 594px,#6ed 0 597px,#3bf 0 600px,#6de 0 601px,#6ed 0 603px,#6ee 0 605px,#6de 0 609px,#6ed 0 611px,#6de 0 612px,#5de 0 614px,#6ee 0 617px,#3bf 0 619px,#6de 0 620px,#5de 0 623px,#6ed 0 625px,#5cf 0 627px,#6ed 0 630px,#6ee 0 632px,#6de 0 633px,#5cf 0 635px,#6de 0 641px,#5cf 0 643px,#4cf 0 647px,#6ed 0 649px,#5de 0 652px,#6ed 0 654px,#7ec 0 656px,#6ed 0 657px,#6ee 0 661px,#7ec 0 662px,#6de 0 664px,#6ee 0 667px,#7ec 0 672px,#4cf 0 674px,#5df 0 676px,#6ed 0 680px,#7ed 0 682px,#6ed 0 684px,#7ec 0 686px,#6ed 0 689px,#7ed 0 691px,#7ec 0 692px,#8eb 0 693px,#4cf 0 695px,#6ed 0 699px,#5cf 0 701px,#8eb 0 703px,#6ee 0 706px,#5cf 0 708px,#8eb 0 711px,#8ea 0 714px,#4cf 0 716px,#7ec 0 718px,#8eb 0 720px,#5de 0 721px,#8eb 0 723px,#7ec 0 724px,#6ed 0 727px,#7ec 0 728px,#7eb 0 730px,#9ea 0 732px,#8eb 0 734px,#7ec 0 736px,#9ea 0 738px,#7eb 0 741px,#7ed 0 743px,#8eb 0 745px,#6ed 0 747px,#8ea 0 749px,#7ec 0 758px,#6ed 0 761px,#8eb 0 762px,#7eb 0 766px,#7ec 0 768px,#8eb 0 771px,#7eb 0 773px,#6ed 0 776px,#7ed 0 779px,#6ee 0 782px,#8eb 0 785px,#aea 0 787px,#7ec 0 788px,#6ed 0 791px,#9ea 0 796px,#aea 0 800px,#8ea 0 804px,#9ea 0 808px,#aea 0 812px,#cfa 0 817px,#aea 0 820px,#bfa 0 825px,#cf9 0 829px,#df9 0 832px,#bfa 0 837px,#cf9 0 842px,#ee7 0 845px,#df9 0 848px,#ee8 0 850px,#df9 0 856px,#cf9 0 865px,#df9 0 868px,#de8 0 869px,#ee8 869px,#bfa 875px,#cf9 881px,#df9 885px,#aea 890px,#df9 898px,#bfa 905px,#cf9 912px,#cf9 918px,#cf9 923px,#cfa 931px,#bfa 941px,#bfa 949px,#de8 955px,#bfa 961px,#df9 973px,#bfa 982px,#df9 993px,#ee8 1006px,#cf9 1019px,#aea 1028px,#df9 1044px,#de8 1052px,#ee7 1067px,#8ea 1082px,#aea 1098px,#9ea 1110px,#8eb 1127px,#9ea 1147px,#a0f2aa 1154px,#acf5a8 1171px,#bcfaa5 1194px,#acf5a8 1209px,#9bf0ab 1224px,#8aecae 1237px,#7cebc8 1264px,#6aebe1 1304px,#61e1f0 1320px,#44caff 1336px,#3bc4ff 1344px,#32beff 1353px,#19afff 1371px,#118ffa 1384px,#0e86f9 1414px)"></div><div style="left:2447.2px;width:39.4px;background:linear-gradient(#0a0079 104px,#107 0 168px,#108 0 170px,#107 0 174px,#209 0 176px,#208 0 178px,#108 0 181px,#107 0 182px,#108 0 185px,#107 0 187px,#209 0 189px,#208 0 190px,#10a 0 191px,#107 0 193px,#10a 0 195px,#209 0 199px,#107 0 201px,#209 0 206px,#10a 0 209px,#01c 0 211px,#209 0 214px,#10b 0 216px,#01c 0 218px,#02d 0 220px,#01c 0 224px,#209 0 226px,#01c 0 237px,#02d 0 241px,#00b 0 242px,#01c 0 244px,#02d 0 245px,#10b 0 248px,#01c 0 250px,#02d 0 252px,#01c 0 255px,#01b 0 257px,#02d 0 259px,#01c 0 262px,#16e 0 264px,#03d 0 267px,#02d 0 269px,#16e 0 271px,#17f 0 273px,#03d 0 275px,#16e 0 276px,#15e 0 279px,#16e 0 280px,#02d 0 283px,#03d 0 284px,#02d 0 286px,#16e 0 289px,#19f 0 294px,#16e 0 295px,#19f 0 297px,#16e 0 299px,#01c 0 301px,#17f 0 303px,#17e 0 305px,#03d 0 307px,#17e 0 308px,#03d 0 311px,#19f 0 313px,#2af 0 315px,#2bf 0 318px,#15e 0 320px,#18f 0 321px,#1af 0 325px,#3bf 0 327px,#19f 0 329px,#15e 0 331px,#2bf 0 333px,#1af 0 334px,#18f 0 335px,#19f 0 337px,#2af 0 338px,#18f 0 344px,#3bf 0 347px,#5cf 0 349px,#18f 0 352px,#2bf 0 354px,#17f 0 356px,#3bf 0 358px,#1af 0 360px,#3bf 0 363px,#3cf 0 365px,#5cf 0 366px,#3bf 0 369px,#4cf 0 375px,#1af 0 376px,#4cf 0 379px,#3bf 0 385px,#4cf 0 386px,#3bf 0 387px,#1af 0 390px,#3bf 0 391px,#2bf 0 393px,#3bf 0 396px,#4cf 0 398px,#5df 0 399px,#4cf 0 403px,#3bf 0 405px,#4cf 0 407px,#2af 0 408px,#4cf 0 418px,#17f 0 420px,#4cf 0 421px,#3bf 0 425px,#4cf 0 428px,#6de 0 429px,#3bf 0 431px,#2bf 0 432px,#2af 0 435px,#4cf 0 442px,#5de 0 443px,#2af 0 447px,#4cf 0 449px,#19f 0 451px,#4cf 0 457px,#6ed 0 459px,#6de 0 463px,#4cf 0 467px,#3cf 0 468px,#6de 0 471px,#2bf 0 473px,#5de 0 474px,#3bf 0 476px,#5de 0 479px,#5cf 0 480px,#2bf 0 483px,#3bf 0 484px,#4cf 0 489px,#2bf 0 491px,#18f 0 494px,#4cf 0 495px,#6de 0 498px,#4cf 0 500px,#18f 0 503px,#5de 0 505px,#3bf 0 506px,#6de 0 508px,#2bf 0 510px,#5de 0 513px,#1af 0 515px,#6ee 0 516px,#6de 0 519px,#5cf 0 522px,#5df 0 524px,#5cf 0 525px,#3bf 0 528px,#2bf 0 530px,#4cf 0 531px,#2bf 0 533px,#19f 0 535px,#6de 0 536px,#19f 0 538px,#2af 0 539px,#17e 0 541px,#6ee 0 543px,#5cf 0 546px,#4cf 0 550px,#5df 0 552px,#4cf 0 554px,#3bf 0 559px,#6ee 0 560px,#4cf 0 561px,#5cf 0 565px,#5de 0 568px,#18f 0 570px,#6de 0 573px,#19f 0 575px,#5de 0 577px,#5cf 0 579px,#6ee 0 581px,#5de 0 584px,#3bf 0 590px,#4cf 0 592px,#3bf 0 594px,#4cf 0 597px,#6de 0 600px,#3bf 0 602px,#4cf 0 603px,#5de 0 607px,#6de 0 612px,#6ee 0 614px,#6de 0 616px,#6ed 0 620px,#3bf 0 623px,#7ed 0 624px,#6de 0 627px,#1af 0 629px,#6de 0 635px,#6ed 0 638px,#6de 0 641px,#6ed 0 642px,#4cf 0 645px,#6ed 0 650px,#7ed 0 652px,#4cf 0 653px,#6ed 0 655px,#6ee 0 657px,#6ed 0 662px,#6ee 0 664px,#5de 0 665px,#5cf 0 667px,#6de 0 672px,#6ed 0 673px,#6ee 0 675px,#3bf 0 678px,#6ed 0 682px,#5de 0 684px,#8eb 0 686px,#7ec 0 687px,#4cf 0 690px,#5cf 0 691px,#6ee 0 693px,#6ed 0 697px,#7ec 0 698px,#6ed 0 700px,#4cf 0 702px,#6de 0 704px,#7ed 0 706px,#6de 0 712px,#6ed 0 714px,#5de 0 715px,#7ec 0 717px,#6ed 0 718px,#8ea 0 720px,#7ec 0 721px,#6ee 0 726px,#8ea 0 729px,#7ec 0 730px,#8ea 0 733px,#7ec 0 736px,#6de 0 739px,#7ec 0 740px,#6de 0 743px,#5de 0 745px,#8eb 0 748px,#6de 0 750px,#8ea 0 752px,#6ed 0 754px,#9ea 0 756px,#8ea 0 762px,#7ec 0 764px,#9ea 0 767px,#7ec 0 771px,#8ea 0 773px,#7eb 0 777px,#6de 0 781px,#7ec 0 784px,#8eb 0 787px,#8ea 0 789px,#7eb 0 791px,#9ea 0 797px,#8eb 0 801px,#7ed 0 804px,#aea 0 806px,#9ea 0 810px,#7eb 0 815px,#cfa 0 817px,#8ea 0 820px,#6ed 0 822px,#7ec 0 826px,#aea 0 830px,#8eb 0 835px,#bfa 0 841px,#cf9 0 847px,#9ea 0 851px,#cfa 0 853px,#bfa 0 856px,#7ec 0 862px,#bfa 0 867px,#8ea 0 869px,#7ed 869px,#cfa 873px,#8ea 878px,#9ea 886px,#6ed 890px,#9ea 895px,#8eb 901px,#6ed 910px,#aea 918px,#7ed 925px,#8ea 936px,#9ea 942px,#cfa 952px,#8ea 960px,#8ea 966px,#bfa 977px,#8ea 988px,#8eb 998px,#cf9 1006px,#8ea 1019px,#aea 1029px,#cf9 1044px,#df9 1056px,#cf9 1070px,#aea 1083px,#aea 1097px,#bfa 1116px,#aea 1136px,#aea 1151px,#a5f3a9 1154px,#9bf0ab 1194px,#8aecae 1224px,#83ecbb 1264px,#7cebc8 1271px,#6aebe1 1284px,#61e1f0 1297px,#52d6f8 1304px,#44caff 1324px,#3bc4ff 1344px,#32beff 1384px,#2dbbff 1414px)"></div><div style="left:2486.6px;width:39.4px;background:linear-gradient(#0a0079 104px,#107 0 182px,#209 0 189px,#107 0 193px,#209 0 198px,#20a 0 201px,#10b 0 203px,#108 0 206px,#10b 0 207px,#209 0 209px,#107 0 211px,#209 0 214px,#01c 0 220px,#00b 0 221px,#10a 0 223px,#02d 0 226px,#01c 0 231px,#20a 0 233px,#02d 0 238px,#01c 0 239px,#10a 0 242px,#02d 0 245px,#03d 0 247px,#01c 0 250px,#03d 0 251px,#10b 0 254px,#02d 0 268px,#15e 0 271px,#16e 0 274px,#03d 0 277px,#16e 0 281px,#03d 0 285px,#01c 0 288px,#17f 0 290px,#17e 0 291px,#19f 0 294px,#02d 0 296px,#18f 0 298px,#14e 0 299px,#17e 0 301px,#19f 0 304px,#17e 0 307px,#2af 0 309px,#17e 0 311px,#02d 0 314px,#18f 0 316px,#2bf 0 317px,#19f 0 320px,#2af 0 323px,#19f 0 324px,#17e 0 326px,#26e 0 328px,#17e 0 331px,#2bf 0 335px,#3bf 0 338px,#1af 0 340px,#2bf 0 342px,#14e 0 345px,#18f 0 348px,#3bf 0 350px,#2af 0 353px,#17e 0 354px,#4cf 0 357px,#3bf 0 359px,#14e 0 361px,#3cf 0 363px,#2bf 0 364px,#3bf 0 366px,#2bf 0 369px,#3bf 0 372px,#1af 0 375px,#3bf 0 378px,#2af 0 381px,#4cf 0 383px,#3bf 0 385px,#4cf 0 387px,#3bf 0 388px,#16e 0 391px,#6de 0 392px,#5df 0 394px,#2af 0 396px,#6de 0 398px,#4cf 0 405px,#2af 0 406px,#4cf 0 409px,#3bf 0 411px,#6ee 0 413px,#5cf 0 415px,#4cf 0 416px,#2bf 0 420px,#4cf 0 421px,#5cf 0 423px,#4cf 0 425px,#18f 0 427px,#4cf 0 432px,#3bf 0 435px,#17e 0 437px,#2bf 0 439px,#5de 0 441px,#3bf 0 445px,#5de 0 448px,#6de 0 451px,#5de 0 453px,#3bf 0 454px,#4cf 0 459px,#5de 0 462px,#3bf 0 463px,#6de 0 465px,#4cf 0 473px,#1af 0 476px,#4cf 0 478px,#5de 0 480px,#5cf 0 482px,#4cf 0 484px,#5df 0 486px,#6ee 0 487px,#17e 0 488px,#5cf 0 490px,#5df 0 492px,#6de 0 494px,#3bf 0 495px,#5df 0 497px,#5de 0 499px,#6de 0 503px,#5cf 0 505px,#6ee 0 507px,#5de 0 512px,#4cf 0 514px,#3bf 0 516px,#4cf 0 518px,#3bf 0 521px,#6de 0 523px,#5cf 0 526px,#6de 0 527px,#2bf 0 529px,#5cf 0 533px,#6ee 0 535px,#4cf 0 537px,#5cf 0 540px,#3bf 0 544px,#6de 0 552px,#17f 0 553px,#6de 0 555px,#5de 0 557px,#5cf 0 559px,#4cf 0 562px,#6de 0 564px,#18f 0 567px,#6de 0 569px,#3bf 0 570px,#5de 0 573px,#6ee 0 575px,#6ed 0 576px,#3bf 0 578px,#6ed 0 580px,#1af 0 581px,#5de 0 584px,#6ed 0 585px,#5de 0 588px,#6ed 0 590px,#5de 0 592px,#3bf 0 594px,#6de 0 597px,#4cf 0 599px,#6ee 0 600px,#6de 0 601px,#6ed 0 603px,#5de 0 606px,#6ed 0 610px,#7ed 0 613px,#6de 0 615px,#6ed 0 616px,#3bf 0 618px,#5de 0 620px,#6ed 0 622px,#7ed 0 624px,#6ee 0 627px,#5de 0 630px,#1af 0 632px,#4cf 0 634px,#6ee 0 636px,#6de 0 638px,#6ed 0 641px,#5cf 0 642px,#5de 0 644px,#6ed 0 646px,#5cf 0 648px,#6de 0 650px,#5de 0 653px,#6ed 0 657px,#6de 0 660px,#6ed 0 664px,#6de 0 666px,#7eb 0 668px,#7ec 0 669px,#6de 0 671px,#6ed 0 675px,#5df 0 678px,#6de 0 680px,#7ed 0 682px,#7ec 0 683px,#6de 0 686px,#6ed 0 687px,#7ed 0 690px,#5de 0 692px,#7ec 0 699px,#6de 0 708px,#9ea 0 710px,#8ea 0 712px,#7ec 0 715px,#6ed 0 717px,#5de 0 720px,#6de 0 721px,#8eb 0 723px,#6de 0 725px,#8ea 0 729px,#6de 0 736px,#7ec 0 740px,#6ed 0 742px,#8eb 0 743px,#6ed 0 744px,#9ea 0 749px,#6de 0 751px,#bfa 0 753px,#7ec 0 754px,#aea 0 757px,#7ed 0 761px,#7ec 0 764px,#6ed 0 767px,#8eb 0 768px,#6ed 0 771px,#9ea 0 773px,#8eb 0 774px,#7ec 0 782px,#9ea 0 785px,#aea 0 791px,#9ea 0 794px,#bfa 0 798px,#cfa 0 803px,#7ec 0 808px,#aea 0 813px,#bfa 0 816px,#cfa 0 821px,#bfa 0 824px,#9ea 0 826px,#cf9 0 831px,#de8 0 837px,#bfa 0 843px,#cfa 0 845px,#cf9 0 847px,#df9 0 850px,#bfa 0 854px,#ee8 0 857px,#bfa 0 863px,#cf9 0 868px,#bfa 0 869px,#bfa 869px,#bfa 873px,#aea 878px,#bfa 884px,#9ea 891px,#8eb 899px,#cfa 904px,#8ea 911px,#8eb 920px,#bfa 927px,#aea 936px,#9ea 946px,#cf9 955px,#8eb 965px,#cf9 972px,#bfa 980px,#bfa 992px,#bfa 1001px,#8eb 1011px,#cf9 1025px,#de8 1040px,#de8 1055px,#df9 1065px,#cf9 1074px,#de8 1091px,#de8 1101px,#df9 1112px,#df9 1122px,#df9 1134px,#bfa 1150px,#b3f7a7 1154px,#acf5a8 1159px,#8aecae 1182px,#83ecbb 1194px,#7cebc8 1224px,#73ebd4 1264px,#6aebe1 1277px,#61e1f0 1304px,#44caff 1331px,#3bc4ff 1344px,#32beff 1384px,#2dbbff 1414px)"></div><div style="left:2525.9px;width:39.4px;background:linear-gradient(#0a0079 104px,#107 0 166px,#108 0 168px,#208 0 171px,#20a 0 173px,#209 0 175px,#107 0 176px,#10a 0 179px,#108 0 180px,#208 0 183px,#20a 0 184px,#10a 0 186px,#20a 0 188px,#209 0 191px,#107 0 192px,#20a 0 194px,#10a 0 196px,#208 0 198px,#209 0 202px,#10a 0 204px,#01b 0 206px,#00b 0 207px,#01c 0 210px,#209 0 213px,#10a 0 215px,#01c 0 221px,#10b 0 224px,#10a 0 226px,#02d 0 228px,#10a 0 230px,#01c 0 232px,#02d 0 234px,#10b 0 236px,#108 0 237px,#02d 0 240px,#01c 0 243px,#02d 0 246px,#01c 0 248px,#14e 0 250px,#01c 0 254px,#16e 0 256px,#14e 0 258px,#03d 0 260px,#02d 0 267px,#03d 0 268px,#17e 0 270px,#16e 0 273px,#01c 0 274px,#15e 0 277px,#02c 0 279px,#01c 0 280px,#17f 0 282px,#17e 0 285px,#15e 0 287px,#17e 0 288px,#15e 0 290px,#02d 0 293px,#14e 0 294px,#18f 0 296px,#03d 0 298px,#17f 0 301px,#14e 0 304px,#18f 0 305px,#17e 0 307px,#18f 0 310px,#1af 0 313px,#19f 0 316px,#18f 0 318px,#1af 0 321px,#3bf 0 324px,#19f 0 326px,#2bf 0 327px,#3bf 0 329px,#18f 0 332px,#1af 0 333px,#19f 0 335px,#3bf 0 339px,#18f 0 342px,#2bf 0 343px,#3bf 0 345px,#4cf 0 349px,#2af 0 351px,#3bf 0 353px,#4cf 0 355px,#15e 0 358px,#1af 0 360px,#4cf 0 363px,#2af 0 365px,#3bf 0 366px,#1af 0 368px,#3bf 0 370px,#2bf 0 371px,#3bf 0 376px,#2af 0 377px,#2bf 0 379px,#4cf 0 381px,#3bf 0 382px,#5de 0 384px,#4cf 0 387px,#1af 0 389px,#4cf 0 391px,#3bf 0 392px,#2bf 0 395px,#2af 0 397px,#2bf 0 399px,#6de 0 401px,#3bf 0 403px,#4cf 0 404px,#1af 0 406px,#2bf 0 408px,#5df 0 410px,#5de 0 412px,#4cf 0 417px,#6de 0 420px,#3bf 0 421px,#3cf 0 422px,#4cf 0 425px,#6ee 0 428px,#4cf 0 431px,#3bf 0 432px,#19f 0 434px,#3bf 0 437px,#4cf 0 438px,#2bf 0 440px,#1af 0 442px,#6ee 0 443px,#4cf 0 445px,#3bf 0 447px,#17f 0 449px,#4cf 0 452px,#6de 0 454px,#5de 0 455px,#6de 0 457px,#4cf 0 462px,#5de 0 465px,#2bf 0 466px,#5cf 0 469px,#5de 0 471px,#4cf 0 472px,#5de 0 474px,#3bf 0 477px,#5cf 0 478px,#6de 0 480px,#3bf 0 482px,#5cf 0 485px,#4cf 0 494px,#5df 0 496px,#6de 0 497px,#2bf 0 499px,#3bf 0 501px,#19f 0 503px,#4cf 0 506px,#3bf 0 508px,#5cf 0 509px,#4cf 0 510px,#5de 0 512px,#19f 0 515px,#3bf 0 522px,#4cf 0 525px,#5de 0 527px,#18f 0 530px,#6de 0 532px,#4cf 0 536px,#5de 0 538px,#6ee 0 540px,#4cf 0 542px,#6de 0 547px,#1af 0 548px,#3cf 0 549px,#3bf 0 551px,#4cf 0 553px,#6de 0 556px,#2bf 0 559px,#5de 0 564px,#5cf 0 566px,#6ee 0 568px,#3bf 0 569px,#4cf 0 572px,#6de 0 574px,#3bf 0 575px,#6de 0 580px,#6ee 0 583px,#2bf 0 584px,#4cf 0 587px,#6ed 0 590px,#4cf 0 592px,#5de 0 594px,#4cf 0 597px,#5de 0 598px,#5cf 0 599px,#6ee 0 604px,#5cf 0 606px,#4cf 0 607px,#5de 0 609px,#6ee 0 612px,#6ed 0 613px,#5de 0 616px,#6ed 0 619px,#7ed 0 621px,#6de 0 624px,#4cf 0 625px,#6ed 0 627px,#6ee 0 628px,#4cf 0 630px,#6ed 0 632px,#6de 0 637px,#5df 0 639px,#6ed 0 640px,#6ee 0 642px,#7ed 0 643px,#5cf 0 644px,#6ed 0 647px,#4cf 0 649px,#6ee 0 653px,#6ed 0 655px,#5cf 0 657px,#6de 0 660px,#7ec 0 662px,#6ed 0 669px,#6de 0 670px,#7ec 0 676px,#3bf 0 678px,#6ed 0 679px,#7ec 0 680px,#7ed 0 683px,#7ec 0 684px,#8eb 0 686px,#6de 0 687px,#6ee 0 689px,#7ec 0 691px,#5de 0 692px,#8ea 0 694px,#7ec 0 701px,#8ea 0 704px,#6ed 0 707px,#8eb 0 708px,#5de 0 709px,#8eb 0 712px,#7ec 0 713px,#5df 0 714px,#7ec 0 717px,#6ed 0 718px,#8eb 0 720px,#7ec 0 725px,#8eb 0 726px,#6de 0 729px,#9ea 0 730px,#8ea 0 733px,#6ed 0 736px,#8ea 0 737px,#8eb 0 740px,#7eb 0 743px,#9ea 0 745px,#7ec 0 748px,#8eb 0 751px,#7ec 0 754px,#7ed 0 756px,#8eb 0 758px,#7ec 0 769px,#9ea 0 771px,#6de 0 774px,#7ec 0 778px,#aea 0 782px,#8eb 0 785px,#7ed 0 789px,#8ea 0 792px,#7ec 0 796px,#7ed 0 798px,#6ed 0 801px,#7ec 0 804px,#9ea 0 815px,#8ea 0 817px,#cf9 0 821px,#8ea 0 825px,#9ea 0 827px,#bfa 0 832px,#afa 0 836px,#aea 0 840px,#cf9 0 842px,#de8 0 846px,#df9 0 850px,#8eb 0 855px,#bfa 0 859px,#aea 0 866px,#df9 0 869px,#9ea 0 869px,#8ea 869px,#8eb 877px,#aea 884px,#cfa 892px,#bfa 899px,#8eb 906px,#cf9 912px,#bfa 918px,#bfa 926px,#cfa 935px,#bfa 942px,#bfa 951px,#cf9 958px,#bfa 969px,#de8 976px,#8ea 989px,#bfa 998px,#cf9 1011px,#cf9 1022px,#ee7 1036px,#ee7 1052px,#ee7 1064px,#ee8 1082px,#ee8 1100px,#df9 1112px,#df9 1127px,#afa 1146px,#b1f6a7 1154px,#acf5a8 1159px,#8aecae 1194px,#8aecae 1224px,#7cebc8 1264px,#6aebe1 1304px,#61e1f0 1344px,#44caff 1384px,#40c8ff 1414px)"></div><div style="left:2565.3px;width:39.4px;background:linear-gradient(#0a0079 104px,#107 0 173px,#108 0 175px,#209 0 178px,#107 0 182px,#209 0 185px,#20a 0 186px,#209 0 189px,#107 0 192px,#209 0 194px,#20a 0 197px,#209 0 199px,#108 0 202px,#10b 0 203px,#10a 0 205px,#01b 0 207px,#01c 0 213px,#209 0 215px,#20a 0 217px,#01c 0 219px,#107 0 220px,#01c 0 223px,#10b 0 225px,#108 0 228px,#01c 0 233px,#02d 0 235px,#01c 0 237px,#02d 0 241px,#01b 0 243px,#01c 0 246px,#15e 0 249px,#02d 0 256px,#209 0 257px,#03d 0 259px,#01c 0 260px,#02d 0 261px,#15e 0 265px,#02d 0 267px,#14e 0 269px,#02d 0 270px,#03d 0 273px,#14e 0 274px,#15e 0 275px,#03d 0 278px,#01c 0 279px,#15e 0 282px,#03d 0 285px,#01c 0 287px,#17e 0 288px,#15e 0 291px,#18f 0 294px,#16e 0 296px,#17f 0 298px,#17e 0 299px,#15e 0 301px,#17e 0 305px,#15e 0 307px,#17e 0 309px,#18f 0 312px,#01c 0 314px,#1af 0 318px,#17e 0 319px,#19f 0 322px,#2af 0 324px,#1af 0 325px,#2bf 0 327px,#3bf 0 329px,#1af 0 331px,#3bf 0 333px,#4cf 0 336px,#3bf 0 341px,#15e 0 343px,#2af 0 345px,#03d 0 346px,#18f 0 348px,#1af 0 350px,#3bf 0 352px,#4cf 0 353px,#17e 0 355px,#1af 0 358px,#4cf 0 359px,#1af 0 362px,#04d 0 363px,#19f 0 365px,#2bf 0 368px,#4cf 0 370px,#2bf 0 373px,#4cf 0 376px,#3cf 0 378px,#17e 0 380px,#16e 0 381px,#4cf 0 384px,#2bf 0 385px,#3bf 0 388px,#5cf 0 390px,#4cf 0 393px,#5de 0 395px,#3bf 0 398px,#5de 0 400px,#3bf 0 405px,#4cf 0 407px,#2af 0 409px,#3bf 0 412px,#4cf 0 413px,#5df 0 416px,#3bf 0 420px,#5de 0 423px,#3bf 0 425px,#5de 0 427px,#4cf 0 428px,#3bf 0 430px,#4cf 0 432px,#3cf 0 434px,#4cf 0 446px,#6de 0 452px,#3bf 0 454px,#2af 0 455px,#6de 0 457px,#5cf 0 460px,#17e 0 461px,#3bf 0 464px,#5de 0 467px,#18f 0 470px,#4cf 0 472px,#5de 0 474px,#4cf 0 476px,#3cf 0 478px,#4cf 0 480px,#2af 0 483px,#4cf 0 484px,#6de 0 487px,#4cf 0 490px,#5cf 0 492px,#5de 0 494px,#4cf 0 495px,#3bf 0 498px,#4cf 0 501px,#3bf 0 507px,#4cf 0 511px,#5df 0 514px,#5de 0 516px,#6de 0 519px,#6ee 0 520px,#2bf 0 523px,#6de 0 526px,#4cf 0 527px,#5de 0 531px,#4cf 0 533px,#6de 0 536px,#5de 0 539px,#4cf 0 540px,#3bf 0 542px,#6de 0 545px,#4cf 0 546px,#5de 0 548px,#5df 0 550px,#1af 0 551px,#6ed 0 554px,#5df 0 556px,#2bf 0 559px,#19f 0 561px,#6de 0 564px,#6ed 0 567px,#6de 0 569px,#3bf 0 570px,#6de 0 577px,#5cf 0 579px,#4cf 0 582px,#3bf 0 584px,#5cf 0 586px,#6ed 0 588px,#5df 0 591px,#6de 0 592px,#4cf 0 597px,#6de 0 598px,#6ee 0 601px,#3bf 0 604px,#5cf 0 605px,#4cf 0 608px,#6ee 0 610px,#6de 0 611px,#5df 0 613px,#5cf 0 615px,#6ed 0 617px,#6de 0 622px,#6ed 0 625px,#6ee 0 627px,#2bf 0 630px,#5df 0 633px,#4cf 0 634px,#6de 0 636px,#2bf 0 638px,#4cf 0 639px,#6de 0 642px,#6ee 0 645px,#4cf 0 647px,#6de 0 650px,#6ee 0 652px,#8eb 0 653px,#6de 0 658px,#5cf 0 661px,#3bf 0 663px,#6ed 0 664px,#6ee 0 666px,#7ed 0 667px,#6de 0 668px,#6ed 0 671px,#3bf 0 674px,#7ec 0 677px,#6ee 0 679px,#6ed 0 681px,#4cf 0 684px,#7ed 0 686px,#8eb 0 688px,#6ee 0 690px,#7ec 0 694px,#6ed 0 696px,#7ed 0 699px,#8eb 0 700px,#6ed 0 702px,#7ec 0 706px,#6ed 0 708px,#7eb 0 710px,#7ed 0 711px,#8ea 0 713px,#8eb 0 716px,#6ed 0 718px,#7ed 0 722px,#7ec 0 723px,#8eb 0 726px,#7ec 0 728px,#8ea 0 729px,#7ec 0 731px,#6ed 0 732px,#6de 0 735px,#7ec 0 737px,#8eb 0 738px,#7ec 0 741px,#8ea 0 744px,#8eb 0 749px,#6de 0 751px,#8eb 0 752px,#6ee 0 755px,#7eb 0 757px,#aea 0 760px,#6ed 0 763px,#7ec 0 765px,#6ed 0 768px,#9ea 0 771px,#6de 0 775px,#6ed 0 779px,#8eb 0 783px,#7ed 0 785px,#8ea 0 790px,#9ea 0 793px,#bfa 0 797px,#aea 0 800px,#7ec 0 802px,#aea 0 805px,#9ea 0 811px,#aea 0 813px,#7ed 0 818px,#8eb 0 821px,#afa 0 825px,#aea 0 827px,#7ec 0 831px,#aea 0 834px,#bfa 0 838px,#aea 0 843px,#cf9 0 846px,#9ea 0 851px,#bfa 0 856px,#9ea 0 863px,#aea 0 868px,#9ea 0 869px,#bfa 869px,#8ea 874px,#bfa 882px,#afa 890px,#cf9 898px,#aea 905px,#bfa 911px,#afa 919px,#aea 927px,#aea 934px,#8ea 945px,#df9 954px,#df9 964px,#cf9 971px,#cfa 982px,#cf9 995px,#cf9 1006px,#cf9 1014px,#8ea 1026px,#bfa 1039px,#cf9 1053px,#cf9 1065px,#df9 1078px,#bfa 1094px,#aea 1110px,#cfa 1126px,#9ea 1138px,#aef6a8 1154px,#acf5a8 1159px,#9bf0ab 1194px,#8aecae 1224px,#83ecbb 1264px,#7cebc8 1284px,#73ebd4 1304px,#6aebe1 1317px,#61e1f0 1344px,#44caff 1384px,#40c8ff 1414px)"></div><div style="left:2604.7px;width:39.4px;background:linear-gradient(#0a0079 104px,#107 0 170px,#108 0 172px,#107 0 175px,#208 0 177px,#209 0 180px,#107 0 183px,#10b 0 184px,#209 0 186px,#10a 0 188px,#108 0 190px,#209 0 192px,#10a 0 194px,#209 0 196px,#107 0 198px,#209 0 199px,#208 0 201px,#10b 0 203px,#01b 0 206px,#107 0 207px,#209 0 212px,#01c 0 215px,#10b 0 217px,#01c 0 220px,#10b 0 222px,#01c 0 227px,#209 0 228px,#00b 0 230px,#01c 0 235px,#10b 0 238px,#02d 0 243px,#208 0 246px,#02d 0 248px,#01c 0 250px,#10b 0 251px,#03d 0 253px,#02d 0 260px,#01c 0 262px,#02d 0 263px,#14e 0 265px,#15e 0 266px,#02d 0 270px,#15e 0 272px,#16e 0 275px,#15e 0 276px,#03d 0 278px,#01c 0 280px,#15e 0 282px,#17f 0 283px,#03d 0 286px,#17e 0 287px,#16e 0 289px,#26e 0 290px,#17e 0 292px,#17f 0 294px,#16e 0 295px,#18f 0 297px,#16e 0 300px,#17e 0 302px,#19f 0 305px,#2bf 0 306px,#16e 0 308px,#1af 0 311px,#17e 0 314px,#2bf 0 316px,#02d 0 318px,#1af 0 320px,#2af 0 323px,#18f 0 324px,#16e 0 326px,#19f 0 329px,#2bf 0 330px,#19f 0 332px,#2af 0 334px,#1af 0 336px,#15e 0 338px,#2af 0 340px,#2bf 0 343px,#16e 0 345px,#1af 0 346px,#3bf 0 348px,#16e 0 350px,#1af 0 353px,#3bf 0 355px,#4cf 0 357px,#2bf 0 358px,#4cf 0 361px,#3cf 0 363px,#16e 0 364px,#4cf 0 366px,#19f 0 369px,#2bf 0 370px,#1af 0 372px,#2bf 0 374px,#3bf 0 376px,#4cf 0 381px,#3bf 0 383px,#2af 0 385px,#4cf 0 387px,#3bf 0 389px,#1af 0 392px,#5df 0 393px,#5de 0 394px,#4cf 0 397px,#5de 0 398px,#5cf 0 401px,#5de 0 402px,#6de 0 404px,#5de 0 405px,#4cf 0 408px,#5df 0 410px,#3bf 0 412px,#5de 0 421px,#17f 0 424px,#19f 0 425px,#17f 0 427px,#5de 0 429px,#4cf 0 432px,#3bf 0 435px,#6de 0 436px,#5cf 0 438px,#4cf 0 442px,#6ee 0 446px,#4cf 0 449px,#6ee 0 451px,#5de 0 452px,#6de 0 454px,#5de 0 456px,#5cf 0 458px,#3bf 0 460px,#6de 0 463px,#6ed 0 464px,#5cf 0 466px,#2bf 0 467px,#3bf 0 470px,#4cf 0 473px,#3bf 0 476px,#3cf 0 478px,#6de 0 480px,#5cf 0 481px,#3bf 0 483px,#4cf 0 485px,#6de 0 486px,#3bf 0 489px,#4cf 0 491px,#2bf 0 492px,#3bf 0 493px,#19f 0 495px,#5de 0 497px,#5cf 0 500px,#4cf 0 501px,#6de 0 503px,#5cf 0 504px,#4cf 0 506px,#6de 0 507px,#5de 0 509px,#19f 0 510px,#5de 0 513px,#4cf 0 518px,#3bf 0 519px,#6de 0 521px,#3bf 0 523px,#5df 0 524px,#4cf 0 527px,#5de 0 529px,#4cf 0 537px,#2bf 0 538px,#6ee 0 541px,#6de 0 542px,#5de 0 544px,#4cf 0 545px,#3bf 0 548px,#6ed 0 549px,#19f 0 551px,#6ed 0 554px,#5cf 0 556px,#5df 0 558px,#6ed 0 561px,#5de 0 563px,#3bf 0 569px,#6de 0 571px,#19f 0 572px,#5df 0 574px,#4cf 0 575px,#5df 0 576px,#5de 0 582px,#7ec 0 584px,#7ed 0 586px,#6ee 0 587px,#5de 0 590px,#6de 0 593px,#7ed 0 598px,#6ed 0 599px,#7ed 0 601px,#6ee 0 603px,#6ed 0 604px,#6ee 0 605px,#7ec 0 607px,#6ed 0 609px,#7ed 0 612px,#6ed 0 613px,#6de 0 615px,#6ee 0 618px,#5cf 0 619px,#7ec 0 620px,#6de 0 622px,#5cf 0 624px,#7ec 0 626px,#6de 0 629px,#5df 0 631px,#6ee 0 635px,#6de 0 640px,#7ed 0 642px,#6ed 0 644px,#6de 0 647px,#7ec 0 648px,#5de 0 651px,#7ed 0 653px,#7ec 0 654px,#7ed 0 657px,#7ec 0 659px,#7ed 0 661px,#8eb 0 662px,#6ed 0 664px,#7ed 0 666px,#7ec 0 667px,#6ee 0 669px,#6de 0 673px,#4cf 0 674px,#3bf 0 676px,#5de 0 678px,#8eb 0 682px,#6ed 0 684px,#7ed 0 685px,#8eb 0 687px,#7ec 0 689px,#7ed 0 695px,#7ec 0 699px,#6ed 0 704px,#8eb 0 707px,#6ed 0 712px,#5de 0 714px,#7ec 0 716px,#8eb 0 719px,#6de 0 721px,#6ed 0 724px,#7ed 0 725px,#8eb 0 727px,#6ed 0 729px,#7ec 0 730px,#8eb 0 734px,#7eb 0 736px,#7ed 0 737px,#8eb 0 742px,#7ec 0 744px,#7ed 0 746px,#7ec 0 750px,#7eb 0 753px,#6ee 0 756px,#7ec 0 758px,#8eb 0 760px,#7ec 0 761px,#6ed 0 765px,#6de 0 766px,#8ea 0 770px,#6de 0 771px,#8eb 0 773px,#7ec 0 777px,#6ed 0 779px,#6de 0 781px,#8eb 0 783px,#6de 0 786px,#8ea 0 789px,#6de 0 791px,#9ea 0 794px,#7ec 0 796px,#6ed 0 799px,#bfa 0 804px,#8eb 0 807px,#7ec 0 812px,#6ed 0 816px,#7ed 0 820px,#afa 0 823px,#7ec 0 826px,#cf9 0 829px,#aea 0 833px,#bfa 0 837px,#9ea 0 842px,#cfa 0 844px,#cf9 0 850px,#bfa 0 857px,#df9 0 860px,#aea 0 864px,#8ea 0 866px,#7ec 0 869px,#8ea 869px,#cfa 876px,#cf9 881px,#bfa 887px,#bfa 893px,#aea 899px,#9ea 907px,#aea 914px,#7ec 921px,#aea 929px,#cf9 935px,#cf9 944px,#bfa 951px,#9ea 960px,#aea 966px,#cf9 975px,#cf9 986px,#bfa 999px,#bfa 1006px,#df9 1016px,#aea 1023px,#de8 1037px,#bfa 1048px,#df9 1059px,#cfa 1068px,#ee7 1077px,#de8 1089px,#cfa 1107px,#df9 1118px,#cfa 1128px,#aea 1139px,#99f0ab 1154px,#8aecae 1166px,#7cebc8 1194px,#73ebd4 1224px,#6aebe1 1244px,#66e6e8 1264px,#61e1f0 1277px,#44caff 1304px,#44caff 1344px,#44caff 1384px,#40c8ff 1414px)"></div><div style="left:2644.1px;width:39.4px;background:linear-gradient(#0a0079 104px,#107 0 169px,#108 0 170px,#107 0 171px,#20a 0 173px,#108 0 175px,#107 0 176px,#10b 0 179px,#108 0 181px,#209 0 183px,#107 0 184px,#208 0 186px,#209 0 188px,#107 0 190px,#209 0 191px,#208 0 193px,#107 0 198px,#10b 0 200px,#107 0 201px,#10b 0 203px,#01c 0 205px,#10a 0 206px,#107 0 208px,#01c 0 211px,#209 0 213px,#01c 0 214px,#209 0 216px,#01c 0 224px,#10b 0 227px,#02d 0 228px,#01c 0 233px,#02d 0 241px,#15e 0 243px,#03d 0 244px,#01b 0 246px,#209 0 248px,#14e 0 250px,#01c 0 255px,#15e 0 257px,#02d 0 260px,#16e 0 262px,#03d 0 263px,#01b 0 265px,#10a 0 267px,#02d 0 270px,#10b 0 272px,#01c 0 273px,#15e 0 275px,#17e 0 278px,#17f 0 279px,#17e 0 283px,#26e 0 284px,#16e 0 287px,#14e 0 289px,#16e 0 291px,#17e 0 293px,#16e 0 295px,#17e 0 298px,#02d 0 301px,#16e 0 304px,#17f 0 305px,#1af 0 307px,#19f 0 308px,#17e 0 313px,#19f 0 316px,#2bf 0 319px,#19f 0 321px,#17f 0 323px,#1af 0 324px,#17e 0 327px,#1af 0 329px,#2af 0 331px,#19f 0 334px,#2af 0 336px,#2bf 0 338px,#4cf 0 339px,#18f 0 340px,#1af 0 342px,#3bf 0 345px,#17e 0 347px,#2bf 0 350px,#4cf 0 351px,#2af 0 352px,#3bf 0 355px,#1af 0 359px,#3bf 0 362px,#2bf 0 364px,#3bf 0 365px,#4cf 0 368px,#3bf 0 369px,#4cf 0 371px,#3bf 0 373px,#4cf 0 374px,#3bf 0 377px,#4cf 0 380px,#3bf 0 381px,#2af 0 383px,#2bf 0 384px,#4cf 0 387px,#6de 0 389px,#5de 0 390px,#2af 0 393px,#19f 0 395px,#17e 0 397px,#5cf 0 399px,#5df 0 401px,#3bf 0 403px,#16e 0 406px,#3bf 0 407px,#19f 0 409px,#6de 0 411px,#2bf 0 413px,#5de 0 415px,#3cf 0 417px,#4cf 0 418px,#5de 0 420px,#2bf 0 422px,#3bf 0 423px,#4cf 0 426px,#3bf 0 427px,#4cf 0 434px,#3cf 0 436px,#3bf 0 437px,#4cf 0 439px,#5de 0 440px,#3bf 0 442px,#5cf 0 446px,#3bf 0 448px,#5de 0 450px,#18f 0 452px,#5cf 0 454px,#5df 0 455px,#4cf 0 457px,#5cf 0 459px,#6de 0 461px,#4cf 0 465px,#5de 0 467px,#4cf 0 472px,#6de 0 474px,#4cf 0 475px,#5de 0 477px,#4cf 0 482px,#6de 0 484px,#5cf 0 485px,#6de 0 492px,#4cf 0 495px,#3bf 0 497px,#4cf 0 499px,#5df 0 501px,#4cf 0 504px,#6de 0 506px,#5de 0 508px,#4cf 0 511px,#19f 0 513px,#4cf 0 515px,#5de 0 517px,#4cf 0 523px,#5cf 0 525px,#6ee 0 526px,#3bf 0 529px,#6ee 0 530px,#4cf 0 531px,#6ee 0 533px,#6ed 0 534px,#3bf 0 538px,#2af 0 541px,#4cf 0 542px,#6ed 0 545px,#4cf 0 547px,#5de 0 548px,#4cf 0 551px,#6ed 0 552px,#4cf 0 554px,#5cf 0 556px,#6ee 0 558px,#6de 0 560px,#6ee 0 563px,#3bf 0 566px,#6ed 0 569px,#6ee 0 572px,#6ed 0 575px,#2bf 0 577px,#6ed 0 580px,#6de 0 582px,#6ee 0 584px,#6de 0 586px,#7ed 0 587px,#6ed 0 588px,#4cf 0 590px,#3bf 0 594px,#6ed 0 597px,#6de 0 598px,#6ed 0 600px,#7ec 0 601px,#4cf 0 604px,#5de 0 605px,#2af 0 608px,#6ee 0 610px,#6ed 0 612px,#6ee 0 613px,#7ec 0 616px,#6ed 0 618px,#6de 0 620px,#6ee 0 622px,#7ec 0 625px,#6ee 0 627px,#7ec 0 629px,#6ee 0 630px,#6ed 0 633px,#5de 0 635px,#8eb 0 637px,#6de 0 639px,#7ec 0 641px,#6ed 0 642px,#6de 0 644px,#7ec 0 647px,#6de 0 649px,#6ee 0 651px,#5df 0 653px,#4cf 0 654px,#7ec 0 656px,#7ed 0 659px,#6ed 0 661px,#6de 0 663px,#7ec 0 665px,#6de 0 667px,#6ee 0 670px,#7ec 0 671px,#7eb 0 673px,#7ec 0 674px,#5df 0 675px,#6ee 0 678px,#6de 0 680px,#8eb 0 681px,#6de 0 683px,#6ed 0 687px,#8eb 0 691px,#7ec 0 693px,#5de 0 696px,#7ec 0 698px,#7ed 0 699px,#7ec 0 702px,#6ee 0 704px,#7ec 0 707px,#6ed 0 710px,#8eb 0 712px,#6ed 0 715px,#7ed 0 717px,#6ee 0 719px,#6ed 0 723px,#7ed 0 724px,#7eb 0 725px,#7ec 0 730px,#6de 0 732px,#8eb 0 734px,#6ee 0 739px,#9ea 0 741px,#6ed 0 743px,#7ec 0 745px,#8eb 0 749px,#7eb 0 752px,#7ec 0 755px,#6ed 0 756px,#7ed 0 757px,#7ec 0 762px,#8eb 0 764px,#6ed 0 768px,#8ea 0 770px,#7ec 0 772px,#9ea 0 775px,#8eb 0 780px,#6ed 0 782px,#7eb 0 784px,#9ea 0 793px,#aea 0 795px,#9ea 0 803px,#8eb 0 807px,#aea 0 811px,#7ed 0 813px,#aea 0 818px,#afa 0 822px,#8eb 0 823px,#aea 0 831px,#8ea 0 835px,#bfa 0 840px,#df9 0 845px,#cfa 0 851px,#aea 0 856px,#8ea 0 861px,#afa 0 866px,#9ea 0 869px,#9ea 869px,#aea 876px,#7ec 880px,#aea 887px,#bfa 893px,#aea 901px,#8eb 908px,#afa 913px,#9ea 921px,#cfa 926px,#bfa 936px,#df9 943px,#cf9 954px,#8eb 966px,#df9 973px,#cfa 980px,#df9 989px,#bfa 999px,#de8 1009px,#bfa 1019px,#df9 1033px,#df9 1044px,#9ea 1055px,#bfa 1067px,#df9 1083px,#de8 1098px,#aea 1118px,#cfa 1128px,#9ea 1149px,#99f0ab 1154px,#8aecae 1166px,#7cebc8 1194px,#7cebc8 1224px,#7cebc8 1264px,#73ebd4 1304px,#6aebe1 1314px,#61e1f0 1334px,#52d6f8 1344px,#44caff 1357px,#32beff 1384px,#2dbbff 1414px)"></div><div style="left:2683.4px;width:39.4px;background:linear-gradient(#0a0079 104px,#107 0 164px,#108 0 165px,#107 0 169px,#208 0 171px,#107 0 173px,#108 0 174px,#209 0 176px,#107 0 182px,#108 0 184px,#208 0 187px,#107 0 189px,#10a 0 190px,#107 0 193px,#10b 0 195px,#209 0 196px,#108 0 198px,#10a 0 204px,#20a 0 209px,#01b 0 212px,#107 0 214px,#01c 0 215px,#209 0 216px,#01c 0 219px,#209 0 221px,#10a 0 222px,#10b 0 225px,#209 0 227px,#01b 0 229px,#01c 0 231px,#02d 0 233px,#10b 0 234px,#01c 0 240px,#02d 0 245px,#10b 0 247px,#01c 0 250px,#02d 0 252px,#01c 0 253px,#02d 0 256px,#15e 0 259px,#00b 0 261px,#02d 0 266px,#03d 0 269px,#14e 0 270px,#16e 0 272px,#17e 0 273px,#04d 0 275px,#00b 0 276px,#16e 0 278px,#01c 0 280px,#15e 0 281px,#18f 0 283px,#17f 0 285px,#15e 0 288px,#26e 0 291px,#03d 0 294px,#02d 0 296px,#01c 0 297px,#15e 0 299px,#17e 0 300px,#18f 0 302px,#14e 0 304px,#1af 0 307px,#2af 0 308px,#19f 0 313px,#2bf 0 315px,#02d 0 317px,#1af 0 319px,#19f 0 322px,#1af 0 324px,#2af 0 325px,#18f 0 326px,#17f 0 329px,#18f 0 331px,#17e 0 335px,#2bf 0 337px,#3bf 0 340px,#2bf 0 341px,#3bf 0 343px,#18f 0 345px,#3bf 0 348px,#2af 0 350px,#2bf 0 355px,#4cf 0 358px,#2bf 0 360px,#2af 0 363px,#3bf 0 368px,#1af 0 369px,#16e 0 372px,#5de 0 374px,#3bf 0 376px,#4cf 0 379px,#3bf 0 382px,#4cf 0 383px,#2af 0 385px,#3bf 0 388px,#3cf 0 390px,#5cf 0 392px,#1af 0 393px,#4cf 0 395px,#3bf 0 396px,#2bf 0 398px,#3bf 0 400px,#5cf 0 402px,#4cf 0 405px,#5cf 0 406px,#4cf 0 409px,#3bf 0 413px,#2bf 0 415px,#3bf 0 417px,#4cf 0 420px,#3bf 0 422px,#6de 0 424px,#4cf 0 426px,#6de 0 428px,#5df 0 430px,#4cf 0 435px,#5de 0 436px,#3bf 0 438px,#2bf 0 441px,#3bf 0 442px,#4cf 0 446px,#18f 0 448px,#3bf 0 450px,#17f 0 453px,#5cf 0 454px,#6de 0 458px,#3bf 0 461px,#4cf 0 463px,#6ed 0 464px,#4cf 0 465px,#6de 0 470px,#3cf 0 471px,#3bf 0 474px,#5de 0 475px,#4cf 0 478px,#5de 0 481px,#4cf 0 482px,#3bf 0 485px,#5de 0 488px,#2bf 0 490px,#5de 0 491px,#6ee 0 493px,#6ed 0 496px,#5cf 0 498px,#6de 0 499px,#4cf 0 500px,#5de 0 502px,#6ee 0 504px,#3bf 0 506px,#6de 0 507px,#4cf 0 509px,#3bf 0 510px,#5de 0 514px,#6de 0 519px,#6ed 0 520px,#4cf 0 522px,#6de 0 524px,#4cf 0 526px,#5cf 0 528px,#6ee 0 530px,#6de 0 533px,#19f 0 535px,#5cf 0 538px,#5de 0 540px,#4cf 0 541px,#3bf 0 542px,#6ed 0 544px,#6de 0 551px,#5de 0 554px,#6de 0 561px,#5de 0 564px,#6ed 0 567px,#3bf 0 569px,#6ed 0 574px,#5de 0 576px,#2bf 0 578px,#5de 0 583px,#6de 0 584px,#5de 0 587px,#6ed 0 588px,#5de 0 589px,#6ed 0 591px,#4cf 0 593px,#7ed 0 595px,#4cf 0 598px,#6de 0 600px,#7ed 0 603px,#4cf 0 604px,#6de 0 606px,#5cf 0 608px,#7ed 0 611px,#5de 0 612px,#7ec 0 617px,#5de 0 619px,#6de 0 620px,#7ec 0 622px,#6de 0 625px,#7ec 0 628px,#6ee 0 630px,#8ea 0 631px,#5de 0 633px,#3bf 0 635px,#7ed 0 639px,#3bf 0 641px,#4cf 0 643px,#7ec 0 647px,#6ed 0 649px,#7ec 0 652px,#4cf 0 653px,#7ec 0 655px,#6de 0 656px,#5cf 0 657px,#6ed 0 659px,#8eb 0 661px,#6de 0 663px,#6ed 0 664px,#7eb 0 667px,#6ed 0 669px,#7ec 0 672px,#8ea 0 673px,#8eb 0 678px,#5de 0 680px,#6de 0 683px,#7ed 0 685px,#7ec 0 687px,#6ed 0 689px,#6de 0 691px,#7ec 0 694px,#6ee 0 695px,#7ec 0 696px,#6de 0 699px,#7ec 0 701px,#4cf 0 702px,#5de 0 705px,#7ec 0 706px,#8eb 0 709px,#6ed 0 711px,#7ed 0 713px,#9ea 0 715px,#6ed 0 716px,#5df 0 719px,#8eb 0 721px,#7ec 0 722px,#7ed 0 724px,#8ea 0 727px,#7eb 0 730px,#9ea 0 731px,#6de 0 733px,#6ed 0 734px,#5de 0 736px,#7eb 0 739px,#7ec 0 742px,#8eb 0 744px,#7ec 0 747px,#6ed 0 749px,#9ea 0 751px,#6de 0 752px,#7ec 0 754px,#8eb 0 755px,#7ec 0 757px,#7ed 0 758px,#5de 0 761px,#9ea 0 765px,#7ec 0 766px,#8ea 0 769px,#8eb 0 771px,#9ea 0 774px,#8ea 0 777px,#9ea 0 780px,#7eb 0 783px,#7ec 0 787px,#6ed 0 789px,#8eb 0 793px,#7ed 0 797px,#8eb 0 805px,#aea 0 807px,#7ed 0 810px,#aea 0 812px,#8eb 0 817px,#9ea 0 823px,#bfa 0 827px,#aea 0 830px,#7eb 0 834px,#cf9 0 840px,#8eb 0 844px,#de8 0 846px,#df9 0 849px,#afa 0 853px,#aea 0 861px,#8eb 0 867px,#bfa 0 869px,#bfa 869px,#cfa 876px,#8ea 882px,#aea 891px,#9ea 897px,#aea 905px,#8eb 915px,#cf9 920px,#afa 929px,#8ea 936px,#cfa 947px,#cf9 958px,#cf9 964px,#9ea 974px,#8eb 982px,#bfa 992px,#cfa 1003px,#ee7 1017px,#de8 1026px,#cfa 1036px,#bfa 1047px,#de8 1060px,#de8 1075px,#cfa 1084px,#cfa 1099px,#ee7 1114px,#de8 1131px,#cf9 1149px,#cbfea2 1154px,#acf5a8 1180px,#9bf0ab 1194px,#8aecae 1202px,#7cebc8 1216px,#73ebd4 1224px,#6aebe1 1232px,#61e1f0 1248px,#44caff 1264px,#61e1f0 1304px,#52d6f8 1344px,#4dd1fa 1384px,#47ccfd 1414px)"></div><div style="left:2722.8px;width:39.4px;background:linear-gradient(#0a0079 104px,#107 0 174px,#208 0 177px,#209 0 180px,#107 0 183px,#10b 0 186px,#209 0 189px,#107 0 193px,#10b 0 195px,#107 0 197px,#20a 0 199px,#107 0 202px,#10b 0 208px,#20a 0 209px,#209 0 211px,#20a 0 213px,#209 0 216px,#01c 0 217px,#10b 0 220px,#01c 0 222px,#107 0 224px,#209 0 226px,#01c 0 229px,#02d 0 235px,#01c 0 237px,#107 0 239px,#03d 0 240px,#00b 0 242px,#02d 0 243px,#01c 0 244px,#02d 0 251px,#10b 0 254px,#15e 0 255px,#01c 0 258px,#02d 0 260px,#15e 0 267px,#10a 0 269px,#02d 0 271px,#15e 0 272px,#02d 0 274px,#00b 0 276px,#14e 0 279px,#16e 0 280px,#02d 0 282px,#17e 0 283px,#01c 0 285px,#19f 0 287px,#02d 0 289px,#17e 0 290px,#14e 0 291px,#18f 0 294px,#17e 0 296px,#16e 0 298px,#17e 0 301px,#02d 0 302px,#17f 0 305px,#18f 0 307px,#16e 0 309px,#17f 0 312px,#17e 0 314px,#1af 0 315px,#2bf 0 318px,#14e 0 320px,#03d 0 321px,#17e 0 328px,#17f 0 330px,#19f 0 333px,#14d 0 335px,#2bf 0 336px,#3bf 0 339px,#2af 0 341px,#2bf 0 343px,#4cf 0 345px,#3bf 0 347px,#19f 0 350px,#4cf 0 351px,#3bf 0 352px,#2af 0 354px,#3cf 0 356px,#3bf 0 363px,#4cf 0 365px,#19f 0 367px,#3bf 0 370px,#5cf 0 372px,#3bf 0 373px,#4cf 0 375px,#2bf 0 377px,#1af 0 379px,#18f 0 382px,#2af 0 385px,#4cf 0 387px,#3bf 0 389px,#2af 0 392px,#4cf 0 394px,#3bf 0 395px,#5df 0 398px,#5cf 0 401px,#18f 0 403px,#4cf 0 405px,#18f 0 407px,#4cf 0 408px,#6de 0 410px,#4cf 0 415px,#2bf 0 417px,#3bf 0 419px,#5df 0 421px,#5cf 0 424px,#4cf 0 426px,#1af 0 429px,#5cf 0 430px,#6de 0 433px,#5cf 0 435px,#2af 0 438px,#2bf 0 440px,#6de 0 442px,#5de 0 444px,#4cf 0 446px,#6de 0 447px,#4cf 0 449px,#3bf 0 452px,#6de 0 455px,#6ee 0 457px,#4cf 0 458px,#5de 0 461px,#2bf 0 463px,#6de 0 465px,#4cf 0 467px,#3bf 0 470px,#4cf 0 471px,#5de 0 472px,#5cf 0 474px,#5df 0 475px,#6de 0 476px,#19f 0 479px,#5df 0 480px,#3cf 0 483px,#6de 0 488px,#4cf 0 489px,#3cf 0 491px,#4cf 0 499px,#3bf 0 501px,#3cf 0 502px,#2bf 0 504px,#4cf 0 507px,#6ee 0 509px,#5de 0 511px,#2bf 0 513px,#5de 0 515px,#6ed 0 516px,#2bf 0 518px,#5cf 0 521px,#6ed 0 523px,#6ee 0 524px,#6de 0 526px,#5df 0 529px,#3bf 0 530px,#6de 0 535px,#3bf 0 537px,#2bf 0 538px,#6de 0 540px,#5df 0 542px,#6ee 0 546px,#6de 0 548px,#4cf 0 549px,#6ee 0 551px,#2bf 0 553px,#6ee 0 555px,#3bf 0 558px,#6ed 0 560px,#7ec 0 562px,#7ed 0 564px,#3bf 0 568px,#5cf 0 569px,#4cf 0 571px,#7ed 0 572px,#6ee 0 574px,#6ed 0 579px,#7ec 0 580px,#6de 0 585px,#4cf 0 587px,#6ed 0 595px,#3bf 0 599px,#6ed 0 605px,#6de 0 607px,#6ed 0 608px,#5de 0 610px,#7ec 0 612px,#7ed 0 615px,#6ed 0 617px,#7ed 0 619px,#4cf 0 623px,#6de 0 627px,#6ed 0 630px,#7ed 0 631px,#5df 0 634px,#7ed 0 637px,#3bf 0 639px,#6de 0 642px,#7ec 0 644px,#7ed 0 647px,#7ec 0 653px,#6de 0 656px,#6ed 0 657px,#7ec 0 663px,#6ed 0 664px,#8eb 0 665px,#7ed 0 667px,#6ed 0 668px,#3bf 0 670px,#5de 0 672px,#7eb 0 674px,#8eb 0 675px,#6ed 0 677px,#8ea 0 678px,#7ec 0 682px,#4cf 0 684px,#7ec 0 686px,#5de 0 688px,#7ec 0 690px,#3bf 0 691px,#7ed 0 693px,#7ec 0 694px,#6ee 0 695px,#7ec 0 705px,#6de 0 708px,#8eb 0 713px,#7ed 0 714px,#7ec 0 716px,#6ed 0 718px,#5de 0 720px,#8eb 0 722px,#6ed 0 724px,#8eb 0 728px,#4cf 0 730px,#6de 0 731px,#7ec 0 733px,#6ed 0 735px,#6ee 0 737px,#9ea 0 741px,#6ed 0 743px,#6de 0 746px,#7ec 0 748px,#6de 0 750px,#8eb 0 752px,#6de 0 754px,#8eb 0 755px,#6de 0 757px,#9ea 0 760px,#7ec 0 762px,#8eb 0 766px,#7ed 0 770px,#8ea 0 776px,#6ed 0 780px,#8eb 0 781px,#8ea 0 783px,#7ed 0 785px,#8eb 0 788px,#9ea 0 792px,#7ec 0 794px,#aea 0 797px,#9ea 0 800px,#8eb 0 805px,#9ea 0 810px,#bfa 0 813px,#8eb 0 817px,#aea 0 822px,#bfa 0 831px,#8eb 0 834px,#aea 0 840px,#df9 0 842px,#cf9 0 846px,#8ea 0 849px,#aea 0 854px,#df9 0 860px,#bfa 0 866px,#8ea 0 869px,#df9 869px,#cf9 875px,#cf9 881px,#cfa 886px,#cfa 893px,#8ea 898px,#9ea 903px,#7eb 911px,#afa 919px,#9ea 927px,#8eb 936px,#aea 945px,#cf9 955px,#de8 966px,#cfa 977px,#ee8 989px,#cf9 1003px,#ee7 1016px,#ee7 1023px,#9ea 1031px,#de8 1046px,#cf9 1058px,#ee8 1068px,#de8 1082px,#ee8 1098px,#df9 1117px,#cf9 1136px,#aea 1151px,#a5f3a9 1154px,#8aecae 1168px,#7cebc8 1185px,#73ebd4 1194px,#7cebc8 1209px,#83ecbb 1224px,#7cebc8 1264px,#6aebe1 1284px,#61e1f0 1304px,#44caff 1344px,#44caff 1384px,#40c8ff 1414px)"></div><div style="left:2762.2px;width:39.4px;background:linear-gradient(#0a0079 104px,#107 0 182px,#108 0 184px,#107 0 185px,#209 0 186px,#107 0 189px,#20a 0 194px,#107 0 195px,#20a 0 196px,#209 0 206px,#20a 0 209px,#01c 0 211px,#209 0 214px,#107 0 215px,#10b 0 217px,#20a 0 219px,#10b 0 220px,#107 0 221px,#01c 0 223px,#209 0 224px,#20a 0 226px,#01c 0 229px,#02d 0 231px,#01c 0 236px,#02d 0 237px,#01c 0 239px,#02c 0 241px,#01c 0 246px,#03d 0 247px,#02d 0 249px,#03d 0 250px,#10b 0 253px,#02d 0 255px,#10a 0 256px,#02d 0 260px,#14e 0 261px,#02d 0 262px,#01c 0 269px,#15e 0 272px,#02d 0 275px,#03d 0 277px,#02d 0 281px,#15e 0 283px,#02d 0 285px,#15e 0 288px,#16e 0 291px,#14e 0 292px,#02d 0 294px,#19f 0 295px,#16e 0 298px,#17e 0 299px,#14e 0 302px,#19f 0 305px,#1af 0 306px,#17e 0 308px,#15e 0 311px,#16e 0 313px,#19f 0 316px,#02d 0 322px,#17e 0 323px,#2bf 0 325px,#2af 0 326px,#18f 0 328px,#2bf 0 330px,#16e 0 331px,#19f 0 335px,#1af 0 336px,#2af 0 338px,#1af 0 339px,#19f 0 342px,#1af 0 345px,#4cf 0 347px,#3bf 0 349px,#18f 0 352px,#2bf 0 355px,#14e 0 357px,#3bf 0 359px,#2bf 0 362px,#19f 0 364px,#5cf 0 367px,#4cf 0 368px,#1af 0 369px,#3bf 0 371px,#4cf 0 373px,#2af 0 375px,#4cf 0 376px,#2af 0 379px,#4cf 0 383px,#3bf 0 384px,#4cf 0 387px,#3bf 0 388px,#5cf 0 390px,#4cf 0 391px,#2bf 0 394px,#4cf 0 395px,#3bf 0 402px,#5de 0 404px,#3bf 0 409px,#2bf 0 412px,#4cf 0 424px,#5df 0 426px,#5cf 0 430px,#4cf 0 433px,#5cf 0 435px,#18f 0 437px,#1af 0 440px,#4cf 0 443px,#6ed 0 444px,#6de 0 447px,#4cf 0 453px,#5df 0 455px,#2bf 0 458px,#4cf 0 461px,#6de 0 466px,#5de 0 467px,#6de 0 470px,#2af 0 471px,#2bf 0 474px,#5df 0 475px,#3cf 0 477px,#5df 0 479px,#4cf 0 481px,#18f 0 483px,#2bf 0 485px,#3cf 0 487px,#5de 0 489px,#3bf 0 490px,#6ee 0 492px,#6de 0 494px,#4cf 0 497px,#6de 0 503px,#3bf 0 505px,#4cf 0 508px,#5de 0 510px,#2bf 0 512px,#5df 0 513px,#6ee 0 516px,#5cf 0 517px,#4cf 0 519px,#5df 0 521px,#6de 0 522px,#2bf 0 524px,#3bf 0 526px,#6de 0 528px,#18f 0 531px,#6de 0 532px,#4cf 0 535px,#6de 0 537px,#3bf 0 539px,#2bf 0 543px,#5df 0 545px,#3bf 0 547px,#5cf 0 549px,#6de 0 551px,#4cf 0 556px,#5de 0 558px,#6ed 0 561px,#2bf 0 563px,#6de 0 566px,#4cf 0 573px,#6ed 0 575px,#4cf 0 576px,#6de 0 578px,#4cf 0 582px,#6de 0 585px,#4cf 0 588px,#6ed 0 591px,#6de 0 595px,#6ed 0 597px,#6de 0 599px,#4cf 0 605px,#5de 0 606px,#5cf 0 608px,#6ee 0 610px,#6de 0 613px,#5df 0 615px,#6de 0 617px,#6ed 0 621px,#4cf 0 623px,#7ed 0 625px,#5de 0 627px,#6ee 0 630px,#5de 0 632px,#4cf 0 634px,#7ec 0 635px,#6de 0 638px,#5df 0 639px,#3bf 0 641px,#6ee 0 644px,#5de 0 647px,#7ec 0 649px,#3bf 0 652px,#5cf 0 654px,#6ed 0 655px,#4cf 0 657px,#7ec 0 659px,#6de 0 662px,#7ec 0 666px,#7ed 0 669px,#6ed 0 670px,#4cf 0 672px,#6de 0 674px,#6ed 0 677px,#7ec 0 679px,#6ed 0 680px,#7ec 0 683px,#6ed 0 684px,#6de 0 686px,#3bf 0 688px,#4cf 0 690px,#6ee 0 692px,#7ed 0 695px,#4cf 0 696px,#6ed 0 698px,#6de 0 700px,#7ed 0 704px,#5df 0 705px,#6ed 0 707px,#6ee 0 709px,#6ed 0 710px,#5cf 0 712px,#7ec 0 714px,#6ed 0 719px,#7ec 0 725px,#6ed 0 728px,#7ec 0 730px,#5cf 0 733px,#7ed 0 734px,#7ec 0 742px,#5de 0 744px,#7ec 0 746px,#9ea 0 749px,#5de 0 750px,#7eb 0 754px,#6ed 0 756px,#8eb 0 759px,#6ee 0 762px,#8eb 0 766px,#9ea 0 768px,#4cf 0 771px,#7ed 0 773px,#8eb 0 776px,#7ec 0 777px,#8eb 0 781px,#7ec 0 787px,#8eb 0 794px,#6ed 0 799px,#7ec 0 803px,#8ea 0 806px,#6ed 0 810px,#aea 0 819px,#8ea 0 821px,#8eb 0 826px,#de8 0 828px,#9ea 0 833px,#bfa 0 842px,#aea 0 847px,#df9 0 850px,#cfa 0 854px,#aea 0 859px,#cf9 0 864px,#8eb 0 867px,#afa 0 869px,#cfa 869px,#9ea 877px,#8eb 884px,#afa 889px,#aea 897px,#aea 905px,#aea 914px,#bfa 919px,#9ea 926px,#aea 932px,#cf9 941px,#cfa 949px,#bfa 960px,#ee8 971px,#df9 982px,#de8 993px,#cfa 1001px,#df9 1014px,#de8 1029px,#ee8 1039px,#de8 1056px,#de8 1071px,#df8 1085px,#bfa 1104px,#9ea 1115px,#9ea 1132px,#8ea 1148px,#8cedae 1154px,#8aecae 1159px,#83ecbb 1194px,#8aecae 1224px,#7cebc8 1237px,#6aebe1 1251px,#61e1f0 1264px,#44caff 1291px,#3bc4ff 1304px,#44caff 1344px,#52d6f8 1384px,#4dd1fa 1414px)"></div><div style="left:2801.6px;width:39.4px;background:linear-gradient(#0a0079 104px,#107 0 183px,#108 0 184px,#107 0 203px,#209 0 205px,#20a 0 207px,#107 0 213px,#10a 0 215px,#209 0 220px,#107 0 222px,#10a 0 224px,#20a 0 226px,#10a 0 228px,#107 0 229px,#01c 0 231px,#10a 0 237px,#01c 0 238px,#02d 0 240px,#01b 0 242px,#01c 0 247px,#209 0 248px,#20a 0 250px,#01c 0 256px,#10b 0 257px,#20a 0 258px,#02d 0 261px,#01c 0 263px,#02d 0 270px,#01c 0 273px,#02d 0 277px,#01c 0 278px,#03d 0 279px,#15e 0 281px,#02d 0 283px,#01c 0 288px,#14e 0 290px,#03d 0 292px,#17e 0 297px,#02d 0 299px,#17e 0 302px,#01c 0 304px,#03d 0 305px,#01c 0 307px,#15e 0 310px,#02d 0 315px,#03d 0 316px,#02d 0 318px,#01c 0 319px,#02d 0 320px,#18f 0 323px,#19f 0 327px,#17f 0 328px,#18f 0 332px,#19f 0 334px,#16e 0 336px,#2bf 0 337px,#18f 0 338px,#1af 0 340px,#19f 0 341px,#2bf 0 343px,#18f 0 345px,#19f 0 346px,#2bf 0 350px,#19f 0 352px,#2bf 0 354px,#02d 0 356px,#3bf 0 362px,#2bf 0 366px,#15e 0 368px,#19f 0 371px,#18f 0 374px,#2bf 0 379px,#4cf 0 381px,#3bf 0 385px,#5cf 0 387px,#3bf 0 389px,#4cf 0 392px,#2bf 0 394px,#3bf 0 396px,#2bf 0 398px,#3bf 0 405px,#4cf 0 410px,#5de 0 412px,#5cf 0 415px,#3cf 0 417px,#18f 0 418px,#4cf 0 420px,#1af 0 421px,#3bf 0 423px,#5de 0 426px,#2bf 0 428px,#3cf 0 431px,#5cf 0 433px,#5de 0 436px,#6ee 0 438px,#5de 0 440px,#6de 0 441px,#4cf 0 444px,#5cf 0 446px,#2bf 0 448px,#4cf 0 450px,#2bf 0 453px,#4cf 0 454px,#5cf 0 457px,#17f 0 460px,#5de 0 462px,#3bf 0 464px,#4cf 0 468px,#2bf 0 470px,#5de 0 472px,#4cf 0 479px,#3bf 0 480px,#2af 0 482px,#6de 0 484px,#3bf 0 485px,#6ee 0 486px,#5df 0 488px,#6ee 0 491px,#5de 0 493px,#19f 0 495px,#3bf 0 496px,#1af 0 498px,#4cf 0 502px,#5de 0 505px,#5df 0 507px,#6de 0 508px,#4cf 0 509px,#19f 0 512px,#3cf 0 514px,#5de 0 517px,#6de 0 519px,#3bf 0 522px,#4cf 0 523px,#3cf 0 525px,#4cf 0 527px,#6de 0 529px,#4cf 0 531px,#5de 0 534px,#3bf 0 536px,#4cf 0 538px,#5cf 0 540px,#6de 0 542px,#4cf 0 544px,#3bf 0 547px,#4cf 0 550px,#6de 0 552px,#5df 0 555px,#19f 0 556px,#5cf 0 559px,#1af 0 561px,#4cf 0 562px,#5de 0 564px,#6de 0 566px,#6ee 0 568px,#5cf 0 569px,#5de 0 572px,#6de 0 575px,#5cf 0 578px,#5de 0 579px,#6ee 0 582px,#5df 0 585px,#6ed 0 586px,#6de 0 592px,#4cf 0 594px,#6de 0 596px,#4cf 0 597px,#5de 0 600px,#4cf 0 602px,#3bf 0 605px,#4cf 0 607px,#6de 0 608px,#4cf 0 610px,#2bf 0 613px,#4cf 0 618px,#6ed 0 620px,#7ec 0 622px,#2bf 0 624px,#5df 0 626px,#6de 0 627px,#7ec 0 631px,#6ed 0 632px,#5cf 0 634px,#6ee 0 637px,#7ec 0 639px,#6de 0 641px,#3cf 0 643px,#7ec 0 645px,#3bf 0 648px,#4cf 0 649px,#7ed 0 650px,#6ee 0 654px,#7ec 0 656px,#7ed 0 657px,#6ed 0 658px,#6de 0 661px,#6ee 0 663px,#2bf 0 664px,#6de 0 669px,#4cf 0 671px,#6ed 0 675px,#7ed 0 677px,#2bf 0 679px,#7ec 0 681px,#2bf 0 682px,#7ec 0 684px,#7ed 0 686px,#4cf 0 687px,#6de 0 689px,#6ed 0 691px,#7ec 0 694px,#6ed 0 697px,#6de 0 701px,#2bf 0 703px,#7ed 0 706px,#6ed 0 710px,#7ed 0 712px,#6de 0 714px,#6ed 0 715px,#7ec 0 717px,#6ed 0 718px,#8eb 0 721px,#6ed 0 724px,#7ec 0 726px,#8eb 0 728px,#7ed 0 730px,#6ee 0 734px,#6ed 0 741px,#7ed 0 744px,#7ec 0 748px,#6ee 0 751px,#7ec 0 757px,#8eb 0 760px,#6ed 0 762px,#7ec 0 766px,#6de 0 769px,#6ed 0 770px,#7ec 0 776px,#6ed 0 777px,#8ea 0 778px,#8eb 0 782px,#8ea 0 786px,#6ed 0 791px,#9ea 0 794px,#8eb 0 799px,#6ed 0 801px,#9ea 0 808px,#8eb 0 812px,#bfa 0 816px,#8ea 0 820px,#7ed 0 825px,#bfa 0 830px,#8eb 0 835px,#bfa 0 840px,#cfa 0 844px,#cf9 0 849px,#df9 0 853px,#8eb 0 855px,#bfa 0 859px,#cf9 0 863px,#8ea 0 867px,#9ea 0 869px,#7ec 869px,#bfa 877px,#bfa 881px,#bfa 889px,#aea 896px,#8ea 906px,#8ea 912px,#7ec 921px,#8eb 926px,#cf9 935px,#aea 942px,#aea 948px,#bfa 959px,#bfa 967px,#bfa 979px,#bfa 986px,#de8 998px,#cfa 1012px,#bfa 1024px,#cfa 1034px,#cf9 1045px,#de8 1060px,#cf9 1077px,#cfa 1095px,#afa 1110px,#bfa 1120px,#8ea 1135px,#8eb 1149px,#82ebbd 1154px,#7cebc8 1166px,#6aebe1 1194px,#6aebe1 1224px,#61e1f0 1251px,#52d6f8 1264px,#44caff 1277px,#32beff 1304px,#19afff 1317px,#0d81f8 1331px,#1a66f0 1344px,#0d47e8 1384px,#083be5 1414px)"></div><div style="left:2840.9px;width:39.4px;background:linear-gradient(#0a0079 104px,#107 0 178px,#209 0 180px,#107 0 183px,#208 0 186px,#107 0 188px,#209 0 193px,#107 0 201px,#208 0 204px,#00b 0 206px,#107 0 208px,#10a 0 211px,#208 0 213px,#209 0 215px,#01c 0 217px,#10b 0 220px,#209 0 222px,#108 0 224px,#00b 0 225px,#10b 0 228px,#20a 0 230px,#01c 0 241px,#20a 0 244px,#02d 0 246px,#20a 0 247px,#01c 0 250px,#02d 0 252px,#01c 0 255px,#02d 0 258px,#10a 0 261px,#03d 0 263px,#14e 0 265px,#02d 0 268px,#03d 0 272px,#15e 0 274px,#01c 0 279px,#14d 0 281px,#14e 0 283px,#02d 0 285px,#10b 0 287px,#03d 0 291px,#26e 0 292px,#15e 0 294px,#16e 0 296px,#18f 0 301px,#26e 0 302px,#19f 0 304px,#18f 0 306px,#1af 0 308px,#17e 0 311px,#14e 0 313px,#15e 0 316px,#1af 0 318px,#2af 0 320px,#1af 0 321px,#19f 0 322px,#18f 0 324px,#17f 0 325px,#1af 0 327px,#17e 0 329px,#1af 0 334px,#17e 0 339px,#2bf 0 340px,#4cf 0 341px,#1af 0 346px,#2bf 0 351px,#4cf 0 353px,#19f 0 356px,#3bf 0 370px,#2af 0 373px,#3bf 0 374px,#4cf 0 377px,#17f 0 379px,#3bf 0 383px,#19f 0 386px,#2af 0 389px,#2bf 0 392px,#17e 0 393px,#4cf 0 396px,#2bf 0 398px,#4cf 0 400px,#5df 0 402px,#17e 0 403px,#2bf 0 406px,#4cf 0 407px,#5df 0 409px,#19f 0 412px,#3cf 0 415px,#4cf 0 416px,#2bf 0 419px,#4cf 0 420px,#5de 0 421px,#19f 0 424px,#4cf 0 430px,#5df 0 432px,#3bf 0 436px,#17e 0 438px,#3bf 0 440px,#5df 0 442px,#4cf 0 443px,#6de 0 445px,#5cf 0 447px,#4cf 0 453px,#3bf 0 454px,#4cf 0 457px,#5df 0 460px,#5de 0 462px,#2bf 0 463px,#5de 0 465px,#6de 0 469px,#5de 0 471px,#4cf 0 473px,#6de 0 475px,#2bf 0 479px,#5de 0 481px,#3bf 0 482px,#2bf 0 485px,#3bf 0 486px,#5de 0 491px,#3bf 0 492px,#2af 0 495px,#6de 0 502px,#4cf 0 503px,#5df 0 505px,#5de 0 508px,#6ee 0 512px,#4cf 0 514px,#5de 0 516px,#2bf 0 517px,#4cf 0 519px,#3bf 0 523px,#5de 0 524px,#1af 0 526px,#4cf 0 530px,#5de 0 532px,#6de 0 535px,#6ee 0 538px,#5de 0 541px,#4cf 0 543px,#3bf 0 546px,#5cf 0 548px,#5de 0 551px,#6de 0 553px,#5de 0 554px,#3bf 0 557px,#5de 0 559px,#6de 0 561px,#4cf 0 563px,#2bf 0 564px,#5de 0 567px,#6de 0 569px,#5cf 0 571px,#5de 0 574px,#4cf 0 575px,#6de 0 577px,#4cf 0 579px,#6ee 0 580px,#7ed 0 582px,#6de 0 585px,#4cf 0 586px,#5df 0 588px,#6ee 0 590px,#6de 0 592px,#6ed 0 594px,#6ee 0 595px,#3cf 0 597px,#5df 0 600px,#6ed 0 602px,#4cf 0 605px,#5cf 0 606px,#6ed 0 608px,#5cf 0 611px,#3bf 0 614px,#4cf 0 615px,#1af 0 618px,#4cf 0 620px,#7ec 0 622px,#6ee 0 624px,#7ec 0 627px,#6ee 0 630px,#5de 0 631px,#2bf 0 634px,#6de 0 636px,#7ec 0 638px,#6ed 0 641px,#6de 0 643px,#7ed 0 644px,#6ed 0 647px,#5de 0 649px,#5cf 0 651px,#7ec 0 653px,#6de 0 654px,#5de 0 657px,#7ec 0 658px,#4cf 0 661px,#7ec 0 662px,#6ed 0 666px,#6de 0 669px,#7ed 0 671px,#6ed 0 674px,#6ee 0 676px,#7ec 0 678px,#4cf 0 683px,#3bf 0 686px,#7ec 0 688px,#6ed 0 690px,#7ec 0 693px,#4cf 0 694px,#7ed 0 698px,#4cf 0 701px,#6ed 0 704px,#5de 0 705px,#7ec 0 707px,#8eb 0 710px,#6de 0 715px,#7ec 0 719px,#6de 0 721px,#7ec 0 722px,#6de 0 728px,#7ec 0 733px,#8eb 0 736px,#6ee 0 738px,#6ed 0 741px,#8eb 0 743px,#7ec 0 747px,#5de 0 751px,#7ec 0 753px,#8ea 0 759px,#6ee 0 761px,#8eb 0 763px,#7ec 0 766px,#8eb 0 776px,#7eb 0 780px,#9ea 0 782px,#7ec 0 785px,#6ed 0 789px,#8eb 0 792px,#8ea 0 795px,#8eb 0 803px,#8ea 0 807px,#aea 0 809px,#9ea 0 812px,#7ed 0 814px,#bfa 0 817px,#aea 0 822px,#7ec 0 830px,#aea 0 835px,#9ea 0 838px,#cf9 0 844px,#df9 0 852px,#bfa 0 860px,#cfa 0 864px,#cf9 0 869px,#aea 0 869px,#afa 869px,#cfa 875px,#bfa 879px,#9ea 885px,#8eb 892px,#8eb 899px,#bfa 906px,#7ec 914px,#aea 922px,#aea 931px,#8eb 940px,#afa 947px,#aea 958px,#9ea 968px,#aea 978px,#aea 984px,#8ea 993px,#cfa 1002px,#8eb 1017px,#df9 1024px,#df9 1039px,#cfa 1049px,#df8 1063px,#ee8 1079px,#bfa 1091px,#cfa 1106px,#cfa 1116px,#cfa 1136px,#aea 1150px,#b1f6a7 1154px,#acf5a8 1159px,#8aecae 1194px,#7cebc8 1209px,#6aebe1 1224px,#61e1f0 1244px,#44caff 1264px,#32beff 1304px,#19afff 1324px,#0d81f8 1344px,#1a66f0 1360px,#0028e0 1376px,#0020da 1384px,#001dd8 1414px)"></div><div style="left:2880.3px;width:39.4px;background:linear-gradient(#0a0079 104px,#107 0 182px,#209 0 184px,#107 0 192px,#208 0 194px,#209 0 195px,#107 0 198px,#108 0 199px,#10b 0 201px,#20a 0 204px,#10a 0 209px,#10b 0 211px,#01c 0 213px,#108 0 214px,#01c 0 217px,#208 0 218px,#01c 0 221px,#209 0 222px,#10b 0 223px,#01b 0 224px,#00b 0 226px,#208 0 227px,#01c 0 233px,#108 0 235px,#01c 0 236px,#10b 0 237px,#01c 0 240px,#02d 0 242px,#01c 0 243px,#01b 0 246px,#01c 0 249px,#02d 0 251px,#03d 0 254px,#02d 0 261px,#03d 0 263px,#01c 0 265px,#02d 0 268px,#01c 0 271px,#03d 0 274px,#16e 0 277px,#14e 0 282px,#16e 0 283px,#02d 0 288px,#16e 0 290px,#02d 0 292px,#14e 0 294px,#16e 0 297px,#01c 0 299px,#16e 0 303px,#19f 0 306px,#16e 0 308px,#17e 0 311px,#16e 0 313px,#02d 0 316px,#26e 0 319px,#17e 0 320px,#17f 0 322px,#18f 0 325px,#17e 0 326px,#2bf 0 331px,#14e 0 332px,#1af 0 334px,#18f 0 335px,#2af 0 337px,#3bf 0 338px,#1af 0 339px,#16e 0 341px,#2bf 0 344px,#16e 0 345px,#2bf 0 346px,#2af 0 354px,#2bf 0 356px,#19f 0 357px,#2bf 0 358px,#3bf 0 363px,#1af 0 365px,#2bf 0 367px,#3bf 0 370px,#2af 0 372px,#3bf 0 373px,#19f 0 376px,#4cf 0 378px,#19f 0 379px,#1af 0 382px,#3bf 0 386px,#2af 0 388px,#3bf 0 390px,#4cf 0 392px,#3bf 0 394px,#2bf 0 395px,#3bf 0 397px,#2bf 0 399px,#6de 0 400px,#2bf 0 402px,#5de 0 405px,#4cf 0 413px,#6de 0 414px,#18f 0 416px,#17e 0 418px,#2bf 0 420px,#3bf 0 422px,#3cf 0 424px,#3bf 0 425px,#5cf 0 428px,#4cf 0 431px,#3bf 0 434px,#2bf 0 435px,#4cf 0 437px,#2af 0 438px,#4cf 0 441px,#1af 0 443px,#18f 0 445px,#3bf 0 447px,#5cf 0 449px,#2af 0 450px,#3bf 0 452px,#4cf 0 454px,#3bf 0 455px,#6de 0 457px,#3bf 0 462px,#2af 0 464px,#4cf 0 466px,#6ee 0 469px,#5cf 0 470px,#4cf 0 472px,#6de 0 474px,#4cf 0 478px,#3bf 0 482px,#2bf 0 484px,#6de 0 487px,#5cf 0 489px,#4cf 0 492px,#3bf 0 493px,#5de 0 494px,#2af 0 497px,#5df 0 498px,#2af 0 500px,#3bf 0 504px,#6de 0 506px,#1af 0 508px,#6de 0 509px,#4cf 0 512px,#6ee 0 514px,#2af 0 515px,#6de 0 517px,#3bf 0 520px,#5de 0 522px,#4cf 0 528px,#3bf 0 530px,#4cf 0 532px,#6de 0 534px,#1af 0 537px,#4cf 0 539px,#2af 0 540px,#2bf 0 543px,#18f 0 546px,#6de 0 551px,#19f 0 553px,#4cf 0 555px,#6de 0 556px,#2af 0 559px,#5de 0 560px,#6ed 0 561px,#4cf 0 563px,#3bf 0 565px,#6ed 0 567px,#3bf 0 569px,#4cf 0 572px,#6de 0 575px,#5de 0 576px,#4cf 0 580px,#6ee 0 583px,#6de 0 587px,#6ed 0 589px,#6de 0 591px,#5df 0 593px,#6ed 0 597px,#6de 0 601px,#4cf 0 604px,#6ed 0 605px,#5de 0 606px,#5cf 0 608px,#4cf 0 611px,#3bf 0 613px,#6de 0 614px,#6ed 0 617px,#6de 0 620px,#4cf 0 622px,#6de 0 624px,#6ed 0 629px,#5df 0 631px,#7ed 0 633px,#6ee 0 634px,#4cf 0 636px,#6de 0 638px,#6ed 0 640px,#7ed 0 642px,#5cf 0 645px,#6de 0 647px,#4cf 0 650px,#6de 0 651px,#7ed 0 653px,#4cf 0 656px,#6ed 0 658px,#6de 0 662px,#7ed 0 665px,#6ee 0 666px,#3cf 0 669px,#6ee 0 671px,#6ed 0 673px,#6de 0 677px,#6ed 0 678px,#7ec 0 680px,#6ee 0 683px,#6ed 0 684px,#7ed 0 685px,#7ec 0 688px,#6de 0 691px,#6ed 0 693px,#7ed 0 695px,#5de 0 697px,#5cf 0 698px,#7ec 0 699px,#5de 0 702px,#6ed 0 704px,#6ee 0 705px,#8eb 0 707px,#6ed 0 710px,#6de 0 711px,#8eb 0 713px,#7ec 0 716px,#5de 0 718px,#8eb 0 720px,#7ec 0 725px,#6de 0 727px,#5cf 0 730px,#7ec 0 732px,#8eb 0 733px,#6ee 0 737px,#5de 0 740px,#7ec 0 749px,#8eb 0 752px,#6ee 0 755px,#7ed 0 759px,#6ed 0 760px,#7eb 0 762px,#7ec 0 766px,#8eb 0 767px,#6ed 0 771px,#7ec 0 777px,#8eb 0 779px,#7ec 0 781px,#6ed 0 784px,#7ec 0 785px,#8eb 0 789px,#8ea 0 791px,#9ea 0 794px,#7eb 0 797px,#7ed 0 800px,#9ea 0 804px,#8eb 0 806px,#9ea 0 810px,#aea 0 813px,#9ea 0 816px,#8eb 0 819px,#6ed 0 821px,#bfa 0 824px,#7ec 0 828px,#8ea 0 833px,#9ea 0 835px,#bfa 0 840px,#7ec 0 845px,#8eb 0 850px,#9ea 0 853px,#aea 0 859px,#cfa 0 863px,#8ea 0 865px,#aea 0 869px,#6ed 869px,#7ec 873px,#aea 880px,#aea 887px,#8ea 894px,#9ea 901px,#6ed 909px,#7ec 918px,#7ec 923px,#aea 931px,#7ec 939px,#cfa 949px,#7ed 957px,#bfa 968px,#9ea 977px,#8eb 986px,#7ec 996px,#8eb 1008px,#9ea 1019px,#8eb 1027px,#bfa 1038px,#aea 1050px,#aea 1067px,#bfa 1078px,#8ea 1094px,#9ea 1105px,#aea 1121px,#7ec 1131px,#8eb 1149px,#84ecb9 1154px,#7cebc8 1194px,#73ebd4 1224px,#6aebe1 1244px,#66e6e8 1264px,#61e1f0 1284px,#52d6f8 1304px,#44caff 1344px,#44caff 1384px,#40c8ff 1414px)"></div><div style="left:2919.7px;width:39.4px;background:linear-gradient(#0a0079 104px,#107 0 182px,#208 0 184px,#209 0 188px,#107 0 190px,#20a 0 191px,#108 0 192px,#107 0 199px,#10a 0 201px,#20a 0 202px,#10b 0 204px,#209 0 206px,#10a 0 207px,#00b 0 209px,#01b 0 210px,#01c 0 215px,#208 0 217px,#107 0 219px,#01c 0 223px,#209 0 225px,#10b 0 229px,#10a 0 230px,#01c 0 232px,#209 0 234px,#10b 0 235px,#02d 0 237px,#01c 0 249px,#02d 0 251px,#01c 0 257px,#02d 0 259px,#03d 0 264px,#01c 0 267px,#02d 0 270px,#15e 0 271px,#01c 0 273px,#16e 0 275px,#01c 0 278px,#02d 0 280px,#15e 0 284px,#16e 0 286px,#15e 0 287px,#16e 0 290px,#02d 0 291px,#16e 0 295px,#18f 0 298px,#15e 0 299px,#19f 0 300px,#14e 0 302px,#19f 0 305px,#16e 0 306px,#19f 0 309px,#15e 0 312px,#19f 0 315px,#17e 0 319px,#18f 0 321px,#03d 0 322px,#14e 0 325px,#16e 0 326px,#19f 0 329px,#17e 0 331px,#1af 0 333px,#17e 0 335px,#1af 0 337px,#18f 0 338px,#3bf 0 340px,#19f 0 341px,#18f 0 343px,#2bf 0 344px,#3bf 0 349px,#2bf 0 352px,#1af 0 357px,#2bf 0 359px,#3bf 0 360px,#2af 0 362px,#3bf 0 365px,#4cf 0 368px,#1af 0 370px,#16e 0 371px,#4cf 0 373px,#5df 0 375px,#2bf 0 379px,#17e 0 381px,#4cf 0 383px,#19f 0 385px,#1af 0 386px,#18f 0 389px,#4cf 0 390px,#2bf 0 393px,#3bf 0 395px,#5cf 0 397px,#3bf 0 398px,#2bf 0 401px,#4cf 0 404px,#1af 0 406px,#3cf 0 408px,#2bf 0 410px,#4cf 0 412px,#3bf 0 414px,#2bf 0 416px,#5de 0 419px,#17e 0 420px,#4cf 0 421px,#1af 0 424px,#3bf 0 426px,#4cf 0 429px,#2af 0 431px,#5df 0 433px,#2bf 0 435px,#4cf 0 437px,#5de 0 440px,#3cf 0 442px,#4cf 0 445px,#5cf 0 446px,#17f 0 449px,#4cf 0 451px,#2bf 0 453px,#5de 0 454px,#6de 0 457px,#5de 0 461px,#4cf 0 470px,#5de 0 474px,#3cf 0 476px,#5de 0 477px,#3bf 0 479px,#18f 0 481px,#5cf 0 483px,#4cf 0 486px,#5de 0 487px,#4cf 0 490px,#2bf 0 492px,#18f 0 493px,#6de 0 495px,#3bf 0 497px,#5de 0 499px,#4cf 0 501px,#5de 0 503px,#6de 0 506px,#5de 0 508px,#4cf 0 510px,#6de 0 513px,#4cf 0 515px,#5df 0 517px,#5cf 0 520px,#5de 0 522px,#3bf 0 525px,#6ee 0 527px,#5df 0 530px,#6de 0 532px,#3cf 0 533px,#2bf 0 534px,#4cf 0 539px,#3bf 0 540px,#6ed 0 543px,#6de 0 546px,#6ed 0 548px,#4cf 0 550px,#5cf 0 551px,#5de 0 555px,#6de 0 557px,#5cf 0 560px,#3bf 0 562px,#5de 0 567px,#5cf 0 570px,#2bf 0 572px,#5cf 0 574px,#2af 0 575px,#3bf 0 576px,#4cf 0 578px,#6ed 0 581px,#4cf 0 583px,#6de 0 588px,#5cf 0 590px,#4cf 0 593px,#5de 0 594px,#2af 0 596px,#6ee 0 598px,#6ed 0 605px,#6de 0 607px,#6ed 0 609px,#6ee 0 611px,#4cf 0 616px,#3bf 0 618px,#7ed 0 621px,#4cf 0 623px,#5de 0 626px,#4cf 0 628px,#6ee 0 631px,#6ed 0 632px,#6de 0 635px,#4cf 0 639px,#3bf 0 642px,#6de 0 644px,#7ec 0 646px,#7ed 0 647px,#7ec 0 650px,#7ed 0 652px,#6de 0 654px,#6ee 0 657px,#7ec 0 658px,#6ed 0 661px,#3bf 0 662px,#7ed 0 667px,#4cf 0 668px,#6de 0 672px,#6ed 0 674px,#6de 0 676px,#7ec 0 679px,#6ee 0 681px,#6ed 0 682px,#5df 0 685px,#7ec 0 686px,#5de 0 687px,#7ec 0 695px,#7ed 0 698px,#7ec 0 701px,#6de 0 703px,#6ee 0 706px,#6ed 0 708px,#7ec 0 710px,#8ea 0 712px,#7ec 0 713px,#6de 0 716px,#8eb 0 718px,#7ec 0 720px,#5df 0 721px,#5cf 0 724px,#7eb 0 725px,#5de 0 728px,#7ec 0 730px,#7ed 0 732px,#8eb 0 735px,#7ec 0 736px,#7ed 0 739px,#6ed 0 740px,#7ec 0 749px,#6ed 0 754px,#7ed 0 756px,#9ea 0 757px,#7eb 0 760px,#7ec 0 762px,#8eb 0 766px,#6de 0 770px,#7ec 0 774px,#8eb 0 777px,#7ec 0 780px,#8eb 0 782px,#9ea 0 786px,#6de 0 789px,#7ec 0 794px,#8eb 0 796px,#6ed 0 801px,#9ea 0 804px,#6de 0 808px,#7ec 0 810px,#9ea 0 814px,#afa 0 817px,#cfa 0 822px,#7ed 0 824px,#7ec 0 828px,#9ea 0 832px,#7ec 0 838px,#8ea 0 840px,#cfa 0 843px,#9ea 0 846px,#bfa 0 850px,#cfa 0 857px,#bfa 0 865px,#9ea 0 868px,#bfa 0 869px,#9ea 869px,#9ea 874px,#cfa 879px,#bfa 883px,#9ea 889px,#8eb 897px,#9ea 904px,#8eb 910px,#bfa 917px,#cf9 922px,#8ea 929px,#cfa 940px,#7ec 951px,#9ea 959px,#cfa 970px,#7ec 979px,#bfa 992px,#bfa 1001px,#afa 1008px,#aea 1015px,#bfa 1029px,#9ea 1044px,#7ec 1060px,#aea 1074px,#aea 1089px,#bfa 1108px,#aea 1120px,#9ea 1136px,#8ea 1148px,#8aecae 1154px,#8aecae 1194px,#7cebc8 1224px,#6aebe1 1264px,#61e1f0 1284px,#44caff 1304px,#32beff 1315px,#19afff 1327px,#0d81f8 1338px,#1474f4 1344px,#1a66f0 1373px,#155aed 1384px,#104dea 1414px)"></div><div style="left:2959.1px;width:39.4px;background:linear-gradient(#0a0079 104px,#107 0 179px,#208 0 184px,#107 0 186px,#209 0 192px,#20a 0 195px,#209 0 197px,#107 0 200px,#20a 0 202px,#208 0 204px,#107 0 206px,#108 0 208px,#10b 0 211px,#00b 0 214px,#107 0 215px,#01c 0 216px,#10b 0 218px,#01c 0 223px,#10b 0 225px,#10a 0 227px,#01c 0 228px,#10b 0 230px,#01b 0 232px,#10b 0 233px,#209 0 235px,#20a 0 238px,#02d 0 241px,#01b 0 242px,#01c 0 248px,#02d 0 252px,#10a 0 254px,#03d 0 257px,#14e 0 259px,#03d 0 262px,#10a 0 263px,#20a 0 265px,#03d 0 267px,#02d 0 270px,#01c 0 273px,#16e 0 275px,#02d 0 279px,#01c 0 281px,#15e 0 283px,#17f 0 285px,#15e 0 287px,#02d 0 291px,#04d 0 293px,#14e 0 296px,#18f 0 298px,#17e 0 302px,#02d 0 304px,#15e 0 306px,#02d 0 308px,#18f 0 310px,#17e 0 311px,#17f 0 314px,#19f 0 316px,#17f 0 318px,#19f 0 321px,#17f 0 322px,#19f 0 324px,#3bf 0 325px,#2bf 0 331px,#15e 0 333px,#1af 0 335px,#19f 0 339px,#1af 0 341px,#3bf 0 342px,#2bf 0 343px,#18f 0 345px,#17f 0 346px,#3bf 0 350px,#19f 0 352px,#1af 0 353px,#19f 0 358px,#5de 0 360px,#2bf 0 363px,#1af 0 364px,#3bf 0 367px,#4cf 0 369px,#3bf 0 372px,#2bf 0 374px,#1af 0 377px,#3bf 0 380px,#1af 0 382px,#2bf 0 385px,#4cf 0 387px,#5de 0 388px,#3bf 0 400px,#19f 0 402px,#5cf 0 403px,#3bf 0 406px,#4cf 0 408px,#5cf 0 409px,#3cf 0 412px,#6de 0 413px,#1af 0 415px,#3bf 0 418px,#3cf 0 420px,#4cf 0 421px,#3bf 0 426px,#4cf 0 429px,#5de 0 431px,#3bf 0 433px,#5de 0 436px,#5df 0 438px,#3bf 0 442px,#4cf 0 445px,#3bf 0 446px,#2bf 0 447px,#4cf 0 448px,#5df 0 449px,#3bf 0 451px,#5cf 0 452px,#3cf 0 454px,#3bf 0 456px,#17f 0 459px,#3bf 0 461px,#5cf 0 462px,#2bf 0 466px,#3bf 0 468px,#4cf 0 470px,#5de 0 474px,#4cf 0 476px,#6de 0 479px,#5de 0 481px,#5cf 0 483px,#6de 0 485px,#5de 0 486px,#6de 0 489px,#6ee 0 491px,#4cf 0 494px,#3bf 0 495px,#6de 0 497px,#5df 0 498px,#4cf 0 500px,#3bf 0 502px,#5de 0 504px,#4cf 0 507px,#5cf 0 509px,#4cf 0 518px,#3bf 0 520px,#6ed 0 523px,#5cf 0 524px,#6de 0 526px,#5de 0 529px,#19f 0 532px,#5df 0 533px,#6de 0 536px,#5cf 0 539px,#3bf 0 540px,#4cf 0 543px,#1af 0 544px,#6de 0 547px,#4cf 0 549px,#6de 0 556px,#6ee 0 559px,#3bf 0 561px,#6de 0 566px,#5cf 0 568px,#6de 0 570px,#6ee 0 572px,#5de 0 574px,#5cf 0 577px,#6de 0 582px,#6ed 0 586px,#6ee 0 588px,#6de 0 593px,#4cf 0 595px,#5de 0 599px,#6ed 0 601px,#6de 0 603px,#4cf 0 604px,#6ed 0 607px,#5de 0 609px,#6ed 0 611px,#5de 0 612px,#4cf 0 613px,#5df 0 618px,#6de 0 620px,#6ed 0 622px,#2af 0 624px,#5de 0 627px,#4cf 0 629px,#6ed 0 630px,#6ee 0 633px,#6ed 0 636px,#6de 0 639px,#6ee 0 640px,#6de 0 641px,#2bf 0 644px,#6de 0 647px,#5cf 0 649px,#4cf 0 650px,#6ed 0 652px,#6de 0 653px,#6ee 0 655px,#6de 0 658px,#7ed 0 660px,#5de 0 663px,#6ee 0 665px,#7ec 0 670px,#6ed 0 671px,#7ed 0 674px,#6ee 0 675px,#6de 0 676px,#6ed 0 678px,#7ed 0 680px,#6ed 0 682px,#7ec 0 685px,#6ed 0 688px,#6ee 0 690px,#7ed 0 693px,#7ec 0 694px,#6ed 0 697px,#7ed 0 699px,#6ed 0 700px,#6de 0 701px,#7ed 0 703px,#6ed 0 706px,#7ed 0 709px,#8eb 0 710px,#6ee 0 711px,#5cf 0 715px,#7ec 0 718px,#8eb 0 720px,#6ed 0 722px,#6ee 0 723px,#6de 0 727px,#4cf 0 729px,#8eb 0 731px,#7ed 0 734px,#7ec 0 736px,#6ee 0 738px,#7ed 0 741px,#5de 0 743px,#7ed 0 746px,#7ec 0 749px,#6ee 0 752px,#7ec 0 753px,#8eb 0 755px,#5de 0 757px,#8eb 0 760px,#6ed 0 761px,#6de 0 765px,#7ec 0 767px,#8eb 0 770px,#8ea 0 773px,#7ec 0 781px,#8eb 0 784px,#6ed 0 788px,#8eb 0 792px,#aea 0 796px,#8eb 0 799px,#9ea 0 802px,#8ea 0 807px,#aea 0 811px,#8ea 0 814px,#7ec 0 819px,#8eb 0 824px,#aea 0 827px,#bfa 0 833px,#de8 0 838px,#8eb 0 842px,#cfa 0 852px,#cf9 0 855px,#8ea 0 861px,#7ec 0 866px,#bfa 0 868px,#8eb 0 869px,#aea 869px,#8eb 874px,#7eb 881px,#7ec 887px,#8ea 892px,#bfa 897px,#7ec 903px,#6ed 908px,#6ed 914px,#9ea 920px,#8ea 929px,#cfa 940px,#aea 947px,#bfa 954px,#8eb 961px,#cfa 971px,#de8 978px,#cf9 990px,#aea 1003px,#df8 1014px,#cfa 1027px,#cfa 1040px,#ee7 1055px,#de8 1067px,#8ea 1076px,#de8 1087px,#bfa 1103px,#cfa 1120px,#aea 1134px,#aea 1150px,#aaf4a8 1154px,#8aecae 1180px,#83ecbb 1194px,#7cebc8 1209px,#73ebd4 1224px,#6aebe1 1230px,#61e1f0 1241px,#44caff 1253px,#32beff 1264px,#32beff 1304px,#32beff 1344px,#26b6ff 1384px,#21b4ff 1414px)"></div><div style="left:2998.4px;width:39.4px;background:linear-gradient(#0a0079 104px,#107 0 197px,#208 0 199px,#108 0 201px,#107 0 202px,#209 0 204px,#208 0 207px,#107 0 211px,#108 0 213px,#10a 0 216px,#107 0 218px,#209 0 219px,#20a 0 222px,#01b 0 224px,#209 0 227px,#20a 0 228px,#10a 0 231px,#107 0 233px,#10b 0 235px,#01c 0 239px,#10b 0 242px,#01c 0 248px,#10a 0 250px,#01c 0 252px,#01b 0 253px,#10a 0 258px,#10b 0 259px,#02d 0 262px,#01c 0 264px,#02d 0 268px,#14e 0 269px,#02d 0 274px,#01c 0 277px,#10a 0 280px,#02d 0 287px,#01c 0 290px,#02d 0 293px,#14e 0 296px,#16e 0 298px,#02d 0 299px,#01c 0 302px,#02d 0 304px,#15e 0 307px,#19f 0 309px,#15e 0 311px,#19f 0 313px,#1af 0 315px,#17e 0 317px,#18f 0 320px,#17e 0 323px,#19f 0 325px,#16e 0 328px,#17e 0 331px,#19f 0 333px,#26e 0 336px,#19f 0 339px,#02d 0 341px,#19f 0 343px,#3bf 0 344px,#17e 0 346px,#18f 0 349px,#1af 0 352px,#19f 0 355px,#2bf 0 356px,#19f 0 358px,#2bf 0 359px,#16e 0 360px,#2af 0 362px,#3bf 0 365px,#4cf 0 367px,#17e 0 369px,#19f 0 370px,#16e 0 372px,#19f 0 375px,#3bf 0 377px,#4cf 0 379px,#2bf 0 381px,#2af 0 384px,#2bf 0 387px,#3bf 0 389px,#17e 0 390px,#3bf 0 393px,#4cf 0 394px,#18f 0 397px,#2bf 0 399px,#4cf 0 402px,#3cf 0 404px,#3bf 0 406px,#5df 0 409px,#3bf 0 415px,#4cf 0 417px,#3bf 0 418px,#4cf 0 424px,#18f 0 426px,#4cf 0 429px,#3bf 0 433px,#4cf 0 437px,#5de 0 440px,#2bf 0 446px,#4cf 0 447px,#3bf 0 450px,#4cf 0 452px,#5de 0 455px,#3cf 0 457px,#5df 0 458px,#6de 0 459px,#19f 0 462px,#4cf 0 464px,#5df 0 467px,#3cf 0 469px,#3bf 0 472px,#4cf 0 476px,#3bf 0 478px,#2bf 0 480px,#4cf 0 483px,#3cf 0 486px,#5df 0 488px,#6de 0 489px,#4cf 0 492px,#2bf 0 493px,#3bf 0 498px,#4cf 0 499px,#3bf 0 501px,#4cf 0 503px,#5cf 0 505px,#4cf 0 507px,#3bf 0 511px,#5de 0 513px,#3bf 0 514px,#17e 0 516px,#5de 0 520px,#6de 0 521px,#3bf 0 523px,#5de 0 525px,#4cf 0 530px,#5cf 0 531px,#4cf 0 536px,#6de 0 538px,#5cf 0 540px,#6de 0 544px,#5de 0 546px,#3bf 0 549px,#6de 0 551px,#4cf 0 554px,#3bf 0 556px,#5de 0 557px,#6ee 0 560px,#5df 0 563px,#5de 0 564px,#3bf 0 568px,#4cf 0 573px,#6de 0 576px,#4cf 0 578px,#5df 0 580px,#2bf 0 582px,#3bf 0 584px,#6de 0 587px,#2af 0 590px,#4cf 0 591px,#6de 0 593px,#4cf 0 596px,#5de 0 597px,#6ed 0 599px,#4cf 0 600px,#6de 0 603px,#4cf 0 605px,#6de 0 607px,#6ee 0 609px,#7ec 0 611px,#5df 0 612px,#6ee 0 615px,#7ed 0 617px,#3bf 0 618px,#6de 0 621px,#1af 0 623px,#6ed 0 625px,#7ec 0 628px,#6ed 0 629px,#5de 0 631px,#6ee 0 632px,#4cf 0 634px,#5df 0 636px,#6de 0 638px,#5de 0 639px,#6ee 0 640px,#4cf 0 645px,#5cf 0 647px,#3bf 0 649px,#2bf 0 652px,#7ed 0 654px,#5de 0 655px,#6de 0 658px,#6ed 0 661px,#4cf 0 665px,#3bf 0 666px,#6ee 0 668px,#6ed 0 671px,#6de 0 673px,#6ee 0 675px,#7ec 0 677px,#6ed 0 680px,#7ed 0 683px,#7ec 0 686px,#6ee 0 687px,#7ed 0 690px,#6ee 0 691px,#5de 0 694px,#6ed 0 699px,#3bf 0 701px,#7ec 0 702px,#6ed 0 705px,#8eb 0 708px,#6ee 0 711px,#6ed 0 713px,#4cf 0 719px,#6de 0 721px,#7ec 0 723px,#6de 0 724px,#7ec 0 727px,#6ed 0 729px,#8ea 0 732px,#5df 0 735px,#5de 0 736px,#7ec 0 738px,#5df 0 741px,#8eb 0 743px,#7ec 0 748px,#7ed 0 750px,#6de 0 753px,#6ed 0 760px,#6de 0 763px,#7eb 0 765px,#8ea 0 767px,#5de 0 769px,#7ec 0 779px,#8eb 0 782px,#6ee 0 786px,#6de 0 789px,#8ea 0 796px,#6de 0 798px,#8ea 0 801px,#7ed 0 805px,#9ea 0 812px,#8ea 0 814px,#aea 0 817px,#afa 0 820px,#aea 0 826px,#8eb 0 832px,#aea 0 836px,#cf9 0 841px,#8ea 0 845px,#cfa 0 850px,#df9 0 852px,#9ea 0 856px,#bfa 0 860px,#8ea 0 866px,#aea 0 869px,#8ea 869px,#8ea 877px,#9ea 882px,#afa 888px,#bfa 892px,#8eb 902px,#9ea 909px,#9ea 917px,#7ed 924px,#7eb 933px,#7ec 940px,#aea 948px,#9ea 958px,#8eb 970px,#7ed 979px,#aea 990px,#8ea 998px,#9ea 1011px,#8eb 1023px,#8ea 1033px,#cfa 1046px,#afa 1056px,#aea 1067px,#aea 1076px,#8eb 1086px,#cfa 1096px,#9ea 1115px,#9ea 1131px,#9ea 1144px,#94efac 1154px,#8aecae 1194px,#8aecae 1224px,#7cebc8 1244px,#6aebe1 1264px,#61e1f0 1284px,#44caff 1304px,#32beff 1344px,#26b6ff 1384px,#21b4ff 1414px)"></div><div style="left:3037.8px;width:19.7px;background:linear-gradient(#0a0079 104px,#107 0 200px,#209 0 203px,#107 0 208px,#108 0 211px,#107 0 215px,#209 0 220px,#10a 0 222px,#209 0 224px,#20a 0 227px,#209 0 233px,#20a 0 235px,#01b 0 236px,#208 0 238px,#01c 0 240px,#10a 0 242px,#208 0 244px,#01b 0 246px,#01c 0 251px,#10b 0 254px,#01c 0 255px,#10b 0 258px,#209 0 260px,#01c 0 262px,#02d 0 264px,#20a 0 266px,#10a 0 269px,#00b 0 271px,#01c 0 273px,#02d 0 275px,#01c 0 277px,#02d 0 278px,#01c 0 282px,#10b 0 283px,#02d 0 284px,#01c 0 286px,#02d 0 291px,#20a 0 293px,#01c 0 295px,#16e 0 297px,#02d 0 298px,#10a 0 299px,#01c 0 300px,#15e 0 303px,#02d 0 304px,#03d 0 306px,#16e 0 308px,#15e 0 310px,#17f 0 312px,#15e 0 314px,#03d 0 316px,#14e 0 317px,#02d 0 319px,#14e 0 321px,#02d 0 323px,#03d 0 324px,#17e 0 326px,#15e 0 328px,#01c 0 330px,#16e 0 332px,#18f 0 335px,#01c 0 337px,#19f 0 344px,#2af 0 346px,#18f 0 348px,#2bf 0 351px,#16e 0 353px,#14e 0 354px,#3bf 0 357px,#1af 0 359px,#19f 0 361px,#14e 0 363px,#19f 0 365px,#3bf 0 366px,#1af 0 368px,#17e 0 369px,#3bf 0 370px,#2bf 0 374px,#03d 0 375px,#3bf 0 380px,#2bf 0 382px,#19f 0 385px,#3bf 0 387px,#1af 0 390px,#17e 0 393px,#3bf 0 395px,#4cf 0 397px,#19f 0 398px,#3bf 0 400px,#2bf 0 402px,#2af 0 404px,#16e 0 406px,#3bf 0 408px,#4cf 0 410px,#5cf 0 411px,#3bf 0 415px,#2bf 0 418px,#3bf 0 419px,#2bf 0 421px,#3bf 0 425px,#4cf 0 427px,#1af 0 429px,#4cf 0 434px,#5df 0 436px,#3bf 0 438px,#2af 0 440px,#2bf 0 443px,#3bf 0 445px,#4cf 0 448px,#3cf 0 450px,#4cf 0 453px,#3bf 0 454px,#5de 0 460px,#3bf 0 462px,#17e 0 463px,#4cf 0 466px,#3bf 0 468px,#17f 0 470px,#4cf 0 472px,#5de 0 473px,#2bf 0 475px,#4cf 0 478px,#19f 0 479px,#4cf 0 482px,#2bf 0 484px,#5df 0 486px,#5cf 0 488px,#5de 0 491px,#4cf 0 493px,#1af 0 496px,#4cf 0 497px,#19f 0 500px,#6de 0 504px,#4cf 0 508px,#3bf 0 509px,#4cf 0 511px,#5cf 0 513px,#18f 0 515px,#3bf 0 517px,#6de 0 521px,#4cf 0 524px,#2bf 0 525px,#4cf 0 533px,#6de 0 537px,#17f 0 540px,#4cf 0 543px,#6de 0 544px,#5de 0 546px,#4cf 0 551px,#2bf 0 553px,#3bf 0 556px,#6de 0 558px,#4cf 0 560px,#6de 0 563px,#18f 0 565px,#6de 0 566px,#3bf 0 568px,#4cf 0 569px,#2bf 0 571px,#6de 0 574px,#3cf 0 576px,#7ed 0 577px,#6de 0 579px,#5de 0 581px,#4cf 0 582px,#5de 0 589px,#6de 0 592px,#4cf 0 593px,#6de 0 599px,#4cf 0 601px,#6de 0 602px,#6ee 0 604px,#5de 0 606px,#6de 0 609px,#3bf 0 610px,#6ed 0 613px,#6ee 0 615px,#5de 0 617px,#5cf 0 620px,#4cf 0 621px,#3bf 0 623px,#6ed 0 625px,#1af 0 627px,#4cf 0 628px,#6ed 0 631px,#6de 0 633px,#7ed 0 636px,#3bf 0 637px,#5de 0 639px,#7ec 0 642px,#6ed 0 645px,#6de 0 648px,#6ed 0 649px,#7ed 0 652px,#6de 0 653px,#7ed 0 655px,#6ee 0 657px,#6de 0 659px,#3bf 0 661px,#4cf 0 663px,#7ec 0 666px,#6ee 0 667px,#6de 0 669px,#5de 0 670px,#7ec 0 671px,#6de 0 674px,#6ed 0 676px,#7ec 0 678px,#2bf 0 679px,#6de 0 682px,#3bf 0 684px,#6ee 0 687px,#6ed 0 695px,#7eb 0 696px,#7ec 0 698px,#6ed 0 700px,#7ed 0 705px,#6ed 0 708px,#7ec 0 711px,#6de 0 713px,#7ec 0 716px,#6de 0 717px,#7ed 0 719px,#6ed 0 722px,#5cf 0 724px,#7ec 0 725px,#8eb 0 726px,#6ee 0 729px,#8eb 0 731px,#6de 0 736px,#6ed 0 741px,#8eb 0 744px,#6ee 0 746px,#6ed 0 747px,#6de 0 750px,#8eb 0 752px,#7ec 0 754px,#6ed 0 757px,#8ea 0 760px,#7ec 0 761px,#8eb 0 768px,#5cf 0 772px,#6de 0 774px,#8eb 0 777px,#7ec 0 780px,#8eb 0 788px,#7ed 0 792px,#7ec 0 796px,#7ed 0 801px,#6ee 0 803px,#8eb 0 808px,#7ec 0 813px,#8ea 0 820px,#7ec 0 823px,#8ea 0 826px,#9ea 0 830px,#df9 0 834px,#bfa 0 837px,#8eb 0 840px,#aea 0 844px,#bfa 0 850px,#cfa 0 852px,#aea 0 857px,#df9 0 861px,#bfa 0 865px,#9ea 0 869px,#cf9 869px,#aea 873px,#7ec 878px,#aea 885px,#aea 892px,#8eb 898px,#cf9 905px,#aea 912px,#7ec 919px,#8ea 926px,#bfa 933px,#bfa 942px,#aea 949px,#9ea 955px,#bfa 965px,#df9 974px,#cfa 981px,#de8 992px,#bfa 1005px,#aea 1017px,#cfa 1026px,#de8 1034px,#df9 1047px,#df9 1060px,#de8 1072px,#cfa 1084px,#bfa 1103px,#bfa 1119px,#aea 1133px,#9ea 1144px,#9df1ab 1154px,#8aecae 1194px,#7cebc8 1209px,#6aebe1 1224px,#66e6e8 1264px,#61e1f0 1277px,#44caff 1304px,#44caff 1344px,#44caff 1384px,#40c8ff 1414px)"></div><div style="left:226px;width:2224px;top:108px;height:1px;background:#18039f"></div></div>
<svg width="3118" height="2232" viewBox="0 0 3118 2232">
<g stroke="#000" stroke-linecap="butt"><line x1="222.5" y1="1.0" x2="222.5" y2="23.4" stroke-width="3"/><line x1="222.5" y1="613.4" x2="222.5" y2="635.9" stroke-width="3"/><line x1="222.5" y1="651.1" x2="222.5" y2="672.8" stroke-width="3"/><line x1="222.5" y1="2090.5" x2="222.5" y2="2111.7" stroke-width="3"/><line x1="261.9" y1="11.0" x2="261.9" y2="23.4" stroke-width="3"/><line x1="261.9" y1="613.4" x2="261.9" y2="625.9" stroke-width="3"/><line x1="261.9" y1="661.0" x2="261.9" y2="672.8" stroke-width="3"/><line x1="261.9" y1="2090.5" x2="261.9" y2="2101.8" stroke-width="3"/><line x1="301.2" y1="11.0" x2="301.2" y2="23.4" stroke-width="3"/><line x1="301.2" y1="613.4" x2="301.2" y2="625.9" stroke-width="3"/><line x1="301.2" y1="661.0" x2="301.2" y2="672.8" stroke-width="3"/><line x1="301.2" y1="2090.5" x2="301.2" y2="2101.8" stroke-width="3"/><line x1="340.6" y1="11.0" x2="340.6" y2="23.4" stroke-width="3"/><line x1="340.6" y1="613.4" x2="340.6" y2="625.9" stroke-width="3"/><line x1="340.6" y1="661.0" x2="340.6" y2="672.8" stroke-width="3"/><line x1="340.6" y1="2090.5" x2="340.6" y2="2101.8" stroke-width="3"/><line x1="380.0" y1="11.0" x2="380.0" y2="23.4" stroke-width="3"/><line x1="380.0" y1="613.4" x2="380.0" y2="625.9" stroke-width="3"/><line x1="380.0" y1="661.0" x2="380.0" y2="672.8" stroke-width="3"/><line x1="380.0" y1="2090.5" x2="380.0" y2="2101.8" stroke-width="3"/><line x1="419.4" y1="11.0" x2="419.4" y2="23.4" stroke-width="3"/><line x1="419.4" y1="613.4" x2="419.4" y2="625.9" stroke-width="3"/><line x1="419.4" y1="661.0" x2="419.4" y2="672.8" stroke-width="3"/><line x1="419.4" y1="2090.5" x2="419.4" y2="2101.8" stroke-width="3"/><line x1="458.8" y1="11.0" x2="458.8" y2="23.4" stroke-width="3"/><line x1="458.8" y1="613.4" x2="458.8" y2="625.9" stroke-width="3"/><line x1="458.8" y1="661.0" x2="458.8" y2="672.8" stroke-width="3"/><line x1="458.8" y1="2090.5" x2="458.8" y2="2101.8" stroke-width="3"/><line x1="498.1" y1="11.0" x2="498.1" y2="23.4" stroke-width="3"/><line x1="498.1" y1="613.4" x2="498.1" y2="625.9" stroke-width="3"/><line x1="498.1" y1="661.0" x2="498.1" y2="672.8" stroke-width="3"/><line x1="498.1" y1="2090.5" x2="498.1" y2="2101.8" stroke-width="3"/><line x1="537.5" y1="11.0" x2="537.5" y2="23.4" stroke-width="3"/><line x1="537.5" y1="613.4" x2="537.5" y2="625.9" stroke-width="3"/><line x1="537.5" y1="661.0" x2="537.5" y2="672.8" stroke-width="3"/><line x1="537.5" y1="2090.5" x2="537.5" y2="2101.8" stroke-width="3"/><line x1="576.9" y1="11.0" x2="576.9" y2="23.4" stroke-width="3"/><line x1="576.9" y1="613.4" x2="576.9" y2="625.9" stroke-width="3"/><line x1="576.9" y1="661.0" x2="576.9" y2="672.8" stroke-width="3"/><line x1="576.9" y1="2090.5" x2="576.9" y2="2101.8" stroke-width="3"/><line x1="616.2" y1="11.0" x2="616.2" y2="23.4" stroke-width="3"/><line x1="616.2" y1="613.4" x2="616.2" y2="625.9" stroke-width="3"/><line x1="616.2" y1="661.0" x2="616.2" y2="672.8" stroke-width="3"/><line x1="616.2" y1="2090.5" x2="616.2" y2="2101.8" stroke-width="3"/><line x1="655.6" y1="11.0" x2="655.6" y2="23.4" stroke-width="3"/><line x1="655.6" y1="613.4" x2="655.6" y2="625.9" stroke-width="3"/><line x1="655.6" y1="661.0" x2="655.6" y2="672.8" stroke-width="3"/><line x1="655.6" y1="2090.5" x2="655.6" y2="2101.8" stroke-width="3"/><line x1="695.0" y1="1.0" x2="695.0" y2="23.4" stroke-width="3"/><line x1="695.0" y1="613.4" x2="695.0" y2="635.9" stroke-width="3"/><line x1="695.0" y1="651.1" x2="695.0" y2="672.8" stroke-width="3"/><line x1="695.0" y1="2090.5" x2="695.0" y2="2111.7" stroke-width="3"/><line x1="734.4" y1="11.0" x2="734.4" y2="23.4" stroke-width="3"/><line x1="734.4" y1="613.4" x2="734.4" y2="625.9" stroke-width="3"/><line x1="734.4" y1="661.0" x2="734.4" y2="672.8" stroke-width="3"/><line x1="734.4" y1="2090.5" x2="734.4" y2="2101.8" stroke-width="3"/><line x1="773.8" y1="11.0" x2="773.8" y2="23.4" stroke-width="3"/><line x1="773.8" y1="613.4" x2="773.8" y2="625.9" stroke-width="3"/><line x1="773.8" y1="661.0" x2="773.8" y2="672.8" stroke-width="3"/><line x1="773.8" y1="2090.5" x2="773.8" y2="2101.8" stroke-width="3"/><line x1="813.1" y1="11.0" x2="813.1" y2="23.4" stroke-width="3"/><line x1="813.1" y1="613.4" x2="813.1" y2="625.9" stroke-width="3"/><line x1="813.1" y1="661.0" x2="813.1" y2="672.8" stroke-width="3"/><line x1="813.1" y1="2090.5" x2="813.1" y2="2101.8" stroke-width="3"/><line x1="852.5" y1="11.0" x2="852.5" y2="23.4" stroke-width="3"/><line x1="852.5" y1="613.4" x2="852.5" y2="625.9" stroke-width="3"/><line x1="852.5" y1="661.0" x2="852.5" y2="672.8" stroke-width="3"/><line x1="852.5" y1="2090.5" x2="852.5" y2="2101.8" stroke-width="3"/><line x1="891.9" y1="11.0" x2="891.9" y2="23.4" stroke-width="3"/><line x1="891.9" y1="613.4" x2="891.9" y2="625.9" stroke-width="3"/><line x1="891.9" y1="661.0" x2="891.9" y2="672.8" stroke-width="3"/><line x1="891.9" y1="2090.5" x2="891.9" y2="2101.8" stroke-width="3"/><line x1="931.2" y1="11.0" x2="931.2" y2="23.4" stroke-width="3"/><line x1="931.2" y1="613.4" x2="931.2" y2="625.9" stroke-width="3"/><line x1="931.2" y1="661.0" x2="931.2" y2="672.8" stroke-width="3"/><line x1="931.2" y1="2090.5" x2="931.2" y2="2101.8" stroke-width="3"/><line x1="970.6" y1="11.0" x2="970.6" y2="23.4" stroke-width="3"/><line x1="970.6" y1="613.4" x2="970.6" y2="625.9" stroke-width="3"/><line x1="970.6" y1="661.0" x2="970.6" y2="672.8" stroke-width="3"/><line x1="970.6" y1="2090.5" x2="970.6" y2="2101.8" stroke-width="3"/><line x1="1010.0" y1="11.0" x2="1010.0" y2="23.4" stroke-width="3"/><line x1="1010.0" y1="613.4" x2="1010.0" y2="625.9" stroke-width="3"/><line x1="1010.0" y1="661.0" x2="1010.0" y2="672.8" stroke-width="3"/><line x1="1010.0" y1="2090.5" x2="1010.0" y2="2101.8" stroke-width="3"/><line x1="1049.4" y1="11.0" x2="1049.4" y2="23.4" stroke-width="3"/><line x1="1049.4" y1="613.4" x2="1049.4" y2="625.9" stroke-width="3"/><line x1="1049.4" y1="661.0" x2="1049.4" y2="672.8" stroke-width="3"/><line x1="1049.4" y1="2090.5" x2="1049.4" y2="2101.8" stroke-width="3"/><line x1="1088.8" y1="11.0" x2="1088.8" y2="23.4" stroke-width="3"/><line x1="1088.8" y1="613.4" x2="1088.8" y2="625.9" stroke-width="3"/><line x1="1088.8" y1="661.0" x2="1088.8" y2="672.8" stroke-width="3"/><line x1="1088.8" y1="2090.5" x2="1088.8" y2="2101.8" stroke-width="3"/><line x1="1128.1" y1="11.0" x2="1128.1" y2="23.4" stroke-width="3"/><line x1="1128.1" y1="613.4" x2="1128.1" y2="625.9" stroke-width="3"/><line x1="1128.1" y1="661.0" x2="1128.1" y2="672.8" stroke-width="3"/><line x1="1128.1" y1="2090.5" x2="1128.1" y2="2101.8" stroke-width="3"/><line x1="1167.5" y1="1.0" x2="1167.5" y2="23.4" stroke-width="3"/><line x1="1167.5" y1="613.4" x2="1167.5" y2="635.9" stroke-width="3"/><line x1="1167.5" y1="651.1" x2="1167.5" y2="672.8" stroke-width="3"/><line x1="1167.5" y1="2090.5" x2="1167.5" y2="2111.7" stroke-width="3"/><line x1="1206.9" y1="11.0" x2="1206.9" y2="23.4" stroke-width="3"/><line x1="1206.9" y1="613.4" x2="1206.9" y2="625.9" stroke-width="3"/><line x1="1206.9" y1="661.0" x2="1206.9" y2="672.8" stroke-width="3"/><line x1="1206.9" y1="2090.5" x2="1206.9" y2="2101.8" stroke-width="3"/><line x1="1246.2" y1="11.0" x2="1246.2" y2="23.4" stroke-width="3"/><line x1="1246.2" y1="613.4" x2="1246.2" y2="625.9" stroke-width="3"/><line x1="1246.2" y1="661.0" x2="1246.2" y2="672.8" stroke-width="3"/><line x1="1246.2" y1="2090.5" x2="1246.2" y2="2101.8" stroke-width="3"/><line x1="1285.6" y1="11.0" x2="1285.6" y2="23.4" stroke-width="3"/><line x1="1285.6" y1="613.4" x2="1285.6" y2="625.9" stroke-width="3"/><line x1="1285.6" y1="661.0" x2="1285.6" y2="672.8" stroke-width="3"/><line x1="1285.6" y1="2090.5" x2="1285.6" y2="2101.8" stroke-width="3"/><line x1="1325.0" y1="11.0" x2="1325.0" y2="23.4" stroke-width="3"/><line x1="1325.0" y1="613.4" x2="1325.0" y2="625.9" stroke-width="3"/><line x1="1325.0" y1="661.0" x2="1325.0" y2="672.8" stroke-width="3"/><line x1="1325.0" y1="2090.5" x2="1325.0" y2="2101.8" stroke-width="3"/><line x1="1364.4" y1="11.0" x2="1364.4" y2="23.4" stroke-width="3"/><line x1="1364.4" y1="613.4" x2="1364.4" y2="625.9" stroke-width="3"/><line x1="1364.4" y1="661.0" x2="1364.4" y2="672.8" stroke-width="3"/><line x1="1364.4" y1="2090.5" x2="1364.4" y2="2101.8" stroke-width="3"/><line x1="1403.8" y1="11.0" x2="1403.8" y2="23.4" stroke-width="3"/><line x1="1403.8" y1="613.4" x2="1403.8" y2="625.9" stroke-width="3"/><line x1="1403.8" y1="661.0" x2="1403.8" y2="672.8" stroke-width="3"/><line x1="1403.8" y1="2090.5" x2="1403.8" y2="2101.8" stroke-width="3"/><line x1="1443.1" y1="11.0" x2="1443.1" y2="23.4" stroke-width="3"/><line x1="1443.1" y1="613.4" x2="1443.1" y2="625.9" stroke-width="3"/><line x1="1443.1" y1="661.0" x2="1443.1" y2="672.8" stroke-width="3"/><line x1="1443.1" y1="2090.5" x2="1443.1" y2="2101.8" stroke-width="3"/><line x1="1482.5" y1="11.0" x2="1482.5" y2="23.4" stroke-width="3"/><line x1="1482.5" y1="613.4" x2="1482.5" y2="625.9" stroke-width="3"/><line x1="1482.5" y1="661.0" x2="1482.5" y2="672.8" stroke-width="3"/><line x1="1482.5" y1="2090.5" x2="1482.5" y2="2101.8" stroke-width="3"/><line x1="1521.9" y1="11.0" x2="1521.9" y2="23.4" stroke-width="3"/><line x1="1521.9" y1="613.4" x2="1521.9" y2="625.9" stroke-width="3"/><line x1="1521.9" y1="661.0" x2="1521.9" y2="672.8" stroke-width="3"/><line x1="1521.9" y1="2090.5" x2="1521.9" y2="2101.8" stroke-width="3"/><line x1="1561.2" y1="11.0" x2="1561.2" y2="23.4" stroke-width="3"/><line x1="1561.2" y1="613.4" x2="1561.2" y2="625.9" stroke-width="3"/><line x1="1561.2" y1="661.0" x2="1561.2" y2="672.8" stroke-width="3"/><line x1="1561.2" y1="2090.5" x2="1561.2" y2="2101.8" stroke-width="3"/><line x1="1600.6" y1="11.0" x2="1600.6" y2="23.4" stroke-width="3"/><line x1="1600.6" y1="613.4" x2="1600.6" y2="625.9" stroke-width="3"/><line x1="1600.6" y1="661.0" x2="1600.6" y2="672.8" stroke-width="3"/><line x1="1600.6" y1="2090.5" x2="1600.6" y2="2101.8" stroke-width="3"/><line x1="1640.0" y1="1.0" x2="1640.0" y2="23.4" stroke-width="3"/><line x1="1640.0" y1="613.4" x2="1640.0" y2="635.9" stroke-width="3"/><line x1="1640.0" y1="651.1" x2="1640.0" y2="672.8" stroke-width="3"/><line x1="1640.0" y1="2090.5" x2="1640.0" y2="2111.7" stroke-width="3"/><line x1="1679.4" y1="11.0" x2="1679.4" y2="23.4" stroke-width="3"/><line x1="1679.4" y1="613.4" x2="1679.4" y2="625.9" stroke-width="3"/><line x1="1679.4" y1="661.0" x2="1679.4" y2="672.8" stroke-width="3"/><line x1="1679.4" y1="2090.5" x2="1679.4" y2="2101.8" stroke-width="3"/><line x1="1718.8" y1="11.0" x2="1718.8" y2="23.4" stroke-width="3"/><line x1="1718.8" y1="613.4" x2="1718.8" y2="625.9" stroke-width="3"/><line x1="1718.8" y1="661.0" x2="1718.8" y2="672.8" stroke-width="3"/><line x1="1718.8" y1="2090.5" x2="1718.8" y2="2101.8" stroke-width="3"/><line x1="1758.1" y1="11.0" x2="1758.1" y2="23.4" stroke-width="3"/><line x1="1758.1" y1="613.4" x2="1758.1" y2="625.9" stroke-width="3"/><line x1="1758.1" y1="661.0" x2="1758.1" y2="672.8" stroke-width="3"/><line x1="1758.1" y1="2090.5" x2="1758.1" y2="2101.8" stroke-width="3"/><line x1="1797.5" y1="11.0" x2="1797.5" y2="23.4" stroke-width="3"/><line x1="1797.5" y1="613.4" x2="1797.5" y2="625.9" stroke-width="3"/><line x1="1797.5" y1="661.0" x2="1797.5" y2="672.8" stroke-width="3"/><line x1="1797.5" y1="2090.5" x2="1797.5" y2="2101.8" stroke-width="3"/><line x1="1836.9" y1="11.0" x2="1836.9" y2="23.4" stroke-width="3"/><line x1="1836.9" y1="613.4" x2="1836.9" y2="625.9" stroke-width="3"/><line x1="1836.9" y1="661.0" x2="1836.9" y2="672.8" stroke-width="3"/><line x1="1836.9" y1="2090.5" x2="1836.9" y2="2101.8" stroke-width="3"/><line x1="1876.2" y1="11.0" x2="1876.2" y2="23.4" stroke-width="3"/><line x1="1876.2" y1="613.4" x2="1876.2" y2="625.9" stroke-width="3"/><line x1="1876.2" y1="661.0" x2="1876.2" y2="672.8" stroke-width="3"/><line x1="1876.2" y1="2090.5" x2="1876.2" y2="2101.8" stroke-width="3"/><line x1="1915.6" y1="11.0" x2="1915.6" y2="23.4" stroke-width="3"/><line x1="1915.6" y1="613.4" x2="1915.6" y2="625.9" stroke-width="3"/><line x1="1915.6" y1="661.0" x2="1915.6" y2="672.8" stroke-width="3"/><line x1="1915.6" y1="2090.5" x2="1915.6" y2="2101.8" stroke-width="3"/><line x1="1955.0" y1="11.0" x2="1955.0" y2="23.4" stroke-width="3"/><line x1="1955.0" y1="613.4" x2="1955.0" y2="625.9" stroke-width="3"/><line x1="1955.0" y1="661.0" x2="1955.0" y2="672.8" stroke-width="3"/><line x1="1955.0" y1="2090.5" x2="1955.0" y2="2101.8" stroke-width="3"/><line x1="1994.4" y1="11.0" x2="1994.4" y2="23.4" stroke-width="3"/><line x1="1994.4" y1="613.4" x2="1994.4" y2="625.9" stroke-width="3"/><line x1="1994.4" y1="661.0" x2="1994.4" y2="672.8" stroke-width="3"/><line x1="1994.4" y1="2090.5" x2="1994.4" y2="2101.8" stroke-width="3"/><line x1="2033.8" y1="11.0" x2="2033.8" y2="23.4" stroke-width="3"/><line x1="2033.8" y1="613.4" x2="2033.8" y2="625.9" stroke-width="3"/><line x1="2033.8" y1="661.0" x2="2033.8" y2="672.8" stroke-width="3"/><line x1="2033.8" y1="2090.5" x2="2033.8" y2="2101.8" stroke-width="3"/><line x1="2073.1" y1="11.0" x2="2073.1" y2="23.4" stroke-width="3"/><line x1="2073.1" y1="613.4" x2="2073.1" y2="625.9" stroke-width="3"/><line x1="2073.1" y1="661.0" x2="2073.1" y2="672.8" stroke-width="3"/><line x1="2073.1" y1="2090.5" x2="2073.1" y2="2101.8" stroke-width="3"/><line x1="2112.5" y1="1.0" x2="2112.5" y2="23.4" stroke-width="3"/><line x1="2112.5" y1="613.4" x2="2112.5" y2="635.9" stroke-width="3"/><line x1="2112.5" y1="651.1" x2="2112.5" y2="672.8" stroke-width="3"/><line x1="2112.5" y1="2090.5" x2="2112.5" y2="2111.7" stroke-width="3"/><line x1="2151.9" y1="11.0" x2="2151.9" y2="23.4" stroke-width="3"/><line x1="2151.9" y1="613.4" x2="2151.9" y2="625.9" stroke-width="3"/><line x1="2151.9" y1="661.0" x2="2151.9" y2="672.8" stroke-width="3"/><line x1="2151.9" y1="2090.5" x2="2151.9" y2="2101.8" stroke-width="3"/><line x1="2191.2" y1="11.0" x2="2191.2" y2="23.4" stroke-width="3"/><line x1="2191.2" y1="613.4" x2="2191.2" y2="625.9" stroke-width="3"/><line x1="2191.2" y1="661.0" x2="2191.2" y2="672.8" stroke-width="3"/><line x1="2191.2" y1="2090.5" x2="2191.2" y2="2101.8" stroke-width="3"/><line x1="2230.6" y1="11.0" x2="2230.6" y2="23.4" stroke-width="3"/><line x1="2230.6" y1="613.4" x2="2230.6" y2="625.9" stroke-width="3"/><line x1="2230.6" y1="661.0" x2="2230.6" y2="672.8" stroke-width="3"/><line x1="2230.6" y1="2090.5" x2="2230.6" y2="2101.8" stroke-width="3"/><line x1="2270.0" y1="11.0" x2="2270.0" y2="23.4" stroke-width="3"/><line x1="2270.0" y1="613.4" x2="2270.0" y2="625.9" stroke-width="3"/><line x1="2270.0" y1="661.0" x2="2270.0" y2="672.8" stroke-width="3"/><line x1="2270.0" y1="2090.5" x2="2270.0" y2="2101.8" stroke-width="3"/><line x1="2309.4" y1="11.0" x2="2309.4" y2="23.4" stroke-width="3"/><line x1="2309.4" y1="613.4" x2="2309.4" y2="625.9" stroke-width="3"/><line x1="2309.4" y1="661.0" x2="2309.4" y2="672.8" stroke-width="3"/><line x1="2309.4" y1="2090.5" x2="2309.4" y2="2101.8" stroke-width="3"/><line x1="2348.8" y1="11.0" x2="2348.8" y2="23.4" stroke-width="3"/><line x1="2348.8" y1="613.4" x2="2348.8" y2="625.9" stroke-width="3"/><line x1="2348.8" y1="661.0" x2="2348.8" y2="672.8" stroke-width="3"/><line x1="2348.8" y1="2090.5" x2="2348.8" y2="2101.8" stroke-width="3"/><line x1="2388.1" y1="11.0" x2="2388.1" y2="23.4" stroke-width="3"/><line x1="2388.1" y1="613.4" x2="2388.1" y2="625.9" stroke-width="3"/><line x1="2388.1" y1="661.0" x2="2388.1" y2="672.8" stroke-width="3"/><line x1="2388.1" y1="2090.5" x2="2388.1" y2="2101.8" stroke-width="3"/><line x1="2427.5" y1="11.0" x2="2427.5" y2="23.4" stroke-width="3"/><line x1="2427.5" y1="613.4" x2="2427.5" y2="625.9" stroke-width="3"/><line x1="2427.5" y1="661.0" x2="2427.5" y2="672.8" stroke-width="3"/><line x1="2427.5" y1="2090.5" x2="2427.5" y2="2101.8" stroke-width="3"/><line x1="2466.9" y1="11.0" x2="2466.9" y2="23.4" stroke-width="3"/><line x1="2466.9" y1="613.4" x2="2466.9" y2="625.9" stroke-width="3"/><line x1="2466.9" y1="661.0" x2="2466.9" y2="672.8" stroke-width="3"/><line x1="2466.9" y1="2090.5" x2="2466.9" y2="2101.8" stroke-width="3"/><line x1="2506.2" y1="11.0" x2="2506.2" y2="23.4" stroke-width="3"/><line x1="2506.2" y1="613.4" x2="2506.2" y2="625.9" stroke-width="3"/><line x1="2506.2" y1="661.0" x2="2506.2" y2="672.8" stroke-width="3"/><line x1="2506.2" y1="2090.5" x2="2506.2" y2="2101.8" stroke-width="3"/><line x1="2545.6" y1="11.0" x2="2545.6" y2="23.4" stroke-width="3"/><line x1="2545.6" y1="613.4" x2="2545.6" y2="625.9" stroke-width="3"/><line x1="2545.6" y1="661.0" x2="2545.6" y2="672.8" stroke-width="3"/><line x1="2545.6" y1="2090.5" x2="2545.6" y2="2101.8" stroke-width="3"/><line x1="2585.0" y1="1.0" x2="2585.0" y2="23.4" stroke-width="3"/><line x1="2585.0" y1="613.4" x2="2585.0" y2="635.9" stroke-width="3"/><line x1="2585.0" y1="651.1" x2="2585.0" y2="672.8" stroke-width="3"/><line x1="2585.0" y1="2090.5" x2="2585.0" y2="2111.7" stroke-width="3"/><line x1="2624.4" y1="11.0" x2="2624.4" y2="23.4" stroke-width="3"/><line x1="2624.4" y1="613.4" x2="2624.4" y2="625.9" stroke-width="3"/><line x1="2624.4" y1="661.0" x2="2624.4" y2="672.8" stroke-width="3"/><line x1="2624.4" y1="2090.5" x2="2624.4" y2="2101.8" stroke-width="3"/><line x1="2663.8" y1="11.0" x2="2663.8" y2="23.4" stroke-width="3"/><line x1="2663.8" y1="613.4" x2="2663.8" y2="625.9" stroke-width="3"/><line x1="2663.8" y1="661.0" x2="2663.8" y2="672.8" stroke-width="3"/><line x1="2663.8" y1="2090.5" x2="2663.8" y2="2101.8" stroke-width="3"/><line x1="2703.1" y1="11.0" x2="2703.1" y2="23.4" stroke-width="3"/><line x1="2703.1" y1="613.4" x2="2703.1" y2="625.9" stroke-width="3"/><line x1="2703.1" y1="661.0" x2="2703.1" y2="672.8" stroke-width="3"/><line x1="2703.1" y1="2090.5" x2="2703.1" y2="2101.8" stroke-width="3"/><line x1="2742.5" y1="11.0" x2="2742.5" y2="23.4" stroke-width="3"/><line x1="2742.5" y1="613.4" x2="2742.5" y2="625.9" stroke-width="3"/><line x1="2742.5" y1="661.0" x2="2742.5" y2="672.8" stroke-width="3"/><line x1="2742.5" y1="2090.5" x2="2742.5" y2="2101.8" stroke-width="3"/><line x1="2781.9" y1="11.0" x2="2781.9" y2="23.4" stroke-width="3"/><line x1="2781.9" y1="613.4" x2="2781.9" y2="625.9" stroke-width="3"/><line x1="2781.9" y1="661.0" x2="2781.9" y2="672.8" stroke-width="3"/><line x1="2781.9" y1="2090.5" x2="2781.9" y2="2101.8" stroke-width="3"/><line x1="2821.2" y1="11.0" x2="2821.2" y2="23.4" stroke-width="3"/><line x1="2821.2" y1="613.4" x2="2821.2" y2="625.9" stroke-width="3"/><line x1="2821.2" y1="661.0" x2="2821.2" y2="672.8" stroke-width="3"/><line x1="2821.2" y1="2090.5" x2="2821.2" y2="2101.8" stroke-width="3"/><line x1="2860.6" y1="11.0" x2="2860.6" y2="23.4" stroke-width="3"/><line x1="2860.6" y1="613.4" x2="2860.6" y2="625.9" stroke-width="3"/><line x1="2860.6" y1="661.0" x2="2860.6" y2="672.8" stroke-width="3"/><line x1="2860.6" y1="2090.5" x2="2860.6" y2="2101.8" stroke-width="3"/><line x1="2900.0" y1="11.0" x2="2900.0" y2="23.4" stroke-width="3"/><line x1="2900.0" y1="613.4" x2="2900.0" y2="625.9" stroke-width="3"/><line x1="2900.0" y1="661.0" x2="2900.0" y2="672.8" stroke-width="3"/><line x1="2900.0" y1="2090.5" x2="2900.0" y2="2101.8" stroke-width="3"/><line x1="2939.4" y1="11.0" x2="2939.4" y2="23.4" stroke-width="3"/><line x1="2939.4" y1="613.4" x2="2939.4" y2="625.9" stroke-width="3"/><line x1="2939.4" y1="661.0" x2="2939.4" y2="672.8" stroke-width="3"/><line x1="2939.4" y1="2090.5" x2="2939.4" y2="2101.8" stroke-width="3"/><line x1="2978.8" y1="11.0" x2="2978.8" y2="23.4" stroke-width="3"/><line x1="2978.8" y1="613.4" x2="2978.8" y2="625.9" stroke-width="3"/><line x1="2978.8" y1="661.0" x2="2978.8" y2="672.8" stroke-width="3"/><line x1="2978.8" y1="2090.5" x2="2978.8" y2="2101.8" stroke-width="3"/><line x1="3018.1" y1="11.0" x2="3018.1" y2="23.4" stroke-width="3"/><line x1="3018.1" y1="613.4" x2="3018.1" y2="625.9" stroke-width="3"/><line x1="3018.1" y1="661.0" x2="3018.1" y2="672.8" stroke-width="3"/><line x1="3018.1" y1="2090.5" x2="3018.1" y2="2101.8" stroke-width="3"/><line x1="3057.5" y1="1.0" x2="3057.5" y2="23.4" stroke-width="3"/><line x1="3057.5" y1="613.4" x2="3057.5" y2="635.9" stroke-width="3"/><line x1="3057.5" y1="651.1" x2="3057.5" y2="672.8" stroke-width="3"/><line x1="3057.5" y1="2090.5" x2="3057.5" y2="2111.7" stroke-width="3"/><line x1="200.0" y1="23.4" x2="222.5" y2="23.4" stroke-width="3"/><line x1="3057.5" y1="23.4" x2="3080.0" y2="23.4" stroke-width="3"/><line x1="210.0" y1="38.1" x2="222.5" y2="38.1" stroke-width="3"/><line x1="3057.5" y1="38.1" x2="3070.0" y2="38.1" stroke-width="3"/><line x1="210.0" y1="52.9" x2="222.5" y2="52.9" stroke-width="3"/><line x1="3057.5" y1="52.9" x2="3070.0" y2="52.9" stroke-width="3"/><line x1="210.0" y1="67.7" x2="222.5" y2="67.7" stroke-width="3"/><line x1="3057.5" y1="67.7" x2="3070.0" y2="67.7" stroke-width="3"/><line x1="200.0" y1="82.4" x2="222.5" y2="82.4" stroke-width="3"/><line x1="3057.5" y1="82.4" x2="3080.0" y2="82.4" stroke-width="3"/><line x1="210.0" y1="97.2" x2="222.5" y2="97.2" stroke-width="3"/><line x1="3057.5" y1="97.2" x2="3070.0" y2="97.2" stroke-width="3"/><line x1="210.0" y1="111.9" x2="222.5" y2="111.9" stroke-width="3"/><line x1="3057.5" y1="111.9" x2="3070.0" y2="111.9" stroke-width="3"/><line x1="210.0" y1="126.7" x2="222.5" y2="126.7" stroke-width="3"/><line x1="3057.5" y1="126.7" x2="3070.0" y2="126.7" stroke-width="3"/><line x1="200.0" y1="141.4" x2="222.5" y2="141.4" stroke-width="3"/><line x1="3057.5" y1="141.4" x2="3080.0" y2="141.4" stroke-width="3"/><line x1="210.0" y1="156.2" x2="222.5" y2="156.2" stroke-width="3"/><line x1="3057.5" y1="156.2" x2="3070.0" y2="156.2" stroke-width="3"/><line x1="210.0" y1="170.9" x2="222.5" y2="170.9" stroke-width="3"/><line x1="3057.5" y1="170.9" x2="3070.0" y2="170.9" stroke-width="3"/><line x1="210.0" y1="185.7" x2="222.5" y2="185.7" stroke-width="3"/><line x1="3057.5" y1="185.7" x2="3070.0" y2="185.7" stroke-width="3"/><line x1="200.0" y1="200.4" x2="222.5" y2="200.4" stroke-width="3"/><line x1="3057.5" y1="200.4" x2="3080.0" y2="200.4" stroke-width="3"/><line x1="210.0" y1="215.2" x2="222.5" y2="215.2" stroke-width="3"/><line x1="3057.5" y1="215.2" x2="3070.0" y2="215.2" stroke-width="3"/><line x1="210.0" y1="229.9" x2="222.5" y2="229.9" stroke-width="3"/><line x1="3057.5" y1="229.9" x2="3070.0" y2="229.9" stroke-width="3"/><line x1="210.0" y1="244.7" x2="222.5" y2="244.7" stroke-width="3"/><line x1="3057.5" y1="244.7" x2="3070.0" y2="244.7" stroke-width="3"/><line x1="200.0" y1="259.4" x2="222.5" y2="259.4" stroke-width="3"/><line x1="3057.5" y1="259.4" x2="3080.0" y2="259.4" stroke-width="3"/><line x1="210.0" y1="274.1" x2="222.5" y2="274.1" stroke-width="3"/><line x1="3057.5" y1="274.1" x2="3070.0" y2="274.1" stroke-width="3"/><line x1="210.0" y1="288.9" x2="222.5" y2="288.9" stroke-width="3"/><line x1="3057.5" y1="288.9" x2="3070.0" y2="288.9" stroke-width="3"/><line x1="210.0" y1="303.6" x2="222.5" y2="303.6" stroke-width="3"/><line x1="3057.5" y1="303.6" x2="3070.0" y2="303.6" stroke-width="3"/><line x1="200.0" y1="318.4" x2="222.5" y2="318.4" stroke-width="3"/><line x1="3057.5" y1="318.4" x2="3080.0" y2="318.4" stroke-width="3"/><line x1="210.0" y1="333.1" x2="222.5" y2="333.1" stroke-width="3"/><line x1="3057.5" y1="333.1" x2="3070.0" y2="333.1" stroke-width="3"/><line x1="210.0" y1="347.9" x2="222.5" y2="347.9" stroke-width="3"/><line x1="3057.5" y1="347.9" x2="3070.0" y2="347.9" stroke-width="3"/><line x1="210.0" y1="362.6" x2="222.5" y2="362.6" stroke-width="3"/><line x1="3057.5" y1="362.6" x2="3070.0" y2="362.6" stroke-width="3"/><line x1="200.0" y1="377.4" x2="222.5" y2="377.4" stroke-width="3"/><line x1="3057.5" y1="377.4" x2="3080.0" y2="377.4" stroke-width="3"/><line x1="210.0" y1="392.1" x2="222.5" y2="392.1" stroke-width="3"/><line x1="3057.5" y1="392.1" x2="3070.0" y2="392.1" stroke-width="3"/><line x1="210.0" y1="406.9" x2="222.5" y2="406.9" stroke-width="3"/><line x1="3057.5" y1="406.9" x2="3070.0" y2="406.9" stroke-width="3"/><line x1="210.0" y1="421.6" x2="222.5" y2="421.6" stroke-width="3"/><line x1="3057.5" y1="421.6" x2="3070.0" y2="421.6" stroke-width="3"/><line x1="200.0" y1="436.4" x2="222.5" y2="436.4" stroke-width="3"/><line x1="3057.5" y1="436.4" x2="3080.0" y2="436.4" stroke-width="3"/><line x1="210.0" y1="451.1" x2="222.5" y2="451.1" stroke-width="3"/><line x1="3057.5" y1="451.1" x2="3070.0" y2="451.1" stroke-width="3"/><line x1="210.0" y1="465.9" x2="222.5" y2="465.9" stroke-width="3"/><line x1="3057.5" y1="465.9" x2="3070.0" y2="465.9" stroke-width="3"/><line x1="210.0" y1="480.6" x2="222.5" y2="480.6" stroke-width="3"/><line x1="3057.5" y1="480.6" x2="3070.0" y2="480.6" stroke-width="3"/><line x1="200.0" y1="495.4" x2="222.5" y2="495.4" stroke-width="3"/><line x1="3057.5" y1="495.4" x2="3080.0" y2="495.4" stroke-width="3"/><line x1="210.0" y1="510.1" x2="222.5" y2="510.1" stroke-width="3"/><line x1="3057.5" y1="510.1" x2="3070.0" y2="510.1" stroke-width="3"/><line x1="210.0" y1="524.9" x2="222.5" y2="524.9" stroke-width="3"/><line x1="3057.5" y1="524.9" x2="3070.0" y2="524.9" stroke-width="3"/><line x1="210.0" y1="539.6" x2="222.5" y2="539.6" stroke-width="3"/><line x1="3057.5" y1="539.6" x2="3070.0" y2="539.6" stroke-width="3"/><line x1="200.0" y1="554.4" x2="222.5" y2="554.4" stroke-width="3"/><line x1="3057.5" y1="554.4" x2="3080.0" y2="554.4" stroke-width="3"/><line x1="210.0" y1="569.1" x2="222.5" y2="569.1" stroke-width="3"/><line x1="3057.5" y1="569.1" x2="3070.0" y2="569.1" stroke-width="3"/><line x1="210.0" y1="583.9" x2="222.5" y2="583.9" stroke-width="3"/><line x1="3057.5" y1="583.9" x2="3070.0" y2="583.9" stroke-width="3"/><line x1="210.0" y1="598.6" x2="222.5" y2="598.6" stroke-width="3"/><line x1="3057.5" y1="598.6" x2="3070.0" y2="598.6" stroke-width="3"/><line x1="200.0" y1="613.4" x2="222.5" y2="613.4" stroke-width="3"/><line x1="3057.5" y1="613.4" x2="3080.0" y2="613.4" stroke-width="3"/><line x1="210.0" y1="2090.5" x2="222.5" y2="2090.5" stroke-width="3"/><line x1="3057.5" y1="2090.5" x2="3070.0" y2="2090.5" stroke-width="3"/><line x1="210.0" y1="2062.4" x2="222.5" y2="2062.4" stroke-width="3"/><line x1="3057.5" y1="2062.4" x2="3070.0" y2="2062.4" stroke-width="3"/><line x1="210.0" y1="2038.7" x2="222.5" y2="2038.7" stroke-width="3"/><line x1="3057.5" y1="2038.7" x2="3070.0" y2="2038.7" stroke-width="3"/><line x1="210.0" y1="2018.2" x2="222.5" y2="2018.2" stroke-width="3"/><line x1="3057.5" y1="2018.2" x2="3070.0" y2="2018.2" stroke-width="3"/><line x1="210.0" y1="2000.0" x2="222.5" y2="2000.0" stroke-width="3"/><line x1="3057.5" y1="2000.0" x2="3070.0" y2="2000.0" stroke-width="3"/><line x1="200.0" y1="1983.8" x2="222.5" y2="1983.8" stroke-width="3"/><line x1="3057.5" y1="1983.8" x2="3080.0" y2="1983.8" stroke-width="3"/><line x1="210.0" y1="1877.1" x2="222.5" y2="1877.1" stroke-width="3"/><line x1="3057.5" y1="1877.1" x2="3070.0" y2="1877.1" stroke-width="3"/><line x1="210.0" y1="1814.7" x2="222.5" y2="1814.7" stroke-width="3"/><line x1="3057.5" y1="1814.7" x2="3070.0" y2="1814.7" stroke-width="3"/><line x1="210.0" y1="1770.4" x2="222.5" y2="1770.4" stroke-width="3"/><line x1="3057.5" y1="1770.4" x2="3070.0" y2="1770.4" stroke-width="3"/><line x1="210.0" y1="1736.1" x2="222.5" y2="1736.1" stroke-width="3"/><line x1="3057.5" y1="1736.1" x2="3070.0" y2="1736.1" stroke-width="3"/><line x1="210.0" y1="1708.0" x2="222.5" y2="1708.0" stroke-width="3"/><line x1="3057.5" y1="1708.0" x2="3070.0" y2="1708.0" stroke-width="3"/><line x1="210.0" y1="1684.3" x2="222.5" y2="1684.3" stroke-width="3"/><line x1="3057.5" y1="1684.3" x2="3070.0" y2="1684.3" stroke-width="3"/><line x1="210.0" y1="1663.7" x2="222.5" y2="1663.7" stroke-width="3"/><line x1="3057.5" y1="1663.7" x2="3070.0" y2="1663.7" stroke-width="3"/><line x1="210.0" y1="1645.6" x2="222.5" y2="1645.6" stroke-width="3"/><line x1="3057.5" y1="1645.6" x2="3070.0" y2="1645.6" stroke-width="3"/><line x1="200.0" y1="1629.4" x2="222.5" y2="1629.4" stroke-width="3"/><line x1="3057.5" y1="1629.4" x2="3080.0" y2="1629.4" stroke-width="3"/><line x1="210.0" y1="1522.7" x2="222.5" y2="1522.7" stroke-width="3"/><line x1="3057.5" y1="1522.7" x2="3070.0" y2="1522.7" stroke-width="3"/><line x1="210.0" y1="1460.3" x2="222.5" y2="1460.3" stroke-width="3"/><line x1="3057.5" y1="1460.3" x2="3070.0" y2="1460.3" stroke-width="3"/><line x1="210.0" y1="1416.0" x2="222.5" y2="1416.0" stroke-width="3"/><line x1="3057.5" y1="1416.0" x2="3070.0" y2="1416.0" stroke-width="3"/><line x1="210.0" y1="1381.7" x2="222.5" y2="1381.7" stroke-width="3"/><line x1="3057.5" y1="1381.7" x2="3070.0" y2="1381.7" stroke-width="3"/><line x1="210.0" y1="1353.6" x2="222.5" y2="1353.6" stroke-width="3"/><line x1="3057.5" y1="1353.6" x2="3070.0" y2="1353.6" stroke-width="3"/><line x1="210.0" y1="1329.9" x2="222.5" y2="1329.9" stroke-width="3"/><line x1="3057.5" y1="1329.9" x2="3070.0" y2="1329.9" stroke-width="3"/><line x1="210.0" y1="1309.3" x2="222.5" y2="1309.3" stroke-width="3"/><line x1="3057.5" y1="1309.3" x2="3070.0" y2="1309.3" stroke-width="3"/><line x1="210.0" y1="1291.2" x2="222.5" y2="1291.2" stroke-width="3"/><line x1="3057.5" y1="1291.2" x2="3070.0" y2="1291.2" stroke-width="3"/><line x1="200.0" y1="1275.0" x2="222.5" y2="1275.0" stroke-width="3"/><line x1="3057.5" y1="1275.0" x2="3080.0" y2="1275.0" stroke-width="3"/><line x1="210.0" y1="1168.3" x2="222.5" y2="1168.3" stroke-width="3"/><line x1="3057.5" y1="1168.3" x2="3070.0" y2="1168.3" stroke-width="3"/><line x1="210.0" y1="1105.9" x2="222.5" y2="1105.9" stroke-width="3"/><line x1="3057.5" y1="1105.9" x2="3070.0" y2="1105.9" stroke-width="3"/><line x1="210.0" y1="1061.6" x2="222.5" y2="1061.6" stroke-width="3"/><line x1="3057.5" y1="1061.6" x2="3070.0" y2="1061.6" stroke-width="3"/><line x1="210.0" y1="1027.2" x2="222.5" y2="1027.2" stroke-width="3"/><line x1="3057.5" y1="1027.2" x2="3070.0" y2="1027.2" stroke-width="3"/><line x1="210.0" y1="999.2" x2="222.5" y2="999.2" stroke-width="3"/><line x1="3057.5" y1="999.2" x2="3070.0" y2="999.2" stroke-width="3"/><line x1="210.0" y1="975.4" x2="222.5" y2="975.4" stroke-width="3"/><line x1="3057.5" y1="975.4" x2="3070.0" y2="975.4" stroke-width="3"/><line x1="210.0" y1="954.9" x2="222.5" y2="954.9" stroke-width="3"/><line x1="3057.5" y1="954.9" x2="3070.0" y2="954.9" stroke-width="3"/><line x1="210.0" y1="936.8" x2="222.5" y2="936.8" stroke-width="3"/><line x1="3057.5" y1="936.8" x2="3070.0" y2="936.8" stroke-width="3"/><line x1="200.0" y1="920.5" x2="222.5" y2="920.5" stroke-width="3"/><line x1="3057.5" y1="920.5" x2="3080.0" y2="920.5" stroke-width="3"/><line x1="210.0" y1="813.8" x2="222.5" y2="813.8" stroke-width="3"/><line x1="3057.5" y1="813.8" x2="3070.0" y2="813.8" stroke-width="3"/><line x1="210.0" y1="751.4" x2="222.5" y2="751.4" stroke-width="3"/><line x1="3057.5" y1="751.4" x2="3070.0" y2="751.4" stroke-width="3"/><line x1="210.0" y1="707.1" x2="222.5" y2="707.1" stroke-width="3"/><line x1="3057.5" y1="707.1" x2="3070.0" y2="707.1" stroke-width="3"/><line x1="210.0" y1="672.8" x2="222.5" y2="672.8" stroke-width="3"/><line x1="3057.5" y1="672.8" x2="3070.0" y2="672.8" stroke-width="3"/></g>
<path fill="none" stroke="#000" stroke-width="1.15" d="M226.5 313.6V321.5M227.5 313.7V321.3M228.5 314.9V322.8M229.5 315.6V321.6M230.5 313.0V322.6M231.5 310.9V322.1M232.5 314.4V322.8M233.5 313.1V321.0M234.5 313.8V321.2M235.5 314.6V322.6M236.5 313.1V320.8M237.5 314.7V327.0M238.5 314.3V323.2M239.5 311.8V322.3M240.5 314.8V322.3M241.5 315.8V320.8M242.5 314.1V321.9M243.5 315.2V321.2M244.5 315.5V323.3M245.5 315.8V321.7M246.5 315.3V321.2M247.5 314.8V322.9M248.5 314.7V323.5M249.5 315.2V321.5M250.5 315.5V322.2M251.5 315.3V322.2M252.5 315.4V322.5M253.5 315.3V321.4M254.5 315.5V322.2M255.5 315.1V322.4M256.5 315.7V323.2M257.5 311.4V322.1M258.5 312.6V322.4M259.5 313.6V324.0M260.5 315.8V322.0M261.5 314.7V321.2M262.5 314.0V322.5M263.5 315.4V321.1M264.5 315.6V323.6M265.5 314.7V323.0M266.5 314.5V324.0M267.5 314.3V322.8M268.5 313.9V321.4M269.5 314.8V321.2M270.5 314.9V321.2M271.5 311.9V324.0M272.5 314.9V323.0M273.5 315.5V320.9M274.5 311.8V325.2M275.5 315.6V322.4M276.5 313.8V321.8M277.5 313.4V322.5M278.5 314.7V324.6M279.5 314.3V324.4M280.5 313.0V322.4M281.5 313.5V321.9M282.5 313.7V324.7M283.5 313.7V322.8M284.5 315.6V323.2M285.5 315.4V321.4M286.5 313.4V321.3M287.5 315.5V323.6M288.5 312.8V323.5M289.5 314.3V320.9M290.5 315.5V321.8M291.5 314.8V322.4M292.5 314.6V323.2M293.5 312.8V322.2M294.5 314.5V322.0M295.5 315.4V321.7M296.5 314.0V323.8M297.5 314.4V321.2M298.5 314.4V321.2M299.5 313.6V322.1M300.5 314.4V324.0M301.5 309.8V321.0M302.5 315.2V323.1M303.5 315.7V321.1M304.5 315.4V320.9M305.5 313.1V321.8M306.5 314.0V322.7M307.5 313.2V321.5M308.5 314.7V322.6M309.5 315.2V322.1M310.5 315.1V322.9M311.5 315.7V322.6M312.5 315.2V321.2M313.5 315.6V321.7M314.5 313.0V323.6M315.5 312.4V322.4M316.5 313.9V321.5M317.5 315.0V323.6M318.5 314.0V323.0M319.5 311.7V323.8M320.5 312.7V321.5M321.5 312.8V322.7M322.5 314.1V321.8M323.5 311.3V322.9M324.5 315.5V321.9M325.5 315.6V321.8M326.5 312.9V321.1M327.5 314.2V324.8M328.5 315.1V321.0M329.5 314.3V321.0M330.5 314.4V322.5M331.5 314.4V321.4M332.5 313.6V324.0M333.5 313.0V324.6M334.5 314.7V321.3M335.5 313.3V329.9M336.5 313.2V322.7M337.5 311.0V321.0M338.5 311.9V321.9M339.5 314.9V321.0M340.5 314.2V324.3M341.5 315.3V321.9M342.5 315.0V321.2M343.5 314.6V321.0M344.5 315.2V322.3M345.5 315.2V321.4M346.5 314.5V322.1M347.5 315.5V322.4M348.5 315.1V321.5M349.5 315.9V321.0M350.5 315.5V321.3M351.5 314.9V321.4M352.5 316.7V321.8M353.5 316.4V320.7M354.5 316.0V323.6M355.5 316.3V320.4M356.5 316.8V320.3M357.5 315.1V321.5M358.5 316.1V319.9M359.5 314.4V322.4M360.5 315.2V319.8M361.5 316.3V321.3M362.5 316.2V320.1M363.5 316.2V321.8M364.5 311.6V320.0M365.5 316.7V320.8M366.5 315.7V319.9M367.5 315.1V319.9M368.5 316.3V320.9M369.5 316.2V320.2M370.5 316.6V319.8M371.5 316.3V321.4M372.5 316.0V320.6M373.5 313.7V319.9M374.5 316.7V322.2M375.5 316.5V321.8M376.5 315.0V321.1M377.5 316.4V321.9M378.5 316.4V320.6M379.5 316.2V320.3M380.5 314.9V322.0M381.5 313.9V321.3M382.5 314.8V322.5M383.5 309.9V325.7M384.5 314.9V323.7M385.5 313.3V321.2M386.5 315.2V322.6M387.5 314.7V321.6M388.5 313.8V321.5M389.5 310.5V323.2M390.5 315.5V321.5M391.5 315.8V321.3M392.5 314.7V322.5M393.5 305.8V320.9M394.5 313.4V321.2M395.5 315.2V323.4M396.5 315.2V323.6M397.5 314.5V321.4M398.5 312.8V323.3M399.5 310.7V322.5M400.5 312.3V322.5M401.5 311.0V321.5M402.5 311.6V321.4M403.5 310.9V321.8M404.5 315.1V321.3M405.5 312.7V321.1M406.5 313.3V321.7M407.5 315.6V323.2M408.5 315.4V323.0M409.5 313.0V321.7M410.5 312.9V323.3M411.5 314.6V322.0M412.5 314.9V322.9M413.5 313.8V323.0M414.5 315.8V325.8M415.5 314.6V321.2M416.5 315.2V321.4M417.5 315.1V321.1M418.5 313.4V321.6M419.5 314.6V321.0M420.5 315.7V324.6M421.5 313.6V323.0M422.5 314.6V321.4M423.5 314.0V322.7M424.5 314.8V322.8M425.5 314.1V321.7M426.5 312.8V323.1M427.5 313.1V321.1M428.5 315.7V321.5M429.5 315.4V321.4M430.5 315.4V323.5M431.5 314.7V322.1M432.5 315.2V321.5M433.5 312.1V322.5M434.5 314.1V321.8M435.5 315.3V322.3M436.5 312.3V322.3M437.5 314.7V322.1M438.5 314.4V321.9M439.5 312.8V322.1M440.5 314.6V322.8M441.5 315.6V324.5M442.5 313.7V321.1M443.5 311.5V322.7M444.5 315.6V321.4M445.5 315.6V325.0M446.5 313.6V322.1M447.5 315.7V323.4M448.5 315.2V323.8M449.5 315.6V322.6M450.5 313.2V321.3M451.5 313.0V321.5M452.5 314.2V321.7M453.5 314.0V323.9M454.5 313.9V324.1M455.5 314.4V322.5M456.5 315.2V322.6M457.5 314.0V323.2M458.5 315.0V321.6M459.5 314.5V321.5M460.5 314.4V324.1M461.5 315.5V321.4M462.5 312.1V322.8M463.5 315.5V322.1M464.5 314.7V321.5M465.5 315.6V321.9M466.5 314.9V322.9M467.5 314.4V321.0M468.5 314.4V321.6M469.5 313.8V321.4M470.5 311.6V322.1M471.5 314.1V322.3M472.5 315.0V326.2M473.5 315.8V321.1M474.5 313.6V323.1M475.5 315.0V321.5M476.5 315.2V322.1M477.5 313.3V321.1M478.5 315.6V323.0M479.5 315.8V320.9M480.5 313.9V324.4M481.5 314.1V322.0M482.5 313.5V321.5M483.5 314.8V323.8M484.5 315.1V321.2M485.5 315.2V323.0M486.5 313.9V323.6M487.5 315.5V321.5M488.5 313.0V321.4M489.5 315.5V321.6M490.5 311.2V321.9M491.5 315.6V321.0M492.5 315.5V322.1M493.5 315.5V320.9M494.5 315.4V322.0M495.5 315.4V322.5M496.5 315.3V322.4M497.5 315.1V322.0M498.5 315.6V322.4M499.5 313.1V321.9M500.5 315.4V321.5M501.5 313.6V322.3M502.5 315.0V322.5M503.5 315.1V321.2M504.5 315.3V321.6M505.5 312.2V322.6M506.5 313.2V321.0M507.5 315.0V322.4M508.5 315.5V321.0M509.5 314.2V325.6M510.5 313.4V322.9M511.5 315.3V321.5M512.5 312.6V321.0M513.5 315.0V321.5M514.5 313.9V322.1M515.5 314.8V320.8M516.5 313.6V321.0M517.5 315.2V321.8M518.5 315.0V322.4M519.5 315.3V322.3M520.5 305.1V322.3M521.5 313.9V322.1M522.5 314.5V321.3M523.5 312.5V321.0M524.5 313.4V323.1M525.5 314.7V321.6M526.5 315.2V321.8M527.5 315.4V321.0M528.5 311.6V321.1M529.5 314.8V323.3M530.5 314.0V322.4M531.5 314.6V320.9M532.5 314.7V322.2M533.5 314.8V322.7M534.5 314.3V321.5M535.5 313.2V321.4M536.5 313.4V321.4M537.5 313.7V322.1M538.5 315.6V323.8M539.5 312.4V320.9M540.5 314.2V321.8M541.5 314.0V322.0M542.5 312.2V322.4M543.5 313.1V321.8M544.5 315.5V323.2M545.5 314.6V323.1M546.5 314.0V323.9M547.5 315.7V322.3M548.5 315.7V321.5M549.5 313.2V321.4M550.5 312.9V322.3M551.5 315.8V323.1M552.5 313.2V324.7M553.5 314.5V320.8M554.5 315.5V321.4M555.5 315.1V322.5M556.5 309.4V321.1M557.5 311.6V320.8M558.5 314.6V321.0M559.5 312.4V322.6M560.5 314.9V322.2M561.5 314.1V324.1M562.5 315.0V323.2M563.5 312.0V321.2M564.5 312.9V322.9M565.5 314.0V322.9M566.5 315.1V321.0M567.5 314.8V323.5M568.5 315.2V322.0M569.5 315.4V322.5M570.5 314.0V322.4M571.5 314.5V324.7M572.5 304.8V323.3M573.5 311.2V321.2M574.5 315.8V324.9M575.5 315.8V322.3M576.5 314.3V324.3M577.5 313.8V321.2M578.5 312.7V323.5M579.5 314.8V322.9M580.5 314.1V322.8M581.5 313.7V321.0M582.5 314.9V322.8M583.5 314.4V323.6M584.5 314.8V321.6M585.5 315.3V323.9M586.5 315.6V322.9M587.5 313.9V324.2M588.5 312.5V322.4M589.5 315.6V321.1M590.5 314.0V321.6M591.5 315.6V321.5M592.5 313.8V321.7M593.5 315.7V321.8M594.5 314.3V321.2M595.5 314.4V321.0M596.5 313.0V322.6M597.5 315.8V321.9M598.5 312.9V323.6M599.5 314.8V327.2M600.5 314.8V320.9M601.5 315.8V321.3M602.5 315.0V321.4M603.5 315.2V322.7M604.5 315.6V323.7M605.5 315.8V323.1M606.5 311.7V321.8M607.5 313.2V325.1M608.5 314.0V321.3M609.5 314.3V321.4M610.5 314.2V322.6M611.5 314.1V321.2M612.5 313.5V322.9M613.5 315.1V321.7M614.5 315.2V321.8M615.5 314.3V321.1M616.5 313.1V320.9M617.5 312.2V322.5M618.5 315.7V321.1M619.5 315.7V322.6M620.5 315.5V322.2M621.5 313.4V324.3M622.5 315.5V323.7M623.5 314.2V321.0M624.5 312.6V322.7M625.5 314.2V323.0M626.5 314.8V321.1M627.5 314.3V321.1M628.5 314.9V321.1M629.5 315.6V323.7M630.5 315.1V321.8M631.5 315.4V322.6M632.5 314.9V321.8M633.5 315.1V321.9M634.5 312.8V322.1M635.5 315.0V323.4M636.5 315.2V323.5M637.5 312.3V321.8M638.5 315.3V321.4M639.5 315.3V321.2M640.5 314.8V322.7M641.5 314.8V322.3M642.5 314.5V323.1M643.5 314.4V321.7M644.5 314.4V322.7M645.5 311.9V321.7M646.5 314.1V323.3M647.5 314.2V321.1M648.5 314.2V321.0M649.5 314.5V321.4M650.5 315.0V322.7M651.5 314.2V321.3M652.5 312.9V321.9M653.5 314.5V322.1M654.5 315.2V324.1M655.5 312.9V323.8M656.5 315.2V322.4M657.5 315.1V321.8M658.5 313.2V322.0M659.5 315.7V322.9M660.5 313.4V321.6M661.5 313.5V324.9M662.5 313.7V323.9M663.5 315.2V323.5M664.5 312.5V321.6M665.5 314.3V322.2M666.5 314.8V321.9M667.5 314.5V321.1M668.5 315.3V321.8M669.5 315.3V321.5M670.5 314.3V322.1M671.5 314.7V320.9M672.5 315.4V321.2M673.5 312.6V321.0M674.5 315.5V322.1M675.5 315.0V322.2M676.5 313.9V323.6M677.5 313.3V322.1M678.5 314.2V324.9M679.5 315.7V324.2M680.5 314.9V321.0M681.5 313.6V322.0M682.5 307.6V323.0M683.5 314.4V321.2M684.5 314.9V320.8M685.5 313.6V321.2M686.5 314.7V321.9M687.5 315.0V322.0M688.5 313.5V322.9M689.5 313.7V322.6M690.5 315.5V321.8M691.5 312.5V323.4M692.5 314.9V320.9M693.5 313.5V321.1M694.5 314.8V321.8M695.5 314.1V321.0M696.5 315.2V321.0M697.5 315.5V321.5M698.5 309.7V321.4M699.5 314.4V322.3M700.5 315.2V324.6M701.5 314.8V321.8M702.5 312.0V325.1M703.5 314.3V323.3M704.5 314.5V321.0M705.5 315.8V322.4M706.5 314.6V320.9M707.5 313.6V321.0M708.5 315.0V323.6M709.5 314.7V324.0M710.5 315.0V320.9M711.5 313.5V322.4M712.5 315.5V321.0M713.5 315.5V322.6M714.5 314.0V323.5M715.5 314.7V322.1M716.5 314.5V322.8M717.5 315.1V323.7M718.5 314.9V321.8M719.5 315.6V320.9M720.5 314.5V321.7M721.5 314.6V321.2M722.5 303.1V323.5M723.5 314.6V321.1M724.5 315.5V321.9M725.5 313.9V324.7M726.5 315.1V322.3M727.5 314.3V322.8M728.5 315.0V321.8M729.5 313.1V323.1M730.5 313.5V325.6M731.5 313.3V321.6M732.5 314.8V321.7M733.5 311.3V321.8M734.5 313.8V322.1M735.5 314.6V322.5M736.5 315.7V322.4M737.5 314.0V320.9M738.5 312.0V324.7M739.5 315.5V324.2M740.5 312.7V322.1M741.5 310.1V326.5M742.5 315.8V324.1M743.5 312.3V321.6M744.5 315.3V325.4M745.5 314.5V320.9M746.5 313.9V323.2M747.5 313.1V322.6M748.5 315.2V322.5M749.5 315.3V321.6M750.5 313.1V323.1M751.5 315.2V321.2M752.5 315.1V323.2M753.5 315.6V322.0M754.5 315.5V320.9M755.5 314.8V323.1M756.5 313.6V322.5M757.5 313.9V322.8M758.5 315.2V321.4M759.5 314.5V321.9M760.5 313.0V320.9M761.5 314.8V322.0M762.5 314.3V322.8M763.5 315.0V322.5M764.5 311.5V321.0M765.5 315.4V322.1M766.5 315.0V324.4M767.5 314.1V322.9M768.5 314.2V321.5M769.5 312.8V322.0M770.5 311.6V322.4M771.5 314.9V323.3M772.5 315.0V321.3M773.5 315.8V322.7M774.5 314.3V324.0M775.5 315.0V321.0M776.5 314.3V321.7M777.5 315.3V323.4M778.5 309.7V323.4M779.5 314.5V322.3M780.5 314.6V323.0M781.5 310.2V321.6M782.5 314.6V323.1M783.5 315.1V320.8M784.5 313.7V322.3M785.5 314.6V320.9M786.5 314.7V322.2M787.5 314.9V321.3M788.5 313.7V322.9M789.5 314.7V323.5M790.5 314.3V327.3M791.5 315.5V321.0M792.5 309.6V321.3M793.5 314.9V320.8M794.5 315.3V321.4M795.5 314.9V323.8M796.5 315.3V321.1M797.5 313.6V321.5M798.5 315.3V321.5M799.5 313.1V324.7M800.5 313.7V322.2M801.5 314.0V321.7M802.5 315.5V323.6M803.5 315.4V321.8M804.5 312.2V323.5M805.5 315.7V321.7M806.5 314.8V322.6M807.5 312.5V323.6M808.5 311.9V320.8M809.5 314.9V323.6M810.5 314.5V322.2M811.5 314.6V322.3M812.5 312.5V323.8M813.5 313.6V321.6M814.5 314.5V320.9M815.5 315.6V320.8M816.5 315.6V320.8M817.5 314.1V321.2M818.5 314.8V321.9M819.5 314.5V321.6M820.5 312.5V321.1M821.5 315.4V324.0M822.5 314.6V322.2M823.5 315.5V321.5M824.5 315.0V322.2M825.5 314.5V323.7M826.5 312.9V324.4M827.5 313.5V329.0M828.5 315.6V320.9M829.5 313.4V322.1M830.5 315.2V321.2M831.5 313.0V321.9M832.5 314.0V322.4M833.5 315.0V321.2M834.5 314.3V322.8M835.5 313.6V321.5M836.5 315.3V322.6M837.5 315.3V321.6M838.5 315.4V320.9M839.5 313.9V322.7M840.5 313.0V320.9M841.5 315.6V321.6M842.5 314.6V322.9M843.5 315.2V321.7M844.5 314.0V322.0M845.5 312.7V322.4M846.5 314.0V321.8M847.5 314.5V323.3M848.5 315.6V323.7M849.5 315.8V321.5M850.5 313.7V322.8M851.5 314.1V322.4M852.5 314.1V321.9M853.5 315.4V324.7M854.5 313.1V321.4M855.5 314.3V321.3M856.5 312.9V321.7M857.5 313.2V322.6M858.5 315.1V322.9M859.5 313.6V322.9M860.5 312.5V323.2M861.5 312.9V324.1M862.5 314.9V324.2M863.5 313.7V322.2M864.5 315.4V322.1M865.5 314.4V320.9M866.5 315.4V322.9M867.5 313.9V323.8M868.5 314.1V322.2M869.5 313.2V321.4M870.5 308.4V322.2M871.5 315.5V322.1M872.5 313.8V322.9M873.5 313.5V320.9M874.5 315.3V332.5M875.5 310.1V322.5M876.5 314.3V320.9M877.5 313.3V321.9M878.5 313.1V321.1M879.5 313.4V322.9M880.5 314.1V321.1M881.5 314.9V323.5M882.5 315.1V320.9M883.5 311.3V322.5M884.5 314.8V321.9M885.5 314.5V324.9M886.5 311.9V322.1M887.5 315.5V320.9M888.5 313.5V322.3M889.5 312.6V325.4M890.5 314.9V321.0M891.5 315.4V325.5M892.5 313.4V321.1M893.5 315.8V325.0M894.5 314.9V322.4M895.5 315.6V321.1M896.5 315.6V323.2M897.5 314.4V323.1M898.5 315.4V324.5M899.5 315.0V321.9M900.5 315.5V322.4M901.5 315.0V322.0M902.5 315.7V324.5M903.5 315.6V322.3M904.5 315.4V323.5M905.5 315.1V321.0M906.5 315.8V322.1M907.5 314.1V320.9M908.5 311.1V323.7M909.5 313.7V323.2M910.5 314.1V323.5M911.5 315.2V323.1M912.5 310.7V321.3M913.5 312.1V322.4M914.5 314.8V324.4M915.5 314.3V321.5M916.5 314.0V323.0M917.5 315.5V321.7M918.5 313.7V322.8M919.5 314.1V322.1M920.5 314.8V321.3M921.5 314.3V321.3M922.5 314.2V322.3M923.5 313.0V322.1M924.5 315.1V321.0M925.5 314.4V321.5M926.5 313.9V321.8M927.5 314.7V322.8M928.5 314.5V325.5M929.5 313.0V322.9M930.5 314.2V324.8M931.5 312.8V321.3M932.5 314.8V321.1M933.5 315.7V322.7M934.5 313.2V320.8M935.5 315.7V321.1M936.5 314.4V321.2M937.5 314.4V322.3M938.5 315.1V322.3M939.5 314.2V321.7M940.5 314.2V321.2M941.5 315.4V325.0M942.5 315.0V321.5M943.5 314.3V320.9M944.5 315.6V322.1M945.5 313.4V324.5M946.5 313.5V322.4M947.5 313.8V321.6M948.5 312.3V321.0M949.5 313.5V321.9M950.5 314.0V321.9M951.5 312.8V324.5M952.5 315.1V321.1M953.5 315.5V324.2M954.5 315.7V324.7M955.5 313.8V321.8M956.5 313.7V320.9M957.5 314.6V322.6M958.5 315.4V322.0M959.5 314.2V325.5M960.5 314.5V323.8M961.5 314.6V323.8M962.5 315.2V322.2M963.5 315.5V321.0M964.5 314.0V323.5M965.5 312.3V323.0M966.5 313.3V332.3M967.5 315.4V321.9M968.5 315.5V326.0M969.5 313.8V328.1M970.5 315.0V324.4M971.5 313.4V321.7M972.5 314.5V322.4M973.5 315.5V323.4M974.5 315.1V322.8M975.5 315.6V321.9M976.5 314.1V324.8M977.5 312.2V322.6M978.5 313.4V321.5M979.5 315.6V322.4M980.5 313.7V326.3M981.5 312.9V321.3M982.5 315.1V323.1M983.5 315.5V322.5M984.5 313.4V321.6M985.5 314.7V321.5M986.5 314.9V321.0M987.5 314.6V323.6M988.5 313.1V324.1M989.5 315.8V323.0M990.5 314.7V321.0M991.5 314.8V321.2M992.5 315.4V323.6M993.5 314.5V323.6M994.5 315.3V322.7M995.5 314.2V322.1M996.5 315.3V322.0M997.5 314.9V321.2M998.5 313.1V322.1M999.5 314.2V323.0M1000.5 312.9V321.6M1001.5 315.1V320.9M1002.5 314.9V321.0M1003.5 314.5V322.5M1004.5 312.7V325.6M1005.5 314.3V322.5M1006.5 312.7V323.1M1007.5 315.0V323.7M1008.5 314.4V322.4M1009.5 314.7V323.3M1010.5 314.6V323.9M1011.5 311.9V321.5M1012.5 312.8V323.7M1013.5 315.3V322.8M1014.5 315.6V322.5M1015.5 313.0V321.8M1016.5 313.1V322.1M1017.5 315.3V323.3M1018.5 314.0V325.0M1019.5 315.5V323.6M1020.5 310.7V324.7M1021.5 315.0V321.4M1022.5 314.0V324.4M1023.5 313.0V322.7M1024.5 315.5V323.6M1025.5 314.9V323.5M1026.5 314.5V321.1M1027.5 314.1V323.9M1028.5 315.1V323.6M1029.5 314.3V321.1M1030.5 313.2V322.9M1031.5 314.8V323.1M1032.5 313.7V322.5M1033.5 312.9V321.3M1034.5 313.4V324.9M1035.5 314.1V324.7M1036.5 315.2V323.0M1037.5 313.5V321.4M1038.5 314.4V322.6M1039.5 314.0V321.8M1040.5 314.8V321.8M1041.5 315.2V322.9M1042.5 315.1V321.8M1043.5 314.2V322.6M1044.5 314.5V323.4M1045.5 314.5V324.2M1046.5 310.9V323.2M1047.5 309.3V326.3M1048.5 314.2V325.2M1049.5 312.5V322.4M1050.5 310.2V324.0M1051.5 313.9V323.5M1052.5 314.0V323.9M1053.5 313.1V323.6M1054.5 308.9V326.7M1055.5 312.3V325.3M1056.5 313.6V322.8M1057.5 310.4V322.7M1058.5 308.0V322.9M1059.5 313.6V326.6M1060.5 312.8V325.3M1061.5 311.7V323.4M1062.5 314.2V324.8M1063.5 311.7V322.7M1064.5 314.0V323.9M1065.5 310.7V323.1M1066.5 310.4V325.7M1067.5 311.7V326.3M1068.5 311.6V324.0M1069.5 310.5V323.2M1070.5 312.6V328.7M1071.5 311.6V329.8M1072.5 313.7V324.4M1073.5 311.7V326.5M1074.5 313.9V325.9M1075.5 308.1V324.6M1076.5 309.1V326.7M1077.5 310.6V323.5M1078.5 311.8V325.2M1079.5 305.1V326.8M1080.5 313.3V323.5M1081.5 311.3V323.6M1082.5 311.0V324.5M1083.5 308.1V323.8M1084.5 313.6V325.4M1085.5 312.3V325.5M1086.5 312.3V322.5M1087.5 314.1V323.3M1088.5 310.8V328.4M1089.5 311.2V324.6M1090.5 312.7V326.3M1091.5 313.8V322.4M1092.5 312.6V323.6M1093.5 312.2V322.7M1094.5 313.7V323.6M1095.5 306.6V326.2M1096.5 313.7V323.9M1097.5 313.4V324.9M1098.5 314.5V324.1M1099.5 314.2V322.8M1100.5 314.5V324.1M1101.5 312.4V328.9M1102.5 312.9V323.8M1103.5 313.8V322.0M1104.5 312.3V324.2M1105.5 313.1V323.6M1106.5 309.9V325.1M1107.5 311.6V321.9M1108.5 312.9V322.7M1109.5 314.5V322.9M1110.5 313.0V322.3M1111.5 312.7V324.9M1112.5 307.9V326.1M1113.5 306.5V322.5M1114.5 314.0V322.3M1115.5 309.6V325.3M1116.5 314.2V323.1M1117.5 313.7V323.1M1118.5 312.3V322.5M1119.5 311.9V323.2M1120.5 314.0V322.0M1121.5 313.9V332.2M1122.5 312.2V323.9M1123.5 313.0V323.8M1124.5 311.9V324.8M1125.5 312.7V322.4M1126.5 314.7V326.4M1127.5 313.2V322.6M1128.5 312.1V339.9M1129.5 313.1V323.7M1130.5 309.4V323.3M1131.5 307.4V328.0M1132.5 311.1V327.3M1133.5 312.0V323.8M1134.5 314.6V322.8M1135.5 314.3V324.1M1136.5 313.7V324.5M1137.5 312.7V322.0M1138.5 314.2V323.4M1139.5 313.7V325.0M1140.5 313.2V321.9M1141.5 306.4V322.1M1142.5 310.7V322.3M1143.5 312.3V322.9M1144.5 313.0V323.2M1145.5 311.0V322.7M1146.5 313.4V328.4M1147.5 311.7V322.9M1148.5 314.4V325.1M1149.5 313.8V322.0M1150.5 313.0V325.3M1151.5 309.5V323.8M1152.5 314.7V322.5M1153.5 311.9V326.5M1154.5 314.0V322.9M1155.5 314.1V327.1M1156.5 310.4V324.3M1157.5 312.7V322.2M1158.5 310.5V323.9M1159.5 312.3V323.6M1160.5 313.5V322.3M1161.5 311.6V328.9M1162.5 314.1V324.5M1163.5 313.9V324.2M1164.5 312.2V322.1M1165.5 306.6V329.7M1166.5 314.2V323.1M1167.5 311.7V323.4M1168.5 312.8V322.5M1169.5 305.5V322.9M1170.5 313.9V322.8M1171.5 314.8V322.7M1172.5 314.2V324.5M1173.5 309.2V323.7M1174.5 312.1V325.4M1175.5 309.5V322.8M1176.5 314.6V322.5M1177.5 312.7V322.2M1178.5 313.9V334.6M1179.5 313.2V323.3M1180.5 308.6V324.3M1181.5 308.9V323.6M1182.5 314.8V325.0M1183.5 312.8V325.4M1184.5 313.5V324.0M1185.5 314.1V324.6M1186.5 313.5V324.4M1187.5 313.2V323.6M1188.5 311.4V326.7M1189.5 311.6V324.6M1190.5 310.1V326.4M1191.5 313.4V323.7M1192.5 312.4V324.5M1193.5 311.9V325.6M1194.5 312.7V326.1M1195.5 313.6V323.2M1196.5 311.2V324.4M1197.5 314.0V324.6M1198.5 314.0V322.4M1199.5 314.7V323.5M1200.5 313.1V324.0M1201.5 314.2V324.3M1202.5 314.8V322.4M1203.5 314.1V323.8M1204.5 314.1V322.4M1205.5 314.5V322.0M1206.5 311.1V323.0M1207.5 312.5V322.2M1208.5 306.8V324.1M1209.5 311.9V322.1M1210.5 311.6V321.9M1211.5 310.8V322.9M1212.5 310.6V322.5M1213.5 313.2V324.3M1214.5 311.0V322.1M1215.5 310.9V323.6M1216.5 313.7V323.1M1217.5 313.9V324.2M1218.5 313.0V322.5M1219.5 312.5V325.9M1220.5 304.1V321.7M1221.5 314.4V325.9M1222.5 313.6V323.9M1223.5 314.1V324.3M1224.5 314.4V322.8M1225.5 313.9V324.6M1226.5 307.6V321.9M1227.5 313.8V322.7M1228.5 313.4V321.9M1229.5 312.5V327.0M1230.5 313.8V322.7M1231.5 310.5V324.9M1232.5 313.3V323.3M1233.5 312.6V324.8M1234.5 312.4V322.7M1235.5 313.1V323.7M1236.5 314.4V323.8M1237.5 314.4V322.3M1238.5 314.5V324.1M1239.5 314.6V322.2M1240.5 313.5V323.2M1241.5 311.0V324.2M1242.5 309.3V322.7M1243.5 313.5V325.9M1244.5 314.4V325.6M1245.5 312.7V322.4M1246.5 314.4V323.5M1247.5 312.0V323.3M1248.5 313.5V322.2M1249.5 312.3V325.9M1250.5 313.0V324.8M1251.5 311.0V324.6M1252.5 313.0V322.3M1253.5 309.8V324.6M1254.5 314.5V322.6M1255.5 314.6V323.9M1256.5 314.1V322.0M1257.5 312.5V322.4M1258.5 314.7V322.2M1259.5 313.4V324.2M1260.5 314.7V322.6M1261.5 312.1V322.9M1262.5 313.1V323.4M1263.5 314.3V327.4M1264.5 312.5V321.9M1265.5 310.4V321.9M1266.5 311.6V324.3M1267.5 311.8V322.5M1268.5 310.2V322.5M1269.5 310.8V323.2M1270.5 307.9V325.0M1271.5 313.3V322.3M1272.5 312.1V325.2M1273.5 314.6V324.0M1274.5 312.9V321.9M1275.5 311.5V324.9M1276.5 311.2V323.8M1277.5 309.1V324.1M1278.5 311.8V322.5M1279.5 310.4V325.2M1280.5 312.7V323.9M1281.5 314.1V323.0M1282.5 312.2V323.5M1283.5 309.6V325.4M1284.5 310.6V324.6M1285.5 314.6V324.8M1286.5 312.7V323.5M1287.5 314.4V323.3M1288.5 314.2V322.6M1289.5 314.4V326.6M1290.5 314.5V323.2M1291.5 310.5V322.7M1292.5 314.5V326.5M1293.5 314.2V325.2M1294.5 312.9V325.4M1295.5 312.8V322.3M1296.5 308.2V323.6M1297.5 311.7V326.4M1298.5 313.6V322.5M1299.5 311.9V326.7M1300.5 308.9V322.5M1301.5 310.7V323.4M1302.5 313.7V324.4M1303.5 309.3V324.4M1304.5 313.6V324.8M1305.5 310.7V323.2M1306.5 314.4V322.2M1307.5 314.5V323.9M1308.5 311.1V324.1M1309.5 314.4V322.5M1310.5 311.3V324.7M1311.5 309.0V323.9M1312.5 312.2V327.2M1313.5 310.9V324.9M1314.5 311.6V329.3M1315.5 311.1V322.3M1316.5 312.3V324.7M1317.5 309.8V322.1M1318.5 311.2V322.2M1319.5 313.6V329.8M1320.5 311.1V323.5M1321.5 312.1V322.0M1322.5 314.3V323.0M1323.5 313.7V322.7M1324.5 310.6V324.0M1325.5 313.1V322.1M1326.5 314.7V322.3M1327.5 313.1V323.1M1328.5 312.8V322.1M1329.5 312.6V322.8M1330.5 313.0V325.8M1331.5 310.6V324.7M1332.5 313.5V322.3M1333.5 310.7V328.2M1334.5 313.0V324.5M1335.5 313.7V322.6M1336.5 312.8V321.9M1337.5 314.1V322.4M1338.5 314.7V323.5M1339.5 313.1V323.1M1340.5 308.5V326.0M1341.5 313.2V322.6M1342.5 312.1V323.9M1343.5 312.1V324.5M1344.5 310.5V329.5M1345.5 307.9V321.8M1346.5 309.4V322.6M1347.5 312.0V324.3M1348.5 312.9V325.4M1349.5 312.4V323.2M1350.5 313.7V326.6M1351.5 314.6V324.0M1352.5 308.7V321.7M1353.5 311.1V322.0M1354.5 312.3V323.9M1355.5 314.4V323.4M1356.5 314.6V322.2M1357.5 312.9V322.8M1358.5 313.1V325.9M1359.5 314.4V322.0M1360.5 314.4V322.2M1361.5 314.5V325.4M1362.5 314.6V323.5M1363.5 309.6V322.8M1364.5 314.1V321.9M1365.5 314.1V322.2M1366.5 310.0V323.0M1367.5 312.9V322.8M1368.5 311.8V323.1M1369.5 312.4V325.5M1370.5 314.5V326.2M1371.5 311.5V327.3M1372.5 313.6V327.5M1373.5 314.6V323.3M1374.5 310.1V324.8M1375.5 313.7V322.1M1376.5 311.9V325.8M1377.5 313.4V321.9M1378.5 312.8V322.3M1379.5 313.8V324.9M1380.5 312.2V324.0M1381.5 312.7V324.2M1382.5 313.4V326.1M1383.5 314.4V323.0M1384.5 310.0V322.6M1385.5 313.9V324.4M1386.5 312.5V325.7M1387.5 309.3V323.9M1388.5 312.8V321.9M1389.5 310.5V326.6M1390.5 310.7V325.5M1391.5 314.2V322.3M1392.5 312.1V322.6M1393.5 314.0V322.1M1394.5 312.6V323.0M1395.5 314.5V326.6M1396.5 314.1V322.0M1397.5 312.6V322.8M1398.5 313.7V322.0M1399.5 311.8V325.3M1400.5 312.8V324.1M1401.5 314.1V326.4M1402.5 311.9V324.5M1403.5 311.5V326.7M1404.5 314.8V322.5M1405.5 310.0V324.8M1406.5 314.7V328.1M1407.5 314.6V322.1M1408.5 314.8V325.2M1409.5 314.8V323.8M1410.5 313.8V325.8M1411.5 312.3V324.5M1412.5 311.4V326.8M1413.5 314.7V325.3M1414.5 314.3V322.2M1415.5 314.8V322.9M1416.5 312.2V325.0M1417.5 311.1V326.1M1418.5 311.3V327.8M1419.5 311.6V323.1M1420.5 313.7V323.9M1421.5 314.8V325.3M1422.5 312.9V323.5M1423.5 313.0V324.3M1424.5 312.3V323.7M1425.5 311.9V322.9M1426.5 312.9V323.7M1427.5 312.9V322.5M1428.5 312.1V322.1M1429.5 314.6V322.8M1430.5 314.5V323.4M1431.5 312.2V323.2M1432.5 312.7V324.4M1433.5 311.4V322.2M1434.5 311.1V322.6M1435.5 314.5V325.1M1436.5 312.5V323.9M1437.5 314.2V324.1M1438.5 314.4V325.8M1439.5 308.0V323.8M1440.5 311.3V321.9M1441.5 314.4V322.0M1442.5 314.1V325.2M1443.5 311.0V323.4M1444.5 312.7V324.2M1445.5 313.8V322.2M1446.5 314.0V324.3M1447.5 313.3V322.0M1448.5 313.9V323.0M1449.5 313.0V325.4M1450.5 299.2V322.7M1451.5 309.3V322.6M1452.5 313.0V323.9M1453.5 313.1V323.9M1454.5 312.4V323.9M1455.5 310.6V323.3M1456.5 312.0V327.4M1457.5 314.4V325.0M1458.5 311.3V322.9M1459.5 314.4V323.3M1460.5 312.3V322.8M1461.5 314.3V325.3M1462.5 313.5V326.2M1463.5 311.6V322.3M1464.5 314.7V325.8M1465.5 314.0V323.6M1466.5 314.3V326.9M1467.5 312.1V323.8M1468.5 311.7V322.8M1469.5 314.7V322.9M1470.5 313.9V321.9M1471.5 314.7V322.4M1472.5 309.2V322.0M1473.5 312.7V322.6M1474.5 311.2V322.5M1475.5 310.1V324.8M1476.5 314.6V324.3M1477.5 310.3V325.5M1478.5 313.9V324.7M1479.5 313.3V325.2M1480.5 310.9V322.0M1481.5 313.5V325.0M1482.5 312.5V321.9M1483.5 311.8V322.7M1484.5 311.5V323.7M1485.5 313.1V322.3M1486.5 314.5V324.6M1487.5 311.2V329.3M1488.5 311.8V322.9M1489.5 312.4V325.7M1490.5 311.9V323.0M1491.5 312.8V322.6M1492.5 310.5V323.8M1493.5 310.6V323.1M1494.5 313.7V322.6M1495.5 311.3V323.7M1496.5 312.4V322.2M1497.5 314.7V322.2M1498.5 313.3V322.0M1499.5 314.7V324.5M1500.5 312.5V323.4M1501.5 310.7V323.9M1502.5 312.4V323.7M1503.5 312.9V327.8M1504.5 314.6V323.4M1505.5 313.4V323.2M1506.5 312.3V327.3M1507.5 310.5V324.1M1508.5 314.5V323.7M1509.5 313.6V325.2M1510.5 314.3V322.8M1511.5 311.3V322.4M1512.5 312.5V324.4M1513.5 310.5V324.5M1514.5 309.2V327.0M1515.5 314.2V325.8M1516.5 314.7V323.1M1517.5 314.7V325.4M1518.5 312.6V323.6M1519.5 313.4V325.7M1520.5 313.8V323.9M1521.5 311.4V323.5M1522.5 314.2V326.6M1523.5 311.9V322.4M1524.5 313.4V323.7M1525.5 311.8V323.5M1526.5 314.5V322.2M1527.5 308.4V322.8M1528.5 309.0V325.9M1529.5 314.6V322.4M1530.5 312.7V322.8M1531.5 312.5V326.2M1532.5 311.6V324.7M1533.5 313.8V323.9M1534.5 313.4V326.7M1535.5 314.1V324.5M1536.5 314.1V325.2M1537.5 313.8V323.9M1538.5 309.4V325.7M1539.5 308.7V323.7M1540.5 313.5V326.2M1541.5 312.7V324.5M1542.5 311.8V322.5M1543.5 313.4V322.6M1544.5 314.2V322.3M1545.5 314.5V324.6M1546.5 311.7V324.3M1547.5 312.7V323.4M1548.5 314.4V328.3M1549.5 312.8V325.7M1550.5 312.8V323.6M1551.5 313.7V323.1M1552.5 310.8V324.5M1553.5 314.0V324.6M1554.5 311.7V324.7M1555.5 309.6V325.0M1556.5 313.9V322.4M1557.5 307.8V325.1M1558.5 312.1V323.3M1559.5 313.7V323.0M1560.5 314.4V325.4M1561.5 312.0V322.6M1562.5 312.3V327.9M1563.5 314.6V325.0M1564.5 313.8V322.2M1565.5 314.2V324.8M1566.5 313.5V322.9M1567.5 313.9V323.9M1568.5 309.9V323.4M1569.5 312.9V324.1M1570.5 314.1V324.8M1571.5 314.3V322.3M1572.5 311.1V327.0M1573.5 314.2V322.7M1574.5 303.6V326.4M1575.5 314.4V325.2M1576.5 313.1V325.0M1577.5 314.5V322.5M1578.5 311.5V324.6M1579.5 313.8V326.1M1580.5 313.9V324.2M1581.5 309.8V323.0M1582.5 311.9V322.9M1583.5 312.7V323.4M1584.5 311.7V323.8M1585.5 313.9V323.2M1586.5 312.1V324.1M1587.5 313.4V324.2M1588.5 311.7V324.4M1589.5 312.4V322.3M1590.5 314.8V322.3M1591.5 314.4V324.9M1592.5 313.0V324.0M1593.5 311.7V323.5M1594.5 312.7V323.6M1595.5 313.5V322.6M1596.5 314.0V328.0M1597.5 314.0V323.0M1598.5 313.7V324.4M1599.5 313.9V323.4M1600.5 314.5V322.3M1601.5 313.9V323.3M1602.5 312.5V323.0M1603.5 313.3V323.9M1604.5 314.8V328.5M1605.5 313.9V322.4M1606.5 312.9V325.6M1607.5 314.3V322.4M1608.5 314.8V324.7M1609.5 313.7V329.3M1610.5 314.4V323.3M1611.5 313.4V321.8M1612.5 314.3V321.8M1613.5 314.5V325.7M1614.5 310.7V323.8M1615.5 312.3V328.0M1616.5 313.0V325.2M1617.5 312.3V322.0M1618.5 312.2V324.9M1619.5 313.2V322.3M1620.5 313.4V326.4M1621.5 312.0V322.4M1622.5 314.9V323.1M1623.5 313.4V322.3M1624.5 312.5V324.6M1625.5 314.6V322.3M1626.5 314.9V326.1M1627.5 313.2V322.4M1628.5 313.7V325.8M1629.5 312.4V321.9M1630.5 312.7V326.2M1631.5 314.4V323.2M1632.5 312.8V321.8M1633.5 314.1V323.3M1634.5 314.8V325.5M1635.5 311.8V323.7M1636.5 309.9V322.6M1637.5 314.5V323.7M1638.5 314.2V322.4M1639.5 312.2V323.5M1640.5 311.3V323.6M1641.5 313.9V323.7M1642.5 315.0V321.8M1643.5 312.1V324.3M1644.5 314.1V321.7M1645.5 314.7V322.0M1646.5 312.9V324.5M1647.5 313.7V327.0M1648.5 314.1V321.7M1649.5 311.0V321.7M1650.5 313.7V322.1M1651.5 312.9V322.8M1652.5 314.3V321.8M1653.5 314.3V322.3M1654.5 314.5V324.6M1655.5 313.3V322.8M1656.5 314.3V323.7M1657.5 314.7V322.4M1658.5 311.8V325.9M1659.5 311.8V324.0M1660.5 313.3V323.7M1661.5 314.3V324.5M1662.5 314.8V322.3M1663.5 313.7V322.0M1664.5 314.3V322.3M1665.5 314.6V325.9M1666.5 314.5V322.9M1667.5 314.2V322.5M1668.5 313.7V326.6M1669.5 313.5V325.8M1670.5 313.9V324.5M1671.5 313.0V323.6M1672.5 312.1V322.5M1673.5 310.9V325.7M1674.5 310.3V322.2M1675.5 314.8V322.3M1676.5 312.5V321.8M1677.5 314.5V326.8M1678.5 310.9V321.5M1679.5 315.0V325.6M1680.5 314.9V323.7M1681.5 314.1V322.1M1682.5 315.0V324.3M1683.5 310.9V324.5M1684.5 313.7V325.1M1685.5 312.3V323.1M1686.5 312.3V322.4M1687.5 314.6V323.0M1688.5 313.7V324.9M1689.5 313.5V321.5M1690.5 312.3V323.7M1691.5 312.4V323.8M1692.5 312.4V323.3M1693.5 313.0V323.3M1694.5 310.4V321.8M1695.5 313.7V324.7M1696.5 314.2V321.5M1697.5 314.6V325.8M1698.5 314.7V324.2M1699.5 314.5V324.6M1700.5 314.2V322.0M1701.5 314.3V324.6M1702.5 314.5V323.4M1703.5 313.4V331.0M1704.5 311.5V322.5M1705.5 313.9V322.4M1706.5 313.2V322.4M1707.5 312.1V323.3M1708.5 313.1V323.5M1709.5 313.2V323.7M1710.5 310.4V322.2M1711.5 314.9V323.6M1712.5 314.3V325.2M1713.5 314.2V322.7M1714.5 314.4V324.4M1715.5 313.6V322.0M1716.5 313.7V322.5M1717.5 314.4V326.2M1718.5 308.4V325.4M1719.5 313.3V324.1M1720.5 310.1V324.5M1721.5 314.2V321.9M1722.5 314.5V325.0M1723.5 310.3V322.8M1724.5 311.4V322.9M1725.5 310.2V323.7M1726.5 314.6V324.0M1727.5 312.1V325.9M1728.5 314.2V322.8M1729.5 314.0V322.7M1730.5 311.2V323.6M1731.5 314.1V323.9M1732.5 315.0V323.9M1733.5 312.9V322.8M1734.5 314.6V323.5M1735.5 314.5V321.8M1736.5 315.0V323.0M1737.5 313.2V325.9M1738.5 314.3V323.4M1739.5 312.9V325.3M1740.5 314.6V321.6M1741.5 314.9V321.6M1742.5 311.8V324.9M1743.5 314.5V322.8M1744.5 313.2V323.1M1745.5 314.9V328.9M1746.5 314.9V323.6M1747.5 311.9V322.2M1748.5 312.3V322.4M1749.5 309.7V327.8M1750.5 314.8V328.1M1751.5 313.6V321.9M1752.5 314.0V325.1M1753.5 309.8V322.3M1754.5 314.7V324.3M1755.5 310.0V322.3M1756.5 311.6V324.3M1757.5 312.2V323.1M1758.5 310.9V322.3M1759.5 313.4V322.2M1760.5 314.8V322.5M1761.5 314.1V322.1M1762.5 311.5V322.8M1763.5 313.3V321.6M1764.5 310.6V323.9M1765.5 313.2V325.2M1766.5 311.9V325.0M1767.5 312.6V324.7M1768.5 313.0V322.4M1769.5 313.5V325.2M1770.5 312.4V322.7M1771.5 315.0V321.9M1772.5 314.4V325.0M1773.5 311.2V327.3M1774.5 309.6V322.8M1775.5 314.0V322.5M1776.5 314.4V324.1M1777.5 310.1V321.8M1778.5 311.4V322.1M1779.5 313.1V322.8M1780.5 311.2V324.5M1781.5 315.1V322.4M1782.5 312.2V326.2M1783.5 313.9V325.9M1784.5 312.4V321.6M1785.5 314.5V321.9M1786.5 314.6V323.4M1787.5 313.4V322.3M1788.5 312.7V323.1M1789.5 313.1V324.6M1790.5 314.4V322.2M1791.5 312.2V322.6M1792.5 312.4V322.1M1793.5 314.9V323.0M1794.5 315.0V325.8M1795.5 314.7V324.5M1796.5 314.1V322.9M1797.5 309.7V322.4M1798.5 312.4V323.0M1799.5 312.9V323.9M1800.5 315.1V321.5M1801.5 313.4V322.8M1802.5 311.1V322.3M1803.5 312.6V324.7M1804.5 314.7V324.5M1805.5 313.0V321.9M1806.5 313.8V322.8M1807.5 312.2V323.4M1808.5 313.5V323.1M1809.5 314.7V323.1M1810.5 314.2V322.1M1811.5 311.2V321.7M1812.5 315.1V323.0M1813.5 312.0V321.8M1814.5 313.7V323.6M1815.5 314.1V322.0M1816.5 310.1V321.9M1817.5 313.7V326.5M1818.5 310.1V322.6M1819.5 313.6V324.8M1820.5 310.2V325.0M1821.5 314.3V324.9M1822.5 310.4V323.8M1823.5 312.7V321.9M1824.5 314.5V324.0M1825.5 315.1V323.1M1826.5 315.0V321.7M1827.5 309.9V323.3M1828.5 314.5V324.7M1829.5 311.1V325.5M1830.5 314.2V325.0M1831.5 313.2V323.5M1832.5 314.0V324.0M1833.5 312.5V324.9M1834.5 311.6V322.1M1835.5 313.5V325.6M1836.5 314.5V322.6M1837.5 314.2V322.4M1838.5 314.2V325.7M1839.5 312.6V323.9M1840.5 313.0V322.7M1841.5 314.7V325.8M1842.5 314.6V321.8M1843.5 311.5V321.9M1844.5 313.8V324.2M1845.5 311.2V323.2M1846.5 315.0V322.0M1847.5 314.6V325.6M1848.5 311.8V324.3M1849.5 314.9V325.2M1850.5 312.7V324.8M1851.5 312.4V322.2M1852.5 312.9V323.0M1853.5 314.5V322.8M1854.5 314.4V327.0M1855.5 310.9V325.5M1856.5 312.6V324.2M1857.5 312.6V322.2M1858.5 313.9V324.4M1859.5 313.0V322.4M1860.5 314.9V323.0M1861.5 314.9V327.2M1862.5 309.6V323.3M1863.5 311.9V323.5M1864.5 313.2V322.9M1865.5 312.4V321.8M1866.5 313.7V324.5M1867.5 312.9V322.9M1868.5 311.6V324.2M1869.5 313.0V322.7M1870.5 311.5V322.3M1871.5 314.1V321.5M1872.5 314.4V323.5M1873.5 314.7V325.9M1874.5 314.7V321.5M1875.5 313.9V324.1M1876.5 310.7V324.3M1877.5 312.6V324.2M1878.5 314.6V326.5M1879.5 312.7V322.7M1880.5 312.6V324.7M1881.5 313.3V321.6M1882.5 311.2V322.9M1883.5 311.1V321.9M1884.5 313.2V322.7M1885.5 314.5V322.7M1886.5 314.2V323.3M1887.5 312.1V323.1M1888.5 311.7V325.2M1889.5 313.0V321.7M1890.5 314.7V322.3M1891.5 314.6V324.6M1892.5 314.7V323.1M1893.5 311.1V323.2M1894.5 312.9V324.5M1895.5 312.2V322.9M1896.5 315.1V326.5M1897.5 310.6V323.4M1898.5 313.0V323.7M1899.5 313.9V324.2M1900.5 312.6V322.0M1901.5 314.5V325.0M1902.5 314.0V323.7M1903.5 314.4V322.1M1904.5 314.4V323.0M1905.5 314.5V324.0M1906.5 313.8V321.7M1907.5 313.7V323.1M1908.5 311.6V325.3M1909.5 313.6V322.3M1910.5 309.8V323.7M1911.5 312.7V322.3M1912.5 313.4V321.8M1913.5 314.6V322.0M1914.5 313.2V323.7M1915.5 314.2V324.0M1916.5 313.9V324.1M1917.5 311.6V323.3M1918.5 312.5V327.1M1919.5 313.6V322.4M1920.5 314.0V324.4M1921.5 313.3V323.4M1922.5 311.3V322.6M1923.5 313.9V322.1M1924.5 313.8V323.6M1925.5 310.1V323.5M1926.5 313.5V324.0M1927.5 314.8V324.1M1928.5 313.8V321.8M1929.5 312.1V325.9M1930.5 314.8V322.3M1931.5 314.0V324.4M1932.5 312.4V322.5M1933.5 313.8V323.4M1934.5 314.7V323.9M1935.5 310.7V321.8M1936.5 314.7V323.8M1937.5 311.4V325.1M1938.5 309.2V326.8M1939.5 313.7V321.9M1940.5 314.5V325.8M1941.5 313.7V322.8M1942.5 312.0V323.1M1943.5 312.9V326.8M1944.5 313.6V324.8M1945.5 307.8V324.1M1946.5 314.7V326.1M1947.5 312.2V324.8M1948.5 314.3V322.0M1949.5 312.4V324.0M1950.5 312.0V323.7M1951.5 311.3V324.3M1952.5 311.5V324.8M1953.5 314.0V323.9M1954.5 314.1V322.6M1955.5 311.6V323.4M1956.5 312.3V323.6M1957.5 314.4V327.3M1958.5 312.0V322.7M1959.5 311.7V323.2M1960.5 312.7V322.5M1961.5 314.6V323.0M1962.5 302.1V322.6M1963.5 314.3V325.1M1964.5 314.4V324.1M1965.5 313.9V322.1M1966.5 314.0V323.7M1967.5 312.8V324.2M1968.5 311.2V322.8M1969.5 314.6V325.1M1970.5 312.7V323.9M1971.5 312.5V323.0M1972.5 311.5V322.5M1973.5 314.2V325.2M1974.5 313.7V323.4M1975.5 310.8V322.0M1976.5 314.2V328.4M1977.5 313.1V323.1M1978.5 310.9V324.9M1979.5 313.8V323.1M1980.5 314.5V322.2M1981.5 313.0V326.3M1982.5 312.4V330.3M1983.5 314.9V321.9M1984.5 314.6V325.2M1985.5 313.8V322.1M1986.5 314.8V322.9M1987.5 312.7V322.7M1988.5 313.6V323.5M1989.5 311.9V325.1M1990.5 313.6V324.4M1991.5 311.2V325.3M1992.5 314.3V322.2M1993.5 311.4V322.1M1994.5 313.6V323.9M1995.5 314.7V322.9M1996.5 311.9V324.0M1997.5 312.6V323.3M1998.5 313.6V323.6M1999.5 314.3V323.8M2000.5 312.6V321.8M2001.5 314.5V322.0M2002.5 311.4V324.0M2003.5 315.0V324.8M2004.5 313.8V321.7M2005.5 313.6V328.9M2006.5 314.8V323.7M2007.5 314.6V324.0M2008.5 315.0V324.1M2009.5 310.9V322.9M2010.5 312.8V324.6M2011.5 308.9V333.7M2012.5 314.3V324.2M2013.5 311.6V322.6M2014.5 311.7V323.7M2015.5 310.9V321.6M2016.5 312.9V323.6M2017.5 313.6V323.9M2018.5 310.3V322.0M2019.5 312.6V324.4M2020.5 314.7V323.0M2021.5 309.0V326.6M2022.5 313.8V325.1M2023.5 314.3V322.8M2024.5 312.1V322.0M2025.5 312.0V323.3M2026.5 312.5V322.7M2027.5 311.9V323.8M2028.5 314.6V323.1M2029.5 310.5V323.5M2030.5 313.9V323.7M2031.5 310.0V324.9M2032.5 314.4V322.7M2033.5 313.0V325.1M2034.5 311.5V322.5M2035.5 313.8V322.6M2036.5 314.2V322.0M2037.5 313.4V325.6M2038.5 313.6V322.2M2039.5 313.4V323.2M2040.5 314.9V321.9M2041.5 313.5V323.2M2042.5 309.3V323.0M2043.5 308.2V324.8M2044.5 313.6V324.9M2045.5 314.4V324.6M2046.5 312.0V326.9M2047.5 313.9V324.6M2048.5 309.0V322.8M2049.5 312.9V322.4M2050.5 312.0V322.9M2051.5 314.0V323.0M2052.5 312.4V330.6M2053.5 313.0V324.9M2054.5 312.8V323.0M2055.5 314.1V322.2M2056.5 311.9V322.7M2057.5 312.6V322.5M2058.5 313.1V325.4M2059.5 310.5V326.3M2060.5 311.9V322.4M2061.5 314.2V322.5M2062.5 307.1V325.1M2063.5 313.3V321.9M2064.5 314.4V325.2M2065.5 312.5V323.7M2066.5 313.8V322.9M2067.5 312.0V325.7M2068.5 310.5V322.3M2069.5 314.1V321.8M2070.5 311.9V323.2M2071.5 312.9V324.0M2072.5 312.2V324.8M2073.5 308.5V322.7M2074.5 313.0V325.9M2075.5 313.3V326.4M2076.5 310.7V322.3M2077.5 314.0V327.4M2078.5 313.9V323.5M2079.5 312.4V324.0M2080.5 314.5V323.5M2081.5 313.9V323.4M2082.5 310.1V323.9M2083.5 310.3V327.1M2084.5 314.2V321.8M2085.5 312.1V323.9M2086.5 314.2V323.0M2087.5 313.6V323.5M2088.5 314.3V324.9M2089.5 313.9V322.8M2090.5 314.2V325.4M2091.5 314.1V322.3M2092.5 314.4V321.9M2093.5 313.7V323.0M2094.5 311.8V321.8M2095.5 312.1V328.5M2096.5 312.0V328.9M2097.5 314.5V328.5M2098.5 314.2V327.3M2099.5 309.5V324.9M2100.5 302.2V324.5M2101.5 313.9V323.8M2102.5 312.2V322.8M2103.5 312.4V322.7M2104.5 313.8V325.0M2105.5 312.2V321.9M2106.5 313.7V323.7M2107.5 314.5V329.8M2108.5 312.5V324.8M2109.5 314.3V326.5M2110.5 311.7V323.1M2111.5 313.5V322.1M2112.5 311.8V325.3M2113.5 313.7V323.9M2114.5 314.8V324.5M2115.5 313.8V322.6M2116.5 313.5V321.8M2117.5 309.3V324.1M2118.5 314.2V322.4M2119.5 314.7V327.6M2120.5 314.7V323.4M2121.5 311.5V322.8M2122.5 311.4V323.0M2123.5 313.0V324.1M2124.5 313.7V322.7M2125.5 313.6V321.9M2126.5 314.3V321.8M2127.5 313.1V322.5M2128.5 312.4V321.6M2129.5 314.0V323.4M2130.5 313.5V324.9M2131.5 314.9V322.2M2132.5 314.5V323.4M2133.5 312.1V328.3M2134.5 313.1V321.8M2135.5 313.6V321.8M2136.5 314.7V323.0M2137.5 311.3V321.9M2138.5 312.0V330.4M2139.5 310.1V322.5M2140.5 312.1V324.5M2141.5 314.5V322.1M2142.5 312.5V325.1M2143.5 313.1V324.3M2144.5 313.3V324.8M2145.5 304.6V322.5M2146.5 312.5V321.7M2147.5 313.7V321.7M2148.5 314.0V323.1M2149.5 308.6V321.6M2150.5 314.6V322.9M2151.5 313.0V321.6M2152.5 314.2V325.7M2153.5 314.4V327.8M2154.5 314.8V325.0M2155.5 314.2V322.5M2156.5 311.7V322.9M2157.5 314.6V322.9M2158.5 314.7V324.0M2159.5 313.6V322.0M2160.5 313.7V322.0M2161.5 311.2V323.8M2162.5 314.3V325.1M2163.5 312.3V321.9M2164.5 313.7V322.8M2165.5 313.5V323.4M2166.5 315.0V323.0M2167.5 312.7V321.7M2168.5 313.0V324.7M2169.5 314.0V322.5M2170.5 308.3V325.2M2171.5 312.1V324.7M2172.5 313.7V322.5M2173.5 310.8V322.1M2174.5 312.2V322.4M2175.5 314.4V322.6M2176.5 312.5V322.2M2177.5 314.9V323.0M2178.5 313.3V322.0M2179.5 314.4V322.1M2180.5 312.7V322.5M2181.5 314.7V321.6M2182.5 313.2V322.1M2183.5 311.5V322.6M2184.5 314.8V322.4M2185.5 314.6V324.2M2186.5 314.1V322.5M2187.5 312.0V322.3M2188.5 313.0V323.3M2189.5 314.4V323.3M2190.5 313.4V322.0M2191.5 311.3V322.0M2192.5 314.8V323.7M2193.5 312.4V324.2M2194.5 312.2V321.9M2195.5 311.6V325.1M2196.5 312.2V325.9M2197.5 313.6V325.1M2198.5 313.3V325.6M2199.5 312.6V322.3M2200.5 309.5V322.5M2201.5 313.1V323.7M2202.5 311.3V324.2M2203.5 313.7V323.1M2204.5 313.4V324.4M2205.5 314.9V321.8M2206.5 313.7V325.1M2207.5 314.2V326.8M2208.5 311.9V324.5M2209.5 314.4V323.1M2210.5 313.3V322.9M2211.5 293.8V322.2M2212.5 314.2V326.1M2213.5 310.4V322.0M2214.5 312.3V333.1M2215.5 311.5V322.0M2216.5 313.8V324.1M2217.5 312.2V322.2M2218.5 314.0V322.9M2219.5 309.6V322.5M2220.5 314.5V325.4M2221.5 314.9V323.5M2222.5 314.1V321.9M2223.5 315.0V323.3M2224.5 312.1V321.9M2225.5 314.8V326.8M2226.5 311.7V324.0M2227.5 314.1V322.5M2228.5 313.5V325.4M2229.5 311.4V322.7M2230.5 312.8V322.8M2231.5 308.7V322.7M2232.5 313.7V324.3M2233.5 314.2V323.8M2234.5 314.4V321.9M2235.5 310.2V323.4M2236.5 314.8V322.0M2237.5 313.8V323.2M2238.5 312.1V321.9M2239.5 313.4V322.3M2240.5 314.7V321.9M2241.5 313.7V322.4M2242.5 310.1V324.0M2243.5 314.4V324.4M2244.5 311.8V324.3M2245.5 311.5V323.4M2246.5 313.1V324.7M2247.5 314.8V322.2M2248.5 311.6V321.6M2249.5 313.7V324.7M2250.5 314.7V324.5M2251.5 313.6V323.7M2252.5 312.3V322.8M2253.5 311.8V323.5M2254.5 310.4V325.4M2255.5 312.9V323.1M2256.5 313.3V322.8M2257.5 312.7V322.3M2258.5 313.9V325.9M2259.5 314.2V323.2M2260.5 314.1V321.6M2261.5 315.0V324.1M2262.5 313.3V323.6M2263.5 312.4V323.8M2264.5 314.2V328.0M2265.5 314.7V327.7M2266.5 312.5V330.0M2267.5 314.9V328.2M2268.5 308.9V321.7M2269.5 314.8V324.2M2270.5 307.2V323.9M2271.5 313.4V324.8M2272.5 313.0V333.6M2273.5 310.3V323.3M2274.5 313.3V325.2M2275.5 314.5V322.9M2276.5 312.2V322.5M2277.5 312.2V322.0M2278.5 313.7V329.0M2279.5 313.5V321.8M2280.5 311.1V323.8M2281.5 314.8V322.6M2282.5 311.6V324.5M2283.5 313.8V322.4M2284.5 314.5V322.2M2285.5 313.1V321.7M2286.5 313.3V321.6M2287.5 314.9V325.2M2288.5 312.6V323.5M2289.5 312.3V322.8M2290.5 314.2V321.9M2291.5 314.4V321.7M2292.5 309.3V321.6M2293.5 310.1V322.5M2294.5 314.7V324.1M2295.5 314.6V326.6M2296.5 314.1V324.5M2297.5 314.6V323.5M2298.5 314.5V321.6M2299.5 313.8V325.8M2300.5 314.6V322.6M2301.5 314.9V325.0M2302.5 314.5V321.9M2303.5 314.0V322.6M2304.5 308.5V322.3M2305.5 314.2V322.8M2306.5 314.3V323.0M2307.5 312.9V326.5M2308.5 313.8V322.4M2309.5 313.9V323.6M2310.5 313.8V323.8M2311.5 312.3V329.1M2312.5 313.9V323.1M2313.5 312.0V324.1M2314.5 314.8V324.9M2315.5 312.5V324.8M2316.5 310.0V325.9M2317.5 312.4V325.7M2318.5 309.1V323.0M2319.5 313.7V324.2M2320.5 313.4V325.4M2321.5 314.8V322.9M2322.5 309.2V322.3M2323.5 314.8V322.0M2324.5 312.3V323.2M2325.5 306.6V322.3M2326.5 310.7V322.0M2327.5 313.7V325.8M2328.5 312.9V324.1M2329.5 312.7V323.2M2330.5 314.6V325.3M2331.5 308.4V323.7M2332.5 313.5V327.0M2333.5 309.9V322.1M2334.5 313.1V324.6M2335.5 312.2V324.1M2336.5 312.9V323.1M2337.5 307.9V324.0M2338.5 303.9V325.0M2339.5 311.3V324.9M2340.5 313.1V324.3M2341.5 313.7V323.3M2342.5 312.8V324.1M2343.5 312.7V325.4M2344.5 303.3V322.3M2345.5 311.4V325.3M2346.5 314.4V322.1M2347.5 311.4V322.9M2348.5 311.1V324.6M2349.5 314.0V321.8M2350.5 314.5V322.3M2351.5 308.1V322.1M2352.5 307.4V321.8M2353.5 314.1V325.7M2354.5 314.7V322.0M2355.5 312.5V322.9M2356.5 313.1V322.5M2357.5 310.7V323.5M2358.5 312.7V322.9M2359.5 312.4V323.1M2360.5 310.1V324.1M2361.5 314.8V326.5M2362.5 312.9V321.9M2363.5 314.9V324.8M2364.5 313.7V321.8M2365.5 312.1V322.7M2366.5 314.8V323.3M2367.5 314.9V325.7M2368.5 313.4V322.9M2369.5 312.1V325.1M2370.5 311.6V323.5M2371.5 314.8V323.6M2372.5 313.7V324.3M2373.5 310.8V325.3M2374.5 312.9V324.7M2375.5 314.3V324.9M2376.5 313.1V324.6M2377.5 311.0V322.5M2378.5 312.0V322.3M2379.5 313.8V323.3M2380.5 312.3V326.5M2381.5 312.7V322.9M2382.5 297.4V325.8M2383.5 312.0V322.8M2384.5 314.4V322.1M2385.5 311.2V324.5M2386.5 314.1V325.4M2387.5 314.3V321.9M2388.5 314.7V323.1M2389.5 312.1V323.4M2390.5 312.1V322.7M2391.5 312.8V326.1M2392.5 314.1V321.6M2393.5 313.4V325.8M2394.5 311.4V323.7M2395.5 314.9V321.7M2396.5 312.5V322.2M2397.5 314.9V321.6M2398.5 311.8V323.2M2399.5 312.0V323.6M2400.5 314.5V324.2M2401.5 313.5V321.8M2402.5 314.6V323.6M2403.5 312.9V321.5M2404.5 305.5V323.7M2405.5 315.1V322.1M2406.5 313.1V322.0M2407.5 315.1V323.1M2408.5 310.8V327.3M2409.5 314.4V328.0M2410.5 311.3V321.8M2411.5 312.9V323.6M2412.5 310.6V321.7M2413.5 312.8V322.7M2414.5 313.4V322.4M2415.5 312.0V324.5M2416.5 310.4V321.8M2417.5 312.4V321.5M2418.5 314.5V323.2M2419.5 313.3V323.2M2420.5 311.6V323.9M2421.5 313.1V322.0M2422.5 312.4V321.8M2423.5 310.9V322.8M2424.5 314.2V322.1M2425.5 314.4V321.6M2426.5 315.2V322.1M2427.5 314.2V321.9M2428.5 314.1V323.1M2429.5 313.3V321.2M2430.5 314.5V321.7M2431.5 314.3V322.4M2432.5 315.0V323.2M2433.5 314.6V322.4M2434.5 315.2V322.6M2435.5 313.3V322.0M2436.5 315.3V322.5M2437.5 313.8V324.7M2438.5 314.3V322.7M2439.5 311.1V321.3M2440.5 313.7V324.5M2441.5 315.1V321.7M2442.5 314.6V322.5M2443.5 315.2V321.9M2444.5 315.5V323.1M2445.5 314.4V321.9M2446.5 314.8V324.0M2447.5 314.7V321.9M2448.5 313.2V323.7M2449.5 313.1V321.1M2450.5 312.0V322.8M2451.5 315.3V322.0M2452.5 312.6V321.9M2453.5 313.1V326.6M2454.5 313.4V321.3M2455.5 314.3V322.5M2456.5 313.1V324.5M2457.5 315.1V323.4M2458.5 314.5V321.7M2459.5 310.8V323.8M2460.5 315.2V322.4M2461.5 313.4V321.2M2462.5 314.3V322.9M2463.5 314.6V321.6M2464.5 315.1V321.4M2465.5 314.9V323.4M2466.5 314.8V321.1M2467.5 310.2V323.0M2468.5 315.1V321.9M2469.5 314.7V322.2M2470.5 314.3V322.1M2471.5 313.3V325.8M2472.5 315.7V320.9M2473.5 313.2V321.5M2474.5 313.8V325.6M2475.5 314.4V321.1M2476.5 315.5V321.7M2477.5 310.5V321.1M2478.5 315.6V322.0M2479.5 315.8V321.9M2480.5 314.3V321.1M2481.5 311.1V321.9M2482.5 313.9V321.1M2483.5 314.9V322.4M2484.5 314.4V321.2M2485.5 314.3V321.2M2486.5 313.1V322.1M2487.5 314.5V325.4M2488.5 313.0V322.1M2489.5 314.9V323.6M2490.5 315.1V322.3M2491.5 313.9V321.5M2492.5 315.8V321.8M2493.5 314.3V322.3M2494.5 314.7V321.3M2495.5 315.6V322.9M2496.5 313.3V324.3M2497.5 315.1V322.8M2498.5 315.6V321.6M2499.5 315.8V322.5M2500.5 314.6V322.0M2501.5 315.7V321.6M2502.5 312.7V321.6M2503.5 314.0V323.0M2504.5 315.6V321.9M2505.5 312.9V322.8M2506.5 315.5V321.9M2507.5 314.6V321.7M2508.5 314.9V322.2M2509.5 315.5V320.9M2510.5 313.5V321.5M2511.5 315.5V322.7M2512.5 314.8V321.4M2513.5 314.8V321.3M2514.5 315.5V322.4M2515.5 314.4V322.4M2516.5 312.2V321.4M2517.5 314.6V322.4M2518.5 315.5V323.6M2519.5 315.2V323.3M2520.5 315.8V321.9M2521.5 311.1V321.2M2522.5 315.7V323.2M2523.5 312.9V321.9M2524.5 313.2V321.1M2525.5 314.8V326.6M2526.5 315.3V321.8M2527.5 315.3V322.3M2528.5 315.6V320.9M2529.5 315.1V323.5M2530.5 314.1V323.2M2531.5 314.8V322.6M2532.5 315.7V321.8M2533.5 314.3V321.9M2534.5 315.1V321.6M2535.5 311.0V321.4M2536.5 314.9V321.0M2537.5 312.5V321.2M2538.5 315.3V321.3M2539.5 315.4V324.1M2540.5 314.4V321.6M2541.5 313.0V321.1M2542.5 314.5V322.8M2543.5 314.7V321.4M2544.5 314.1V321.3M2545.5 315.2V321.3M2546.5 314.9V321.8M2547.5 309.9V329.7M2548.5 313.7V321.8M2549.5 313.7V321.5M2550.5 314.8V322.9M2551.5 312.0V321.3M2552.5 315.2V323.0M2553.5 313.9V323.1M2554.5 314.2V324.1M2555.5 313.5V322.0M2556.5 313.2V323.1M2557.5 315.0V322.8M2558.5 314.8V322.5M2559.5 314.2V321.8M2560.5 312.3V326.8M2561.5 315.1V323.6M2562.5 314.7V324.8M2563.5 315.7V323.0M2564.5 315.6V323.3M2565.5 313.4V320.9M2566.5 315.5V321.0M2567.5 312.9V323.5M2568.5 314.7V322.4M2569.5 314.3V322.2M2570.5 315.7V321.4M2571.5 314.8V320.8M2572.5 315.7V321.1M2573.5 314.3V323.3M2574.5 313.5V322.1M2575.5 315.4V322.1M2576.5 315.1V323.2M2577.5 314.2V321.2M2578.5 313.4V322.3M2579.5 314.1V322.6M2580.5 312.6V321.8M2581.5 315.6V323.2M2582.5 313.8V321.6M2583.5 315.1V322.3M2584.5 313.6V321.9M2585.5 314.9V323.5M2586.5 315.1V321.2M2587.5 315.2V321.1M2588.5 314.7V320.9M2589.5 315.1V321.7M2590.5 314.8V322.8M2591.5 313.6V322.0M2592.5 314.1V321.5M2593.5 315.3V323.2M2594.5 314.6V321.0M2595.5 314.0V322.2M2596.5 313.6V322.8M2597.5 313.3V321.2M2598.5 315.7V326.0M2599.5 314.2V321.5M2600.5 313.8V322.9M2601.5 312.7V323.8M2602.5 315.3V323.2M2603.5 314.9V324.1M2604.5 313.3V321.1M2605.5 314.5V323.6M2606.5 315.2V322.4M2607.5 314.5V323.2M2608.5 313.1V321.6M2609.5 314.0V324.8M2610.5 313.6V320.8M2611.5 315.8V321.4M2612.5 315.3V322.0M2613.5 314.5V321.4M2614.5 315.8V322.1M2615.5 313.7V322.9M2616.5 314.6V323.0M2617.5 315.1V327.5M2618.5 315.0V322.0M2619.5 313.8V321.8M2620.5 312.5V323.2M2621.5 313.1V322.5M2622.5 315.0V322.6M2623.5 314.9V323.6M2624.5 315.7V321.9M2625.5 315.0V321.5M2626.5 313.3V325.1M2627.5 315.2V321.3M2628.5 312.6V322.3M2629.5 314.8V322.7M2630.5 314.2V329.3M2631.5 314.6V324.6M2632.5 314.5V322.1M2633.5 315.5V321.5M2634.5 315.1V322.6M2635.5 314.6V322.1M2636.5 313.0V322.1M2637.5 315.2V321.7M2638.5 315.0V323.5M2639.5 314.8V321.4M2640.5 315.5V321.0M2641.5 314.2V321.0M2642.5 315.4V321.2M2643.5 315.8V323.3M2644.5 315.5V321.7M2645.5 315.0V322.6M2646.5 312.1V322.8M2647.5 313.4V322.8M2648.5 314.5V322.2M2649.5 315.0V320.8M2650.5 315.8V326.6M2651.5 315.1V322.1M2652.5 315.3V321.0M2653.5 313.9V323.0M2654.5 311.2V320.9M2655.5 313.8V321.9M2656.5 314.4V320.8M2657.5 315.6V321.5M2658.5 314.0V323.1M2659.5 315.1V321.2M2660.5 314.8V322.0M2661.5 315.0V320.8M2662.5 311.7V322.0M2663.5 315.0V324.9M2664.5 313.9V321.3M2665.5 314.4V321.5M2666.5 314.9V322.5M2667.5 314.3V322.6M2668.5 314.3V322.3M2669.5 314.4V321.4M2670.5 315.7V320.8M2671.5 315.8V322.4M2672.5 313.2V323.8M2673.5 313.2V321.7M2674.5 314.9V323.7M2675.5 315.7V322.6M2676.5 315.7V321.0M2677.5 314.4V322.2M2678.5 314.8V321.6M2679.5 314.5V322.4M2680.5 315.5V322.6M2681.5 314.3V320.8M2682.5 315.4V323.2M2683.5 315.6V322.0M2684.5 312.6V322.4M2685.5 313.8V321.2M2686.5 315.1V321.2M2687.5 313.9V322.5M2688.5 315.5V321.2M2689.5 313.2V321.0M2690.5 315.0V323.8M2691.5 315.3V323.2M2692.5 315.6V322.7M2693.5 315.0V321.3M2694.5 312.9V321.1M2695.5 315.7V325.3M2696.5 312.2V323.9M2697.5 315.1V321.7M2698.5 315.8V322.9M2699.5 312.6V321.4M2700.5 314.2V322.1M2701.5 312.5V323.1M2702.5 315.4V321.9M2703.5 314.8V321.7M2704.5 313.3V321.8M2705.5 315.1V324.9M2706.5 315.6V321.7M2707.5 312.0V322.6M2708.5 315.6V321.3M2709.5 315.0V321.1M2710.5 312.6V321.0M2711.5 314.6V322.1M2712.5 314.7V322.1M2713.5 315.8V324.3M2714.5 314.5V320.9M2715.5 315.1V321.2M2716.5 314.9V322.1M2717.5 315.5V321.8M2718.5 311.9V321.3M2719.5 313.9V321.5M2720.5 314.0V321.8M2721.5 314.1V322.6M2722.5 314.8V321.8M2723.5 314.5V320.8M2724.5 315.4V322.4M2725.5 314.7V323.3M2726.5 315.4V322.3M2727.5 315.0V322.3M2728.5 314.7V321.3M2729.5 315.0V321.7M2730.5 314.8V323.8M2731.5 312.5V322.0M2732.5 313.4V320.9M2733.5 314.7V324.5M2734.5 314.6V321.0M2735.5 314.9V321.0M2736.5 315.7V321.7M2737.5 313.1V322.3M2738.5 313.2V321.7M2739.5 315.4V321.5M2740.5 314.1V323.3M2741.5 315.4V321.3M2742.5 315.0V321.8M2743.5 315.3V325.3M2744.5 312.6V321.2M2745.5 310.6V321.3M2746.5 314.0V322.2M2747.5 314.0V321.3M2748.5 315.8V321.5M2749.5 314.0V320.8M2750.5 312.3V323.6M2751.5 315.6V320.9M2752.5 314.7V321.6M2753.5 315.1V321.2M2754.5 315.3V322.7M2755.5 312.7V320.8M2756.5 314.9V322.7M2757.5 312.5V321.1M2758.5 313.7V322.5M2759.5 315.5V321.8M2760.5 312.1V323.2M2761.5 315.3V322.1M2762.5 312.2V324.5M2763.5 315.0V321.3M2764.5 315.6V321.6M2765.5 313.9V321.0M2766.5 313.5V322.0M2767.5 314.3V322.0M2768.5 315.6V320.9M2769.5 313.7V323.4M2770.5 314.7V322.7M2771.5 313.6V322.0M2772.5 315.2V320.9M2773.5 314.7V321.2M2774.5 315.5V324.1M2775.5 313.2V322.4M2776.5 315.8V321.0M2777.5 311.8V321.9M2778.5 315.3V323.0M2779.5 312.4V324.4M2780.5 309.0V320.8M2781.5 313.1V320.8M2782.5 313.4V321.7M2783.5 315.4V322.4M2784.5 314.4V322.9M2785.5 314.3V322.5M2786.5 314.5V321.3M2787.5 314.6V324.1M2788.5 313.8V323.0M2789.5 314.1V323.1M2790.5 312.8V321.8M2791.5 312.2V321.6M2792.5 314.7V323.6M2793.5 314.2V322.5M2794.5 311.4V322.4M2795.5 315.7V321.7M2796.5 313.2V325.0M2797.5 315.4V322.3M2798.5 311.2V322.6M2799.5 313.8V322.3M2800.5 315.6V323.9M2801.5 314.1V328.8M2802.5 315.9V320.9M2803.5 314.9V324.2M2804.5 314.9V321.4M2805.5 314.5V322.1M2806.5 315.1V321.7M2807.5 314.8V323.3M2808.5 315.8V321.3M2809.5 312.5V321.0M2810.5 314.1V321.9M2811.5 314.5V322.4M2812.5 315.0V321.9M2813.5 315.4V320.9M2814.5 312.5V320.9M2815.5 312.8V321.0M2816.5 314.7V321.8M2817.5 315.0V323.4M2818.5 314.8V323.0M2819.5 312.5V320.8M2820.5 315.5V324.0M2821.5 313.9V323.4M2822.5 314.9V321.4M2823.5 315.8V322.4M2824.5 315.0V321.3M2825.5 307.3V322.9M2826.5 312.8V322.6M2827.5 314.0V322.1M2828.5 312.1V320.8M2829.5 314.3V321.4M2830.5 313.9V323.3M2831.5 314.3V323.2M2832.5 312.9V322.7M2833.5 314.8V323.3M2834.5 313.9V321.0M2835.5 314.2V322.1M2836.5 315.0V323.1M2837.5 314.1V321.2M2838.5 315.2V322.1M2839.5 314.7V321.2M2840.5 314.1V322.5M2841.5 313.5V323.2M2842.5 314.4V323.6M2843.5 315.3V322.2M2844.5 311.1V322.7M2845.5 314.9V321.1M2846.5 315.2V321.0M2847.5 314.3V322.7M2848.5 309.5V321.5M2849.5 312.8V323.8M2850.5 315.8V321.9M2851.5 314.1V322.4M2852.5 315.5V320.9M2853.5 314.7V321.8M2854.5 315.5V322.7M2855.5 314.3V321.1M2856.5 313.3V321.7M2857.5 315.1V320.9M2858.5 314.7V321.3M2859.5 314.5V321.2M2860.5 315.7V325.2M2861.5 311.8V321.9M2862.5 315.7V322.7M2863.5 308.6V322.0M2864.5 314.3V321.6M2865.5 313.7V323.0M2866.5 314.2V323.9M2867.5 313.6V322.0M2868.5 314.6V324.2M2869.5 315.7V321.2M2870.5 313.8V324.5M2871.5 314.4V321.9M2872.5 312.7V322.9M2873.5 313.1V321.7M2874.5 315.2V323.0M2875.5 314.9V324.5M2876.5 312.8V321.8M2877.5 312.5V321.4M2878.5 315.7V321.3M2879.5 313.5V322.1M2880.5 312.4V320.9M2881.5 313.5V321.2M2882.5 312.9V321.5M2883.5 315.2V324.3M2884.5 314.8V323.0M2885.5 315.3V323.1M2886.5 315.6V323.0M2887.5 315.4V320.8M2888.5 315.0V321.3M2889.5 315.1V321.2M2890.5 312.3V321.9M2891.5 314.5V321.7M2892.5 313.2V320.7M2893.5 315.9V321.0M2894.5 314.7V323.4M2895.5 313.6V321.3M2896.5 315.0V322.2M2897.5 314.8V324.4M2898.5 313.0V323.8M2899.5 315.8V324.4M2900.5 313.8V321.8M2901.5 314.2V321.3M2902.5 311.0V322.9M2903.5 315.0V321.4M2904.5 314.0V322.5M2905.5 315.0V321.6M2906.5 314.8V323.3M2907.5 314.5V322.2M2908.5 309.4V322.4M2909.5 315.1V320.8M2910.5 313.1V325.4M2911.5 315.3V325.2M2912.5 315.7V322.3M2913.5 314.5V323.0M2914.5 314.8V323.1M2915.5 315.9V321.3M2916.5 313.5V320.9M2917.5 314.3V323.4M2918.5 315.9V322.0M2919.5 313.7V323.5M2920.5 313.9V321.1M2921.5 313.2V321.1M2922.5 312.8V323.8M2923.5 315.8V323.1M2924.5 315.6V323.2M2925.5 314.9V321.9M2926.5 314.7V324.7M2927.5 314.3V321.7M2928.5 314.3V321.6M2929.5 315.2V322.2M2930.5 313.0V322.3M2931.5 311.9V323.9M2932.5 314.9V321.6M2933.5 315.7V325.6M2934.5 314.7V323.1M2935.5 314.2V323.4M2936.5 315.4V322.9M2937.5 315.3V322.8M2938.5 313.4V321.7M2939.5 315.0V321.5M2940.5 315.8V321.1M2941.5 315.4V323.0M2942.5 315.7V322.3M2943.5 314.5V320.8M2944.5 315.1V322.5M2945.5 315.1V321.0M2946.5 313.6V323.8M2947.5 314.4V321.7M2948.5 315.3V322.6M2949.5 314.6V330.1M2950.5 314.9V320.9M2951.5 315.2V321.6M2952.5 314.4V335.0M2953.5 314.0V320.8M2954.5 312.4V321.6M2955.5 314.5V321.3M2956.5 315.3V323.4M2957.5 313.9V320.7M2958.5 315.6V321.3M2959.5 313.6V321.1M2960.5 311.4V322.9M2961.5 315.4V322.3M2962.5 313.4V322.0M2963.5 315.4V321.5M2964.5 312.3V321.4M2965.5 313.8V322.3M2966.5 313.6V320.8M2967.5 314.3V321.7M2968.5 315.7V322.4M2969.5 312.3V321.7M2970.5 314.9V325.9M2971.5 314.2V322.7M2972.5 315.7V323.2M2973.5 315.8V320.9M2974.5 315.4V322.3M2975.5 315.4V321.1M2976.5 315.1V322.8M2977.5 313.5V321.3M2978.5 314.9V321.9M2979.5 315.5V321.4M2980.5 312.8V321.0M2981.5 313.3V325.1M2982.5 315.3V321.1M2983.5 315.9V322.3M2984.5 314.6V322.9M2985.5 315.2V321.3M2986.5 314.2V322.0M2987.5 315.5V321.7M2988.5 315.9V320.9M2989.5 313.8V322.0M2990.5 314.3V321.7M2991.5 312.3V323.1M2992.5 314.4V322.0M2993.5 314.5V323.9M2994.5 314.5V321.5M2995.5 314.2V322.7M2996.5 315.8V321.4M2997.5 313.7V323.2M2998.5 315.7V322.0M2999.5 312.3V326.0M3000.5 313.7V321.6M3001.5 313.1V321.5M3002.5 313.2V322.4M3003.5 313.3V321.9M3004.5 315.6V325.0M3005.5 313.9V323.7M3006.5 312.7V321.9M3007.5 314.6V321.0M3008.5 315.9V322.2M3009.5 312.8V321.4M3010.5 315.9V321.0M3011.5 315.6V320.9M3012.5 310.2V324.7M3013.5 315.7V320.9M3014.5 315.4V321.0M3015.5 315.0V321.8M3016.5 313.8V320.7M3017.5 315.4V320.9M3018.5 315.1V321.0M3019.5 315.3V321.0M3020.5 310.8V321.8M3021.5 314.1V321.7M3022.5 313.4V322.5M3023.5 315.5V321.8M3024.5 315.5V320.7M3025.5 304.1V321.1M3026.5 314.5V321.4M3027.5 314.2V324.3M3028.5 315.4V323.0M3029.5 312.7V322.8M3030.5 313.3V321.5M3031.5 314.6V322.1M3032.5 315.6V322.8M3033.5 313.8V320.9M3034.5 315.0V322.3M3035.5 314.8V321.0M3036.5 315.2V320.8M3037.5 313.5V321.1M3038.5 312.7V322.8M3039.5 315.4V322.2M3040.5 314.0V322.4M3041.5 314.0V322.1M3042.5 315.5V321.2M3043.5 315.9V321.5M3044.5 314.6V323.1M3045.5 313.6V321.4M3046.5 314.5V321.4M3047.5 315.1V321.1M3048.5 313.0V320.7M3049.5 313.3V321.4M3050.5 314.9V320.7M3051.5 315.2V322.5M3052.5 314.5V320.7M1067.5 296.0V338.0M1068.5 293.8V340.8M1069.5 300.0V336.0M1066.5 306.0V333.0M1070.5 306.0V331.0M404.5 316.0V336.7M1127.5 315.0V335.0M2012.5 304.4V320.0M1962.5 316.0V332.6M2361.5 316.0V327.0M1296.5 306.0V320.0M1190.5 316.0V332.0M1316.5 312.0V331.0M1500.5 306.0V322.0M1530.5 306.0V322.0M2305.5 306.0V322.0"/>
<g><rect x="222.5" y="23.4" width="2835.0" height="590.0" fill="none" stroke="#000" stroke-width="7"/><rect x="222.5" y="672.8" width="2835.0" height="1417.7" fill="none" stroke="#000" stroke-width="7"/><path d="M3053.5 23.4V613.4M3053.5 672.8V2090.5" stroke="#000" stroke-width="1"/></g>
<g font-family="Liberation Sans, Arial, sans-serif" fill="#000"><text x="180.3" y="41.4" font-size="50" text-anchor="end">10</text><text x="180.3" y="100.4" font-size="50" text-anchor="end">8</text><text x="180.3" y="159.4" font-size="50" text-anchor="end">6</text><text x="180.3" y="218.4" font-size="50" text-anchor="end">4</text><text x="180.3" y="277.4" font-size="50" text-anchor="end">2</text><text x="180.3" y="336.4" font-size="50" text-anchor="end">0</text><text x="180.3" y="395.4" font-size="50" text-anchor="end"><tspan dy="5.5">−</tspan><tspan dy="-5.5">2</tspan></text><text x="180.3" y="454.4" font-size="50" text-anchor="end"><tspan dy="5.5">−</tspan><tspan dy="-5.5">4</tspan></text><text x="180.3" y="513.4" font-size="50" text-anchor="end"><tspan dy="5.5">−</tspan><tspan dy="-5.5">6</tspan></text><text x="180.3" y="572.4" font-size="50" text-anchor="end"><tspan dy="5.5">−</tspan><tspan dy="-5.5">8</tspan></text><text x="180.3" y="631.4" font-size="50" text-anchor="end"><tspan dy="5.5">−</tspan><tspan dy="-5.5">10</tspan></text><text x="179" y="941.7" font-size="50" text-anchor="end">10<tspan font-size="35" dy="-17.7">1</tspan></text><text x="179" y="1296.2" font-size="50" text-anchor="end">10<tspan font-size="35" dy="-17.7">0</tspan></text><text x="179" y="1650.6" font-size="50" text-anchor="end">10<tspan font-size="35" dy="-13.8">−</tspan><tspan font-size="35" dy="-3.9">1</tspan></text><text x="179" y="2005.0" font-size="50" text-anchor="end">10<tspan font-size="35" dy="-13.8">−</tspan><tspan font-size="35" dy="-3.9">2</tspan></text><text x="222.5" y="2168.0" font-size="50" text-anchor="middle">06:00</text><text x="695.0" y="2168.0" font-size="50" text-anchor="middle">07:00</text><text x="1167.5" y="2168.0" font-size="50" text-anchor="middle">08:00</text><text x="1640.0" y="2168.0" font-size="50" text-anchor="middle">09:00</text><text x="2112.5" y="2168.0" font-size="50" text-anchor="middle">10:00</text><text x="2585.0" y="2168.0" font-size="50" text-anchor="middle">11:00</text><text x="3057.5" y="2168.0" font-size="50" text-anchor="middle">12:00</text><text x="1640.0" y="2231.3" font-size="58.33" text-anchor="middle">2026<tspan dy="6.4">−</tspan><tspan dy="-6.4">03</tspan><tspan dy="6.4">−</tspan><tspan dy="-6.4">02</tspan></text><text transform="translate(62.9,317.2) rotate(-90)" font-size="66.67" text-anchor="middle">Amplitude [Pa]</text><text transform="translate(48.9,1381) rotate(-90)" font-size="66.67" text-anchor="middle">Frequency [Hz]</text></g>
</svg>
</body></html>
